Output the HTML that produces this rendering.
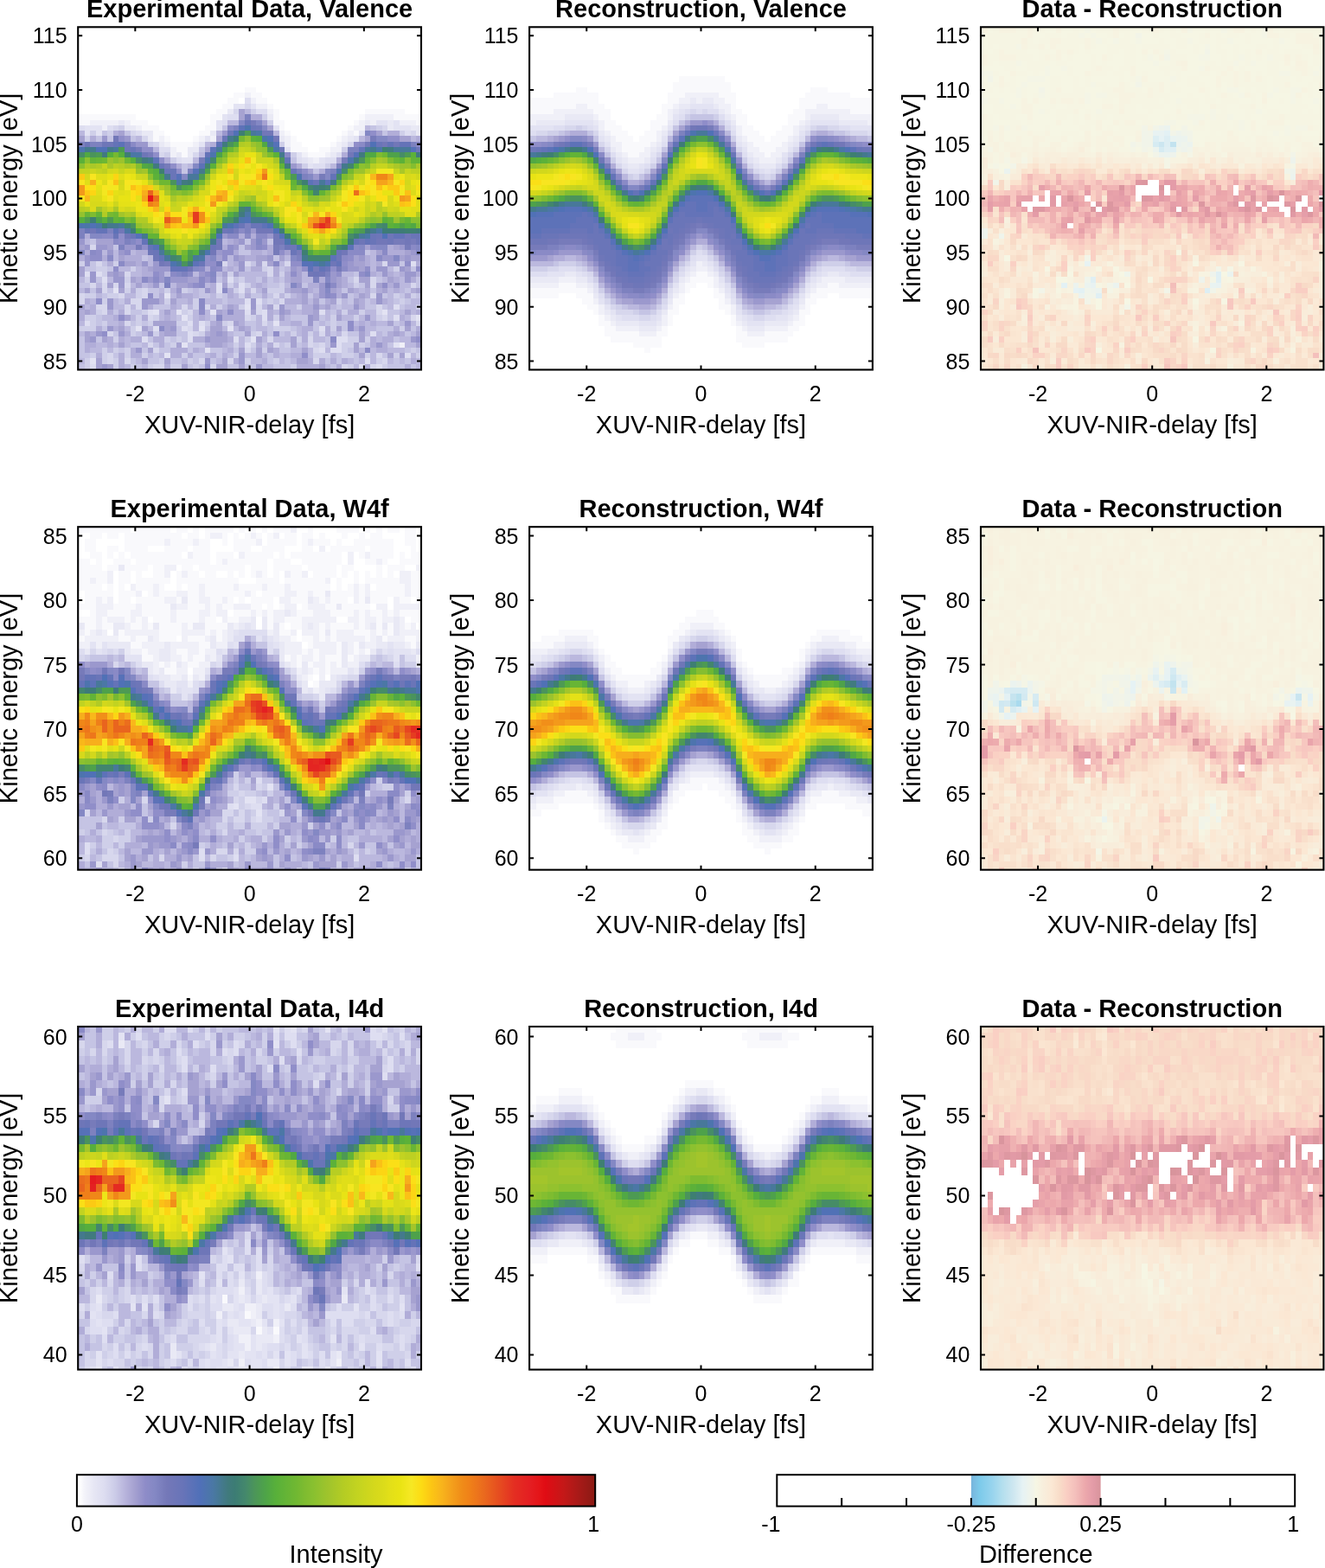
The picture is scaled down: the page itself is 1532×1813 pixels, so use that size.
<!DOCTYPE html>
<html><head><meta charset="utf-8"><title>Streaking spectrograms</title>
<style>
html,body{margin:0;padding:0;background:#fff;}
svg{display:block;}
.tk{font-family:"Liberation Sans",Arial,sans-serif;font-size:25px;fill:#000;}
.lb{font-family:"Liberation Sans",Arial,sans-serif;font-size:29px;fill:#000;}
.tt{font-family:"Liberation Sans",Arial,sans-serif;font-size:29px;font-weight:bold;fill:#000;}
</style></head><body>
<svg width="1532" height="1813" viewBox="0 0 1532 1813" shape-rendering="crispEdges">
<rect width="1532" height="1813" fill="#fff"/>
<g shape-rendering="crispEdges">
<clipPath id="c00"><rect x="90.20" y="31.30" width="396.80" height="396.20"/></clipPath>
<g clip-path="url(#c00)"><g transform="translate(84.587 25.675) scale(6.61333 6.27000)">
<rect x="0" y="0" width="61" height="65" fill="#bbb8de"/>
<path fill="#ffffff" d="M0 0h61v1h-61zM0 1h61v1h-61zM0 2h61v1h-61zM0 3h61v1h-61zM0 4h61v1h-61zM0 5h61v1h-61zM0 6h61v1h-61zM0 7h61v1h-61zM0 8h61v1h-61zM0 9h61v1h-61zM0 10h61v1h-61zM0 11h61v1h-61zM0 12h30v1h-30zM32 12h29v1h-29zM0 13h28v1h-28zM33 13h28v1h-28zM0 14h27v1h-27zM29 14h1v1h-1zM34 14h27v1h-27zM0 15h26v1h-26zM35 15h26v1h-26zM0 16h25v1h-25zM36 16h15v1h-15zM58 16h3v1h-3zM11 17h13v1h-13zM36 17h14v1h-14zM13 18h11v1h-11zM37 18h12v1h-12zM15 19h8v1h-8zM37 19h11v1h-11zM16 20h6v1h-6zM38 20h9v1h-9zM17 21h4v1h-4zM39 21h7v1h-7zM40 22h5v1h-5zM41 23h2v1h-2z"/>
<path fill="#f9f9fc" d="M30 12h2v1h-2zM28 13h2v1h-2zM31 13h2v1h-2zM27 14h2v1h-2zM32 14h2v1h-2zM26 15h2v1h-2zM34 15h1v1h-1zM25 16h2v1h-2zM35 16h1v1h-1zM51 16h7v1h-7zM0 17h11v1h-11zM24 17h2v1h-2zM35 17h1v1h-1zM50 17h1v1h-1zM56 17h5v1h-5zM0 18h3v1h-3zM10 18h3v1h-3zM24 18h1v1h-1zM35 18h2v1h-2zM49 18h1v1h-1zM60 18h1v1h-1zM12 19h3v1h-3zM23 19h2v1h-2zM36 19h1v1h-1zM48 19h1v1h-1zM14 20h2v1h-2zM22 20h2v1h-2zM37 20h1v1h-1zM47 20h1v1h-1zM49 20h1v1h-1zM14 21h1v1h-1zM16 21h1v1h-1zM21 21h1v1h-1zM38 21h1v1h-1zM46 21h1v1h-1zM17 22h4v1h-4zM38 22h2v1h-2zM45 22h1v1h-1zM18 23h2v1h-2zM38 23h3v1h-3zM43 23h2v1h-2zM19 24h1v1h-1zM41 24h3v1h-3z"/>
<path fill="#f0f0f8" d="M30 13h1v1h-1zM31 14h1v1h-1zM32 15h2v1h-2zM34 16h1v1h-1zM51 17h5v1h-5zM3 18h5v1h-5zM9 18h1v1h-1zM50 18h1v1h-1zM52 18h1v1h-1zM57 18h3v1h-3zM0 19h1v1h-1zM5 19h1v1h-1zM11 19h1v1h-1zM49 19h2v1h-2zM36 20h1v1h-1zM48 20h1v1h-1zM15 21h1v1h-1zM22 21h1v1h-1zM24 21h1v1h-1zM37 21h1v1h-1zM47 21h1v1h-1zM16 22h1v1h-1zM21 22h1v1h-1zM37 22h1v1h-1zM46 22h1v1h-1zM17 23h1v1h-1zM45 23h2v1h-2zM17 24h1v1h-1zM40 24h1v1h-1zM44 24h1v1h-1zM42 25h1v1h-1zM57 59h1v1h-1z"/>
<path fill="#dedef1" d="M30 14h1v1h-1zM32 16h2v1h-2zM27 17h2v1h-2zM26 18h1v1h-1zM1 19h1v1h-1zM6 19h1v1h-1zM0 20h1v1h-1zM11 20h1v1h-1zM58 20h1v1h-1zM15 23h2v1h-2zM46 24h1v1h-1zM18 25h1v1h-1zM39 25h1v1h-1zM44 25h2v1h-2zM42 26h2v1h-2zM59 44h1v1h-1zM2 46h1v1h-1zM4 46h1v1h-1zM5 47h1v1h-1zM27 47h1v1h-1zM25 48h1v1h-1zM29 48h1v1h-1zM25 49h1v1h-1zM29 49h1v1h-1zM30 51h1v1h-1zM32 51h1v1h-1zM56 52h1v1h-1zM13 53h1v1h-1zM30 53h1v1h-1zM33 53h1v1h-1zM43 53h1v1h-1zM33 54h1v1h-1zM56 54h1v1h-1zM2 55h1v1h-1zM20 55h1v1h-1zM22 55h1v1h-1zM14 56h1v1h-1zM19 56h1v1h-1zM43 56h1v1h-1zM20 57h1v1h-1zM52 57h1v1h-1zM12 58h1v1h-1zM20 58h1v1h-1zM28 58h1v1h-1zM46 58h2v1h-2zM30 59h1v1h-1zM46 59h1v1h-1zM43 60h1v1h-1zM45 60h2v1h-2zM58 61h1v1h-1zM51 62h1v1h-1zM3 63h1v1h-1zM50 63h1v1h-1zM53 63h1v1h-1zM12 64h1v1h-1zM28 64h1v1h-1zM56 64h1v1h-1z"/>
<path fill="#e3e3f3" d="M28 15h2v1h-2zM31 15h1v1h-1zM26 17h1v1h-1zM25 18h1v1h-1zM53 18h2v1h-2zM56 18h1v1h-1zM2 19h3v1h-3zM25 19h1v1h-1zM35 19h1v1h-1zM56 19h3v1h-3zM2 20h1v1h-1zM4 20h1v1h-1zM50 20h1v1h-1zM23 21h1v1h-1zM49 21h1v1h-1zM22 22h1v1h-1zM37 23h1v1h-1zM39 24h1v1h-1zM19 25h2v1h-2zM40 25h1v1h-1zM43 25h1v1h-1zM41 26h1v1h-1zM7 49h1v1h-1zM16 50h1v1h-1zM30 52h1v1h-1zM14 53h1v1h-1zM18 53h1v1h-1zM24 53h1v1h-1zM54 53h1v1h-1zM19 54h1v1h-1zM60 54h1v1h-1zM35 55h1v1h-1zM11 56h1v1h-1zM22 56h1v1h-1zM27 56h1v1h-1zM31 58h1v1h-1zM19 59h1v1h-1zM56 59h1v1h-1zM23 60h1v1h-1zM16 61h1v1h-1zM3 62h1v1h-1z"/>
<path fill="#d7d7ed" d="M30 15h1v1h-1zM28 16h1v1h-1zM7 19h1v1h-1zM54 19h1v1h-1zM10 20h1v1h-1zM59 20h1v1h-1zM12 21h1v1h-1zM14 22h1v1h-1zM48 22h1v1h-1zM15 24h1v1h-1zM21 24h1v1h-1zM3 41h1v1h-1zM4 44h1v1h-1zM26 44h1v1h-1zM30 44h1v1h-1zM33 44h1v1h-1zM37 44h1v1h-1zM54 44h1v1h-1zM34 45h1v1h-1zM9 46h1v1h-1zM34 46h1v1h-1zM49 47h1v1h-1zM52 47h1v1h-1zM3 48h1v1h-1zM5 48h1v1h-1zM7 48h1v1h-1zM9 48h1v1h-1zM52 48h1v1h-1zM59 48h1v1h-1zM5 49h1v1h-1zM12 49h1v1h-1zM31 49h1v1h-1zM0 50h2v1h-2zM8 50h1v1h-1zM12 50h1v1h-1zM35 50h1v1h-1zM52 50h1v1h-1zM1 51h1v1h-1zM10 51h2v1h-2zM36 51h1v1h-1zM4 52h2v1h-2zM9 52h1v1h-1zM11 52h1v1h-1zM19 52h1v1h-1zM23 52h1v1h-1zM32 52h1v1h-1zM35 52h1v1h-1zM53 52h1v1h-1zM5 53h1v1h-1zM9 53h1v1h-1zM20 53h1v1h-1zM32 53h1v1h-1zM53 53h1v1h-1zM13 54h1v1h-1zM30 54h1v1h-1zM54 54h1v1h-1zM59 54h1v1h-1zM9 55h1v1h-1zM27 55h1v1h-1zM33 55h1v1h-1zM60 55h1v1h-1zM20 56h1v1h-1zM6 57h1v1h-1zM21 57h1v1h-1zM32 57h1v1h-1zM43 57h1v1h-1zM47 57h1v1h-1zM34 58h1v1h-1zM41 58h1v1h-1zM13 59h1v1h-1zM35 59h1v1h-1zM41 59h1v1h-1zM43 59h1v1h-1zM14 60h1v1h-1zM30 60h1v1h-1zM42 60h1v1h-1zM6 61h1v1h-1zM53 61h1v1h-1zM6 62h1v1h-1zM9 62h1v1h-1zM22 62h1v1h-1zM27 62h1v1h-1zM42 62h1v1h-1zM54 62h1v1h-1zM14 63h2v1h-2zM24 63h1v1h-1zM47 63h1v1h-1zM52 63h1v1h-1zM11 64h1v1h-1zM20 64h1v1h-1zM38 64h1v1h-1zM44 64h1v1h-1zM59 64h1v1h-1z"/>
<path fill="#e9e9f5" d="M27 16h1v1h-1zM34 17h1v1h-1zM8 18h1v1h-1zM51 18h1v1h-1zM55 18h1v1h-1zM9 19h2v1h-2zM55 19h1v1h-1zM59 19h2v1h-2zM12 20h2v1h-2zM24 20h1v1h-1zM60 20h1v1h-1zM13 21h1v1h-1zM36 21h1v1h-1zM48 21h1v1h-1zM15 22h1v1h-1zM47 22h1v1h-1zM20 23h2v1h-2zM18 24h1v1h-1zM20 24h1v1h-1zM45 24h1v1h-1zM41 25h1v1h-1z"/>
<path fill="#a6a2d1" d="M29 16h1v1h-1zM29 17h1v1h-1zM33 18h1v1h-1zM34 19h1v1h-1zM8 20h1v1h-1zM53 20h1v1h-1zM1 21h1v1h-1zM25 21h1v1h-1zM51 21h1v1h-1zM57 21h2v1h-2zM23 23h1v1h-1zM41 27h1v1h-1zM4 40h3v1h-3zM28 40h1v1h-1zM1 41h1v1h-1zM6 41h1v1h-1zM30 41h1v1h-1zM51 41h1v1h-1zM56 41h1v1h-1zM37 42h1v1h-1zM53 42h1v1h-1zM58 42h1v1h-1zM0 43h1v1h-1zM8 43h1v1h-1zM25 43h1v1h-1zM29 43h1v1h-1zM32 43h2v1h-2zM36 43h1v1h-1zM49 43h1v1h-1zM57 43h1v1h-1zM59 43h2v1h-2zM9 44h2v1h-2zM32 44h1v1h-1zM34 44h1v1h-1zM49 44h2v1h-2zM1 45h1v1h-1zM13 45h1v1h-1zM39 45h1v1h-1zM50 45h1v1h-1zM58 45h1v1h-1zM1 46h1v1h-1zM6 46h1v1h-1zM8 46h1v1h-1zM26 46h1v1h-1zM28 46h1v1h-1zM39 46h1v1h-1zM10 47h1v1h-1zM20 47h2v1h-2zM38 47h2v1h-2zM46 47h1v1h-1zM50 47h2v1h-2zM55 47h1v1h-1zM6 48h1v1h-1zM11 48h1v1h-1zM18 48h2v1h-2zM26 48h1v1h-1zM46 48h1v1h-1zM51 48h1v1h-1zM53 48h1v1h-1zM2 49h1v1h-1zM4 49h1v1h-1zM8 49h1v1h-1zM33 49h1v1h-1zM38 49h2v1h-2zM45 49h1v1h-1zM48 49h1v1h-1zM54 49h1v1h-1zM60 49h1v1h-1zM18 50h1v1h-1zM40 50h1v1h-1zM50 50h1v1h-1zM17 51h1v1h-1zM40 51h1v1h-1zM42 51h1v1h-1zM45 51h1v1h-1zM49 51h1v1h-1zM1 52h1v1h-1zM27 52h1v1h-1zM34 52h1v1h-1zM44 52h1v1h-1zM2 53h1v1h-1zM16 53h1v1h-1zM25 53h1v1h-1zM31 53h1v1h-1zM37 53h1v1h-1zM42 53h1v1h-1zM58 53h1v1h-1zM0 54h1v1h-1zM9 54h1v1h-1zM36 54h1v1h-1zM42 54h1v1h-1zM46 54h1v1h-1zM14 55h4v1h-4zM25 55h1v1h-1zM28 55h1v1h-1zM55 55h1v1h-1zM8 56h1v1h-1zM12 56h1v1h-1zM16 56h1v1h-1zM24 56h2v1h-2zM29 56h1v1h-1zM46 56h1v1h-1zM58 56h1v1h-1zM2 57h1v1h-1zM16 57h2v1h-2zM24 57h1v1h-1zM26 57h1v1h-1zM30 57h1v1h-1zM50 57h1v1h-1zM56 57h1v1h-1zM60 57h1v1h-1zM2 58h1v1h-1zM5 58h1v1h-1zM24 58h3v1h-3zM32 58h1v1h-1zM38 58h1v1h-1zM50 58h1v1h-1zM8 59h1v1h-1zM18 59h1v1h-1zM24 59h2v1h-2zM38 59h1v1h-1zM49 59h1v1h-1zM60 59h1v1h-1zM13 60h1v1h-1zM29 60h1v1h-1zM32 60h1v1h-1zM34 60h1v1h-1zM40 60h1v1h-1zM49 60h1v1h-1zM32 61h1v1h-1zM50 61h1v1h-1zM55 61h1v1h-1zM57 61h1v1h-1zM4 62h1v1h-1zM12 62h1v1h-1zM16 62h1v1h-1zM26 62h1v1h-1zM39 62h2v1h-2zM4 63h1v1h-1zM6 63h1v1h-1zM19 63h1v1h-1zM25 63h2v1h-2zM29 63h1v1h-1zM43 63h1v1h-1zM6 64h1v1h-1zM14 64h1v1h-1zM55 64h1v1h-1z"/>
<path fill="#cfcfe9" d="M31 16h1v1h-1zM33 17h1v1h-1zM34 18h1v1h-1zM8 19h1v1h-1zM53 19h1v1h-1zM3 20h1v1h-1zM6 20h1v1h-1zM57 20h1v1h-1zM2 21h1v1h-1zM13 22h1v1h-1zM36 22h1v1h-1zM47 23h1v1h-1zM16 24h1v1h-1zM38 24h1v1h-1zM17 25h1v1h-1zM40 26h1v1h-1zM44 26h1v1h-1zM0 41h1v1h-1zM1 44h1v1h-1zM7 44h1v1h-1zM0 45h1v1h-1zM4 45h2v1h-2zM10 45h1v1h-1zM33 45h1v1h-1zM56 45h1v1h-1zM0 46h1v1h-1zM5 46h1v1h-1zM27 46h1v1h-1zM36 46h1v1h-1zM2 47h1v1h-1zM9 47h1v1h-1zM29 47h1v1h-1zM27 48h1v1h-1zM30 48h1v1h-1zM36 48h1v1h-1zM49 48h1v1h-1zM9 49h1v1h-1zM11 49h1v1h-1zM16 49h1v1h-1zM19 49h1v1h-1zM28 49h1v1h-1zM34 49h3v1h-3zM2 50h2v1h-2zM6 50h2v1h-2zM11 50h1v1h-1zM25 50h1v1h-1zM29 50h1v1h-1zM37 50h1v1h-1zM56 50h1v1h-1zM59 50h1v1h-1zM0 51h1v1h-1zM5 51h1v1h-1zM16 51h1v1h-1zM21 51h1v1h-1zM34 51h1v1h-1zM46 51h1v1h-1zM57 51h1v1h-1zM21 52h1v1h-1zM25 52h1v1h-1zM29 52h1v1h-1zM39 52h1v1h-1zM60 52h1v1h-1zM4 53h1v1h-1zM12 53h1v1h-1zM19 53h1v1h-1zM47 53h1v1h-1zM50 53h1v1h-1zM2 54h2v1h-2zM11 54h1v1h-1zM14 54h1v1h-1zM20 54h1v1h-1zM31 54h1v1h-1zM35 54h1v1h-1zM45 54h1v1h-1zM49 54h1v1h-1zM53 54h1v1h-1zM3 55h1v1h-1zM5 55h1v1h-1zM11 55h1v1h-1zM13 55h1v1h-1zM18 55h2v1h-2zM23 55h1v1h-1zM26 55h1v1h-1zM45 55h1v1h-1zM1 56h3v1h-3zM10 56h1v1h-1zM35 56h3v1h-3zM45 56h1v1h-1zM57 56h1v1h-1zM10 57h1v1h-1zM14 57h1v1h-1zM22 57h1v1h-1zM31 57h1v1h-1zM38 57h1v1h-1zM41 57h1v1h-1zM7 58h1v1h-1zM16 58h1v1h-1zM18 58h1v1h-1zM30 58h1v1h-1zM39 58h1v1h-1zM48 58h2v1h-2zM51 58h1v1h-1zM17 59h1v1h-1zM28 59h1v1h-1zM31 59h1v1h-1zM37 59h1v1h-1zM42 59h1v1h-1zM47 59h2v1h-2zM50 59h1v1h-1zM5 60h1v1h-1zM7 60h1v1h-1zM9 60h1v1h-1zM33 60h1v1h-1zM47 60h1v1h-1zM59 60h1v1h-1zM3 61h1v1h-1zM5 61h1v1h-1zM9 61h1v1h-1zM12 61h1v1h-1zM19 61h1v1h-1zM28 61h1v1h-1zM42 61h3v1h-3zM47 61h2v1h-2zM51 61h1v1h-1zM56 61h1v1h-1zM60 61h1v1h-1zM0 62h1v1h-1zM2 62h1v1h-1zM5 62h1v1h-1zM7 62h1v1h-1zM15 62h1v1h-1zM20 62h1v1h-1zM30 62h1v1h-1zM35 62h1v1h-1zM53 62h1v1h-1zM2 63h1v1h-1zM7 63h1v1h-1zM10 63h1v1h-1zM13 63h1v1h-1zM17 63h2v1h-2zM21 63h1v1h-1zM38 63h1v1h-1zM48 63h1v1h-1zM54 63h1v1h-1zM17 64h2v1h-2zM29 64h2v1h-2zM37 64h1v1h-1zM40 64h1v1h-1zM43 64h1v1h-1zM50 64h1v1h-1zM52 64h2v1h-2z"/>
<path fill="#7d81bf" d="M30 17h1v1h-1zM28 19h1v1h-1zM1 22h1v1h-1zM3 22h2v1h-2zM59 22h1v1h-1zM48 23h2v1h-2zM46 26h1v1h-1zM20 27h1v1h-1zM39 27h1v1h-1zM45 27h1v1h-1zM40 28h1v1h-1zM30 37h1v1h-1zM1 38h1v1h-1zM6 38h1v1h-1zM30 38h1v1h-1zM1 39h1v1h-1zM9 40h1v1h-1zM8 41h1v1h-1zM36 41h1v1h-1zM39 43h1v1h-1zM19 46h1v1h-1zM44 46h1v1h-1zM42 47h1v1h-1zM16 48h1v1h-1z"/>
<path fill="#b1add8" d="M31 17h2v1h-2zM7 20h1v1h-1zM55 20h2v1h-2zM3 21h1v1h-1zM60 21h1v1h-1zM24 22h1v1h-1zM47 24h1v1h-1zM16 25h1v1h-1zM46 25h1v1h-1zM18 26h1v1h-1zM39 26h1v1h-1zM43 27h1v1h-1zM2 39h1v1h-1zM29 39h1v1h-1zM31 39h1v1h-1zM27 40h1v1h-1zM26 41h1v1h-1zM34 41h1v1h-1zM55 41h1v1h-1zM2 42h1v1h-1zM11 42h2v1h-2zM28 42h1v1h-1zM31 42h2v1h-2zM34 42h1v1h-1zM55 42h3v1h-3zM1 43h1v1h-1zM5 43h1v1h-1zM9 43h3v1h-3zM30 43h2v1h-2zM51 43h1v1h-1zM0 44h1v1h-1zM6 44h1v1h-1zM11 44h1v1h-1zM28 44h1v1h-1zM51 44h1v1h-1zM53 44h1v1h-1zM60 44h1v1h-1zM12 45h1v1h-1zM23 45h1v1h-1zM27 45h1v1h-1zM31 45h2v1h-2zM35 45h1v1h-1zM12 46h2v1h-2zM35 46h1v1h-1zM37 46h1v1h-1zM52 46h1v1h-1zM55 46h1v1h-1zM57 46h1v1h-1zM60 46h1v1h-1zM11 47h1v1h-1zM26 47h1v1h-1zM33 47h1v1h-1zM37 47h1v1h-1zM43 47h1v1h-1zM47 47h1v1h-1zM56 47h1v1h-1zM59 47h1v1h-1zM13 48h1v1h-1zM24 48h1v1h-1zM32 48h1v1h-1zM41 48h2v1h-2zM47 48h1v1h-1zM55 48h1v1h-1zM10 49h1v1h-1zM17 49h1v1h-1zM24 49h1v1h-1zM27 49h1v1h-1zM37 49h1v1h-1zM41 49h1v1h-1zM46 49h1v1h-1zM49 49h1v1h-1zM51 49h1v1h-1zM53 49h1v1h-1zM56 49h1v1h-1zM59 49h1v1h-1zM15 50h1v1h-1zM19 50h2v1h-2zM27 50h1v1h-1zM30 50h1v1h-1zM33 50h1v1h-1zM39 50h1v1h-1zM42 50h1v1h-1zM46 50h1v1h-1zM51 50h1v1h-1zM58 50h1v1h-1zM2 51h1v1h-1zM9 51h1v1h-1zM15 51h1v1h-1zM20 51h1v1h-1zM37 51h3v1h-3zM44 51h1v1h-1zM50 51h1v1h-1zM54 51h1v1h-1zM3 52h1v1h-1zM13 52h1v1h-1zM17 52h1v1h-1zM24 52h1v1h-1zM28 52h1v1h-1zM40 52h2v1h-2zM43 52h1v1h-1zM50 52h1v1h-1zM0 53h2v1h-2zM3 53h1v1h-1zM6 53h1v1h-1zM8 53h1v1h-1zM26 53h1v1h-1zM28 53h2v1h-2zM34 53h1v1h-1zM40 53h2v1h-2zM46 53h1v1h-1zM48 53h2v1h-2zM60 53h1v1h-1zM1 54h1v1h-1zM7 54h1v1h-1zM12 54h1v1h-1zM16 54h1v1h-1zM22 54h1v1h-1zM26 54h4v1h-4zM34 54h1v1h-1zM57 54h1v1h-1zM8 55h1v1h-1zM24 55h1v1h-1zM29 55h1v1h-1zM38 55h2v1h-2zM50 55h1v1h-1zM52 55h1v1h-1zM0 56h1v1h-1zM4 56h1v1h-1zM7 56h1v1h-1zM30 56h1v1h-1zM40 56h2v1h-2zM44 56h1v1h-1zM49 56h1v1h-1zM56 56h1v1h-1zM60 56h1v1h-1zM3 57h1v1h-1zM9 57h1v1h-1zM15 57h1v1h-1zM23 57h1v1h-1zM33 57h1v1h-1zM40 57h1v1h-1zM44 57h1v1h-1zM55 57h1v1h-1zM57 57h1v1h-1zM0 58h1v1h-1zM6 58h1v1h-1zM8 58h1v1h-1zM10 58h2v1h-2zM14 58h2v1h-2zM21 58h2v1h-2zM27 58h1v1h-1zM40 58h1v1h-1zM52 58h1v1h-1zM54 58h2v1h-2zM0 59h1v1h-1zM2 59h2v1h-2zM6 59h1v1h-1zM15 59h1v1h-1zM23 59h1v1h-1zM26 59h1v1h-1zM32 59h1v1h-1zM34 59h1v1h-1zM52 59h1v1h-1zM54 59h1v1h-1zM2 60h1v1h-1zM10 60h1v1h-1zM17 60h3v1h-3zM21 60h1v1h-1zM27 60h1v1h-1zM35 60h1v1h-1zM53 60h2v1h-2zM4 61h1v1h-1zM8 61h1v1h-1zM10 61h2v1h-2zM17 61h2v1h-2zM20 61h1v1h-1zM24 61h1v1h-1zM26 61h1v1h-1zM35 61h1v1h-1zM38 61h2v1h-2zM8 62h1v1h-1zM28 62h1v1h-1zM33 62h1v1h-1zM41 62h1v1h-1zM43 62h1v1h-1zM45 62h1v1h-1zM47 62h1v1h-1zM59 62h1v1h-1zM8 63h1v1h-1zM16 63h1v1h-1zM39 63h4v1h-4zM46 63h1v1h-1zM51 63h1v1h-1zM58 63h1v1h-1zM5 64h1v1h-1zM16 64h1v1h-1zM36 64h1v1h-1zM46 64h1v1h-1zM58 64h1v1h-1z"/>
<path fill="#8488c4" d="M29 18h1v1h-1zM32 18h1v1h-1zM33 19h1v1h-1zM51 20h1v1h-1zM53 21h2v1h-2zM21 26h1v1h-1zM44 27h1v1h-1zM19 28h1v1h-1zM41 28h1v1h-1zM44 28h1v1h-1zM3 39h2v1h-2zM10 40h1v1h-1zM32 40h1v1h-1zM50 41h1v1h-1zM53 41h2v1h-2zM60 41h1v1h-1zM1 42h1v1h-1zM60 42h1v1h-1zM24 43h1v1h-1zM38 43h1v1h-1zM56 43h1v1h-1zM21 45h1v1h-1zM18 46h1v1h-1zM24 46h1v1h-1zM51 46h1v1h-1zM16 47h1v1h-1zM44 47h1v1h-1zM38 48h1v1h-1zM44 49h1v1h-1z"/>
<path fill="#6a75b8" d="M30 18h1v1h-1zM31 19h1v1h-1zM26 21h1v1h-1zM53 22h1v1h-1zM10 23h1v1h-1zM15 26h1v1h-1zM16 27h2v1h-2zM38 27h1v1h-1zM17 28h1v1h-1zM42 29h1v1h-1zM29 37h1v1h-1zM31 37h2v1h-2zM2 38h1v1h-1zM27 38h1v1h-1zM7 39h1v1h-1zM10 39h1v1h-1zM52 39h1v1h-1zM59 39h2v1h-2zM52 40h1v1h-1zM24 41h1v1h-1zM14 42h1v1h-1zM38 42h1v1h-1zM46 42h1v1h-1zM22 44h1v1h-1z"/>
<path fill="#777bba" d="M31 18h1v1h-1zM52 21h1v1h-1zM11 23h1v1h-1zM13 24h1v1h-1zM22 25h1v1h-1zM47 25h1v1h-1zM16 26h1v1h-1zM43 28h1v1h-1zM28 38h1v1h-1zM56 40h2v1h-2zM59 40h1v1h-1zM11 41h1v1h-1zM35 41h1v1h-1zM58 41h1v1h-1zM35 42h1v1h-1zM39 42h1v1h-1zM16 44h1v1h-1zM25 44h1v1h-1zM42 45h1v1h-1zM46 45h1v1h-1zM44 48h1v1h-1z"/>
<path fill="#c5c4e4" d="M26 19h1v1h-1zM52 19h1v1h-1zM5 20h1v1h-1zM9 20h1v1h-1zM54 20h1v1h-1zM4 21h1v1h-1zM6 21h1v1h-1zM10 21h1v1h-1zM22 23h1v1h-1zM38 25h1v1h-1zM19 26h1v1h-1zM19 27h1v1h-1zM42 27h1v1h-1zM3 40h1v1h-1zM30 40h1v1h-1zM34 40h1v1h-1zM7 41h1v1h-1zM29 41h1v1h-1zM29 42h2v1h-2zM51 42h1v1h-1zM12 43h1v1h-1zM35 43h1v1h-1zM3 44h1v1h-1zM5 44h1v1h-1zM31 44h1v1h-1zM57 44h1v1h-1zM2 45h2v1h-2zM6 45h1v1h-1zM30 45h1v1h-1zM36 45h1v1h-1zM59 45h1v1h-1zM49 46h1v1h-1zM4 47h1v1h-1zM25 47h1v1h-1zM28 47h1v1h-1zM32 47h1v1h-1zM34 47h1v1h-1zM36 47h1v1h-1zM48 47h1v1h-1zM53 47h1v1h-1zM60 47h1v1h-1zM1 48h2v1h-2zM15 48h1v1h-1zM34 48h2v1h-2zM40 48h1v1h-1zM50 48h1v1h-1zM60 48h1v1h-1zM3 49h1v1h-1zM6 49h1v1h-1zM13 49h2v1h-2zM20 49h1v1h-1zM22 49h1v1h-1zM47 49h1v1h-1zM52 49h1v1h-1zM58 49h1v1h-1zM5 50h1v1h-1zM14 50h1v1h-1zM22 50h2v1h-2zM26 50h1v1h-1zM31 50h2v1h-2zM34 50h1v1h-1zM41 50h1v1h-1zM48 50h1v1h-1zM54 50h1v1h-1zM57 50h1v1h-1zM60 50h1v1h-1zM8 51h1v1h-1zM26 51h1v1h-1zM33 51h1v1h-1zM35 51h1v1h-1zM43 51h1v1h-1zM48 51h1v1h-1zM51 51h1v1h-1zM56 51h1v1h-1zM58 51h1v1h-1zM0 52h1v1h-1zM14 52h3v1h-3zM46 52h1v1h-1zM51 52h2v1h-2zM54 52h1v1h-1zM57 52h1v1h-1zM7 53h1v1h-1zM10 53h2v1h-2zM45 53h1v1h-1zM55 53h2v1h-2zM4 54h1v1h-1zM18 54h1v1h-1zM24 54h1v1h-1zM38 54h3v1h-3zM43 54h1v1h-1zM55 54h1v1h-1zM0 55h1v1h-1zM4 55h1v1h-1zM10 55h1v1h-1zM12 55h1v1h-1zM30 55h2v1h-2zM34 55h1v1h-1zM40 55h1v1h-1zM42 55h1v1h-1zM44 55h1v1h-1zM46 55h2v1h-2zM56 55h1v1h-1zM5 56h1v1h-1zM18 56h1v1h-1zM23 56h1v1h-1zM31 56h1v1h-1zM34 56h1v1h-1zM38 56h1v1h-1zM42 56h1v1h-1zM47 56h1v1h-1zM53 56h3v1h-3zM59 56h1v1h-1zM0 57h1v1h-1zM7 57h1v1h-1zM11 57h1v1h-1zM18 57h2v1h-2zM28 57h2v1h-2zM34 57h1v1h-1zM36 57h1v1h-1zM45 57h1v1h-1zM48 57h2v1h-2zM54 57h1v1h-1zM58 57h1v1h-1zM1 58h1v1h-1zM4 58h1v1h-1zM13 58h1v1h-1zM17 58h1v1h-1zM19 58h1v1h-1zM44 58h1v1h-1zM56 58h1v1h-1zM1 59h1v1h-1zM10 59h2v1h-2zM14 59h1v1h-1zM16 59h1v1h-1zM20 59h3v1h-3zM33 59h1v1h-1zM36 59h1v1h-1zM39 59h1v1h-1zM44 59h1v1h-1zM51 59h1v1h-1zM55 59h1v1h-1zM1 60h1v1h-1zM8 60h1v1h-1zM12 60h1v1h-1zM15 60h2v1h-2zM20 60h1v1h-1zM24 60h2v1h-2zM28 60h1v1h-1zM31 60h1v1h-1zM36 60h2v1h-2zM48 60h1v1h-1zM58 60h1v1h-1zM60 60h1v1h-1zM0 61h3v1h-3zM7 61h1v1h-1zM14 61h1v1h-1zM21 61h2v1h-2zM25 61h1v1h-1zM34 61h1v1h-1zM46 61h1v1h-1zM49 61h1v1h-1zM54 61h1v1h-1zM10 62h1v1h-1zM13 62h2v1h-2zM17 62h2v1h-2zM21 62h1v1h-1zM24 62h1v1h-1zM34 62h1v1h-1zM37 62h1v1h-1zM44 62h1v1h-1zM46 62h1v1h-1zM49 62h1v1h-1zM56 62h1v1h-1zM58 62h1v1h-1zM0 63h2v1h-2zM11 63h1v1h-1zM20 63h1v1h-1zM22 63h1v1h-1zM27 63h2v1h-2zM30 63h2v1h-2zM35 63h3v1h-3zM45 63h1v1h-1zM55 63h3v1h-3zM59 63h1v1h-1zM0 64h5v1h-5zM7 64h1v1h-1zM13 64h1v1h-1zM15 64h1v1h-1zM21 64h1v1h-1zM23 64h1v1h-1zM25 64h1v1h-1zM54 64h1v1h-1z"/>
<path fill="#8a8ac6" d="M27 19h1v1h-1zM10 22h1v1h-1zM50 22h1v1h-1zM60 22h1v1h-1zM37 24h1v1h-1zM29 38h1v1h-1zM5 39h2v1h-2zM27 39h2v1h-2zM30 39h1v1h-1zM32 39h2v1h-2zM7 40h1v1h-1zM32 41h1v1h-1zM49 41h1v1h-1zM52 41h1v1h-1zM59 41h1v1h-1zM3 42h1v1h-1zM48 42h3v1h-3zM54 42h1v1h-1zM6 43h1v1h-1zM47 43h1v1h-1zM53 43h1v1h-1zM8 44h1v1h-1zM35 44h1v1h-1zM22 45h1v1h-1zM24 45h1v1h-1zM47 45h1v1h-1zM17 46h1v1h-1zM20 46h1v1h-1zM12 47h1v1h-1zM14 47h1v1h-1zM22 47h1v1h-1zM24 47h1v1h-1zM22 48h1v1h-1zM45 48h1v1h-1zM26 49h1v1h-1zM44 50h1v1h-1zM22 51h1v1h-1zM22 52h1v1h-1zM25 54h1v1h-1zM15 56h1v1h-1zM45 58h1v1h-1zM51 60h1v1h-1z"/>
<path fill="#5d72b8" d="M29 19h1v1h-1zM8 22h1v1h-1zM25 22h1v1h-1zM24 23h1v1h-1zM14 25h1v1h-1zM22 26h1v1h-1zM41 29h1v1h-1zM44 29h1v1h-1zM28 37h1v1h-1zM33 37h1v1h-1zM7 38h1v1h-1zM48 41h1v1h-1zM45 43h1v1h-1zM21 44h1v1h-1zM41 45h1v1h-1z"/>
<path fill="#4d74ae" d="M30 19h1v1h-1zM1 23h1v1h-1zM24 24h1v1h-1zM23 25h1v1h-1zM48 25h1v1h-1zM46 27h1v1h-1zM39 28h1v1h-1zM29 36h1v1h-1zM1 37h1v1h-1zM27 37h1v1h-1zM37 40h1v1h-1zM39 41h1v1h-1zM23 42h1v1h-1zM17 44h1v1h-1zM42 44h1v1h-1zM44 44h1v1h-1z"/>
<path fill="#6e76b8" d="M32 19h1v1h-1zM27 20h1v1h-1zM2 22h1v1h-1zM5 22h2v1h-2zM9 23h1v1h-1zM36 23h1v1h-1zM60 23h1v1h-1zM12 24h1v1h-1zM26 38h1v1h-1zM53 39h1v1h-1zM55 39h1v1h-1zM50 40h1v1h-1zM55 40h1v1h-1zM60 40h1v1h-1zM37 41h2v1h-2zM13 42h1v1h-1zM14 43h1v1h-1zM46 43h1v1h-1zM45 44h1v1h-1zM44 45h1v1h-1zM42 46h1v1h-1z"/>
<path fill="#9b98cd" d="M26 20h1v1h-1zM0 21h1v1h-1zM5 21h1v1h-1zM9 21h1v1h-1zM11 22h2v1h-2zM38 26h1v1h-1zM42 28h1v1h-1zM31 38h1v1h-1zM26 39h1v1h-1zM34 39h1v1h-1zM0 40h2v1h-2zM29 40h1v1h-1zM31 40h1v1h-1zM33 40h1v1h-1zM2 41h1v1h-1zM4 41h2v1h-2zM9 41h2v1h-2zM28 41h1v1h-1zM31 41h1v1h-1zM57 41h1v1h-1zM6 42h1v1h-1zM8 42h1v1h-1zM25 42h1v1h-1zM59 42h1v1h-1zM2 43h1v1h-1zM28 43h1v1h-1zM34 43h1v1h-1zM50 43h1v1h-1zM54 43h2v1h-2zM58 43h1v1h-1zM2 44h1v1h-1zM12 44h1v1h-1zM14 44h1v1h-1zM29 44h1v1h-1zM48 44h1v1h-1zM55 44h2v1h-2zM14 45h3v1h-3zM29 45h1v1h-1zM38 45h1v1h-1zM48 45h2v1h-2zM53 45h2v1h-2zM57 45h1v1h-1zM3 46h1v1h-1zM7 46h1v1h-1zM15 46h1v1h-1zM22 46h1v1h-1zM45 46h1v1h-1zM54 46h1v1h-1zM58 46h2v1h-2zM0 47h1v1h-1zM3 47h1v1h-1zM7 47h2v1h-2zM13 47h1v1h-1zM15 47h1v1h-1zM17 47h3v1h-3zM23 47h1v1h-1zM45 47h1v1h-1zM58 47h1v1h-1zM0 48h1v1h-1zM8 48h1v1h-1zM14 48h1v1h-1zM20 48h1v1h-1zM39 48h1v1h-1zM43 48h1v1h-1zM56 48h1v1h-1zM18 49h1v1h-1zM23 49h1v1h-1zM40 49h1v1h-1zM43 49h1v1h-1zM43 50h1v1h-1zM47 50h1v1h-1zM53 50h1v1h-1zM6 51h1v1h-1zM12 51h3v1h-3zM31 51h1v1h-1zM53 51h1v1h-1zM6 52h1v1h-1zM12 52h1v1h-1zM31 52h1v1h-1zM36 52h1v1h-1zM42 52h1v1h-1zM49 52h1v1h-1zM36 53h1v1h-1zM41 54h1v1h-1zM51 54h1v1h-1zM41 55h1v1h-1zM58 55h1v1h-1zM6 56h1v1h-1zM17 56h1v1h-1zM50 56h1v1h-1zM4 57h1v1h-1zM8 57h1v1h-1zM13 57h1v1h-1zM25 57h1v1h-1zM3 58h1v1h-1zM23 58h1v1h-1zM59 58h1v1h-1zM45 59h1v1h-1zM53 59h1v1h-1zM11 60h1v1h-1zM29 61h1v1h-1zM23 62h1v1h-1zM29 62h1v1h-1zM5 63h1v1h-1zM32 63h1v1h-1zM8 64h2v1h-2z"/>
<path fill="#5071b6" d="M28 20h1v1h-1zM34 21h1v1h-1zM52 22h1v1h-1zM4 23h2v1h-2zM30 36h1v1h-1zM0 37h1v1h-1zM3 37h1v1h-1zM34 37h1v1h-1zM35 38h1v1h-1zM25 39h1v1h-1zM54 39h1v1h-1z"/>
<path fill="#3e7f72" d="M29 20h1v1h-1zM54 23h1v1h-1zM9 24h1v1h-1zM15 27h1v1h-1zM40 29h1v1h-1zM43 30h1v1h-1zM3 36h1v1h-1zM28 36h1v1h-1zM10 38h1v1h-1zM25 38h1v1h-1zM36 38h1v1h-1zM58 38h2v1h-2zM37 39h1v1h-1zM49 39h1v1h-1zM13 40h1v1h-1zM40 42h1v1h-1z"/>
<path fill="#4d9a53" d="M30 20h1v1h-1zM8 23h1v1h-1zM34 23h1v1h-1zM4 24h1v1h-1zM58 24h1v1h-1zM22 28h1v1h-1zM38 28h1v1h-1zM28 35h1v1h-1zM2 36h1v1h-1zM6 36h1v1h-1zM26 36h1v1h-1zM50 38h1v1h-1zM22 41h1v1h-1zM40 41h1v1h-1zM20 43h1v1h-1z"/>
<path fill="#48789a" d="M31 20h1v1h-1zM34 22h1v1h-1zM7 23h1v1h-1zM25 23h1v1h-1zM51 23h1v1h-1zM56 23h3v1h-3zM20 28h2v1h-2zM43 29h1v1h-1zM8 37h1v1h-1zM26 37h1v1h-1zM50 39h1v1h-1zM15 42h1v1h-1zM16 43h1v1h-1zM21 43h1v1h-1zM18 44h1v1h-1zM43 44h1v1h-1z"/>
<path fill="#4b77a6" d="M32 20h1v1h-1zM33 21h1v1h-1zM35 23h1v1h-1zM53 23h1v1h-1zM10 24h2v1h-2zM18 29h1v1h-1zM30 35h1v1h-1zM2 37h1v1h-1zM4 37h1v1h-1zM9 38h1v1h-1zM53 38h1v1h-1zM51 39h1v1h-1zM22 43h1v1h-1z"/>
<path fill="#7277b8" d="M33 20h2v1h-2zM7 21h1v1h-1zM35 21h1v1h-1zM9 22h1v1h-1zM51 22h1v1h-1zM54 22h1v1h-1zM56 22h1v1h-1zM48 24h1v1h-1zM0 38h1v1h-1zM3 38h1v1h-1zM8 38h1v1h-1zM32 38h3v1h-3zM0 39h1v1h-1zM9 39h1v1h-1zM35 39h1v1h-1zM58 39h1v1h-1zM25 40h1v1h-1zM35 40h2v1h-2zM53 40h2v1h-2zM58 40h1v1h-1zM25 41h1v1h-1zM24 42h1v1h-1zM47 42h1v1h-1zM15 44h1v1h-1zM20 45h1v1h-1zM41 46h1v1h-1zM43 46h1v1h-1z"/>
<path fill="#908ec9" d="M52 20h1v1h-1zM8 21h1v1h-1zM55 21h2v1h-2zM0 22h1v1h-1zM49 22h1v1h-1zM12 23h2v1h-2zM14 24h1v1h-1zM15 25h1v1h-1zM17 26h1v1h-1zM18 27h1v1h-1zM40 27h1v1h-1zM8 39h1v1h-1zM8 40h1v1h-1zM11 40h1v1h-1zM12 41h1v1h-1zM27 41h1v1h-1zM33 41h1v1h-1zM4 42h1v1h-1zM9 42h1v1h-1zM26 42h2v1h-2zM36 42h1v1h-1zM3 43h2v1h-2zM23 43h1v1h-1zM26 43h1v1h-1zM48 43h1v1h-1zM23 44h2v1h-2zM38 44h2v1h-2zM47 44h1v1h-1zM58 44h1v1h-1zM7 45h1v1h-1zM25 45h1v1h-1zM40 45h1v1h-1zM45 45h1v1h-1zM51 45h1v1h-1zM60 45h1v1h-1zM14 46h1v1h-1zM23 46h1v1h-1zM38 46h1v1h-1zM46 46h1v1h-1zM50 46h1v1h-1zM21 48h1v1h-1zM54 48h1v1h-1zM13 50h1v1h-1zM45 50h1v1h-1zM4 51h1v1h-1zM22 53h1v1h-1zM27 53h1v1h-1zM8 54h1v1h-1zM48 55h1v1h-1zM48 56h1v1h-1zM5 57h1v1h-1zM35 57h1v1h-1zM60 58h1v1h-1zM40 61h1v1h-1zM23 63h1v1h-1z"/>
<path fill="#44798d" d="M27 21h1v1h-1zM2 23h2v1h-2zM6 23h1v1h-1zM52 23h1v1h-1zM36 24h1v1h-1zM13 25h1v1h-1zM47 26h1v1h-1zM22 27h1v1h-1zM16 28h1v1h-1zM30 34h1v1h-1zM31 36h3v1h-3zM6 37h2v1h-2zM52 38h1v1h-1zM12 39h1v1h-1zM24 40h1v1h-1zM40 43h1v1h-1z"/>
<path fill="#3e7b77" d="M28 21h1v1h-1zM20 29h1v1h-1zM5 37h1v1h-1zM51 38h1v1h-1zM54 38h4v1h-4zM60 38h1v1h-1zM48 40h1v1h-1zM47 41h1v1h-1z"/>
<path fill="#76b931" d="M29 21h1v1h-1zM7 24h1v1h-1zM26 24h1v1h-1zM0 25h1v1h-1zM48 27h1v1h-1zM22 29h1v1h-1zM45 30h1v1h-1zM32 34h1v1h-1zM0 35h1v1h-1zM6 35h1v1h-1zM57 36h1v1h-1zM25 37h1v1h-1zM12 38h1v1h-1zM19 42h1v1h-1z"/>
<path fill="#94c22e" d="M30 21h1v1h-1zM32 23h1v1h-1zM26 25h1v1h-1zM36 27h1v1h-1zM23 28h1v1h-1zM48 28h1v1h-1zM14 29h1v1h-1zM27 34h1v1h-1zM1 35h1v1h-1zM26 35h1v1h-1zM54 35h1v1h-1zM53 36h1v1h-1zM11 37h1v1h-1zM49 37h1v1h-1zM47 39h1v1h-1zM16 40h1v1h-1zM40 40h1v1h-1zM41 41h1v1h-1zM44 41h1v1h-1z"/>
<path fill="#5cb139" d="M31 21h1v1h-1zM35 24h1v1h-1zM59 24h1v1h-1zM1 25h1v1h-1zM57 25h1v1h-1zM24 26h1v1h-1zM49 26h1v1h-1zM14 28h1v1h-1zM33 35h1v1h-1zM5 36h1v1h-1zM8 36h1v1h-1zM35 36h1v1h-1zM54 36h1v1h-1zM55 37h1v1h-1zM11 38h1v1h-1zM48 38h1v1h-1zM38 39h1v1h-1z"/>
<path fill="#56ae3d" d="M32 21h1v1h-1zM6 24h1v1h-1zM8 24h1v1h-1zM10 25h1v1h-1zM14 27h1v1h-1zM21 29h1v1h-1zM20 30h1v1h-1zM41 31h1v1h-1zM31 34h1v1h-1zM27 35h1v1h-1zM1 36h1v1h-1zM56 37h1v1h-1zM58 37h1v1h-1zM21 42h1v1h-1z"/>
<path fill="#6473b8" d="M7 22h1v1h-1zM55 22h1v1h-1zM57 22h2v1h-2zM50 23h1v1h-1zM23 24h1v1h-1zM37 25h1v1h-1zM45 28h1v1h-1zM4 38h2v1h-2zM56 39h2v1h-2zM12 40h1v1h-1zM49 40h1v1h-1zM51 40h1v1h-1zM13 41h1v1h-1zM15 43h1v1h-1zM46 44h1v1h-1zM17 45h3v1h-3zM43 45h1v1h-1z"/>
<path fill="#417a7f" d="M26 22h1v1h-1zM55 23h1v1h-1zM5 24h1v1h-1zM50 24h1v1h-1zM60 24h1v1h-1zM12 25h1v1h-1zM49 25h1v1h-1zM14 26h1v1h-1zM37 26h1v1h-1zM19 29h1v1h-1zM45 29h1v1h-1zM42 30h1v1h-1zM29 35h1v1h-1zM22 42h1v1h-1zM20 44h1v1h-1z"/>
<path fill="#4a935c" d="M27 22h1v1h-1zM3 24h1v1h-1zM36 25h1v1h-1zM50 25h1v1h-1zM17 29h1v1h-1zM39 29h1v1h-1zM18 30h1v1h-1zM31 35h1v1h-1zM0 36h1v1h-1zM27 36h1v1h-1zM10 37h1v1h-1zM35 37h1v1h-1zM14 40h1v1h-1zM23 41h1v1h-1zM16 42h1v1h-1zM45 42h1v1h-1zM19 44h1v1h-1z"/>
<path fill="#51a844" d="M28 22h1v1h-1zM33 22h1v1h-1zM2 24h1v1h-1zM51 24h2v1h-2zM12 26h1v1h-1zM19 30h1v1h-1zM40 30h1v1h-1zM59 37h1v1h-1zM45 41h1v1h-1zM17 42h1v1h-1zM41 42h1v1h-1z"/>
<path fill="#b1cb25" d="M29 22h1v1h-1zM27 24h1v1h-1zM2 26h1v1h-1zM4 26h1v1h-1zM10 26h1v1h-1zM47 29h1v1h-1zM15 30h1v1h-1zM22 30h1v1h-1zM21 31h1v1h-1zM45 31h1v1h-1zM28 33h1v1h-1zM5 35h1v1h-1zM9 35h1v1h-1zM35 35h1v1h-1zM52 35h1v1h-1zM60 35h1v1h-1zM11 36h2v1h-2zM47 38h1v1h-1zM18 41h1v1h-1zM43 41h1v1h-1z"/>
<path fill="#b7ce23" d="M30 22h1v1h-1zM31 23h1v1h-1zM28 24h1v1h-1zM8 26h1v1h-1zM52 26h1v1h-1zM55 26h1v1h-1zM23 29h1v1h-1zM19 32h1v1h-1zM33 33h1v1h-1zM42 33h1v1h-1zM0 34h2v1h-2zM53 34h1v1h-1zM25 36h1v1h-1zM37 37h1v1h-1zM48 37h1v1h-1zM17 40h1v1h-1z"/>
<path fill="#9cc32d" d="M31 22h1v1h-1zM33 24h1v1h-1zM6 25h1v1h-1zM8 25h1v1h-1zM57 26h2v1h-2zM11 27h1v1h-1zM49 27h2v1h-2zM16 30h1v1h-1zM31 32h1v1h-1zM43 32h1v1h-1zM33 34h1v1h-1zM51 36h1v1h-1zM56 36h1v1h-1zM24 37h1v1h-1zM14 38h1v1h-1zM18 42h1v1h-1z"/>
<path fill="#8cc12f" d="M32 22h1v1h-1zM28 23h1v1h-1zM33 23h1v1h-1zM2 25h1v1h-1zM7 25h1v1h-1zM1 26h1v1h-1zM50 26h1v1h-1zM13 28h1v1h-1zM18 31h1v1h-1zM20 31h1v1h-1zM41 32h2v1h-2zM52 36h1v1h-1zM59 36h2v1h-2zM45 40h2v1h-2zM17 41h1v1h-1zM20 41h1v1h-1z"/>
<path fill="#5671b8" d="M35 22h1v1h-1zM0 23h1v1h-1zM59 23h1v1h-1zM49 24h1v1h-1zM21 27h1v1h-1zM18 28h1v1h-1zM11 39h1v1h-1zM36 39h1v1h-1zM14 41h1v1h-1zM40 44h2v1h-2z"/>
<path fill="#4ea14b" d="M26 23h1v1h-1zM25 24h1v1h-1zM55 24h2v1h-2zM13 26h1v1h-1zM23 27h1v1h-1zM15 28h1v1h-1zM32 35h1v1h-1zM4 36h1v1h-1zM52 37h1v1h-1zM57 37h1v1h-1zM49 38h1v1h-1zM24 39h1v1h-1zM15 40h1v1h-1zM20 42h1v1h-1z"/>
<path fill="#6eb733" d="M27 23h1v1h-1zM54 24h1v1h-1zM5 25h1v1h-1zM9 25h1v1h-1zM37 28h1v1h-1zM15 29h2v1h-2zM17 30h1v1h-1zM38 30h1v1h-1zM7 35h1v1h-1zM34 35h1v1h-1zM10 36h1v1h-1zM36 37h1v1h-1zM24 38h1v1h-1zM23 40h1v1h-1zM42 42h1v1h-1z"/>
<path fill="#cdd61e" d="M29 23h1v1h-1zM32 24h1v1h-1zM27 25h1v1h-1zM32 25h3v1h-3zM3 27h1v1h-1zM52 27h1v1h-1zM12 28h1v1h-1zM50 28h1v1h-1zM48 29h1v1h-1zM30 31h1v1h-1zM32 31h1v1h-1zM7 33h1v1h-1zM18 33h1v1h-1zM51 33h1v1h-1zM6 34h1v1h-1zM17 34h2v1h-2zM56 34h1v1h-1zM14 37h1v1h-1zM23 38h1v1h-1zM18 40h1v1h-1z"/>
<path fill="#c7d51f" d="M30 23h1v1h-1zM5 26h1v1h-1zM35 26h1v1h-1zM53 26h2v1h-2zM8 27h1v1h-1zM56 27h1v1h-1zM58 27h1v1h-1zM49 28h1v1h-1zM29 31h1v1h-1zM39 31h1v1h-1zM45 32h1v1h-1zM25 34h1v1h-1zM35 34h1v1h-1zM51 34h1v1h-1zM51 35h1v1h-1zM38 37h1v1h-1zM47 37h1v1h-1zM39 38h1v1h-1zM16 39h1v1h-1zM40 39h1v1h-1zM19 40h2v1h-2z"/>
<path fill="#468c67" d="M0 24h2v1h-2zM57 24h1v1h-1zM11 25h1v1h-1zM47 27h1v1h-1zM46 28h1v1h-1zM34 36h1v1h-1zM53 37h1v1h-1zM48 39h1v1h-1zM38 40h1v1h-1zM18 43h1v1h-1z"/>
<path fill="#dbdb1a" d="M29 24h1v1h-1zM0 27h1v1h-1zM26 27h1v1h-1zM35 27h1v1h-1zM59 28h1v1h-1zM5 29h1v1h-1zM35 29h1v1h-1zM23 30h1v1h-1zM47 30h1v1h-1zM59 31h1v1h-1zM3 32h2v1h-2zM16 32h1v1h-1zM0 33h1v1h-1zM37 33h1v1h-1zM3 34h1v1h-1zM8 34h1v1h-1zM36 34h1v1h-1zM42 34h1v1h-1zM11 35h1v1h-1zM36 35h1v1h-1zM48 35h1v1h-1zM13 36h1v1h-1zM15 37h1v1h-1z"/>
<path fill="#e8e315" d="M30 24h2v1h-2zM29 25h1v1h-1zM28 26h1v1h-1zM31 26h1v1h-1zM6 28h1v1h-1zM10 28h1v1h-1zM12 29h1v1h-1zM26 29h1v1h-1zM59 29h1v1h-1zM36 30h1v1h-1zM37 31h1v1h-1zM54 31h2v1h-2zM0 32h1v1h-1zM8 32h2v1h-2zM37 32h1v1h-1zM52 32h1v1h-1zM2 33h1v1h-1zM10 33h1v1h-1zM16 33h1v1h-1zM34 33h1v1h-1zM36 33h1v1h-1zM39 33h1v1h-1zM49 33h1v1h-1zM46 34h1v1h-1zM49 35h1v1h-1zM37 36h2v1h-2zM39 37h1v1h-1zM16 38h1v1h-1zM18 39h1v1h-1zM44 39h1v1h-1z"/>
<path fill="#7ebc30" d="M34 24h1v1h-1zM53 24h1v1h-1zM25 25h1v1h-1zM55 25h1v1h-1zM47 28h1v1h-1zM19 31h1v1h-1zM31 33h1v1h-1zM3 35h1v1h-1zM9 36h1v1h-1zM60 37h1v1h-1zM37 38h1v1h-1zM39 39h1v1h-1zM21 41h1v1h-1z"/>
<path fill="#62b337" d="M3 25h1v1h-1zM59 25h2v1h-2zM36 26h1v1h-1zM13 27h1v1h-1zM37 27h1v1h-1zM38 29h1v1h-1zM43 31h1v1h-1zM29 33h2v1h-2zM4 35h1v1h-1zM7 36h1v1h-1zM51 37h1v1h-1zM13 39h2v1h-2zM39 40h1v1h-1zM43 42h2v1h-2z"/>
<path fill="#68b535" d="M4 25h1v1h-1zM51 25h1v1h-1zM56 25h1v1h-1zM46 29h1v1h-1zM2 35h1v1h-1zM55 36h1v1h-1zM58 36h1v1h-1zM47 40h1v1h-1zM16 41h1v1h-1zM19 43h1v1h-1z"/>
<path fill="#42856e" d="M24 25h1v1h-1zM23 26h1v1h-1zM48 26h1v1h-1zM41 30h1v1h-1zM44 30h1v1h-1zM42 31h1v1h-1zM29 34h1v1h-1zM9 37h1v1h-1zM54 37h1v1h-1zM15 41h1v1h-1zM46 41h1v1h-1zM17 43h1v1h-1zM41 43h4v1h-4z"/>
<path fill="#d2d81c" d="M28 25h1v1h-1zM26 26h1v1h-1zM6 27h1v1h-1zM25 27h1v1h-1zM11 28h1v1h-1zM24 28h1v1h-1zM28 28h1v1h-1zM60 28h1v1h-1zM8 29h1v1h-1zM37 29h1v1h-1zM58 29h1v1h-1zM33 31h1v1h-1zM28 32h1v1h-1zM33 32h1v1h-1zM1 33h1v1h-1zM19 33h1v1h-1zM40 33h1v1h-1zM44 33h1v1h-1zM9 34h1v1h-1zM15 34h1v1h-1zM49 34h1v1h-1zM55 34h1v1h-1zM24 36h1v1h-1zM15 38h1v1h-1zM46 38h1v1h-1zM19 39h1v1h-1zM21 39h1v1h-1zM45 39h1v1h-1zM44 40h1v1h-1z"/>
<path fill="#fbc116" d="M30 25h1v1h-1zM27 27h1v1h-1zM32 28h1v1h-1zM7 29h1v1h-1zM28 29h1v1h-1zM10 30h1v1h-1zM12 30h1v1h-1zM53 30h1v1h-1zM0 31h1v1h-1zM50 31h1v1h-1zM58 31h1v1h-1zM35 32h1v1h-1zM57 33h1v1h-1zM20 36h1v1h-1zM23 36h1v1h-1zM17 37h1v1h-1zM42 38h1v1h-1z"/>
<path fill="#f3e720" d="M31 25h1v1h-1zM30 26h1v1h-1zM53 27h3v1h-3zM30 28h1v1h-1zM51 28h1v1h-1zM11 29h1v1h-1zM25 29h1v1h-1zM29 29h1v1h-1zM6 30h2v1h-2zM9 30h1v1h-1zM48 30h1v1h-1zM50 30h1v1h-1zM5 31h1v1h-1zM24 31h1v1h-1zM35 31h2v1h-2zM47 31h1v1h-1zM57 31h1v1h-1zM60 31h1v1h-1zM27 32h1v1h-1zM36 32h1v1h-1zM47 32h1v1h-1zM50 32h1v1h-1zM23 33h1v1h-1zM25 33h1v1h-1zM35 33h1v1h-1zM46 33h1v1h-1zM54 33h1v1h-1zM19 34h1v1h-1zM24 34h1v1h-1zM19 35h1v1h-1zM41 35h1v1h-1zM14 36h1v1h-1zM46 36h1v1h-1zM42 40h1v1h-1z"/>
<path fill="#aac828" d="M35 25h1v1h-1zM53 25h1v1h-1zM3 26h1v1h-1zM6 26h1v1h-1zM9 26h1v1h-1zM25 26h1v1h-1zM56 26h1v1h-1zM60 26h1v1h-1zM24 27h1v1h-1zM57 27h1v1h-1zM16 31h1v1h-1zM17 32h1v1h-1zM30 32h1v1h-1zM32 33h1v1h-1zM7 34h1v1h-1zM34 34h1v1h-1zM10 35h1v1h-1zM13 37h1v1h-1zM21 40h1v1h-1z"/>
<path fill="#85be30" d="M52 25h1v1h-1zM58 25h1v1h-1zM11 26h1v1h-1zM51 26h1v1h-1zM59 26h1v1h-1zM21 30h1v1h-1zM39 30h1v1h-1zM17 31h1v1h-1zM40 31h1v1h-1zM44 31h1v1h-1zM28 34h1v1h-1zM50 37h1v1h-1zM13 38h1v1h-1zM38 38h1v1h-1zM22 40h1v1h-1z"/>
<path fill="#a3c52b" d="M54 25h1v1h-1zM12 27h1v1h-1zM46 30h1v1h-1zM44 32h1v1h-1zM4 34h1v1h-1zM8 35h1v1h-1zM12 37h1v1h-1zM23 39h1v1h-1z"/>
<path fill="#bdd022" d="M0 26h1v1h-1zM7 26h1v1h-1zM5 27h1v1h-1zM51 27h1v1h-1zM59 27h2v1h-2zM18 32h1v1h-1zM29 32h1v1h-1zM40 32h1v1h-1zM53 33h1v1h-1zM2 34h1v1h-1zM5 34h1v1h-1zM53 35h1v1h-1zM55 35h2v1h-2zM50 36h1v1h-1zM22 39h1v1h-1zM46 39h1v1h-1zM41 40h1v1h-1zM19 41h1v1h-1z"/>
<path fill="#fcd514" d="M27 26h1v1h-1zM32 27h1v1h-1zM7 28h1v1h-1zM30 29h1v1h-1zM57 29h1v1h-1zM11 30h1v1h-1zM28 30h1v1h-1zM3 31h1v1h-1zM6 31h1v1h-1zM11 31h1v1h-1zM51 31h1v1h-1zM12 33h1v1h-1zM38 33h1v1h-1zM13 34h1v1h-1zM16 34h1v1h-1zM20 34h1v1h-1zM45 35h1v1h-1zM41 38h1v1h-1z"/>
<path fill="#fbdf17" d="M29 26h1v1h-1zM34 28h1v1h-1zM52 29h1v1h-1zM2 30h2v1h-2zM25 30h1v1h-1zM34 30h1v1h-1zM51 30h1v1h-1zM54 30h1v1h-1zM60 30h1v1h-1zM10 31h1v1h-1zM27 31h1v1h-1zM48 31h1v1h-1zM53 31h1v1h-1zM10 32h1v1h-1zM23 32h1v1h-1zM48 32h2v1h-2zM53 32h2v1h-2zM59 32h1v1h-1zM48 33h1v1h-1zM59 33h1v1h-1zM22 34h1v1h-1zM14 35h1v1h-1zM17 35h2v1h-2zM23 35h1v1h-1zM22 37h1v1h-1zM45 38h1v1h-1z"/>
<path fill="#f8e520" d="M32 26h1v1h-1zM3 28h1v1h-1zM27 28h1v1h-1zM29 28h1v1h-1zM31 28h1v1h-1zM0 29h2v1h-2zM6 29h1v1h-1zM9 29h2v1h-2zM33 29h1v1h-1zM51 29h1v1h-1zM56 29h1v1h-1zM0 30h1v1h-1zM5 30h1v1h-1zM26 30h1v1h-1zM52 30h1v1h-1zM57 30h1v1h-1zM52 31h1v1h-1zM1 32h1v1h-1zM6 32h1v1h-1zM37 34h2v1h-2zM47 34h1v1h-1zM15 35h1v1h-1zM37 35h1v1h-1zM39 35h1v1h-1zM43 35h1v1h-1zM39 36h1v1h-1zM19 38h1v1h-1z"/>
<path fill="#e5e117" d="M33 26h1v1h-1zM30 27h1v1h-1zM35 28h1v1h-1zM56 28h1v1h-1zM49 29h1v1h-1zM4 30h1v1h-1zM29 30h1v1h-1zM37 30h1v1h-1zM7 31h1v1h-1zM9 31h1v1h-1zM34 31h1v1h-1zM11 32h1v1h-1zM15 32h1v1h-1zM34 32h1v1h-1zM6 33h1v1h-1zM8 33h2v1h-2zM20 33h1v1h-1zM22 33h1v1h-1zM26 33h1v1h-1zM45 33h1v1h-1zM50 33h1v1h-1zM40 34h2v1h-2zM45 34h1v1h-1zM48 34h1v1h-1zM57 34h2v1h-2zM12 35h2v1h-2zM46 35h1v1h-1zM42 39h1v1h-1z"/>
<path fill="#d7d91b" d="M34 26h1v1h-1zM7 27h1v1h-1zM9 27h2v1h-2zM28 27h1v1h-1zM0 28h1v1h-1zM2 28h1v1h-1zM58 28h1v1h-1zM36 29h1v1h-1zM50 29h1v1h-1zM8 30h1v1h-1zM14 30h1v1h-1zM32 30h1v1h-1zM58 30h1v1h-1zM22 31h2v1h-2zM31 31h1v1h-1zM21 32h1v1h-1zM32 32h1v1h-1zM38 32h1v1h-1zM51 32h1v1h-1zM55 32h1v1h-1zM3 33h3v1h-3zM43 33h1v1h-1zM52 33h1v1h-1zM55 33h1v1h-1zM10 34h1v1h-1zM52 34h1v1h-1zM40 35h1v1h-1zM47 35h1v1h-1zM47 36h3v1h-3zM43 39h1v1h-1z"/>
<path fill="#c2d321" d="M1 27h2v1h-2zM4 27h1v1h-1zM36 28h1v1h-1zM13 29h1v1h-1zM38 31h1v1h-1zM46 31h1v1h-1zM20 32h1v1h-1zM17 33h1v1h-1zM27 33h1v1h-1zM41 33h1v1h-1zM26 34h1v1h-1zM54 34h1v1h-1zM25 35h1v1h-1zM57 35h1v1h-1zM36 36h1v1h-1zM15 39h1v1h-1zM43 40h1v1h-1zM42 41h1v1h-1z"/>
<path fill="#ede518" d="M29 27h1v1h-1zM31 27h1v1h-1zM34 27h1v1h-1zM9 28h1v1h-1zM25 28h2v1h-2zM57 28h1v1h-1zM4 29h1v1h-1zM24 29h1v1h-1zM32 29h1v1h-1zM34 29h1v1h-1zM60 29h1v1h-1zM24 30h1v1h-1zM33 30h1v1h-1zM35 30h1v1h-1zM5 32h1v1h-1zM56 32h1v1h-1zM11 33h1v1h-1zM11 34h2v1h-2zM23 34h1v1h-1zM44 34h1v1h-1zM38 35h1v1h-1zM15 36h1v1h-1zM19 36h1v1h-1zM17 38h2v1h-2zM20 38h2v1h-2zM20 39h1v1h-1z"/>
<path fill="#f3991b" d="M33 27h1v1h-1zM1 30h1v1h-1zM1 31h1v1h-1zM25 32h1v1h-1zM57 32h1v1h-1zM24 33h1v1h-1zM42 36h1v1h-1zM45 36h1v1h-1zM16 37h1v1h-1zM21 37h1v1h-1zM41 37h1v1h-1z"/>
<path fill="#fcca14" d="M1 28h1v1h-1zM27 29h1v1h-1zM31 29h1v1h-1zM13 30h1v1h-1zM49 30h1v1h-1zM55 30h2v1h-2zM2 31h1v1h-1zM56 31h1v1h-1zM47 33h1v1h-1zM58 33h1v1h-1zM39 34h1v1h-1zM18 37h1v1h-1zM40 37h1v1h-1zM44 38h1v1h-1z"/>
<path fill="#e0de19" d="M4 28h2v1h-2zM8 28h1v1h-1zM2 29h1v1h-1zM27 30h1v1h-1zM30 30h2v1h-2zM59 30h1v1h-1zM4 31h1v1h-1zM8 31h1v1h-1zM15 31h1v1h-1zM28 31h1v1h-1zM7 32h1v1h-1zM22 32h1v1h-1zM39 32h1v1h-1zM46 32h1v1h-1zM60 32h1v1h-1zM15 33h1v1h-1zM21 33h1v1h-1zM56 33h1v1h-1zM60 33h1v1h-1zM43 34h1v1h-1zM50 34h1v1h-1zM59 34h2v1h-2zM24 35h1v1h-1zM50 35h1v1h-1zM58 35h2v1h-2zM40 36h1v1h-1zM23 37h1v1h-1zM22 38h1v1h-1zM40 38h1v1h-1zM17 39h1v1h-1zM41 39h1v1h-1z"/>
<path fill="#ed761b" d="M33 28h1v1h-1z"/>
<path fill="#f9b81a" d="M52 28h1v1h-1zM55 29h1v1h-1zM25 31h1v1h-1zM2 32h1v1h-1zM24 32h1v1h-1zM14 34h1v1h-1zM42 35h1v1h-1zM19 37h2v1h-2zM46 37h1v1h-1z"/>
<path fill="#f08718" d="M53 28h2v1h-2zM17 36h1v1h-1z"/>
<path fill="#f5a31c" d="M55 28h1v1h-1zM53 29h2v1h-2zM12 32h1v1h-1zM58 32h1v1h-1zM20 35h1v1h-1zM41 36h1v1h-1zM43 38h1v1h-1z"/>
<path fill="#f7ae1c" d="M3 29h1v1h-1zM12 31h1v1h-1zM14 31h1v1h-1zM26 31h1v1h-1zM26 32h1v1h-1zM21 34h1v1h-1zM16 35h1v1h-1zM44 35h1v1h-1z"/>
<path fill="#e9651e" d="M13 31h1v1h-1z"/>
<path fill="#eb6e1d" d="M49 31h1v1h-1zM14 32h1v1h-1zM43 36h1v1h-1z"/>
<path fill="#e4161a" d="M13 32h1v1h-1z"/>
<path fill="#ef7f19" d="M13 33h1v1h-1zM45 37h1v1h-1z"/>
<path fill="#f18f19" d="M14 33h1v1h-1zM22 35h1v1h-1zM18 36h1v1h-1zM22 36h1v1h-1z"/>
<path fill="#e53c21" d="M21 35h1v1h-1zM21 36h1v1h-1zM44 36h1v1h-1z"/>
<path fill="#e85b1f" d="M16 36h1v1h-1z"/>
<path fill="#e75120" d="M42 37h1v1h-1z"/>
<path fill="#e42b22" d="M43 37h1v1h-1z"/>
<path fill="#e64720" d="M44 37h1v1h-1z"/>
</g></g>
<clipPath id="c01"><rect x="612.10" y="31.30" width="396.80" height="396.20"/></clipPath>
<g clip-path="url(#c01)"><g transform="translate(606.487 25.675) scale(6.61333 6.27000)">
<rect x="0" y="0" width="61" height="65" fill="#f9f9fc"/>
<path fill="#ffffff" d="M0 0h61v1h-61zM0 1h61v1h-61zM0 2h61v1h-61zM0 3h61v1h-61zM0 4h61v1h-61zM0 5h61v1h-61zM0 6h61v1h-61zM0 7h61v1h-61zM0 8h61v1h-61zM0 9h61v1h-61zM0 10h27v1h-27zM35 10h26v1h-26zM0 11h26v1h-26zM36 11h25v1h-25zM0 12h9v1h-9zM11 12h15v1h-15zM36 12h14v1h-14zM53 12h8v1h-8zM0 13h5v1h-5zM13 13h12v1h-12zM37 13h12v1h-12zM57 13h4v1h-4zM13 14h12v1h-12zM37 14h11v1h-11zM14 15h10v1h-10zM37 15h11v1h-11zM15 16h9v1h-9zM38 16h9v1h-9zM15 17h8v1h-8zM39 17h7v1h-7zM16 18h6v1h-6zM39 18h7v1h-7zM17 19h5v1h-5zM40 19h5v1h-5zM18 20h3v1h-3zM41 20h3v1h-3zM19 21h1v1h-1zM42 21h1v1h-1zM30 48h2v1h-2zM29 49h4v1h-4zM6 50h3v1h-3zM28 50h5v1h-5zM53 50h2v1h-2zM0 51h10v1h-10zM28 51h6v1h-6zM51 51h10v1h-10zM0 52h11v1h-11zM27 52h7v1h-7zM50 52h11v1h-11zM0 53h12v1h-12zM27 53h8v1h-8zM50 53h11v1h-11zM0 54h13v1h-13zM26 54h10v1h-10zM49 54h12v1h-12zM0 55h13v1h-13zM26 55h10v1h-10zM49 55h12v1h-12zM0 56h14v1h-14zM25 56h12v1h-12zM48 56h13v1h-13zM0 57h14v1h-14zM25 57h12v1h-12zM47 57h14v1h-14zM0 58h15v1h-15zM24 58h13v1h-13zM46 58h15v1h-15zM0 59h19v1h-19zM24 59h14v1h-14zM42 59h19v1h-19zM0 60h21v1h-21zM22 60h39v1h-39zM0 61h61v1h-61zM0 62h61v1h-61zM0 63h61v1h-61zM0 64h61v1h-61z"/>
<path fill="#f0f0f8" d="M28 13h6v1h-6zM27 14h2v1h-2zM30 14h1v1h-1zM33 14h2v1h-2zM9 15h2v1h-2zM26 15h1v1h-1zM34 15h2v1h-2zM51 15h2v1h-2zM5 16h7v1h-7zM25 16h1v1h-1zM35 16h1v1h-1zM49 16h8v1h-8zM0 17h7v1h-7zM12 17h1v1h-1zM25 17h1v1h-1zM36 17h1v1h-1zM49 17h1v1h-1zM55 17h6v1h-6zM0 18h2v1h-2zM13 18h1v1h-1zM48 18h1v1h-1zM60 18h1v1h-1zM13 19h1v1h-1zM24 19h1v1h-1zM37 19h1v1h-1zM47 19h1v1h-1zM14 20h1v1h-1zM23 20h1v1h-1zM37 20h1v1h-1zM47 20h1v1h-1zM15 21h1v1h-1zM23 21h1v1h-1zM38 21h1v1h-1zM46 21h1v1h-1zM15 22h2v1h-2zM22 22h1v1h-1zM39 22h1v1h-1zM45 22h1v1h-1zM16 23h1v1h-1zM21 23h1v1h-1zM39 23h2v1h-2zM44 23h2v1h-2zM17 24h1v1h-1zM20 24h2v1h-2zM40 24h2v1h-2zM43 24h2v1h-2zM18 25h3v1h-3zM41 25h3v1h-3zM30 44h1v1h-1zM30 45h2v1h-2zM29 46h1v1h-1zM32 46h1v1h-1zM6 47h3v1h-3zM28 47h1v1h-1zM33 47h1v1h-1zM52 47h4v1h-4zM0 48h6v1h-6zM9 48h2v1h-2zM27 48h1v1h-1zM33 48h1v1h-1zM51 48h2v1h-2zM55 48h6v1h-6zM11 49h1v1h-1zM27 49h1v1h-1zM34 49h1v1h-1zM50 49h1v1h-1zM26 50h1v1h-1zM49 50h1v1h-1zM12 51h1v1h-1zM35 51h1v1h-1zM13 52h1v1h-1zM25 52h1v1h-1zM36 52h1v1h-1zM48 52h1v1h-1zM13 53h1v1h-1zM36 53h1v1h-1zM14 54h1v1h-1zM24 54h1v1h-1zM47 54h1v1h-1zM15 55h1v1h-1zM24 55h1v1h-1zM37 55h1v1h-1zM46 55h1v1h-1zM16 56h4v1h-4zM23 56h1v1h-1zM38 56h1v1h-1zM42 56h4v1h-4zM20 57h3v1h-3zM39 57h3v1h-3z"/>
<path fill="#e9e9f5" d="M29 14h1v1h-1zM31 14h2v1h-2zM27 15h2v1h-2zM33 15h1v1h-1zM26 16h1v1h-1zM34 16h1v1h-1zM7 17h5v1h-5zM35 17h1v1h-1zM50 17h5v1h-5zM2 18h5v1h-5zM12 18h1v1h-1zM25 18h1v1h-1zM36 18h1v1h-1zM49 18h1v1h-1zM55 18h5v1h-5zM48 19h1v1h-1zM13 20h1v1h-1zM24 20h1v1h-1zM14 21h1v1h-1zM37 21h1v1h-1zM47 21h1v1h-1zM23 22h1v1h-1zM38 22h1v1h-1zM46 22h1v1h-1zM15 23h1v1h-1zM22 23h1v1h-1zM16 24h1v1h-1zM39 24h1v1h-1zM17 25h1v1h-1zM21 25h1v1h-1zM40 25h1v1h-1zM44 25h1v1h-1zM18 26h2v1h-2zM41 26h3v1h-3zM31 44h1v1h-1zM29 45h1v1h-1zM32 45h1v1h-1zM7 46h2v1h-2zM28 46h1v1h-1zM33 46h1v1h-1zM53 46h2v1h-2zM0 47h6v1h-6zM9 47h2v1h-2zM27 47h1v1h-1zM51 47h1v1h-1zM56 47h5v1h-5zM11 48h1v1h-1zM34 48h1v1h-1zM50 48h1v1h-1zM26 49h1v1h-1zM49 49h1v1h-1zM12 50h1v1h-1zM35 50h1v1h-1zM25 51h1v1h-1zM48 51h1v1h-1zM14 53h1v1h-1zM24 53h1v1h-1zM47 53h1v1h-1zM15 54h1v1h-1zM37 54h1v1h-1zM46 54h1v1h-1zM16 55h4v1h-4zM23 55h1v1h-1zM38 55h1v1h-1zM42 55h4v1h-4zM20 56h3v1h-3zM39 56h3v1h-3z"/>
<path fill="#e3e3f3" d="M29 15h4v1h-4zM27 16h1v1h-1zM26 17h1v1h-1zM7 18h5v1h-5zM50 18h5v1h-5zM0 19h5v1h-5zM12 19h1v1h-1zM25 19h1v1h-1zM36 19h1v1h-1zM49 19h1v1h-1zM57 19h4v1h-4zM48 20h1v1h-1zM13 21h1v1h-1zM24 21h1v1h-1zM14 22h1v1h-1zM37 22h1v1h-1zM47 22h1v1h-1zM23 23h1v1h-1zM38 23h1v1h-1zM46 23h1v1h-1zM22 24h1v1h-1zM45 24h1v1h-1zM16 25h1v1h-1zM39 25h1v1h-1zM17 26h1v1h-1zM20 26h1v1h-1zM40 26h1v1h-1zM18 27h2v1h-2zM42 27h1v1h-1zM30 43h2v1h-2zM29 44h1v1h-1zM32 44h1v1h-1zM28 45h1v1h-1zM4 46h3v1h-3zM9 46h1v1h-1zM52 46h1v1h-1zM55 46h2v1h-2zM34 47h1v1h-1zM50 47h1v1h-1zM26 48h1v1h-1zM49 48h1v1h-1zM12 49h1v1h-1zM35 49h1v1h-1zM25 50h1v1h-1zM48 50h1v1h-1zM13 51h1v1h-1zM36 51h1v1h-1zM14 52h1v1h-1zM47 52h1v1h-1zM15 53h1v1h-1zM37 53h1v1h-1zM46 53h1v1h-1zM16 54h1v1h-1zM23 54h1v1h-1zM38 54h1v1h-1zM44 54h2v1h-2zM20 55h3v1h-3zM39 55h3v1h-3z"/>
<path fill="#dedef1" d="M28 16h1v1h-1zM30 16h1v1h-1zM32 16h2v1h-2zM27 17h1v1h-1zM34 17h1v1h-1zM26 18h1v1h-1zM35 18h1v1h-1zM5 19h2v1h-2zM11 19h1v1h-1zM55 19h2v1h-2zM0 20h2v1h-2zM36 20h1v1h-1zM60 20h1v1h-1zM48 21h1v1h-1zM24 22h1v1h-1zM15 24h1v1h-1zM38 24h1v1h-1zM22 25h1v1h-1zM45 25h1v1h-1zM21 26h1v1h-1zM44 26h1v1h-1zM20 27h1v1h-1zM41 27h1v1h-1zM43 27h1v1h-1zM30 42h1v1h-1zM29 43h1v1h-1zM6 45h3v1h-3zM33 45h1v1h-1zM52 45h4v1h-4zM0 46h4v1h-4zM10 46h1v1h-1zM27 46h1v1h-1zM51 46h1v1h-1zM57 46h4v1h-4zM11 47h1v1h-1zM12 48h1v1h-1zM35 48h1v1h-1zM25 49h1v1h-1zM13 50h1v1h-1zM36 50h1v1h-1zM47 51h1v1h-1zM24 52h1v1h-1zM37 52h1v1h-1zM46 52h1v1h-1zM23 53h1v1h-1zM45 53h1v1h-1zM17 54h3v1h-3zM22 54h1v1h-1zM39 54h1v1h-1zM42 54h2v1h-2z"/>
<path fill="#d7d7ed" d="M29 16h1v1h-1zM31 16h1v1h-1zM7 19h2v1h-2zM10 19h1v1h-1zM35 19h1v1h-1zM50 19h1v1h-1zM53 19h2v1h-2zM2 20h2v1h-2zM12 20h1v1h-1zM25 20h1v1h-1zM49 20h1v1h-1zM57 20h3v1h-3zM13 22h1v1h-1zM14 23h1v1h-1zM37 23h1v1h-1zM47 23h1v1h-1zM23 24h1v1h-1zM46 24h1v1h-1zM16 26h1v1h-1zM39 26h1v1h-1zM17 27h1v1h-1zM40 27h1v1h-1zM19 28h1v1h-1zM42 28h1v1h-1zM31 42h1v1h-1zM32 43h1v1h-1zM28 44h1v1h-1zM33 44h1v1h-1zM4 45h2v1h-2zM9 45h1v1h-1zM27 45h1v1h-1zM51 45h1v1h-1zM56 45h2v1h-2zM11 46h1v1h-1zM34 46h1v1h-1zM50 46h1v1h-1zM26 47h1v1h-1zM49 47h1v1h-1zM36 49h1v1h-1zM48 49h1v1h-1zM14 51h1v1h-1zM24 51h1v1h-1zM15 52h1v1h-1zM16 53h3v1h-3zM38 53h1v1h-1zM43 53h2v1h-2zM20 54h2v1h-2zM40 54h2v1h-2z"/>
<path fill="#cfcfe9" d="M28 17h1v1h-1zM33 17h1v1h-1zM34 18h1v1h-1zM9 19h1v1h-1zM51 19h2v1h-2zM4 20h2v1h-2zM56 20h1v1h-1zM36 21h1v1h-1zM15 25h1v1h-1zM38 25h1v1h-1zM22 26h1v1h-1zM45 26h1v1h-1zM21 27h1v1h-1zM44 27h1v1h-1zM18 28h1v1h-1zM41 28h1v1h-1zM43 28h1v1h-1zM30 41h1v1h-1zM29 42h1v1h-1zM6 44h3v1h-3zM52 44h4v1h-4zM0 45h4v1h-4zM10 45h1v1h-1zM34 45h1v1h-1zM58 45h3v1h-3zM26 46h1v1h-1zM12 47h1v1h-1zM35 47h1v1h-1zM25 48h1v1h-1zM13 49h1v1h-1zM47 50h1v1h-1zM37 51h1v1h-1zM46 51h1v1h-1zM16 52h1v1h-1zM23 52h1v1h-1zM45 52h1v1h-1zM19 53h1v1h-1zM22 53h1v1h-1zM39 53h1v1h-1zM42 53h1v1h-1z"/>
<path fill="#c5c4e4" d="M29 17h4v1h-4zM27 18h1v1h-1zM26 19h1v1h-1zM6 20h1v1h-1zM11 20h1v1h-1zM54 20h2v1h-2zM0 21h2v1h-2zM12 21h1v1h-1zM60 21h1v1h-1zM48 22h1v1h-1zM24 23h1v1h-1zM14 24h1v1h-1zM23 25h1v1h-1zM46 25h1v1h-1zM20 28h1v1h-1zM31 41h1v1h-1zM32 42h1v1h-1zM28 43h1v1h-1zM33 43h1v1h-1zM5 44h1v1h-1zM9 44h1v1h-1zM27 44h1v1h-1zM51 44h1v1h-1zM56 44h1v1h-1zM50 45h1v1h-1zM35 46h1v1h-1zM49 46h1v1h-1zM36 48h1v1h-1zM48 48h1v1h-1zM14 50h1v1h-1zM24 50h1v1h-1zM15 51h1v1h-1zM17 52h1v1h-1zM38 52h1v1h-1zM44 52h1v1h-1zM20 53h2v1h-2zM40 53h2v1h-2z"/>
<path fill="#b1add8" d="M28 18h1v1h-1zM33 18h1v1h-1zM34 19h1v1h-1zM8 20h3v1h-3zM51 20h2v1h-2zM4 21h1v1h-1zM57 21h1v1h-1zM36 22h1v1h-1zM15 26h1v1h-1zM38 26h1v1h-1zM16 27h1v1h-1zM21 28h1v1h-1zM18 29h2v1h-2zM30 40h2v1h-2zM32 41h1v1h-1zM28 42h1v1h-1zM5 43h2v1h-2zM9 43h1v1h-1zM27 43h1v1h-1zM52 43h1v1h-1zM55 43h1v1h-1zM50 44h1v1h-1zM35 45h1v1h-1zM49 45h1v1h-1zM36 47h1v1h-1zM48 47h1v1h-1zM14 49h1v1h-1zM24 49h1v1h-1zM15 50h1v1h-1zM16 51h1v1h-1zM38 51h1v1h-1zM20 52h2v1h-2zM40 52h2v1h-2z"/>
<path fill="#9b98cd" d="M29 18h2v1h-2zM32 18h1v1h-1zM6 21h1v1h-1zM11 21h1v1h-1zM55 21h1v1h-1zM0 22h1v1h-1zM12 22h1v1h-1zM14 25h1v1h-1zM23 26h1v1h-1zM46 26h1v1h-1zM30 39h1v1h-1zM29 40h1v1h-1zM28 41h1v1h-1zM6 42h4v1h-4zM52 42h4v1h-4zM0 43h4v1h-4zM50 43h1v1h-1zM58 43h3v1h-3zM36 46h1v1h-1zM48 46h1v1h-1zM14 48h1v1h-1zM24 48h1v1h-1zM15 49h1v1h-1zM16 50h1v1h-1zM38 50h1v1h-1zM19 51h3v1h-3zM40 51h2v1h-2z"/>
<path fill="#908ec9" d="M31 18h1v1h-1zM7 21h1v1h-1zM35 21h1v1h-1zM50 21h1v1h-1zM54 21h1v1h-1zM1 22h2v1h-2zM25 22h1v1h-1zM59 22h2v1h-2zM37 25h1v1h-1zM39 28h1v1h-1zM31 39h1v1h-1zM32 40h1v1h-1zM33 41h1v1h-1zM5 42h1v1h-1zM27 42h1v1h-1zM34 42h1v1h-1zM51 42h1v1h-1zM56 42h1v1h-1zM11 43h1v1h-1zM12 44h1v1h-1zM35 44h1v1h-1zM49 44h1v1h-1zM25 45h1v1h-1zM13 46h1v1h-1zM47 47h1v1h-1zM37 48h1v1h-1zM23 49h1v1h-1zM17 50h1v1h-1zM22 50h1v1h-1zM44 50h1v1h-1z"/>
<path fill="#a6a2d1" d="M27 19h1v1h-1zM26 20h1v1h-1zM5 21h1v1h-1zM56 21h1v1h-1zM48 23h1v1h-1zM24 24h1v1h-1zM22 27h1v1h-1zM45 27h1v1h-1zM44 28h1v1h-1zM20 29h1v1h-1zM41 29h1v1h-1zM43 29h1v1h-1zM33 42h1v1h-1zM4 43h1v1h-1zM10 43h1v1h-1zM34 43h1v1h-1zM51 43h1v1h-1zM56 43h2v1h-2zM11 44h1v1h-1zM26 44h1v1h-1zM12 45h1v1h-1zM25 46h1v1h-1zM13 47h1v1h-1zM47 48h1v1h-1zM37 49h1v1h-1zM46 49h1v1h-1zM23 50h1v1h-1zM45 50h1v1h-1zM17 51h2v1h-2zM22 51h1v1h-1zM39 51h1v1h-1zM42 51h3v1h-3z"/>
<path fill="#8488c4" d="M28 19h1v1h-1zM8 21h2v1h-2zM26 21h1v1h-1zM51 21h2v1h-2zM4 22h1v1h-1zM57 22h1v1h-1zM24 25h1v1h-1zM15 27h1v1h-1zM38 27h1v1h-1zM22 28h1v1h-1zM21 29h1v1h-1zM44 29h1v1h-1zM18 30h2v1h-2zM30 38h2v1h-2zM32 39h1v1h-1zM33 40h1v1h-1zM6 41h1v1h-1zM9 41h1v1h-1zM27 41h1v1h-1zM34 41h1v1h-1zM52 41h1v1h-1zM55 41h1v1h-1zM0 42h2v1h-2zM11 42h1v1h-1zM26 42h1v1h-1zM50 42h1v1h-1zM59 42h2v1h-2zM35 43h1v1h-1zM49 43h1v1h-1zM25 44h1v1h-1zM13 45h1v1h-1zM47 46h1v1h-1zM37 47h1v1h-1zM23 48h1v1h-1zM22 49h1v1h-1zM44 49h1v1h-1zM20 50h1v1h-1zM40 50h2v1h-2z"/>
<path fill="#7277b8" d="M29 19h1v1h-1zM6 22h1v1h-1zM35 22h1v1h-1zM50 22h1v1h-1zM55 22h1v1h-1zM37 26h1v1h-1zM29 37h1v1h-1zM31 37h1v1h-1zM28 38h1v1h-1zM33 38h1v1h-1zM27 39h1v1h-1zM4 40h2v1h-2zM10 40h1v1h-1zM26 40h1v1h-1zM51 40h1v1h-1zM55 40h2v1h-2zM35 41h1v1h-1zM49 41h1v1h-1zM25 42h1v1h-1zM48 43h1v1h-1zM24 44h1v1h-1zM14 45h1v1h-1zM37 45h1v1h-1zM15 46h1v1h-1zM23 46h1v1h-1zM46 46h1v1h-1zM16 47h1v1h-1zM22 47h1v1h-1zM45 47h1v1h-1zM17 48h2v1h-2zM21 48h1v1h-1zM40 48h1v1h-1zM43 48h1v1h-1z"/>
<path fill="#6e76b8" d="M30 19h2v1h-2zM54 22h1v1h-1zM0 23h2v1h-2zM49 23h1v1h-1zM59 23h2v1h-2zM13 25h1v1h-1zM47 26h1v1h-1zM39 29h1v1h-1zM30 36h1v1h-1zM28 37h1v1h-1zM32 37h1v1h-1zM25 38h1v1h-1zM27 38h1v1h-1zM34 38h1v1h-1zM6 39h5v1h-5zM26 39h1v1h-1zM34 39h1v1h-1zM36 39h1v1h-1zM51 39h5v1h-5zM0 40h4v1h-4zM11 40h1v1h-1zM24 40h1v1h-1zM35 40h1v1h-1zM50 40h1v1h-1zM57 40h4v1h-4zM12 41h1v1h-1zM24 41h2v1h-2zM36 41h2v1h-2zM36 42h1v1h-1zM48 42h1v1h-1zM13 43h1v1h-1zM24 43h1v1h-1zM14 44h1v1h-1zM37 44h1v1h-1zM47 44h1v1h-1zM15 45h1v1h-1zM23 45h1v1h-1zM38 45h1v1h-1zM46 45h1v1h-1zM22 46h1v1h-1zM38 46h1v1h-1zM45 46h1v1h-1zM17 47h1v1h-1zM21 47h1v1h-1zM39 47h1v1h-1zM44 47h1v1h-1zM19 48h2v1h-2zM41 48h2v1h-2z"/>
<path fill="#777bba" d="M32 19h1v1h-1zM5 22h1v1h-1zM11 22h1v1h-1zM12 23h1v1h-1zM25 23h1v1h-1zM14 26h1v1h-1zM23 27h1v1h-1zM46 27h1v1h-1zM20 30h1v1h-1zM43 30h1v1h-1zM30 37h1v1h-1zM29 38h1v1h-1zM32 38h1v1h-1zM33 39h1v1h-1zM6 40h4v1h-4zM27 40h1v1h-1zM34 40h1v1h-1zM52 40h3v1h-3zM0 41h4v1h-4zM11 41h1v1h-1zM26 41h1v1h-1zM50 41h1v1h-1zM58 41h3v1h-3zM12 42h1v1h-1zM49 42h1v1h-1zM25 43h1v1h-1zM36 43h1v1h-1zM13 44h1v1h-1zM24 45h1v1h-1zM47 45h1v1h-1zM37 46h1v1h-1zM23 47h1v1h-1zM38 47h1v1h-1zM22 48h1v1h-1zM39 48h1v1h-1zM44 48h1v1h-1zM19 49h2v1h-2zM40 49h3v1h-3z"/>
<path fill="#8a8ac6" d="M33 19h1v1h-1zM34 20h1v1h-1zM10 21h1v1h-1zM53 21h1v1h-1zM3 22h1v1h-1zM49 22h1v1h-1zM58 22h1v1h-1zM36 23h1v1h-1zM13 24h1v1h-1zM47 25h1v1h-1zM16 28h1v1h-1zM17 29h1v1h-1zM40 29h1v1h-1zM42 30h1v1h-1zM29 39h1v1h-1zM28 40h1v1h-1zM7 41h2v1h-2zM53 41h2v1h-2zM2 42h3v1h-3zM10 42h1v1h-1zM57 42h2v1h-2zM26 43h1v1h-1zM36 45h1v1h-1zM48 45h1v1h-1zM14 47h1v1h-1zM24 47h1v1h-1zM15 48h1v1h-1zM46 48h1v1h-1zM16 49h1v1h-1zM38 49h1v1h-1zM45 49h1v1h-1zM18 50h2v1h-2zM21 50h1v1h-1zM39 50h1v1h-1zM42 50h2v1h-2z"/>
<path fill="#bbb8de" d="M7 20h1v1h-1zM35 20h1v1h-1zM50 20h1v1h-1zM53 20h1v1h-1zM2 21h2v1h-2zM25 21h1v1h-1zM49 21h1v1h-1zM58 21h2v1h-2zM13 23h1v1h-1zM37 24h1v1h-1zM47 24h1v1h-1zM39 27h1v1h-1zM17 28h1v1h-1zM40 28h1v1h-1zM42 29h1v1h-1zM29 41h1v1h-1zM7 43h2v1h-2zM53 43h2v1h-2zM0 44h5v1h-5zM10 44h1v1h-1zM34 44h1v1h-1zM57 44h4v1h-4zM11 45h1v1h-1zM26 45h1v1h-1zM12 46h1v1h-1zM25 47h1v1h-1zM13 48h1v1h-1zM47 49h1v1h-1zM37 50h1v1h-1zM46 50h1v1h-1zM23 51h1v1h-1zM45 51h1v1h-1zM18 52h2v1h-2zM22 52h1v1h-1zM39 52h1v1h-1zM42 52h2v1h-2z"/>
<path fill="#7d81bf" d="M27 20h1v1h-1zM56 22h1v1h-1zM48 24h1v1h-1zM45 28h1v1h-1zM41 30h1v1h-1zM28 39h1v1h-1zM4 41h2v1h-2zM10 41h1v1h-1zM51 41h1v1h-1zM56 41h2v1h-2zM35 42h1v1h-1zM12 43h1v1h-1zM36 44h1v1h-1zM48 44h1v1h-1zM14 46h1v1h-1zM24 46h1v1h-1zM15 47h1v1h-1zM46 47h1v1h-1zM16 48h1v1h-1zM38 48h1v1h-1zM45 48h1v1h-1zM17 49h2v1h-2zM21 49h1v1h-1zM39 49h1v1h-1zM43 49h1v1h-1z"/>
<path fill="#6473b8" d="M28 20h1v1h-1zM26 22h1v1h-1zM51 22h1v1h-1zM53 22h1v1h-1zM3 23h1v1h-1zM24 26h1v1h-1zM15 28h1v1h-1zM22 29h1v1h-1zM21 30h1v1h-1zM19 31h1v1h-1zM42 31h1v1h-1zM28 33h2v1h-2zM32 33h2v1h-2zM27 34h3v1h-3zM32 34h1v1h-1zM34 34h1v1h-1zM10 35h1v1h-1zM26 35h1v1h-1zM28 35h5v1h-5zM51 35h1v1h-1zM9 36h3v1h-3zM49 36h3v1h-3zM8 37h4v1h-4zM36 37h1v1h-1zM50 37h4v1h-4zM3 38h5v1h-5zM11 38h1v1h-1zM13 38h1v1h-1zM49 38h2v1h-2zM54 38h4v1h-4zM0 39h3v1h-3zM24 39h1v1h-1zM47 39h1v1h-1zM59 39h2v1h-2zM15 41h1v1h-1zM38 41h1v1h-1zM16 42h1v1h-1zM22 42h1v1h-1zM45 42h1v1h-1zM16 43h2v1h-2zM21 43h1v1h-1zM40 43h1v1h-1zM44 43h2v1h-2zM16 44h2v1h-2zM20 44h1v1h-1zM40 44h2v1h-2zM44 44h2v1h-2zM17 45h1v1h-1zM20 45h2v1h-2zM40 45h2v1h-2zM44 45h1v1h-1zM18 46h3v1h-3zM41 46h3v1h-3z"/>
<path fill="#4d74ae" d="M29 20h1v1h-1zM35 23h1v1h-1zM50 23h1v1h-1zM29 31h1v1h-1zM5 34h1v1h-1zM50 34h1v1h-1zM56 34h1v1h-1zM39 41h1v1h-1zM18 42h1v1h-1zM43 42h1v1h-1z"/>
<path fill="#48789a" d="M30 20h2v1h-2zM33 21h1v1h-1zM34 22h1v1h-1zM0 24h2v1h-2zM49 24h1v1h-1zM60 24h1v1h-1zM24 27h1v1h-1zM38 29h1v1h-1zM16 30h1v1h-1zM40 31h1v1h-1zM7 33h3v1h-3zM52 33h3v1h-3zM2 34h2v1h-2zM58 34h1v1h-1zM25 35h1v1h-1zM37 38h1v1h-1zM23 39h1v1h-1zM45 40h1v1h-1zM44 41h1v1h-1zM19 42h1v1h-1z"/>
<path fill="#5071b6" d="M32 20h1v1h-1zM5 23h1v1h-1zM11 23h1v1h-1zM56 23h1v1h-1zM12 24h1v1h-1zM37 27h1v1h-1zM46 28h1v1h-1zM20 31h1v1h-1zM30 31h2v1h-2zM43 31h1v1h-1zM33 32h1v1h-1zM34 33h1v1h-1zM6 34h1v1h-1zM10 34h1v1h-1zM26 34h1v1h-1zM55 34h1v1h-1zM0 35h2v1h-2zM49 35h1v1h-1zM60 35h1v1h-1zM36 36h1v1h-1zM13 37h1v1h-1zM24 38h1v1h-1zM47 38h1v1h-1zM38 40h1v1h-1zM16 41h1v1h-1zM22 41h1v1h-1zM21 42h1v1h-1zM40 42h1v1h-1z"/>
<path fill="#6a75b8" d="M33 20h1v1h-1zM34 21h1v1h-1zM7 22h1v1h-1zM10 22h1v1h-1zM2 23h1v1h-1zM58 23h1v1h-1zM36 24h1v1h-1zM38 28h1v1h-1zM16 29h1v1h-1zM17 30h1v1h-1zM40 30h1v1h-1zM33 34h1v1h-1zM27 35h1v1h-1zM33 35h2v1h-2zM26 36h4v1h-4zM31 36h5v1h-5zM12 37h1v1h-1zM25 37h3v1h-3zM33 37h3v1h-3zM49 37h1v1h-1zM8 38h3v1h-3zM12 38h1v1h-1zM26 38h1v1h-1zM35 38h2v1h-2zM48 38h1v1h-1zM51 38h3v1h-3zM3 39h3v1h-3zM11 39h3v1h-3zM25 39h1v1h-1zM35 39h1v1h-1zM48 39h3v1h-3zM56 39h3v1h-3zM12 40h3v1h-3zM25 40h1v1h-1zM36 40h2v1h-2zM47 40h3v1h-3zM13 41h2v1h-2zM23 41h1v1h-1zM46 41h3v1h-3zM13 42h3v1h-3zM23 42h2v1h-2zM37 42h2v1h-2zM46 42h2v1h-2zM14 43h2v1h-2zM22 43h2v1h-2zM37 43h3v1h-3zM46 43h2v1h-2zM15 44h1v1h-1zM21 44h3v1h-3zM38 44h2v1h-2zM46 44h1v1h-1zM16 45h1v1h-1zM22 45h1v1h-1zM39 45h1v1h-1zM45 45h1v1h-1zM16 46h2v1h-2zM21 46h1v1h-1zM39 46h2v1h-2zM44 46h1v1h-1zM18 47h3v1h-3zM40 47h4v1h-4z"/>
<path fill="#5d72b8" d="M27 21h1v1h-1zM8 22h2v1h-2zM52 22h1v1h-1zM4 23h1v1h-1zM57 23h1v1h-1zM48 25h1v1h-1zM45 29h1v1h-1zM44 30h1v1h-1zM29 32h4v1h-4zM30 33h2v1h-2zM30 34h2v1h-2zM5 35h5v1h-5zM11 35h1v1h-1zM35 35h1v1h-1zM50 35h1v1h-1zM52 35h5v1h-5zM0 36h9v1h-9zM12 36h1v1h-1zM25 36h1v1h-1zM52 36h9v1h-9zM0 37h8v1h-8zM48 37h1v1h-1zM54 37h7v1h-7zM0 38h3v1h-3zM58 38h3v1h-3zM14 39h1v1h-1zM37 39h1v1h-1zM46 40h1v1h-1zM39 42h1v1h-1zM18 43h1v1h-1zM20 43h1v1h-1zM43 43h1v1h-1zM18 44h2v1h-2zM42 44h2v1h-2zM18 45h2v1h-2zM42 45h2v1h-2z"/>
<path fill="#417a7f" d="M28 21h1v1h-1zM51 23h1v1h-1zM3 24h1v1h-1zM58 24h1v1h-1zM48 26h1v1h-1zM30 30h2v1h-2zM21 31h1v1h-1zM10 33h1v1h-1zM26 33h1v1h-1zM55 33h1v1h-1zM24 37h1v1h-1zM16 40h1v1h-1zM22 40h1v1h-1zM21 41h1v1h-1z"/>
<path fill="#4a935c" d="M29 21h1v1h-1zM50 24h1v1h-1zM13 27h1v1h-1zM24 28h1v1h-1zM47 28h1v1h-1zM39 31h1v1h-1zM8 32h2v1h-2zM52 32h2v1h-2zM3 33h1v1h-1zM58 33h1v1h-1zM23 38h1v1h-1zM45 39h1v1h-1zM44 40h1v1h-1zM19 41h1v1h-1zM42 41h1v1h-1z"/>
<path fill="#4ea14b" d="M30 21h2v1h-2zM6 24h1v1h-1zM28 30h1v1h-1zM16 31h1v1h-1zM22 31h1v1h-1zM10 32h1v1h-1zM51 32h1v1h-1zM1 33h1v1h-1zM59 33h2v1h-2zM24 36h1v1h-1zM15 38h1v1h-1zM17 40h1v1h-1zM21 40h1v1h-1z"/>
<path fill="#468c67" d="M32 21h1v1h-1zM5 24h1v1h-1zM56 24h1v1h-1zM36 26h1v1h-1zM43 32h1v1h-1zM11 33h1v1h-1zM57 33h1v1h-1zM25 34h1v1h-1zM48 35h1v1h-1zM14 37h1v1h-1zM37 37h1v1h-1zM20 41h1v1h-1zM41 41h1v1h-1z"/>
<path fill="#3e7b77" d="M27 22h1v1h-1zM8 23h2v1h-2zM53 23h1v1h-1zM25 25h1v1h-1zM23 29h1v1h-1zM45 30h1v1h-1zM33 31h1v1h-1zM44 31h1v1h-1zM19 32h1v1h-1zM34 32h1v1h-1zM42 32h1v1h-1zM5 33h1v1h-1zM49 34h1v1h-1zM36 35h1v1h-1zM13 36h1v1h-1zM47 37h1v1h-1zM38 39h1v1h-1zM40 41h1v1h-1z"/>
<path fill="#51a844" d="M28 22h1v1h-1zM10 24h1v1h-1zM0 25h2v1h-2zM60 25h1v1h-1zM25 26h1v1h-1zM48 27h1v1h-1zM30 29h2v1h-2zM15 30h1v1h-1zM6 32h1v1h-1zM17 32h1v1h-1zM21 32h1v1h-1zM26 32h1v1h-1zM55 32h1v1h-1zM0 33h1v1h-1zM36 34h1v1h-1zM16 39h1v1h-1zM22 39h1v1h-1z"/>
<path fill="#76b931" d="M29 22h1v1h-1zM33 23h1v1h-1zM5 25h1v1h-1zM56 25h1v1h-1zM49 26h1v1h-1zM57 32h1v1h-1zM45 38h1v1h-1zM44 39h1v1h-1zM41 40h1v1h-1z"/>
<path fill="#8cc12f" d="M30 22h2v1h-2zM6 25h1v1h-1zM10 25h1v1h-1zM35 26h1v1h-1zM36 28h1v1h-1zM14 30h1v1h-1zM34 30h1v1h-1zM10 31h1v1h-1zM54 31h1v1h-1zM2 32h1v1h-1zM45 32h1v1h-1zM59 32h1v1h-1zM17 33h1v1h-1zM13 34h1v1h-1zM47 35h1v1h-1zM38 37h1v1h-1zM16 38h1v1h-1zM21 39h1v1h-1z"/>
<path fill="#6eb733" d="M32 22h1v1h-1zM34 24h1v1h-1zM26 25h1v1h-1zM50 25h1v1h-1zM13 28h1v1h-1zM47 29h1v1h-1zM38 31h1v1h-1zM4 32h1v1h-1zM39 32h1v1h-1zM43 33h1v1h-1zM48 34h1v1h-1zM14 36h1v1h-1zM23 37h1v1h-1zM20 40h1v1h-1z"/>
<path fill="#4d9a53" d="M33 22h1v1h-1zM34 23h1v1h-1zM26 24h1v1h-1zM55 24h1v1h-1zM49 25h1v1h-1zM38 30h1v1h-1zM27 31h1v1h-1zM7 32h1v1h-1zM40 32h1v1h-1zM54 32h1v1h-1zM2 33h1v1h-1z"/>
<path fill="#4b77a6" d="M6 23h1v1h-1zM55 23h1v1h-1zM36 25h1v1h-1zM13 26h1v1h-1zM47 27h1v1h-1zM39 30h1v1h-1zM32 31h1v1h-1zM4 34h1v1h-1zM11 34h1v1h-1zM35 34h1v1h-1zM57 34h1v1h-1zM12 35h1v1h-1zM48 36h1v1h-1zM14 38h1v1h-1zM46 39h1v1h-1zM20 42h1v1h-1zM41 42h2v1h-2z"/>
<path fill="#44798d" d="M7 23h1v1h-1zM10 23h1v1h-1zM26 23h1v1h-1zM54 23h1v1h-1zM2 24h1v1h-1zM59 24h1v1h-1zM15 29h1v1h-1zM22 30h1v1h-1zM17 31h1v1h-1zM28 31h1v1h-1zM27 32h1v1h-1zM6 33h1v1h-1zM51 33h1v1h-1zM0 34h2v1h-2zM59 34h2v1h-2zM15 39h1v1h-1zM17 41h1v1h-1z"/>
<path fill="#56ae3d" d="M27 23h1v1h-1zM7 24h1v1h-1zM51 24h1v1h-1zM54 24h1v1h-1zM2 25h1v1h-1zM59 25h1v1h-1zM37 29h1v1h-1zM23 30h1v1h-1zM33 30h1v1h-1zM34 31h1v1h-1zM45 31h1v1h-1zM49 33h1v1h-1zM13 35h1v1h-1zM47 36h1v1h-1zM38 38h1v1h-1zM40 40h1v1h-1z"/>
<path fill="#85be30" d="M28 23h1v1h-1zM27 24h1v1h-1zM55 25h1v1h-1zM48 28h1v1h-1zM28 29h1v1h-1zM7 31h1v1h-1zM26 31h1v1h-1zM51 31h1v1h-1zM58 32h1v1h-1zM21 33h1v1h-1zM36 33h1v1h-1zM22 38h1v1h-1zM17 39h1v1h-1z"/>
<path fill="#b1cb25" d="M29 23h1v1h-1zM27 25h1v1h-1zM4 26h1v1h-1zM35 27h1v1h-1zM32 28h1v1h-1zM48 29h1v1h-1zM11 31h1v1h-1zM24 31h1v1h-1zM56 31h1v1h-1zM15 32h1v1h-1zM36 32h1v1h-1zM16 33h1v1h-1zM18 34h1v1h-1zM40 34h1v1h-1zM43 34h1v1h-1z"/>
<path fill="#c7d51f" d="M30 23h1v1h-1zM6 26h1v1h-1zM27 26h1v1h-1zM51 26h1v1h-1zM11 27h1v1h-1zM26 28h1v1h-1zM33 28h1v1h-1zM49 28h1v1h-1zM35 29h1v1h-1zM8 30h1v1h-1zM48 30h1v1h-1zM51 30h1v1h-1zM53 30h1v1h-1zM3 31h1v1h-1zM48 32h1v1h-1zM37 33h1v1h-1zM22 34h1v1h-1zM23 35h1v1h-1zM39 37h1v1h-1zM17 38h1v1h-1zM19 39h1v1h-1zM42 39h1v1h-1z"/>
<path fill="#c2d321" d="M31 23h1v1h-1zM10 26h1v1h-1zM34 26h1v1h-1zM55 26h1v1h-1zM28 28h1v1h-1zM35 28h1v1h-1zM9 30h1v1h-1zM25 30h1v1h-1zM35 30h1v1h-1zM52 30h1v1h-1zM47 31h1v1h-1zM49 31h1v1h-1zM57 31h1v1h-1zM23 33h2v1h-2zM39 34h1v1h-1zM44 34h1v1h-1zM47 34h1v1h-1zM16 37h1v1h-1zM21 38h1v1h-1z"/>
<path fill="#aac828" d="M32 23h1v1h-1zM33 24h1v1h-1zM8 25h1v1h-1zM52 25h1v1h-1zM50 26h1v1h-1zM57 26h1v1h-1zM49 27h1v1h-1zM29 28h1v1h-1zM36 29h1v1h-1zM5 31h1v1h-1zM37 31h1v1h-1zM23 32h1v1h-1zM22 33h1v1h-1zM48 33h1v1h-1zM19 34h2v1h-2zM24 34h1v1h-1zM42 34h1v1h-1zM14 35h1v1h-1zM23 36h1v1h-1zM46 36h1v1h-1zM43 39h1v1h-1z"/>
<path fill="#3e7f72" d="M52 23h1v1h-1zM4 24h1v1h-1zM57 24h1v1h-1zM14 28h1v1h-1zM37 28h1v1h-1zM46 29h1v1h-1zM29 30h1v1h-1zM18 32h1v1h-1zM41 32h1v1h-1zM50 33h1v1h-1zM56 33h1v1h-1zM39 40h1v1h-1zM43 41h1v1h-1z"/>
<path fill="#62b337" d="M8 24h2v1h-2zM52 24h2v1h-2zM57 25h1v1h-1zM12 26h1v1h-1zM36 27h1v1h-1zM29 29h1v1h-1zM35 32h1v1h-1zM50 32h1v1h-1zM56 32h1v1h-1zM12 33h1v1h-1zM19 33h1v1h-1zM42 33h1v1h-1zM39 39h1v1h-1zM43 40h1v1h-1z"/>
<path fill="#42856e" d="M11 24h1v1h-1zM35 24h1v1h-1zM12 25h1v1h-1zM32 30h1v1h-1zM20 32h1v1h-1zM4 33h1v1h-1zM35 33h1v1h-1zM12 34h1v1h-1zM46 38h1v1h-1zM18 41h1v1h-1z"/>
<path fill="#5671b8" d="M25 24h1v1h-1zM14 27h1v1h-1zM23 28h1v1h-1zM18 31h1v1h-1zM41 31h1v1h-1zM28 32h1v1h-1zM27 33h1v1h-1zM7 34h3v1h-3zM51 34h4v1h-4zM2 35h3v1h-3zM57 35h3v1h-3zM15 40h1v1h-1zM23 40h1v1h-1zM45 41h1v1h-1zM17 42h1v1h-1zM44 42h1v1h-1zM19 43h1v1h-1zM41 43h2v1h-2z"/>
<path fill="#b7ce23" d="M28 24h1v1h-1zM56 26h1v1h-1zM27 29h1v1h-1zM26 30h1v1h-1zM14 31h1v1h-1zM21 34h1v1h-1zM15 36h1v1h-1zM45 37h1v1h-1zM44 38h1v1h-1zM18 39h1v1h-1zM20 39h1v1h-1z"/>
<path fill="#d7d91b" d="M29 24h1v1h-1zM8 26h1v1h-1zM33 26h1v1h-1zM53 26h1v1h-1zM4 27h1v1h-1zM29 27h4v1h-4zM57 27h1v1h-1zM49 29h1v1h-1zM6 30h1v1h-1zM11 30h2v1h-2zM0 31h2v1h-2zM60 31h1v1h-1zM14 33h1v1h-1zM15 34h1v1h-1zM46 34h1v1h-1zM15 35h1v1h-1zM18 35h2v1h-2zM42 35h2v1h-2zM39 36h1v1h-1zM45 36h1v1h-1z"/>
<path fill="#e8e315" d="M30 24h1v1h-1zM29 26h1v1h-1zM32 26h1v1h-1zM6 27h1v1h-1zM9 27h1v1h-1zM52 27h1v1h-1zM1 28h1v1h-1zM10 28h1v1h-1zM60 28h1v1h-1zM9 29h1v1h-1zM51 29h2v1h-2zM4 30h1v1h-1zM57 30h1v1h-1zM17 36h1v1h-1zM43 36h1v1h-1z"/>
<path fill="#e5e117" d="M31 24h1v1h-1zM29 25h1v1h-1zM55 27h1v1h-1zM10 29h1v1h-1zM50 29h1v1h-1zM56 30h1v1h-1zM20 36h1v1h-1zM41 36h1v1h-1zM44 36h1v1h-1zM17 37h1v1h-1zM18 38h1v1h-1zM41 38h1v1h-1z"/>
<path fill="#cdd61e" d="M32 24h1v1h-1zM33 25h1v1h-1zM54 26h1v1h-1zM0 27h2v1h-2zM34 27h1v1h-1zM50 27h1v1h-1zM59 27h2v1h-2zM26 29h1v1h-1zM7 30h1v1h-1zM10 30h1v1h-1zM12 31h2v1h-2zM48 31h1v1h-1zM58 31h1v1h-1zM14 32h1v1h-1zM15 33h1v1h-1zM14 34h1v1h-1zM16 34h1v1h-1zM23 34h1v1h-1zM38 34h1v1h-1zM38 35h1v1h-1zM46 35h1v1h-1zM40 38h1v1h-1z"/>
<path fill="#5cb139" d="M3 25h1v1h-1zM35 25h1v1h-1zM58 25h1v1h-1zM14 29h1v1h-1zM46 30h1v1h-1zM5 32h1v1h-1zM44 32h1v1h-1z"/>
<path fill="#68b535" d="M4 25h1v1h-1zM11 25h1v1h-1zM24 29h1v1h-1zM32 29h1v1h-1zM11 32h1v1h-1zM18 33h1v1h-1zM20 33h1v1h-1zM25 33h1v1h-1zM41 33h1v1h-1zM37 36h1v1h-1zM46 37h1v1h-1zM18 40h1v1h-1z"/>
<path fill="#9cc32d" d="M7 25h1v1h-1zM54 25h1v1h-1zM2 26h1v1h-1zM11 26h1v1h-1zM59 26h1v1h-1zM30 28h2v1h-2zM13 29h1v1h-1zM6 31h1v1h-1zM35 31h1v1h-1zM55 31h1v1h-1zM0 32h1v1h-1zM25 32h1v1h-1zM38 32h1v1h-1zM37 35h1v1h-1zM39 38h1v1h-1zM40 39h1v1h-1z"/>
<path fill="#a3c52b" d="M9 25h1v1h-1zM34 25h1v1h-1zM53 25h1v1h-1zM3 26h1v1h-1zM26 26h1v1h-1zM58 26h1v1h-1zM25 28h1v1h-1zM47 30h1v1h-1zM50 31h1v1h-1zM12 32h1v1h-1zM39 33h1v1h-1zM41 34h1v1h-1z"/>
<path fill="#d2d81c" d="M28 25h1v1h-1zM7 26h1v1h-1zM9 26h1v1h-1zM52 26h1v1h-1zM2 27h2v1h-2zM27 27h1v1h-1zM58 27h1v1h-1zM27 28h1v1h-1zM34 28h1v1h-1zM12 29h1v1h-1zM50 30h1v1h-1zM54 30h1v1h-1zM2 31h1v1h-1zM59 31h1v1h-1zM13 32h1v1h-1zM47 32h1v1h-1zM46 33h2v1h-2zM45 34h1v1h-1zM20 35h3v1h-3zM39 35h3v1h-3zM22 36h1v1h-1z"/>
<path fill="#f8e520" d="M30 25h1v1h-1zM30 26h1v1h-1zM6 28h1v1h-1zM8 28h1v1h-1zM52 28h2v1h-2zM55 28h1v1h-1zM3 29h4v1h-4zM55 29h4v1h-4zM0 30h2v1h-2zM60 30h1v1h-1zM18 37h2v1h-2z"/>
<path fill="#f3e720" d="M31 25h1v1h-1zM31 26h1v1h-1zM5 28h1v1h-1zM9 28h1v1h-1zM56 28h1v1h-1zM7 29h1v1h-1zM54 29h1v1h-1zM2 30h1v1h-1zM59 30h1v1h-1zM43 37h1v1h-1z"/>
<path fill="#e0de19" d="M32 25h1v1h-1zM28 26h1v1h-1zM5 27h1v1h-1zM51 27h1v1h-1zM50 28h1v1h-1zM11 29h1v1h-1zM5 30h1v1h-1zM21 36h1v1h-1zM40 36h1v1h-1zM40 37h1v1h-1zM20 38h1v1h-1z"/>
<path fill="#94c22e" d="M51 25h1v1h-1zM0 26h2v1h-2zM60 26h1v1h-1zM12 27h1v1h-1zM33 29h1v1h-1zM24 30h1v1h-1zM46 31h1v1h-1zM1 32h1v1h-1zM49 32h1v1h-1zM60 32h1v1h-1zM44 33h1v1h-1z"/>
<path fill="#bdd022" d="M5 26h1v1h-1zM26 27h1v1h-1zM12 28h1v1h-1zM25 29h1v1h-1zM34 29h1v1h-1zM13 30h1v1h-1zM36 30h1v1h-1zM4 31h1v1h-1zM25 31h1v1h-1zM36 31h1v1h-1zM24 32h1v1h-1zM37 32h1v1h-1zM46 32h1v1h-1zM13 33h1v1h-1zM38 33h1v1h-1zM45 33h1v1h-1zM17 34h1v1h-1zM37 34h1v1h-1zM38 36h1v1h-1zM22 37h1v1h-1zM41 39h1v1h-1z"/>
<path fill="#ede518" d="M7 27h2v1h-2zM53 27h2v1h-2zM0 28h1v1h-1zM2 28h3v1h-3zM51 28h1v1h-1zM57 28h3v1h-3zM8 29h1v1h-1zM53 29h1v1h-1zM3 30h1v1h-1zM58 30h1v1h-1zM18 36h2v1h-2zM42 36h1v1h-1zM20 37h1v1h-1zM41 37h1v1h-1zM19 38h1v1h-1zM42 38h1v1h-1z"/>
<path fill="#dbdb1a" d="M10 27h1v1h-1zM28 27h1v1h-1zM33 27h1v1h-1zM56 27h1v1h-1zM11 28h1v1h-1zM49 30h1v1h-1zM55 30h1v1h-1zM16 35h2v1h-2zM44 35h2v1h-2zM16 36h1v1h-1zM21 37h1v1h-1zM44 37h1v1h-1zM43 38h1v1h-1z"/>
<path fill="#7ebc30" d="M25 27h1v1h-1zM27 30h1v1h-1zM37 30h1v1h-1zM8 31h2v1h-2zM15 31h1v1h-1zM23 31h1v1h-1zM52 31h2v1h-2zM3 32h1v1h-1zM16 32h1v1h-1zM22 32h1v1h-1zM40 33h1v1h-1zM24 35h1v1h-1zM15 37h1v1h-1zM19 40h1v1h-1zM42 40h1v1h-1z"/>
<path fill="#fbdf17" d="M7 28h1v1h-1zM54 28h1v1h-1zM0 29h3v1h-3zM59 29h2v1h-2zM42 37h1v1h-1z"/>
</g></g>
<clipPath id="c02"><rect x="1134.00" y="31.30" width="396.40" height="396.20"/></clipPath>
<g clip-path="url(#c02)"><g transform="translate(1128.393 25.675) scale(6.60667 6.27000)">
<rect x="0" y="0" width="61" height="65" fill="#f6f5e3"/>
<path fill="#f6f6e4" d="M0 0h1v1h-1zM2 0h2v1h-2zM9 0h1v1h-1zM12 0h1v1h-1zM14 0h1v1h-1zM16 0h1v1h-1zM18 0h1v1h-1zM20 0h3v1h-3zM24 0h1v1h-1zM27 0h1v1h-1zM29 0h1v1h-1zM34 0h2v1h-2zM37 0h4v1h-4zM42 0h1v1h-1zM45 0h1v1h-1zM47 0h1v1h-1zM49 0h5v1h-5zM55 0h1v1h-1zM0 1h1v1h-1zM2 1h1v1h-1zM12 1h2v1h-2zM15 1h2v1h-2zM18 1h1v1h-1zM20 1h1v1h-1zM27 1h2v1h-2zM33 1h1v1h-1zM35 1h1v1h-1zM38 1h2v1h-2zM41 1h2v1h-2zM47 1h1v1h-1zM49 1h1v1h-1zM53 1h1v1h-1zM60 1h1v1h-1zM0 2h2v1h-2zM10 2h2v1h-2zM15 2h1v1h-1zM19 2h1v1h-1zM21 2h2v1h-2zM25 2h1v1h-1zM27 2h1v1h-1zM29 2h2v1h-2zM32 2h2v1h-2zM36 2h3v1h-3zM41 2h1v1h-1zM43 2h1v1h-1zM46 2h1v1h-1zM48 2h2v1h-2zM55 2h1v1h-1zM60 2h1v1h-1zM0 3h2v1h-2zM10 3h1v1h-1zM23 3h1v1h-1zM27 3h1v1h-1zM29 3h3v1h-3zM33 3h2v1h-2zM38 3h1v1h-1zM41 3h1v1h-1zM45 3h2v1h-2zM48 3h4v1h-4zM54 3h2v1h-2zM60 3h1v1h-1zM0 4h2v1h-2zM3 4h1v1h-1zM12 4h1v1h-1zM18 4h1v1h-1zM21 4h2v1h-2zM28 4h1v1h-1zM34 4h1v1h-1zM37 4h1v1h-1zM39 4h1v1h-1zM41 4h1v1h-1zM43 4h2v1h-2zM46 4h3v1h-3zM51 4h1v1h-1zM53 4h4v1h-4zM0 5h1v1h-1zM2 5h1v1h-1zM9 5h2v1h-2zM13 5h1v1h-1zM18 5h1v1h-1zM20 5h3v1h-3zM25 5h1v1h-1zM28 5h1v1h-1zM30 5h1v1h-1zM35 5h3v1h-3zM39 5h1v1h-1zM41 5h1v1h-1zM44 5h1v1h-1zM46 5h1v1h-1zM48 5h1v1h-1zM50 5h1v1h-1zM53 5h1v1h-1zM57 5h2v1h-2zM0 6h1v1h-1zM10 6h1v1h-1zM15 6h1v1h-1zM17 6h3v1h-3zM21 6h1v1h-1zM24 6h2v1h-2zM28 6h1v1h-1zM31 6h1v1h-1zM37 6h2v1h-2zM41 6h2v1h-2zM44 6h1v1h-1zM48 6h1v1h-1zM50 6h1v1h-1zM58 6h1v1h-1zM60 6h1v1h-1zM0 7h1v1h-1zM3 7h1v1h-1zM8 7h1v1h-1zM13 7h1v1h-1zM16 7h4v1h-4zM21 7h1v1h-1zM23 7h3v1h-3zM28 7h3v1h-3zM32 7h2v1h-2zM37 7h3v1h-3zM42 7h1v1h-1zM46 7h1v1h-1zM49 7h2v1h-2zM53 7h1v1h-1zM55 7h1v1h-1zM58 7h1v1h-1zM60 7h1v1h-1zM0 8h5v1h-5zM7 8h2v1h-2zM13 8h2v1h-2zM17 8h3v1h-3zM24 8h1v1h-1zM28 8h4v1h-4zM37 8h2v1h-2zM45 8h1v1h-1zM47 8h4v1h-4zM53 8h2v1h-2zM59 8h1v1h-1zM4 9h2v1h-2zM9 9h1v1h-1zM11 9h1v1h-1zM13 9h3v1h-3zM17 9h2v1h-2zM23 9h1v1h-1zM26 9h1v1h-1zM28 9h1v1h-1zM30 9h3v1h-3zM34 9h1v1h-1zM36 9h3v1h-3zM41 9h1v1h-1zM48 9h1v1h-1zM50 9h1v1h-1zM60 9h1v1h-1zM1 10h1v1h-1zM3 10h1v1h-1zM5 10h1v1h-1zM7 10h2v1h-2zM12 10h1v1h-1zM15 10h2v1h-2zM18 10h1v1h-1zM20 10h5v1h-5zM26 10h1v1h-1zM30 10h4v1h-4zM36 10h1v1h-1zM39 10h3v1h-3zM48 10h1v1h-1zM51 10h1v1h-1zM55 10h1v1h-1zM57 10h2v1h-2zM2 11h1v1h-1zM7 11h1v1h-1zM9 11h4v1h-4zM15 11h2v1h-2zM18 11h1v1h-1zM23 11h2v1h-2zM27 11h1v1h-1zM33 11h1v1h-1zM35 11h2v1h-2zM40 11h2v1h-2zM43 11h1v1h-1zM51 11h1v1h-1zM55 11h3v1h-3zM59 11h1v1h-1zM0 12h1v1h-1zM3 12h1v1h-1zM5 12h1v1h-1zM9 12h2v1h-2zM12 12h1v1h-1zM15 12h2v1h-2zM19 12h3v1h-3zM29 12h1v1h-1zM33 12h1v1h-1zM36 12h3v1h-3zM41 12h1v1h-1zM43 12h1v1h-1zM46 12h1v1h-1zM48 12h1v1h-1zM51 12h1v1h-1zM59 12h1v1h-1zM0 13h7v1h-7zM9 13h1v1h-1zM12 13h1v1h-1zM20 13h1v1h-1zM34 13h3v1h-3zM38 13h2v1h-2zM41 13h1v1h-1zM45 13h1v1h-1zM49 13h1v1h-1zM52 13h3v1h-3zM57 13h1v1h-1zM59 13h2v1h-2zM5 14h3v1h-3zM9 14h1v1h-1zM11 14h2v1h-2zM20 14h2v1h-2zM24 14h1v1h-1zM32 14h1v1h-1zM34 14h1v1h-1zM39 14h1v1h-1zM42 14h1v1h-1zM46 14h2v1h-2zM49 14h1v1h-1zM51 14h2v1h-2zM54 14h1v1h-1zM57 14h2v1h-2zM60 14h1v1h-1zM1 15h2v1h-2zM5 15h1v1h-1zM7 15h1v1h-1zM10 15h3v1h-3zM14 15h2v1h-2zM19 15h3v1h-3zM28 15h1v1h-1zM33 15h2v1h-2zM36 15h1v1h-1zM39 15h2v1h-2zM44 15h2v1h-2zM49 15h1v1h-1zM51 15h4v1h-4zM58 15h2v1h-2zM1 16h2v1h-2zM10 16h1v1h-1zM13 16h1v1h-1zM18 16h1v1h-1zM20 16h1v1h-1zM28 16h2v1h-2zM31 16h4v1h-4zM36 16h2v1h-2zM39 16h2v1h-2zM42 16h1v1h-1zM44 16h3v1h-3zM50 16h1v1h-1zM53 16h2v1h-2zM57 16h1v1h-1zM59 16h1v1h-1zM0 17h1v1h-1zM3 17h1v1h-1zM7 17h2v1h-2zM10 17h4v1h-4zM16 17h1v1h-1zM18 17h1v1h-1zM20 17h1v1h-1zM23 17h1v1h-1zM30 17h3v1h-3zM34 17h1v1h-1zM45 17h2v1h-2zM48 17h2v1h-2zM0 18h1v1h-1zM3 18h3v1h-3zM8 18h1v1h-1zM10 18h4v1h-4zM15 18h2v1h-2zM18 18h1v1h-1zM22 18h2v1h-2zM28 18h1v1h-1zM31 18h2v1h-2zM35 18h3v1h-3zM40 18h1v1h-1zM44 18h1v1h-1zM47 18h1v1h-1zM49 18h2v1h-2zM54 18h1v1h-1zM59 18h2v1h-2zM9 19h3v1h-3zM13 19h5v1h-5zM20 19h1v1h-1zM22 19h1v1h-1zM24 19h1v1h-1zM35 19h1v1h-1zM37 19h1v1h-1zM40 19h1v1h-1zM44 19h1v1h-1zM47 19h1v1h-1zM49 19h1v1h-1zM60 19h1v1h-1zM5 20h1v1h-1zM13 20h2v1h-2zM18 20h1v1h-1zM20 20h1v1h-1zM38 20h3v1h-3zM42 20h1v1h-1zM46 20h2v1h-2zM49 20h1v1h-1zM51 20h1v1h-1zM53 20h1v1h-1zM57 20h3v1h-3zM1 21h1v1h-1zM5 21h1v1h-1zM16 21h1v1h-1zM26 21h2v1h-2zM38 21h2v1h-2zM46 21h1v1h-1zM48 21h1v1h-1zM52 21h1v1h-1zM15 22h1v1h-1zM26 22h1v1h-1zM39 22h1v1h-1zM60 22h1v1h-1zM20 23h1v1h-1zM28 23h1v1h-1zM55 23h1v1h-1zM60 23h1v1h-1zM30 24h1v1h-1zM4 26h2v1h-2zM4 27h1v1h-1zM5 43h1v1h-1zM16 46h1v1h-1zM25 46h1v1h-1zM43 46h1v1h-1zM14 47h2v1h-2zM30 47h1v1h-1zM26 48h1v1h-1zM21 51h1v1h-1zM26 51h1v1h-1zM21 52h1v1h-1zM21 60h1v1h-1z"/>
<path fill="#f7f3e1" d="M1 0h1v1h-1zM4 0h2v1h-2zM28 0h1v1h-1zM46 0h1v1h-1zM54 0h1v1h-1zM1 1h1v1h-1zM4 1h3v1h-3zM9 1h1v1h-1zM14 1h1v1h-1zM24 1h1v1h-1zM31 1h1v1h-1zM36 1h1v1h-1zM45 1h2v1h-2zM51 1h1v1h-1zM9 2h1v1h-1zM24 2h1v1h-1zM40 2h1v1h-1zM51 2h2v1h-2zM56 2h3v1h-3zM13 3h2v1h-2zM19 3h1v1h-1zM56 3h4v1h-4zM8 4h1v1h-1zM11 4h1v1h-1zM13 4h1v1h-1zM19 4h1v1h-1zM4 5h1v1h-1zM14 5h1v1h-1zM16 5h1v1h-1zM29 5h1v1h-1zM31 5h1v1h-1zM49 5h1v1h-1zM59 5h1v1h-1zM1 6h1v1h-1zM4 6h3v1h-3zM12 6h1v1h-1zM14 6h1v1h-1zM22 6h1v1h-1zM32 6h1v1h-1zM56 6h1v1h-1zM1 7h1v1h-1zM35 7h1v1h-1zM54 7h1v1h-1zM57 7h1v1h-1zM21 8h1v1h-1zM27 8h1v1h-1zM36 8h1v1h-1zM40 8h1v1h-1zM44 8h1v1h-1zM56 8h2v1h-2zM6 9h1v1h-1zM19 9h1v1h-1zM27 9h1v1h-1zM43 9h1v1h-1zM45 9h1v1h-1zM47 9h1v1h-1zM57 9h1v1h-1zM4 10h1v1h-1zM29 10h1v1h-1zM42 10h1v1h-1zM45 10h1v1h-1zM47 10h1v1h-1zM49 10h1v1h-1zM4 11h1v1h-1zM25 11h1v1h-1zM32 11h1v1h-1zM42 11h1v1h-1zM45 11h1v1h-1zM54 11h1v1h-1zM60 11h1v1h-1zM14 12h1v1h-1zM24 12h2v1h-2zM30 12h1v1h-1zM32 12h1v1h-1zM39 12h1v1h-1zM57 12h1v1h-1zM60 12h1v1h-1zM25 13h3v1h-3zM30 13h1v1h-1zM43 13h1v1h-1zM47 13h1v1h-1zM50 13h1v1h-1zM56 13h1v1h-1zM8 14h1v1h-1zM10 14h1v1h-1zM13 14h1v1h-1zM15 14h2v1h-2zM18 14h1v1h-1zM25 14h2v1h-2zM8 15h2v1h-2zM22 15h2v1h-2zM25 15h1v1h-1zM41 15h1v1h-1zM48 15h1v1h-1zM8 16h2v1h-2zM17 16h1v1h-1zM35 16h1v1h-1zM1 17h1v1h-1zM9 17h1v1h-1zM19 17h1v1h-1zM53 17h1v1h-1zM14 18h1v1h-1zM21 18h1v1h-1zM24 18h1v1h-1zM26 18h2v1h-2zM39 18h1v1h-1zM48 18h1v1h-1zM51 18h3v1h-3zM4 19h1v1h-1zM7 19h1v1h-1zM21 19h1v1h-1zM30 19h1v1h-1zM48 19h1v1h-1zM58 19h1v1h-1zM2 20h1v1h-1zM4 20h1v1h-1zM9 20h1v1h-1zM12 20h1v1h-1zM22 20h2v1h-2zM28 20h1v1h-1zM0 21h1v1h-1zM4 21h1v1h-1zM7 21h1v1h-1zM11 21h1v1h-1zM15 21h1v1h-1zM21 21h2v1h-2zM24 21h2v1h-2zM44 21h2v1h-2zM49 21h2v1h-2zM56 21h1v1h-1zM60 21h1v1h-1zM2 22h1v1h-1zM6 22h2v1h-2zM17 22h1v1h-1zM21 22h3v1h-3zM25 22h1v1h-1zM41 22h1v1h-1zM43 22h4v1h-4zM49 22h1v1h-1zM51 22h1v1h-1zM54 22h1v1h-1zM1 23h1v1h-1zM5 23h1v1h-1zM7 23h1v1h-1zM9 23h1v1h-1zM11 23h1v1h-1zM14 23h1v1h-1zM16 23h1v1h-1zM19 23h1v1h-1zM21 23h1v1h-1zM23 23h2v1h-2zM39 23h1v1h-1zM41 23h1v1h-1zM50 23h1v1h-1zM52 23h1v1h-1zM57 23h1v1h-1zM0 24h1v1h-1zM2 24h1v1h-1zM4 24h1v1h-1zM20 24h1v1h-1zM26 24h1v1h-1zM28 24h1v1h-1zM40 24h1v1h-1zM54 24h1v1h-1zM56 24h1v1h-1zM4 25h1v1h-1zM6 25h1v1h-1zM34 25h3v1h-3zM54 26h1v1h-1zM5 28h1v1h-1zM54 28h1v1h-1zM3 40h1v1h-1zM16 45h1v1h-1zM48 45h1v1h-1zM39 46h2v1h-2zM16 47h1v1h-1zM25 47h2v1h-2zM43 47h1v1h-1zM16 49h1v1h-1zM24 49h1v1h-1zM38 49h1v1h-1zM5 50h1v1h-1zM17 51h1v1h-1zM15 52h1v1h-1zM17 52h1v1h-1zM46 55h1v1h-1zM48 60h1v1h-1zM55 60h1v1h-1z"/>
<path fill="#f4f5e6" d="M19 0h1v1h-1zM33 0h1v1h-1zM41 0h1v1h-1zM19 1h1v1h-1zM37 1h1v1h-1zM43 1h1v1h-1zM50 1h1v1h-1zM18 2h1v1h-1zM20 2h1v1h-1zM50 2h1v1h-1zM21 3h1v1h-1zM24 3h1v1h-1zM28 3h1v1h-1zM37 3h1v1h-1zM44 3h1v1h-1zM53 3h1v1h-1zM7 4h1v1h-1zM40 4h1v1h-1zM33 5h1v1h-1zM30 6h1v1h-1zM39 6h2v1h-2zM46 6h1v1h-1zM51 6h1v1h-1zM7 7h1v1h-1zM31 7h1v1h-1zM45 7h1v1h-1zM48 7h1v1h-1zM12 8h1v1h-1zM15 8h1v1h-1zM39 8h1v1h-1zM60 8h1v1h-1zM0 9h3v1h-3zM12 9h1v1h-1zM53 9h2v1h-2zM59 9h1v1h-1zM9 10h3v1h-3zM28 10h1v1h-1zM34 10h1v1h-1zM8 11h1v1h-1zM20 11h1v1h-1zM7 12h1v1h-1zM44 12h2v1h-2zM52 12h1v1h-1zM55 12h2v1h-2zM7 13h1v1h-1zM11 13h1v1h-1zM19 13h1v1h-1zM21 13h2v1h-2zM46 13h1v1h-1zM51 13h1v1h-1zM55 13h1v1h-1zM0 14h2v1h-2zM4 14h1v1h-1zM19 14h1v1h-1zM35 14h1v1h-1zM55 14h1v1h-1zM59 14h1v1h-1zM6 15h1v1h-1zM11 16h1v1h-1zM21 16h1v1h-1zM41 16h1v1h-1zM49 16h1v1h-1zM37 17h3v1h-3zM41 17h1v1h-1zM44 17h1v1h-1zM33 18h2v1h-2zM38 18h1v1h-1zM46 18h1v1h-1zM0 19h1v1h-1zM3 19h1v1h-1zM5 19h1v1h-1zM8 19h1v1h-1zM46 19h1v1h-1zM54 19h1v1h-1zM56 19h2v1h-2zM52 20h1v1h-1zM54 20h1v1h-1zM28 22h1v1h-1zM2 23h1v1h-1zM27 23h1v1h-1zM30 23h1v1h-1zM37 24h1v1h-1zM5 25h1v1h-1zM8 25h1v1h-1zM33 25h1v1h-1zM3 26h1v1h-1zM33 26h1v1h-1zM55 26h1v1h-1zM44 45h1v1h-1zM41 47h1v1h-1zM23 49h1v1h-1z"/>
<path fill="#f2f4e8" d="M28 2h1v1h-1zM40 5h1v1h-1zM33 6h1v1h-1zM2 10h1v1h-1zM28 11h1v1h-1zM11 12h1v1h-1zM29 19h1v1h-1zM36 19h1v1h-1zM30 20h1v1h-1zM34 20h1v1h-1zM37 20h1v1h-1zM37 21h1v1h-1zM29 23h1v1h-1zM31 24h1v1h-1zM55 24h1v1h-1zM6 26h1v1h-1zM19 43h1v1h-1zM42 45h1v1h-1zM23 48h1v1h-1zM11 49h1v1h-1zM33 49h1v1h-1zM19 51h1v1h-1zM26 52h1v1h-1z"/>
<path fill="#f7f2e0" d="M8 3h1v1h-1zM59 4h1v1h-1zM54 6h1v1h-1zM36 7h1v1h-1zM56 7h1v1h-1zM50 14h1v1h-1zM25 16h1v1h-1zM19 20h1v1h-1zM44 20h1v1h-1zM2 21h1v1h-1zM10 21h1v1h-1zM19 21h1v1h-1zM28 21h1v1h-1zM3 22h1v1h-1zM5 22h1v1h-1zM13 22h2v1h-2zM40 22h1v1h-1zM50 22h1v1h-1zM57 22h2v1h-2zM3 23h1v1h-1zM6 23h1v1h-1zM8 23h1v1h-1zM12 23h1v1h-1zM17 23h1v1h-1zM40 23h1v1h-1zM43 23h5v1h-5zM51 23h1v1h-1zM54 23h1v1h-1zM58 23h2v1h-2zM1 24h1v1h-1zM9 24h1v1h-1zM11 24h1v1h-1zM19 24h1v1h-1zM22 24h1v1h-1zM25 24h1v1h-1zM36 24h1v1h-1zM42 24h1v1h-1zM48 24h1v1h-1zM52 24h1v1h-1zM57 24h1v1h-1zM2 25h1v1h-1zM7 25h1v1h-1zM9 25h1v1h-1zM40 25h1v1h-1zM47 25h1v1h-1zM46 26h1v1h-1zM18 44h1v1h-1zM23 44h1v1h-1zM20 46h1v1h-1zM24 46h1v1h-1zM50 46h1v1h-1zM51 47h1v1h-1zM14 48h1v1h-1zM18 48h1v1h-1zM22 48h1v1h-1zM5 49h1v1h-1zM37 49h1v1h-1zM42 49h1v1h-1zM14 50h1v1h-1zM17 50h1v1h-1zM20 51h1v1h-1zM12 52h1v1h-1zM16 52h1v1h-1zM38 52h1v1h-1zM17 53h1v1h-1zM25 53h1v1h-1zM38 56h1v1h-1zM43 56h1v1h-1zM25 59h1v1h-1zM40 62h1v1h-1zM8 63h1v1h-1z"/>
<path fill="#f1f4e9" d="M31 19h1v1h-1zM29 20h1v1h-1zM36 20h1v1h-1zM29 21h2v1h-2zM27 22h1v1h-1zM29 22h2v1h-2zM35 23h1v1h-1zM37 23h1v1h-1zM54 27h1v1h-1zM3 29h1v1h-1zM41 49h1v1h-1zM19 50h2v1h-2z"/>
<path fill="#eef3ec" d="M32 19h1v1h-1zM35 20h1v1h-1zM36 23h1v1h-1zM34 24h1v1h-1zM55 25h1v1h-1zM55 27h1v1h-1zM1 38h1v1h-1zM1 39h1v1h-1zM41 46h1v1h-1zM39 47h1v1h-1zM20 49h1v1h-1z"/>
<path fill="#ebf3ef" d="M33 19h1v1h-1zM35 21h1v1h-1zM33 24h1v1h-1zM5 27h1v1h-1zM44 46h1v1h-1zM19 48h1v1h-1zM24 48h1v1h-1zM21 49h1v1h-1zM18 50h1v1h-1z"/>
<path fill="#e8f2f2" d="M31 20h2v1h-2zM19 44h1v1h-1zM20 48h1v1h-1zM42 48h1v1h-1z"/>
<path fill="#e3f1f4" d="M33 20h1v1h-1zM15 48h1v1h-1zM18 49h1v1h-1z"/>
<path fill="#ddeef3" d="M31 21h1v1h-1zM33 21h1v1h-1zM33 22h1v1h-1zM40 49h1v1h-1z"/>
<path fill="#e6f2f4" d="M32 21h1v1h-1zM17 49h1v1h-1z"/>
<path fill="#e9f3f1" d="M34 21h1v1h-1zM41 48h1v1h-1z"/>
<path fill="#ecf3ee" d="M36 21h1v1h-1zM35 22h1v1h-1zM37 22h1v1h-1zM31 23h1v1h-1zM32 24h1v1h-1zM55 28h1v1h-1zM17 48h1v1h-1z"/>
<path fill="#f7f1df" d="M10 22h1v1h-1zM18 22h2v1h-2zM10 23h1v1h-1zM13 23h1v1h-1zM38 23h1v1h-1zM49 23h1v1h-1zM7 24h1v1h-1zM15 24h1v1h-1zM18 24h1v1h-1zM24 24h1v1h-1zM27 24h1v1h-1zM29 24h1v1h-1zM38 24h1v1h-1zM41 24h1v1h-1zM45 24h3v1h-3zM50 24h1v1h-1zM60 24h1v1h-1zM22 25h1v1h-1zM30 25h2v1h-2zM42 25h1v1h-1zM45 25h1v1h-1zM48 25h2v1h-2zM56 25h1v1h-1zM29 26h1v1h-1zM31 26h1v1h-1zM3 27h1v1h-1zM6 27h1v1h-1zM1 28h1v1h-1zM4 28h1v1h-1zM5 36h1v1h-1zM38 43h1v1h-1zM60 44h1v1h-1zM60 45h1v1h-1zM10 46h1v1h-1zM19 46h1v1h-1zM46 46h1v1h-1zM24 47h1v1h-1zM16 48h1v1h-1zM38 48h1v1h-1zM43 48h1v1h-1zM15 49h1v1h-1zM43 49h1v1h-1zM47 49h1v1h-1zM23 50h2v1h-2zM45 50h1v1h-1zM38 55h1v1h-1zM56 58h1v1h-1zM26 63h1v1h-1zM44 63h1v1h-1z"/>
<path fill="#d6ebf2" d="M31 22h1v1h-1zM32 23h1v1h-1z"/>
<path fill="#cce6f0" d="M32 22h1v1h-1z"/>
<path fill="#c3e3ef" d="M34 22h1v1h-1z"/>
<path fill="#eff4eb" d="M36 22h1v1h-1zM4 39h1v1h-1zM26 46h1v1h-1zM19 47h1v1h-1zM19 49h1v1h-1z"/>
<path fill="#f8eedc" d="M18 23h1v1h-1zM44 24h1v1h-1zM51 24h1v1h-1zM59 24h1v1h-1zM14 25h1v1h-1zM17 25h1v1h-1zM28 25h1v1h-1zM37 25h2v1h-2zM54 25h1v1h-1zM57 25h1v1h-1zM34 26h1v1h-1zM49 26h1v1h-1zM58 26h1v1h-1zM2 27h1v1h-1zM5 29h1v1h-1zM5 37h1v1h-1zM3 41h1v1h-1zM9 42h1v1h-1zM13 43h1v1h-1zM46 43h1v1h-1zM30 44h1v1h-1zM54 44h1v1h-1zM7 45h1v1h-1zM19 45h1v1h-1zM41 45h1v1h-1zM48 46h2v1h-2zM53 46h1v1h-1zM17 47h1v1h-1zM45 47h2v1h-2zM39 48h1v1h-1zM12 49h1v1h-1zM25 49h2v1h-2zM60 49h1v1h-1zM0 50h1v1h-1zM40 50h1v1h-1zM42 50h1v1h-1zM53 50h1v1h-1zM15 51h1v1h-1zM4 52h1v1h-1zM58 52h1v1h-1zM16 53h1v1h-1zM18 53h1v1h-1zM33 53h1v1h-1zM8 55h1v1h-1zM37 55h1v1h-1zM12 56h1v1h-1zM38 57h1v1h-1zM55 57h1v1h-1zM0 58h1v1h-1zM13 58h1v1h-1zM16 58h1v1h-1zM53 58h1v1h-1zM0 59h1v1h-1zM28 61h1v1h-1zM40 61h1v1h-1zM44 62h1v1h-1zM21 64h1v1h-1zM26 64h1v1h-1zM44 64h1v1h-1z"/>
<path fill="#e0eff3" d="M33 23h2v1h-2zM42 46h1v1h-1zM20 47h1v1h-1zM42 47h1v1h-1zM21 50h1v1h-1z"/>
<path fill="#f8efdd" d="M6 24h1v1h-1zM10 24h1v1h-1zM12 24h3v1h-3zM16 24h2v1h-2zM23 24h1v1h-1zM39 24h1v1h-1zM53 24h1v1h-1zM58 24h1v1h-1zM0 25h1v1h-1zM11 25h1v1h-1zM13 25h1v1h-1zM20 25h1v1h-1zM24 25h3v1h-3zM29 25h1v1h-1zM32 25h1v1h-1zM43 25h1v1h-1zM46 25h1v1h-1zM58 25h1v1h-1zM8 26h1v1h-1zM1 27h1v1h-1zM3 28h1v1h-1zM4 38h1v1h-1zM4 40h1v1h-1zM13 42h1v1h-1zM12 43h1v1h-1zM13 44h1v1h-1zM16 44h1v1h-1zM41 44h1v1h-1zM20 45h1v1h-1zM46 45h1v1h-1zM12 46h1v1h-1zM14 46h1v1h-1zM37 46h1v1h-1zM47 46h1v1h-1zM10 47h1v1h-1zM22 47h1v1h-1zM53 47h1v1h-1zM44 48h1v1h-1zM51 48h1v1h-1zM45 49h1v1h-1zM48 49h1v1h-1zM11 50h1v1h-1zM13 50h1v1h-1zM4 51h1v1h-1zM14 52h1v1h-1zM25 52h1v1h-1zM8 54h1v1h-1zM20 55h1v1h-1zM40 56h1v1h-1zM55 56h1v1h-1zM21 59h1v1h-1zM55 59h1v1h-1zM52 62h1v1h-1zM24 64h1v1h-1z"/>
<path fill="#f8eddb" d="M21 24h1v1h-1zM49 24h1v1h-1zM12 25h1v1h-1zM16 25h1v1h-1zM19 25h1v1h-1zM27 25h1v1h-1zM52 25h1v1h-1zM1 26h1v1h-1zM7 26h1v1h-1zM38 26h1v1h-1zM42 26h1v1h-1zM7 27h1v1h-1zM39 27h1v1h-1zM55 29h1v1h-1zM5 30h1v1h-1zM2 38h1v1h-1zM7 41h1v1h-1zM25 41h1v1h-1zM23 42h1v1h-1zM25 43h1v1h-1zM5 44h1v1h-1zM45 44h1v1h-1zM56 44h1v1h-1zM9 45h1v1h-1zM18 45h1v1h-1zM25 45h1v1h-1zM32 45h1v1h-1zM1 46h1v1h-1zM7 46h1v1h-1zM18 46h1v1h-1zM18 47h1v1h-1zM23 47h1v1h-1zM47 47h1v1h-1zM60 47h1v1h-1zM12 48h1v1h-1zM60 48h1v1h-1zM13 49h1v1h-1zM30 50h1v1h-1zM49 50h1v1h-1zM13 51h1v1h-1zM16 51h1v1h-1zM30 51h1v1h-1zM52 51h1v1h-1zM20 52h1v1h-1zM38 53h1v1h-1zM45 53h1v1h-1zM58 53h1v1h-1zM17 54h1v1h-1zM46 54h1v1h-1zM57 54h1v1h-1zM16 55h1v1h-1zM16 56h1v1h-1zM30 56h1v1h-1zM42 56h1v1h-1zM13 57h1v1h-1zM3 58h1v1h-1zM8 58h1v1h-1zM31 58h1v1h-1zM38 59h1v1h-1zM13 62h1v1h-1zM60 63h1v1h-1z"/>
<path fill="#f9ecda" d="M1 25h1v1h-1zM23 25h1v1h-1zM50 25h2v1h-2zM60 25h1v1h-1zM12 26h1v1h-1zM27 26h1v1h-1zM6 28h2v1h-2zM1 29h1v1h-1zM1 37h1v1h-1zM36 39h1v1h-1zM4 42h1v1h-1zM4 43h1v1h-1zM16 43h1v1h-1zM28 43h1v1h-1zM60 43h1v1h-1zM9 44h1v1h-1zM22 44h1v1h-1zM5 45h1v1h-1zM17 45h1v1h-1zM37 45h1v1h-1zM40 45h1v1h-1zM43 45h1v1h-1zM47 45h1v1h-1zM49 45h1v1h-1zM56 45h1v1h-1zM21 46h1v1h-1zM60 46h1v1h-1zM3 48h1v1h-1zM37 48h1v1h-1zM40 48h1v1h-1zM47 48h2v1h-2zM4 49h1v1h-1zM32 49h1v1h-1zM44 49h1v1h-1zM4 50h1v1h-1zM9 50h1v1h-1zM39 50h1v1h-1zM60 50h1v1h-1zM0 51h1v1h-1zM23 51h1v1h-1zM39 51h1v1h-1zM6 52h1v1h-1zM23 52h1v1h-1zM3 53h1v1h-1zM8 53h1v1h-1zM43 53h1v1h-1zM46 53h1v1h-1zM51 53h1v1h-1zM57 53h1v1h-1zM4 54h1v1h-1zM11 54h1v1h-1zM39 54h1v1h-1zM50 54h1v1h-1zM14 55h1v1h-1zM39 55h1v1h-1zM45 55h1v1h-1zM49 55h1v1h-1zM17 56h2v1h-2zM20 56h1v1h-1zM33 56h1v1h-1zM46 56h1v1h-1zM8 57h1v1h-1zM28 57h1v1h-1zM37 57h1v1h-1zM52 57h1v1h-1zM50 58h1v1h-1zM53 59h1v1h-1zM41 61h1v1h-1zM28 62h1v1h-1zM45 62h1v1h-1zM21 63h1v1h-1zM30 64h1v1h-1zM48 64h1v1h-1zM54 64h1v1h-1z"/>
<path fill="#f9ebd8" d="M10 25h1v1h-1zM15 25h1v1h-1zM39 25h1v1h-1zM44 25h1v1h-1zM0 26h1v1h-1zM11 26h1v1h-1zM20 26h1v1h-1zM22 26h2v1h-2zM30 26h1v1h-1zM32 26h1v1h-1zM35 26h1v1h-1zM41 26h1v1h-1zM48 26h1v1h-1zM12 27h1v1h-1zM46 27h1v1h-1zM8 39h1v1h-1zM58 40h1v1h-1zM9 41h1v1h-1zM35 41h1v1h-1zM12 42h1v1h-1zM53 42h1v1h-1zM9 43h1v1h-1zM14 43h1v1h-1zM21 43h1v1h-1zM30 43h1v1h-1zM43 43h1v1h-1zM24 44h1v1h-1zM1 45h1v1h-1zM8 45h1v1h-1zM45 45h1v1h-1zM40 47h1v1h-1zM6 49h1v1h-1zM59 49h1v1h-1zM6 50h1v1h-1zM16 50h1v1h-1zM33 50h1v1h-1zM41 50h1v1h-1zM47 50h1v1h-1zM2 51h1v1h-1zM14 51h1v1h-1zM37 51h1v1h-1zM60 52h1v1h-1zM10 53h1v1h-1zM21 53h3v1h-3zM27 53h1v1h-1zM39 53h1v1h-1zM48 53h1v1h-1zM54 53h1v1h-1zM18 54h1v1h-1zM44 54h1v1h-1zM7 55h1v1h-1zM12 55h1v1h-1zM55 55h1v1h-1zM13 56h1v1h-1zM26 56h1v1h-1zM28 56h1v1h-1zM52 56h1v1h-1zM14 57h1v1h-1zM32 57h1v1h-1zM55 58h1v1h-1zM60 58h1v1h-1zM57 59h2v1h-2zM3 60h2v1h-2zM17 60h1v1h-1zM54 60h1v1h-1zM22 61h1v1h-1zM25 61h1v1h-1zM50 61h1v1h-1zM53 61h1v1h-1zM60 61h1v1h-1zM8 62h1v1h-1zM18 62h1v1h-1zM31 62h1v1h-1zM46 62h1v1h-1zM18 63h1v1h-1zM15 64h1v1h-1zM58 64h1v1h-1zM60 64h1v1h-1z"/>
<path fill="#faead7" d="M18 25h1v1h-1zM53 25h1v1h-1zM59 25h1v1h-1zM16 26h1v1h-1zM25 26h1v1h-1zM45 26h1v1h-1zM47 26h1v1h-1zM51 26h1v1h-1zM56 26h2v1h-2zM59 26h1v1h-1zM21 27h2v1h-2zM29 27h1v1h-1zM3 39h1v1h-1zM5 39h1v1h-1zM52 39h2v1h-2zM1 40h1v1h-1zM34 40h1v1h-1zM60 40h1v1h-1zM5 41h1v1h-1zM28 41h1v1h-1zM48 41h1v1h-1zM30 42h1v1h-1zM48 42h1v1h-1zM55 43h1v1h-1zM1 44h1v1h-1zM7 44h1v1h-1zM17 44h1v1h-1zM20 44h1v1h-1zM25 44h1v1h-1zM37 44h1v1h-1zM43 44h1v1h-1zM23 45h1v1h-1zM27 46h1v1h-1zM32 46h1v1h-1zM35 46h1v1h-1zM51 46h1v1h-1zM55 46h1v1h-1zM49 47h1v1h-1zM10 48h2v1h-2zM27 48h1v1h-1zM53 49h1v1h-1zM2 50h1v1h-1zM43 50h1v1h-1zM51 50h2v1h-2zM22 51h1v1h-1zM31 51h1v1h-1zM40 51h1v1h-1zM59 51h1v1h-1zM19 52h1v1h-1zM27 52h1v1h-1zM43 52h1v1h-1zM12 53h1v1h-1zM15 53h1v1h-1zM20 53h1v1h-1zM36 53h1v1h-1zM44 53h1v1h-1zM59 53h1v1h-1zM16 54h1v1h-1zM33 54h1v1h-1zM38 54h1v1h-1zM10 55h1v1h-1zM17 55h2v1h-2zM30 55h1v1h-1zM51 55h1v1h-1zM57 55h1v1h-1zM3 57h1v1h-1zM18 57h1v1h-1zM30 57h1v1h-1zM40 57h1v1h-1zM11 58h1v1h-1zM44 58h1v1h-1zM58 58h1v1h-1zM11 59h1v1h-1zM16 59h2v1h-2zM25 60h1v1h-1zM38 60h1v1h-1zM40 60h1v1h-1zM13 61h1v1h-1zM55 61h1v1h-1zM57 61h1v1h-1zM1 62h1v1h-1zM15 62h1v1h-1zM60 62h1v1h-1zM11 63h1v1h-1zM19 63h1v1h-1zM31 63h1v1h-1zM37 63h1v1h-1zM4 64h1v1h-1zM19 64h1v1h-1z"/>
<path fill="#fae9d6" d="M21 25h1v1h-1zM41 25h1v1h-1zM17 26h1v1h-1zM28 26h1v1h-1zM36 26h1v1h-1zM43 26h2v1h-2zM27 27h1v1h-1zM49 27h1v1h-1zM22 32h1v1h-1zM49 39h1v1h-1zM56 40h1v1h-1zM13 41h1v1h-1zM14 42h2v1h-2zM19 42h1v1h-1zM37 42h1v1h-1zM54 42h1v1h-1zM59 42h1v1h-1zM24 43h1v1h-1zM29 43h1v1h-1zM47 43h2v1h-2zM53 43h1v1h-1zM59 43h1v1h-1zM4 44h1v1h-1zM21 44h1v1h-1zM28 44h1v1h-1zM44 44h1v1h-1zM4 45h1v1h-1zM26 45h1v1h-1zM59 45h1v1h-1zM4 46h1v1h-1zM9 46h1v1h-1zM11 46h1v1h-1zM30 46h1v1h-1zM38 46h1v1h-1zM6 47h3v1h-3zM11 47h1v1h-1zM21 47h1v1h-1zM48 47h1v1h-1zM13 48h1v1h-1zM53 48h2v1h-2zM51 49h1v1h-1zM54 49h1v1h-1zM12 50h1v1h-1zM15 50h1v1h-1zM31 50h1v1h-1zM38 50h1v1h-1zM10 51h1v1h-1zM24 51h1v1h-1zM28 51h1v1h-1zM57 51h1v1h-1zM13 52h1v1h-1zM22 52h1v1h-1zM37 52h1v1h-1zM39 52h1v1h-1zM55 52h1v1h-1zM57 52h1v1h-1zM4 53h1v1h-1zM50 53h1v1h-1zM10 54h1v1h-1zM15 54h1v1h-1zM43 54h1v1h-1zM40 55h1v1h-1zM54 55h1v1h-1zM59 55h1v1h-1zM15 56h1v1h-1zM15 57h1v1h-1zM46 57h1v1h-1zM53 57h1v1h-1zM21 58h1v1h-1zM25 58h1v1h-1zM33 58h1v1h-1zM22 59h1v1h-1zM48 59h1v1h-1zM4 61h1v1h-1zM44 61h1v1h-1zM48 61h1v1h-1zM4 62h1v1h-1zM7 62h1v1h-1zM11 62h1v1h-1zM58 62h1v1h-1zM9 63h1v1h-1zM45 63h2v1h-2zM54 63h1v1h-1zM8 64h1v1h-1zM31 64h1v1h-1zM39 64h1v1h-1zM45 64h1v1h-1z"/>
<path fill="#fbe8d4" d="M9 26h1v1h-1zM14 26h1v1h-1zM24 26h1v1h-1zM26 26h1v1h-1zM60 26h1v1h-1zM24 27h1v1h-1zM34 27h2v1h-2zM42 27h1v1h-1zM58 27h1v1h-1zM54 29h1v1h-1zM3 30h1v1h-1zM1 36h1v1h-1zM3 37h1v1h-1zM5 38h2v1h-2zM49 38h1v1h-1zM58 39h1v1h-1zM5 40h1v1h-1zM7 40h1v1h-1zM25 40h1v1h-1zM14 41h1v1h-1zM26 41h1v1h-1zM32 41h1v1h-1zM50 41h2v1h-2zM5 42h2v1h-2zM25 42h1v1h-1zM32 42h1v1h-1zM18 43h1v1h-1zM32 43h1v1h-1zM50 43h1v1h-1zM40 44h1v1h-1zM42 44h1v1h-1zM48 44h4v1h-4zM53 44h1v1h-1zM57 44h2v1h-2zM11 45h1v1h-1zM22 45h1v1h-1zM50 45h1v1h-1zM52 45h1v1h-1zM2 46h1v1h-1zM8 46h1v1h-1zM31 46h1v1h-1zM3 47h1v1h-1zM13 47h1v1h-1zM27 47h1v1h-1zM38 47h1v1h-1zM54 47h1v1h-1zM6 48h1v1h-1zM59 48h1v1h-1zM22 50h1v1h-1zM26 50h1v1h-1zM0 52h1v1h-1zM10 52h1v1h-1zM18 52h1v1h-1zM30 52h1v1h-1zM45 52h1v1h-1zM59 52h1v1h-1zM6 53h1v1h-1zM11 53h1v1h-1zM13 53h1v1h-1zM32 53h1v1h-1zM53 53h1v1h-1zM2 54h1v1h-1zM14 54h1v1h-1zM20 54h2v1h-2zM23 54h1v1h-1zM35 54h1v1h-1zM40 54h1v1h-1zM27 55h1v1h-1zM7 56h1v1h-1zM14 56h1v1h-1zM49 56h1v1h-1zM58 56h1v1h-1zM16 57h1v1h-1zM43 57h1v1h-1zM47 57h1v1h-1zM56 57h1v1h-1zM17 58h1v1h-1zM22 58h1v1h-1zM37 58h1v1h-1zM3 59h1v1h-1zM13 59h1v1h-1zM29 59h1v1h-1zM50 59h1v1h-1zM22 60h2v1h-2zM57 60h1v1h-1zM1 61h1v1h-1zM17 61h1v1h-1zM19 61h1v1h-1zM21 61h1v1h-1zM46 61h1v1h-1zM52 61h1v1h-1zM26 62h1v1h-1zM37 62h1v1h-1zM42 62h2v1h-2zM55 62h1v1h-1zM1 63h1v1h-1zM6 63h1v1h-1zM32 63h1v1h-1zM25 64h1v1h-1zM43 64h1v1h-1zM57 64h1v1h-1z"/>
<path fill="#fae3cf" d="M10 26h1v1h-1zM18 26h1v1h-1zM8 27h1v1h-1zM16 27h1v1h-1zM28 27h1v1h-1zM30 27h1v1h-1zM38 27h1v1h-1zM40 27h1v1h-1zM50 27h1v1h-1zM60 27h1v1h-1zM2 28h1v1h-1zM21 28h1v1h-1zM49 28h1v1h-1zM6 29h2v1h-2zM51 29h1v1h-1zM0 38h1v1h-1zM9 38h1v1h-1zM25 38h1v1h-1zM10 39h2v1h-2zM25 39h1v1h-1zM37 39h1v1h-1zM50 39h1v1h-1zM2 40h1v1h-1zM14 40h1v1h-1zM33 40h1v1h-1zM36 40h2v1h-2zM2 41h1v1h-1zM4 41h1v1h-1zM37 41h1v1h-1zM7 42h1v1h-1zM31 42h1v1h-1zM39 42h1v1h-1zM46 42h1v1h-1zM51 42h1v1h-1zM1 43h1v1h-1zM11 43h1v1h-1zM23 43h1v1h-1zM35 43h1v1h-1zM45 43h1v1h-1zM57 43h2v1h-2zM0 44h1v1h-1zM3 44h1v1h-1zM29 44h1v1h-1zM10 45h1v1h-1zM13 45h1v1h-1zM38 45h2v1h-2zM54 45h1v1h-1zM3 46h1v1h-1zM33 46h1v1h-1zM52 46h1v1h-1zM9 47h1v1h-1zM29 47h1v1h-1zM37 47h1v1h-1zM55 47h1v1h-1zM57 47h1v1h-1zM4 48h1v1h-1zM7 48h1v1h-1zM25 48h1v1h-1zM29 48h1v1h-1zM36 48h1v1h-1zM45 48h1v1h-1zM50 48h1v1h-1zM52 48h1v1h-1zM55 48h1v1h-1zM9 49h1v1h-1zM27 49h1v1h-1zM30 49h2v1h-2zM36 49h1v1h-1zM37 50h1v1h-1zM50 50h1v1h-1zM58 50h1v1h-1zM9 51h1v1h-1zM12 51h1v1h-1zM53 51h1v1h-1zM55 51h1v1h-1zM60 51h1v1h-1zM2 52h1v1h-1zM48 52h1v1h-1zM7 53h1v1h-1zM24 53h1v1h-1zM30 53h1v1h-1zM5 54h1v1h-1zM25 54h1v1h-1zM37 54h1v1h-1zM22 55h1v1h-1zM29 55h1v1h-1zM42 55h1v1h-1zM0 56h1v1h-1zM10 56h1v1h-1zM19 56h1v1h-1zM21 56h1v1h-1zM37 56h1v1h-1zM54 56h1v1h-1zM21 57h1v1h-1zM24 57h1v1h-1zM24 58h1v1h-1zM28 58h2v1h-2zM47 58h2v1h-2zM2 59h1v1h-1zM6 59h1v1h-1zM27 59h1v1h-1zM39 59h2v1h-2zM59 59h1v1h-1zM16 60h1v1h-1zM30 60h1v1h-1zM44 60h1v1h-1zM50 60h1v1h-1zM0 61h1v1h-1zM9 61h1v1h-1zM30 61h1v1h-1zM35 61h1v1h-1zM37 61h2v1h-2zM21 62h1v1h-1zM38 62h1v1h-1zM41 62h1v1h-1zM51 62h1v1h-1zM0 63h1v1h-1zM2 63h1v1h-1zM7 63h1v1h-1zM15 63h1v1h-1zM17 63h1v1h-1zM20 63h1v1h-1zM27 63h1v1h-1zM30 63h1v1h-1zM40 63h1v1h-1zM53 63h1v1h-1zM55 63h1v1h-1zM37 64h1v1h-1z"/>
<path fill="#f9dfcb" d="M13 26h1v1h-1zM15 27h1v1h-1zM23 27h1v1h-1zM25 27h1v1h-1zM52 27h1v1h-1zM58 28h1v1h-1zM10 30h1v1h-1zM8 38h1v1h-1zM33 38h1v1h-1zM56 39h1v1h-1zM22 40h1v1h-1zM27 40h1v1h-1zM31 40h2v1h-2zM40 40h1v1h-1zM57 40h1v1h-1zM0 41h1v1h-1zM8 41h1v1h-1zM24 41h1v1h-1zM30 41h1v1h-1zM38 41h1v1h-1zM46 41h1v1h-1zM49 41h1v1h-1zM56 41h1v1h-1zM60 41h1v1h-1zM3 42h1v1h-1zM24 42h1v1h-1zM56 42h1v1h-1zM27 44h1v1h-1zM55 44h1v1h-1zM2 45h2v1h-2zM33 45h1v1h-1zM55 45h1v1h-1zM6 46h1v1h-1zM23 46h1v1h-1zM59 46h1v1h-1zM32 47h1v1h-1zM1 48h2v1h-2zM9 48h1v1h-1zM2 49h1v1h-1zM8 49h1v1h-1zM35 49h1v1h-1zM7 50h1v1h-1zM25 50h1v1h-1zM27 50h1v1h-1zM29 50h1v1h-1zM32 50h1v1h-1zM35 50h1v1h-1zM48 50h1v1h-1zM34 51h1v1h-1zM41 51h1v1h-1zM45 51h1v1h-1zM54 51h1v1h-1zM24 52h1v1h-1zM33 52h1v1h-1zM40 52h1v1h-1zM42 52h1v1h-1zM46 52h1v1h-1zM52 52h1v1h-1zM19 53h1v1h-1zM26 53h1v1h-1zM28 53h1v1h-1zM60 53h1v1h-1zM1 54h1v1h-1zM34 54h1v1h-1zM3 55h1v1h-1zM32 55h1v1h-1zM35 55h1v1h-1zM48 55h1v1h-1zM11 56h1v1h-1zM44 56h1v1h-1zM0 57h1v1h-1zM4 57h1v1h-1zM25 57h1v1h-1zM48 57h2v1h-2zM54 57h1v1h-1zM10 58h1v1h-1zM30 58h1v1h-1zM36 58h1v1h-1zM39 58h1v1h-1zM43 58h1v1h-1zM51 58h1v1h-1zM1 59h1v1h-1zM30 59h1v1h-1zM5 60h1v1h-1zM28 60h1v1h-1zM43 60h1v1h-1zM47 60h1v1h-1zM12 61h1v1h-1zM16 61h1v1h-1zM24 61h1v1h-1zM31 61h3v1h-3zM39 61h1v1h-1zM47 61h1v1h-1zM58 61h1v1h-1zM3 62h1v1h-1zM10 62h1v1h-1zM27 62h1v1h-1zM13 63h1v1h-1zM23 63h1v1h-1zM3 64h1v1h-1zM7 64h1v1h-1zM22 64h1v1h-1zM40 64h2v1h-2zM46 64h1v1h-1z"/>
<path fill="#fbe7d3" d="M15 26h1v1h-1zM19 26h1v1h-1zM40 26h1v1h-1zM50 26h1v1h-1zM53 26h1v1h-1zM0 27h1v1h-1zM9 27h1v1h-1zM31 27h1v1h-1zM47 27h1v1h-1zM39 28h1v1h-1zM6 37h1v1h-1zM52 38h1v1h-1zM2 39h1v1h-1zM60 39h1v1h-1zM8 40h2v1h-2zM50 40h1v1h-1zM27 41h1v1h-1zM31 41h1v1h-1zM1 42h1v1h-1zM22 43h1v1h-1zM42 43h1v1h-1zM51 43h1v1h-1zM54 43h1v1h-1zM8 44h1v1h-1zM11 44h2v1h-2zM14 44h1v1h-1zM32 44h1v1h-1zM39 44h1v1h-1zM59 44h1v1h-1zM27 45h1v1h-1zM36 45h1v1h-1zM51 45h1v1h-1zM58 45h1v1h-1zM56 46h1v1h-1zM2 47h1v1h-1zM12 47h1v1h-1zM31 47h1v1h-1zM50 47h1v1h-1zM52 47h1v1h-1zM0 48h1v1h-1zM5 48h1v1h-1zM8 48h1v1h-1zM30 48h1v1h-1zM33 48h1v1h-1zM35 48h1v1h-1zM0 49h1v1h-1zM49 49h1v1h-1zM58 49h1v1h-1zM44 50h1v1h-1zM5 51h1v1h-1zM11 51h1v1h-1zM27 51h1v1h-1zM49 51h2v1h-2zM1 52h1v1h-1zM5 52h1v1h-1zM34 52h1v1h-1zM54 52h1v1h-1zM0 53h1v1h-1zM5 53h1v1h-1zM41 53h1v1h-1zM47 53h1v1h-1zM22 54h1v1h-1zM27 54h1v1h-1zM30 54h1v1h-1zM36 54h1v1h-1zM49 54h1v1h-1zM51 54h1v1h-1zM54 54h1v1h-1zM59 54h1v1h-1zM21 55h1v1h-1zM25 55h1v1h-1zM44 55h1v1h-1zM6 56h1v1h-1zM1 57h1v1h-1zM7 57h1v1h-1zM11 57h2v1h-2zM23 57h1v1h-1zM31 57h1v1h-1zM60 57h1v1h-1zM5 58h3v1h-3zM14 58h1v1h-1zM32 58h1v1h-1zM41 58h1v1h-1zM35 59h1v1h-1zM37 59h1v1h-1zM49 59h1v1h-1zM60 59h1v1h-1zM1 60h1v1h-1zM8 60h1v1h-1zM11 60h2v1h-2zM39 60h1v1h-1zM49 60h1v1h-1zM29 61h1v1h-1zM54 61h1v1h-1zM2 62h1v1h-1zM6 62h1v1h-1zM30 62h1v1h-1zM59 62h1v1h-1zM4 63h1v1h-1zM22 63h1v1h-1zM25 63h1v1h-1zM48 63h1v1h-1zM58 63h1v1h-1zM11 64h1v1h-1zM18 64h1v1h-1zM35 64h1v1h-1zM53 64h1v1h-1z"/>
<path fill="#fae5d1" d="M21 26h1v1h-1zM37 26h1v1h-1zM39 26h1v1h-1zM52 26h1v1h-1zM11 27h1v1h-1zM48 27h1v1h-1zM56 27h1v1h-1zM35 28h1v1h-1zM3 35h1v1h-1zM8 36h1v1h-1zM25 37h1v1h-1zM52 37h1v1h-1zM22 38h1v1h-1zM53 38h1v1h-1zM9 39h1v1h-1zM11 40h2v1h-2zM48 40h1v1h-1zM51 40h2v1h-2zM15 41h1v1h-1zM23 41h1v1h-1zM33 41h2v1h-2zM47 41h1v1h-1zM53 41h1v1h-1zM57 41h2v1h-2zM0 42h1v1h-1zM8 42h1v1h-1zM16 42h1v1h-1zM22 42h1v1h-1zM28 42h1v1h-1zM50 42h1v1h-1zM55 42h1v1h-1zM10 43h1v1h-1zM41 43h1v1h-1zM44 43h1v1h-1zM56 43h1v1h-1zM10 44h1v1h-1zM36 44h1v1h-1zM47 44h1v1h-1zM52 44h1v1h-1zM30 45h2v1h-2zM53 45h1v1h-1zM57 45h1v1h-1zM5 46h1v1h-1zM22 46h1v1h-1zM54 46h1v1h-1zM0 47h2v1h-2zM49 48h1v1h-1zM1 49h1v1h-1zM3 49h1v1h-1zM29 49h1v1h-1zM39 49h1v1h-1zM59 50h1v1h-1zM1 51h1v1h-1zM6 51h1v1h-1zM14 53h1v1h-1zM0 54h1v1h-1zM3 54h1v1h-1zM6 54h1v1h-1zM26 54h1v1h-1zM32 54h1v1h-1zM41 54h1v1h-1zM60 54h1v1h-1zM0 55h1v1h-1zM2 55h1v1h-1zM11 55h1v1h-1zM13 55h1v1h-1zM26 55h1v1h-1zM34 55h1v1h-1zM2 56h1v1h-1zM8 56h1v1h-1zM23 56h1v1h-1zM27 56h1v1h-1zM36 56h1v1h-1zM39 56h1v1h-1zM6 57h1v1h-1zM17 57h1v1h-1zM26 57h1v1h-1zM33 57h1v1h-1zM39 57h1v1h-1zM42 57h1v1h-1zM45 57h1v1h-1zM18 58h1v1h-1zM57 58h1v1h-1zM5 59h1v1h-1zM23 59h1v1h-1zM41 59h1v1h-1zM43 59h1v1h-1zM54 59h1v1h-1zM56 59h1v1h-1zM0 60h1v1h-1zM13 60h1v1h-1zM29 60h1v1h-1zM34 60h1v1h-1zM37 60h1v1h-1zM60 60h1v1h-1zM27 61h1v1h-1zM19 62h1v1h-1zM22 62h1v1h-1zM25 62h1v1h-1zM35 62h1v1h-1zM53 62h1v1h-1zM24 63h1v1h-1zM42 63h2v1h-2zM52 63h1v1h-1zM1 64h1v1h-1zM6 64h1v1h-1zM27 64h1v1h-1zM38 64h1v1h-1zM47 64h1v1h-1z"/>
<path fill="#f9d5c6" d="M10 27h1v1h-1zM18 27h1v1h-1zM12 28h1v1h-1zM19 28h1v1h-1zM38 28h1v1h-1zM43 28h1v1h-1zM26 29h1v1h-1zM40 29h1v1h-1zM43 30h1v1h-1zM3 31h1v1h-1zM1 35h1v1h-1zM2 36h1v1h-1zM11 38h1v1h-1zM29 38h2v1h-2zM34 38h1v1h-1zM0 39h1v1h-1zM33 39h1v1h-1zM46 39h1v1h-1zM54 39h1v1h-1zM10 41h1v1h-1zM17 41h1v1h-1zM33 42h1v1h-1zM36 42h1v1h-1zM45 42h1v1h-1zM26 43h1v1h-1zM36 43h1v1h-1zM34 47h1v1h-1zM36 47h1v1h-1zM59 47h1v1h-1zM46 50h1v1h-1zM3 51h1v1h-1zM33 51h1v1h-1zM13 54h1v1h-1zM42 54h1v1h-1zM47 54h1v1h-1zM58 54h1v1h-1zM4 55h1v1h-1zM19 55h1v1h-1zM1 56h1v1h-1zM24 56h1v1h-1zM31 56h1v1h-1zM41 56h1v1h-1zM45 56h1v1h-1zM19 58h1v1h-1zM40 58h1v1h-1zM46 58h1v1h-1zM12 59h1v1h-1zM20 59h1v1h-1zM51 59h1v1h-1zM15 60h1v1h-1zM32 60h1v1h-1zM42 60h1v1h-1zM45 60h1v1h-1zM36 61h1v1h-1zM34 62h1v1h-1zM48 62h1v1h-1zM16 63h1v1h-1zM13 64h1v1h-1zM16 64h1v1h-1zM49 64h1v1h-1z"/>
<path fill="#fad3c5" d="M13 27h1v1h-1zM43 27h1v1h-1zM16 28h2v1h-2zM32 28h1v1h-1zM47 28h1v1h-1zM0 29h1v1h-1zM8 29h1v1h-1zM0 30h1v1h-1zM46 30h1v1h-1zM22 31h1v1h-1zM55 37h1v1h-1zM57 37h2v1h-2zM48 38h1v1h-1zM7 39h1v1h-1zM23 39h1v1h-1zM27 39h1v1h-1zM30 39h1v1h-1zM39 39h1v1h-1zM51 39h1v1h-1zM13 40h1v1h-1zM19 40h1v1h-1zM16 41h1v1h-1zM20 41h1v1h-1zM22 41h1v1h-1zM18 42h1v1h-1zM34 44h1v1h-1zM34 45h1v1h-1zM35 47h1v1h-1zM36 50h1v1h-1zM8 51h1v1h-1zM8 52h1v1h-1zM28 52h1v1h-1zM47 52h1v1h-1zM56 52h1v1h-1zM1 53h1v1h-1zM9 53h1v1h-1zM29 53h1v1h-1zM19 54h1v1h-1zM52 54h1v1h-1zM1 55h1v1h-1zM9 55h1v1h-1zM33 55h1v1h-1zM47 55h1v1h-1zM56 55h1v1h-1zM4 56h1v1h-1zM51 56h1v1h-1zM9 57h1v1h-1zM29 57h1v1h-1zM35 57h1v1h-1zM51 57h1v1h-1zM57 57h1v1h-1zM59 57h1v1h-1zM24 59h1v1h-1zM45 59h1v1h-1zM20 60h1v1h-1zM10 61h2v1h-2zM42 61h1v1h-1zM51 61h1v1h-1zM36 62h1v1h-1zM35 63h1v1h-1z"/>
<path fill="#f9e1cd" d="M14 27h1v1h-1zM41 27h1v1h-1zM59 27h1v1h-1zM24 28h1v1h-1zM3 34h1v1h-1zM27 34h1v1h-1zM8 35h1v1h-1zM8 37h1v1h-1zM33 37h1v1h-1zM46 37h1v1h-1zM51 37h1v1h-1zM3 38h1v1h-1zM27 38h1v1h-1zM36 38h1v1h-1zM46 38h1v1h-1zM34 39h1v1h-1zM10 40h1v1h-1zM21 40h1v1h-1zM26 40h1v1h-1zM28 40h1v1h-1zM30 40h1v1h-1zM47 40h1v1h-1zM49 40h1v1h-1zM1 41h1v1h-1zM6 41h1v1h-1zM55 41h1v1h-1zM38 42h1v1h-1zM47 42h1v1h-1zM58 42h1v1h-1zM60 42h1v1h-1zM6 43h1v1h-1zM27 43h1v1h-1zM37 43h1v1h-1zM40 43h1v1h-1zM35 44h1v1h-1zM28 45h1v1h-1zM17 46h1v1h-1zM29 46h1v1h-1zM57 46h2v1h-2zM5 47h1v1h-1zM56 47h1v1h-1zM58 47h1v1h-1zM46 48h1v1h-1zM1 50h1v1h-1zM3 50h1v1h-1zM55 50h1v1h-1zM18 51h1v1h-1zM25 51h1v1h-1zM29 51h1v1h-1zM32 51h1v1h-1zM35 51h1v1h-1zM47 51h1v1h-1zM51 51h1v1h-1zM11 52h1v1h-1zM32 52h1v1h-1zM35 52h2v1h-2zM41 52h1v1h-1zM49 52h1v1h-1zM53 52h1v1h-1zM34 53h1v1h-1zM40 53h1v1h-1zM49 53h1v1h-1zM7 54h1v1h-1zM23 55h1v1h-1zM43 55h1v1h-1zM3 56h1v1h-1zM5 56h1v1h-1zM25 56h1v1h-1zM32 56h1v1h-1zM48 56h1v1h-1zM60 56h1v1h-1zM44 57h1v1h-1zM50 57h1v1h-1zM12 58h1v1h-1zM23 58h1v1h-1zM7 59h2v1h-2zM10 59h1v1h-1zM18 59h1v1h-1zM33 59h1v1h-1zM42 59h1v1h-1zM2 60h1v1h-1zM6 60h1v1h-1zM9 60h1v1h-1zM14 60h1v1h-1zM43 61h1v1h-1zM45 61h1v1h-1zM49 61h1v1h-1zM56 61h1v1h-1zM12 62h1v1h-1zM17 62h1v1h-1zM24 62h1v1h-1zM32 62h1v1h-1zM39 62h1v1h-1zM49 62h1v1h-1zM54 62h1v1h-1zM56 62h2v1h-2zM28 63h1v1h-1zM38 63h2v1h-2zM47 63h1v1h-1zM56 63h2v1h-2zM59 63h1v1h-1zM2 64h1v1h-1zM9 64h1v1h-1zM17 64h1v1h-1zM32 64h1v1h-1zM42 64h1v1h-1zM52 64h1v1h-1z"/>
<path fill="#f8dac7" d="M17 27h1v1h-1zM26 27h1v1h-1zM37 27h1v1h-1zM45 27h1v1h-1zM53 27h1v1h-1zM36 28h2v1h-2zM4 29h1v1h-1zM1 30h1v1h-1zM4 30h1v1h-1zM28 33h1v1h-1zM38 34h1v1h-1zM5 35h1v1h-1zM28 37h1v1h-1zM59 37h1v1h-1zM40 38h1v1h-1zM58 38h1v1h-1zM12 39h1v1h-1zM26 39h1v1h-1zM31 39h1v1h-1zM40 39h1v1h-1zM0 40h1v1h-1zM6 40h1v1h-1zM39 40h1v1h-1zM12 41h1v1h-1zM29 41h1v1h-1zM39 41h2v1h-2zM52 41h1v1h-1zM54 41h1v1h-1zM10 42h1v1h-1zM27 42h1v1h-1zM40 42h1v1h-1zM57 42h1v1h-1zM7 43h1v1h-1zM31 43h1v1h-1zM33 43h1v1h-1zM31 44h1v1h-1zM0 45h1v1h-1zM14 45h1v1h-1zM0 46h1v1h-1zM45 46h1v1h-1zM28 47h1v1h-1zM57 48h1v1h-1zM8 50h1v1h-1zM58 51h1v1h-1zM3 52h1v1h-1zM35 53h1v1h-1zM12 54h1v1h-1zM45 54h1v1h-1zM48 54h1v1h-1zM15 55h1v1h-1zM24 55h1v1h-1zM50 55h1v1h-1zM52 55h1v1h-1zM58 55h1v1h-1zM34 56h1v1h-1zM47 56h1v1h-1zM50 56h1v1h-1zM5 57h1v1h-1zM10 57h1v1h-1zM19 57h1v1h-1zM45 58h1v1h-1zM54 58h1v1h-1zM9 59h1v1h-1zM14 59h2v1h-2zM34 59h1v1h-1zM44 59h1v1h-1zM52 59h1v1h-1zM31 60h1v1h-1zM35 60h1v1h-1zM2 61h1v1h-1zM5 61h1v1h-1zM7 61h1v1h-1zM9 62h1v1h-1zM20 62h1v1h-1zM29 62h1v1h-1zM47 62h1v1h-1zM50 62h1v1h-1zM10 63h1v1h-1zM49 63h1v1h-1zM12 64h1v1h-1zM20 64h1v1h-1zM36 64h1v1h-1zM55 64h1v1h-1zM59 64h1v1h-1z"/>
<path fill="#f9d8c7" d="M19 27h1v1h-1zM36 27h1v1h-1zM57 27h1v1h-1zM13 28h1v1h-1zM15 28h1v1h-1zM29 28h1v1h-1zM53 28h1v1h-1zM57 28h1v1h-1zM59 28h1v1h-1zM54 30h1v1h-1zM3 36h1v1h-1zM34 36h1v1h-1zM49 36h1v1h-1zM22 37h1v1h-1zM40 37h1v1h-1zM26 38h1v1h-1zM31 38h2v1h-2zM6 39h1v1h-1zM28 39h1v1h-1zM32 39h1v1h-1zM47 39h1v1h-1zM55 39h1v1h-1zM15 40h1v1h-1zM23 40h2v1h-2zM35 40h1v1h-1zM53 40h2v1h-2zM19 41h1v1h-1zM21 41h1v1h-1zM17 42h1v1h-1zM29 42h1v1h-1zM2 43h2v1h-2zM15 43h1v1h-1zM17 43h1v1h-1zM52 43h1v1h-1zM33 44h1v1h-1zM6 45h1v1h-1zM35 45h1v1h-1zM33 47h1v1h-1zM50 49h1v1h-1zM55 49h1v1h-1zM57 50h1v1h-1zM42 51h1v1h-1zM9 52h1v1h-1zM51 52h1v1h-1zM37 53h1v1h-1zM55 53h1v1h-1zM53 54h1v1h-1zM55 54h1v1h-1zM5 55h1v1h-1zM36 55h1v1h-1zM9 56h1v1h-1zM29 56h1v1h-1zM22 57h1v1h-1zM27 57h1v1h-1zM41 57h1v1h-1zM26 58h1v1h-1zM19 59h1v1h-1zM26 59h1v1h-1zM31 59h1v1h-1zM24 60h1v1h-1zM3 61h1v1h-1zM14 61h2v1h-2zM18 61h1v1h-1zM20 61h1v1h-1zM23 61h1v1h-1zM26 61h1v1h-1zM23 62h1v1h-1zM3 63h1v1h-1zM5 63h1v1h-1zM34 63h1v1h-1zM50 63h1v1h-1zM10 64h1v1h-1zM23 64h1v1h-1zM28 64h1v1h-1zM50 64h1v1h-1z"/>
<path fill="#f8ddc9" d="M20 27h1v1h-1zM32 27h2v1h-2zM44 27h1v1h-1zM51 27h1v1h-1zM0 28h1v1h-1zM22 28h1v1h-1zM25 28h1v1h-1zM42 28h1v1h-1zM46 28h1v1h-1zM50 28h1v1h-1zM52 28h1v1h-1zM2 37h1v1h-1zM4 37h1v1h-1zM36 37h1v1h-1zM23 38h1v1h-1zM28 38h1v1h-1zM50 38h1v1h-1zM57 38h1v1h-1zM21 39h2v1h-2zM57 39h1v1h-1zM38 40h1v1h-1zM55 40h1v1h-1zM36 41h1v1h-1zM2 42h1v1h-1zM11 42h1v1h-1zM21 42h1v1h-1zM34 42h1v1h-1zM43 42h1v1h-1zM52 42h1v1h-1zM0 43h1v1h-1zM8 43h1v1h-1zM39 43h1v1h-1zM49 43h1v1h-1zM26 44h1v1h-1zM29 45h1v1h-1zM13 46h1v1h-1zM15 46h1v1h-1zM28 46h1v1h-1zM34 46h1v1h-1zM36 46h1v1h-1zM4 47h1v1h-1zM28 48h1v1h-1zM31 48h2v1h-2zM58 48h1v1h-1zM7 49h1v1h-1zM22 49h1v1h-1zM28 49h1v1h-1zM52 49h1v1h-1zM28 50h1v1h-1zM34 50h1v1h-1zM56 50h1v1h-1zM46 51h1v1h-1zM56 51h1v1h-1zM29 52h1v1h-1zM31 52h1v1h-1zM50 52h1v1h-1zM2 53h1v1h-1zM31 53h1v1h-1zM42 53h1v1h-1zM24 54h1v1h-1zM29 54h1v1h-1zM6 55h1v1h-1zM28 55h1v1h-1zM31 55h1v1h-1zM60 55h1v1h-1zM53 56h1v1h-1zM2 57h1v1h-1zM20 57h1v1h-1zM36 57h1v1h-1zM58 57h1v1h-1zM1 58h1v1h-1zM15 58h1v1h-1zM35 58h1v1h-1zM42 58h1v1h-1zM49 58h1v1h-1zM52 58h1v1h-1zM59 58h1v1h-1zM4 59h1v1h-1zM28 59h1v1h-1zM32 59h1v1h-1zM36 59h1v1h-1zM47 59h1v1h-1zM18 60h1v1h-1zM27 60h1v1h-1zM33 60h1v1h-1zM36 60h1v1h-1zM46 60h1v1h-1zM53 60h1v1h-1zM56 60h1v1h-1zM58 60h2v1h-2zM6 61h1v1h-1zM8 61h1v1h-1zM34 61h1v1h-1zM0 62h1v1h-1zM5 62h1v1h-1zM16 62h1v1h-1zM12 63h1v1h-1zM41 63h1v1h-1zM51 63h1v1h-1zM0 64h1v1h-1zM5 64h1v1h-1zM34 64h1v1h-1z"/>
<path fill="#fad0c4" d="M8 28h1v1h-1zM56 28h1v1h-1zM10 29h1v1h-1zM13 29h1v1h-1zM19 29h1v1h-1zM22 29h1v1h-1zM42 29h2v1h-2zM52 29h2v1h-2zM7 30h1v1h-1zM4 31h1v1h-1zM20 32h1v1h-1zM6 36h1v1h-1zM26 36h1v1h-1zM35 37h1v1h-1zM38 37h1v1h-1zM44 37h1v1h-1zM49 37h1v1h-1zM48 39h1v1h-1zM17 40h1v1h-1zM46 40h1v1h-1zM59 40h1v1h-1zM11 41h1v1h-1zM18 41h1v1h-1zM45 41h1v1h-1zM20 42h1v1h-1zM26 42h1v1h-1zM41 42h1v1h-1zM49 42h1v1h-1zM20 43h1v1h-1zM34 43h1v1h-1zM6 44h1v1h-1zM15 44h1v1h-1zM15 45h1v1h-1zM54 50h1v1h-1zM36 51h1v1h-1zM56 53h1v1h-1zM53 55h1v1h-1zM22 56h1v1h-1zM56 56h1v1h-1zM59 56h1v1h-1zM4 58h1v1h-1zM9 58h1v1h-1zM20 58h1v1h-1zM27 58h1v1h-1zM46 59h1v1h-1zM7 60h1v1h-1zM52 60h1v1h-1zM29 63h1v1h-1z"/>
<path fill="#f2bab8" d="M9 28h1v1h-1zM14 28h1v1h-1zM30 28h1v1h-1zM45 28h1v1h-1zM12 29h1v1h-1zM21 29h1v1h-1zM9 30h1v1h-1zM18 30h1v1h-1zM40 31h1v1h-1zM27 32h1v1h-1zM32 33h1v1h-1zM0 34h1v1h-1zM18 34h1v1h-1zM25 34h1v1h-1zM15 35h1v1h-1zM20 35h1v1h-1zM30 35h1v1h-1zM9 36h3v1h-3zM25 36h1v1h-1zM0 37h1v1h-1zM32 37h1v1h-1zM56 37h1v1h-1zM13 38h1v1h-1zM19 38h1v1h-1zM45 38h1v1h-1zM44 39h1v1h-1zM59 39h1v1h-1zM43 40h1v1h-1z"/>
<path fill="#f8ccc2" d="M10 28h1v1h-1zM51 28h1v1h-1zM2 29h1v1h-1zM11 29h1v1h-1zM23 29h1v1h-1zM25 29h1v1h-1zM35 29h1v1h-1zM6 30h1v1h-1zM48 30h1v1h-1zM53 30h1v1h-1zM0 31h1v1h-1zM18 31h1v1h-1zM27 33h1v1h-1zM11 35h1v1h-1zM14 35h1v1h-1zM44 36h1v1h-1zM54 36h1v1h-1zM23 37h1v1h-1zM26 37h2v1h-2zM30 37h1v1h-1zM54 37h1v1h-1zM21 38h1v1h-1zM39 38h1v1h-1zM19 39h1v1h-1zM38 39h1v1h-1zM20 40h1v1h-1zM59 41h1v1h-1zM42 42h1v1h-1zM46 49h1v1h-1zM9 54h1v1h-1zM2 58h1v1h-1zM26 60h1v1h-1zM51 60h1v1h-1zM14 62h1v1h-1zM33 62h1v1h-1zM14 63h1v1h-1zM29 64h1v1h-1zM33 64h1v1h-1z"/>
<path fill="#f9cec3" d="M11 28h1v1h-1zM20 28h1v1h-1zM27 28h1v1h-1zM16 29h1v1h-1zM14 30h1v1h-1zM20 31h1v1h-1zM37 31h1v1h-1zM6 33h1v1h-1zM22 33h1v1h-1zM31 34h1v1h-1zM30 36h1v1h-1zM33 36h1v1h-1zM10 37h1v1h-1zM31 37h1v1h-1zM48 37h1v1h-1zM50 37h1v1h-1zM10 38h1v1h-1zM35 38h1v1h-1zM38 38h1v1h-1zM54 38h1v1h-1zM59 38h1v1h-1zM29 39h1v1h-1zM16 40h1v1h-1zM29 40h1v1h-1zM45 40h1v1h-1zM2 44h1v1h-1zM56 48h1v1h-1zM56 49h2v1h-2zM7 51h1v1h-1zM31 54h1v1h-1zM56 54h1v1h-1zM35 56h1v1h-1zM57 56h1v1h-1zM34 57h1v1h-1zM14 64h1v1h-1z"/>
<path fill="#f8c9c1" d="M18 28h1v1h-1zM31 28h1v1h-1zM41 28h1v1h-1zM15 29h1v1h-1zM20 29h1v1h-1zM37 29h1v1h-1zM46 29h1v1h-1zM50 29h1v1h-1zM60 29h1v1h-1zM2 30h1v1h-1zM52 30h1v1h-1zM1 31h1v1h-1zM40 32h1v1h-1zM30 34h1v1h-1zM29 35h1v1h-1zM49 35h1v1h-1zM60 35h1v1h-1zM52 36h1v1h-1zM34 37h1v1h-1zM44 38h1v1h-1zM55 38h1v1h-1zM35 39h1v1h-1zM45 39h1v1h-1zM44 40h1v1h-1zM41 41h1v1h-1zM48 51h1v1h-1zM7 52h1v1h-1zM28 54h1v1h-1zM41 55h1v1h-1zM19 60h1v1h-1zM36 63h1v1h-1zM51 64h1v1h-1z"/>
<path fill="#f7c7c0" d="M23 28h1v1h-1zM26 28h1v1h-1zM24 29h1v1h-1zM49 29h1v1h-1zM8 30h1v1h-1zM40 30h1v1h-1zM5 31h2v1h-2zM8 31h1v1h-1zM10 31h1v1h-1zM6 32h1v1h-1zM59 32h1v1h-1zM28 34h1v1h-1zM32 34h1v1h-1zM37 34h1v1h-1zM2 35h1v1h-1zM12 36h1v1h-1zM22 36h1v1h-1zM29 36h1v1h-1zM35 36h2v1h-2zM7 37h1v1h-1zM29 37h1v1h-1zM43 38h1v1h-1zM56 38h1v1h-1zM60 38h1v1h-1zM14 39h1v1h-1zM42 40h1v1h-1zM44 51h1v1h-1zM44 52h1v1h-1zM52 53h1v1h-1zM56 64h1v1h-1z"/>
<path fill="#f1b7b6" d="M28 28h1v1h-1zM18 29h1v1h-1zM36 29h1v1h-1zM59 29h1v1h-1zM13 30h1v1h-1zM16 30h1v1h-1zM49 30h1v1h-1zM57 30h1v1h-1zM2 31h1v1h-1zM7 31h1v1h-1zM17 31h1v1h-1zM58 31h1v1h-1zM39 32h1v1h-1zM49 32h1v1h-1zM1 33h1v1h-1zM43 33h1v1h-1zM15 34h1v1h-1zM6 35h1v1h-1zM44 35h1v1h-1zM45 36h1v1h-1zM56 36h1v1h-1zM59 36h1v1h-1zM21 37h1v1h-1zM39 37h1v1h-1zM41 37h1v1h-1zM20 38h1v1h-1zM24 38h1v1h-1zM17 39h1v1h-1z"/>
<path fill="#f3beba" d="M33 28h1v1h-1zM44 28h1v1h-1zM57 29h1v1h-1zM41 30h1v1h-1zM1 32h1v1h-1zM21 32h1v1h-1zM40 33h1v1h-1zM19 34h1v1h-1zM4 36h1v1h-1zM27 36h1v1h-1zM47 37h1v1h-1zM41 39h1v1h-1zM44 41h1v1h-1zM34 48h1v1h-1z"/>
<path fill="#f4c0bc" d="M34 28h1v1h-1zM47 29h1v1h-1zM17 30h1v1h-1zM55 30h1v1h-1zM15 31h1v1h-1zM21 31h1v1h-1zM59 31h1v1h-1zM7 35h1v1h-1zM26 35h1v1h-1zM7 36h1v1h-1zM17 36h1v1h-1zM46 36h1v1h-1zM48 36h1v1h-1zM53 36h1v1h-1zM13 37h1v1h-1zM20 37h1v1h-1zM53 37h1v1h-1zM59 61h1v1h-1z"/>
<path fill="#f5c3bd" d="M40 28h1v1h-1zM9 29h1v1h-1zM17 29h1v1h-1zM56 29h1v1h-1zM56 30h1v1h-1zM11 31h1v1h-1zM34 31h1v1h-1zM41 31h1v1h-1zM49 31h1v1h-1zM47 32h1v1h-1zM1 34h1v1h-1zM5 34h1v1h-1zM0 35h1v1h-1zM17 35h1v1h-1zM28 36h1v1h-1zM38 36h1v1h-1zM51 36h1v1h-1zM11 37h2v1h-2zM12 38h1v1h-1zM47 38h1v1h-1zM15 39h2v1h-2zM24 39h1v1h-1zM43 39h1v1h-1zM41 40h1v1h-1zM43 41h1v1h-1zM44 42h1v1h-1zM34 49h1v1h-1zM10 60h1v1h-1z"/>
<path fill="#f6c5be" d="M48 28h1v1h-1zM60 28h1v1h-1zM27 29h1v1h-1zM38 29h2v1h-2zM44 29h1v1h-1zM20 30h2v1h-2zM37 32h1v1h-1zM38 33h1v1h-1zM41 34h1v1h-1zM4 35h1v1h-1zM12 35h1v1h-1zM33 35h1v1h-1zM14 36h1v1h-1zM18 36h1v1h-1zM23 36h1v1h-1zM42 36h1v1h-1zM9 37h1v1h-1zM17 37h1v1h-1zM37 37h1v1h-1zM42 37h1v1h-1zM7 38h1v1h-1zM17 38h1v1h-1zM37 38h1v1h-1zM42 38h1v1h-1zM51 38h1v1h-1zM18 40h1v1h-1zM34 58h1v1h-1zM33 63h1v1h-1z"/>
<path fill="#efb1b2" d="M14 29h1v1h-1zM26 30h1v1h-1zM37 30h2v1h-2zM59 30h2v1h-2zM9 31h1v1h-1zM55 31h1v1h-1zM3 32h1v1h-1zM44 32h1v1h-1zM19 33h1v1h-1zM37 33h1v1h-1zM42 33h1v1h-1zM6 34h1v1h-1zM13 35h1v1h-1zM18 35h1v1h-1zM27 35h1v1h-1zM34 35h1v1h-1zM45 35h2v1h-2zM13 36h1v1h-1zM40 36h1v1h-1zM60 37h1v1h-1zM16 38h1v1h-1zM41 38h1v1h-1zM20 39h1v1h-1zM42 41h1v1h-1z"/>
<path fill="#de98a2" d="M28 29h1v1h-1zM30 32h1v1h-1zM48 32h1v1h-1zM45 33h1v1h-1zM54 33h1v1h-1zM10 34h2v1h-2zM49 34h1v1h-1z"/>
<path fill="#dc97a0" d="M29 29h1v1h-1zM29 32h1v1h-1zM56 32h1v1h-1zM21 33h1v1h-1zM23 33h1v1h-1zM39 33h1v1h-1zM23 34h1v1h-1zM58 35h1v1h-1z"/>
<path fill="#ffffff" d="M30 29h2v1h-2zM28 30h4v1h-4zM33 30h1v1h-1zM45 30h1v1h-1zM12 31h1v1h-1zM28 31h4v1h-4zM33 31h1v1h-1zM45 31h1v1h-1zM10 32h1v1h-1zM12 32h1v1h-1zM14 32h1v1h-1zM19 32h1v1h-1zM28 32h1v1h-1zM53 32h1v1h-1zM57 32h1v1h-1zM60 32h1v1h-1zM8 33h5v1h-5zM14 33h1v1h-1zM20 33h1v1h-1zM46 33h1v1h-1zM49 33h1v1h-1zM51 33h3v1h-3zM56 33h2v1h-2zM9 34h1v1h-1zM21 34h1v1h-1zM35 34h1v1h-1zM50 34h1v1h-1zM53 34h2v1h-2zM56 34h1v1h-1zM58 34h1v1h-1zM54 35h1v1h-1zM16 37h1v1h-1z"/>
<path fill="#edabae" d="M32 29h1v1h-1zM45 29h1v1h-1zM12 30h1v1h-1zM22 30h1v1h-1zM39 30h1v1h-1zM36 31h1v1h-1zM39 31h1v1h-1zM46 31h1v1h-1zM56 31h1v1h-1zM41 32h1v1h-1zM58 32h1v1h-1zM0 33h1v1h-1zM26 34h1v1h-1zM59 34h1v1h-1zM16 35h1v1h-1zM25 35h1v1h-1zM31 35h2v1h-2zM36 35h1v1h-1zM39 35h1v1h-1zM51 35h3v1h-3zM0 36h1v1h-1zM43 36h1v1h-1zM58 36h1v1h-1z"/>
<path fill="#e29aa6" d="M33 29h1v1h-1zM25 31h1v1h-1zM60 31h1v1h-1zM13 32h1v1h-1zM32 32h1v1h-1zM7 33h1v1h-1zM13 33h1v1h-1zM47 33h1v1h-1zM22 34h1v1h-1zM46 34h1v1h-1zM57 34h1v1h-1z"/>
<path fill="#e49ca8" d="M34 29h1v1h-1zM34 30h1v1h-1zM19 31h1v1h-1zM38 32h1v1h-1zM26 33h1v1h-1zM60 34h1v1h-1zM10 35h1v1h-1z"/>
<path fill="#eeaeb0" d="M41 29h1v1h-1zM58 29h1v1h-1zM58 30h1v1h-1zM44 31h1v1h-1zM57 31h1v1h-1zM18 32h1v1h-1zM50 32h1v1h-1zM55 32h1v1h-1zM33 33h1v1h-1zM41 33h1v1h-1zM4 34h1v1h-1zM13 34h2v1h-2zM16 34h1v1h-1zM33 34h1v1h-1zM43 34h1v1h-1zM9 35h1v1h-1zM32 36h1v1h-1zM37 36h1v1h-1zM41 36h1v1h-1zM60 36h1v1h-1zM19 37h1v1h-1zM45 37h1v1h-1zM15 38h1v1h-1zM18 39h1v1h-1z"/>
<path fill="#f0b4b4" d="M48 29h1v1h-1zM15 30h1v1h-1zM23 30h2v1h-2zM44 30h1v1h-1zM26 31h1v1h-1zM50 31h1v1h-1zM34 32h1v1h-1zM54 32h1v1h-1zM59 33h1v1h-1zM7 34h1v1h-1zM23 35h1v1h-1zM28 35h1v1h-1zM55 36h1v1h-1zM14 37h1v1h-1zM14 38h1v1h-1zM13 39h1v1h-1zM42 39h1v1h-1z"/>
<path fill="#e59ea9" d="M11 30h1v1h-1zM47 30h1v1h-1zM48 31h1v1h-1zM51 31h1v1h-1zM25 32h1v1h-1zM45 32h1v1h-1zM2 33h1v1h-1zM17 33h1v1h-1zM34 33h1v1h-1zM22 35h1v1h-1zM57 35h1v1h-1zM24 36h1v1h-1zM15 37h1v1h-1z"/>
<path fill="#eba6ab" d="M19 30h1v1h-1zM35 30h1v1h-1zM27 31h1v1h-1zM43 31h1v1h-1zM0 32h1v1h-1zM11 32h1v1h-1zM17 32h1v1h-1zM3 33h1v1h-1zM18 33h1v1h-1zM25 33h1v1h-1zM30 33h1v1h-1zM36 33h1v1h-1zM58 33h1v1h-1zM42 34h1v1h-1zM44 34h2v1h-2zM51 34h1v1h-1zM41 35h1v1h-1zM21 36h1v1h-1zM47 36h1v1h-1zM57 36h1v1h-1z"/>
<path fill="#da959e" d="M25 30h1v1h-1zM53 31h1v1h-1zM16 32h1v1h-1zM51 32h1v1h-1zM60 33h1v1h-1zM20 34h1v1h-1zM47 34h1v1h-1zM55 34h1v1h-1zM42 35h1v1h-1z"/>
<path fill="#e9a4ab" d="M27 30h1v1h-1zM36 30h1v1h-1zM13 31h1v1h-1zM38 31h1v1h-1zM42 31h1v1h-1zM47 31h1v1h-1zM2 32h1v1h-1zM15 32h1v1h-1zM35 32h1v1h-1zM4 33h1v1h-1zM16 33h1v1h-1zM24 33h1v1h-1zM37 35h1v1h-1zM15 36h1v1h-1zM39 36h1v1h-1z"/>
<path fill="#d8949c" d="M32 30h1v1h-1z"/>
<path fill="#eca8ac" d="M42 30h1v1h-1zM51 30h1v1h-1zM16 31h1v1h-1zM52 31h1v1h-1zM54 31h1v1h-1zM4 32h1v1h-1zM36 32h1v1h-1zM42 32h2v1h-2zM46 32h1v1h-1zM29 34h1v1h-1zM38 35h1v1h-1zM48 35h1v1h-1zM50 35h1v1h-1zM56 35h1v1h-1zM59 35h1v1h-1zM20 36h1v1h-1zM31 36h1v1h-1zM18 37h1v1h-1zM24 37h1v1h-1z"/>
<path fill="#e8a2aa" d="M50 30h1v1h-1zM14 31h1v1h-1zM24 31h1v1h-1zM5 32h1v1h-1zM7 32h1v1h-1zM23 32h1v1h-1zM26 32h1v1h-1zM31 32h1v1h-1zM5 33h1v1h-1zM29 33h1v1h-1zM35 33h1v1h-1zM50 33h1v1h-1zM8 34h1v1h-1zM12 34h1v1h-1zM39 34h1v1h-1zM48 34h1v1h-1zM52 34h1v1h-1zM19 35h1v1h-1zM21 35h1v1h-1zM24 35h1v1h-1zM43 35h1v1h-1zM47 35h1v1h-1zM43 37h1v1h-1z"/>
<path fill="#e6a0a9" d="M23 31h1v1h-1zM35 31h1v1h-1zM8 32h2v1h-2zM24 32h1v1h-1zM33 32h1v1h-1zM15 33h1v1h-1zM31 33h1v1h-1zM44 33h1v1h-1zM48 33h1v1h-1zM55 33h1v1h-1zM2 34h1v1h-1zM16 36h1v1h-1zM50 36h1v1h-1zM18 38h1v1h-1z"/>
<path fill="#e099a4" d="M32 31h1v1h-1zM52 32h1v1h-1zM17 34h1v1h-1zM24 34h1v1h-1zM34 34h1v1h-1zM36 34h1v1h-1zM40 34h1v1h-1zM35 35h1v1h-1zM40 35h1v1h-1zM55 35h1v1h-1zM19 36h1v1h-1z"/>
</g></g>
<clipPath id="c10"><rect x="90.20" y="609.20" width="396.80" height="396.50"/></clipPath>
<g clip-path="url(#c10)"><g transform="translate(84.587 593.411) scale(6.61333 7.45400)">
<rect x="0" y="0" width="61" height="57" fill="#f9f9fc"/>
<path fill="#ffffff" d="M0 0h1v1h-1zM6 0h1v1h-1zM15 0h3v1h-3zM20 0h3v1h-3zM29 0h4v1h-4zM34 0h1v1h-1zM39 0h2v1h-2zM42 0h1v1h-1zM44 0h1v1h-1zM46 0h1v1h-1zM50 0h1v1h-1zM52 0h1v1h-1zM54 0h2v1h-2zM57 0h2v1h-2zM0 1h1v1h-1zM2 1h1v1h-1zM6 1h1v1h-1zM10 1h1v1h-1zM13 1h1v1h-1zM15 1h2v1h-2zM20 1h2v1h-2zM28 1h5v1h-5zM39 1h2v1h-2zM42 1h1v1h-1zM44 1h2v1h-2zM48 1h1v1h-1zM50 1h3v1h-3zM54 1h1v1h-1zM57 1h1v1h-1zM10 2h1v1h-1zM17 2h1v1h-1zM20 2h1v1h-1zM22 2h1v1h-1zM28 2h1v1h-1zM30 2h1v1h-1zM32 2h1v1h-1zM34 2h1v1h-1zM39 2h2v1h-2zM42 2h4v1h-4zM50 2h1v1h-1zM52 2h1v1h-1zM54 2h1v1h-1zM57 2h1v1h-1zM60 2h1v1h-1zM1 3h2v1h-2zM5 3h1v1h-1zM8 3h1v1h-1zM19 3h1v1h-1zM22 3h1v1h-1zM27 3h1v1h-1zM29 3h1v1h-1zM33 3h1v1h-1zM36 3h1v1h-1zM39 3h1v1h-1zM42 3h1v1h-1zM44 3h3v1h-3zM48 3h2v1h-2zM51 3h1v1h-1zM54 3h4v1h-4zM60 3h1v1h-1zM0 4h2v1h-2zM4 4h5v1h-5zM24 4h2v1h-2zM27 4h1v1h-1zM33 4h1v1h-1zM39 4h1v1h-1zM45 4h1v1h-1zM47 4h2v1h-2zM56 4h2v1h-2zM60 4h1v1h-1zM0 5h2v1h-2zM4 5h2v1h-2zM8 5h1v1h-1zM13 5h3v1h-3zM20 5h1v1h-1zM24 5h4v1h-4zM31 5h2v1h-2zM37 5h3v1h-3zM42 5h1v1h-1zM44 5h1v1h-1zM51 5h1v1h-1zM56 5h3v1h-3zM60 5h1v1h-1zM0 6h3v1h-3zM5 6h1v1h-1zM7 6h1v1h-1zM9 6h1v1h-1zM19 6h1v1h-1zM24 6h1v1h-1zM28 6h1v1h-1zM35 6h1v1h-1zM37 6h1v1h-1zM47 6h1v1h-1zM49 6h1v1h-1zM56 6h1v1h-1zM58 6h1v1h-1zM3 7h1v1h-1zM5 7h2v1h-2zM10 7h1v1h-1zM24 7h1v1h-1zM34 7h1v1h-1zM38 7h2v1h-2zM47 7h1v1h-1zM49 7h2v1h-2zM55 7h2v1h-2zM5 8h1v1h-1zM13 8h1v1h-1zM18 8h1v1h-1zM21 8h1v1h-1zM30 8h1v1h-1zM34 8h1v1h-1zM40 8h1v1h-1zM46 8h1v1h-1zM49 8h4v1h-4zM54 8h1v1h-1zM58 8h2v1h-2zM7 9h1v1h-1zM10 9h1v1h-1zM12 9h2v1h-2zM17 9h1v1h-1zM22 9h1v1h-1zM25 9h2v1h-2zM28 9h1v1h-1zM30 9h1v1h-1zM34 9h1v1h-1zM36 9h1v1h-1zM41 9h1v1h-1zM46 9h1v1h-1zM48 9h1v1h-1zM50 9h1v1h-1zM52 9h1v1h-1zM54 9h1v1h-1zM56 9h1v1h-1zM7 10h1v1h-1zM10 10h1v1h-1zM17 10h1v1h-1zM29 10h3v1h-3zM36 10h1v1h-1zM45 10h1v1h-1zM47 10h2v1h-2zM50 10h1v1h-1zM5 11h1v1h-1zM7 11h1v1h-1zM9 11h1v1h-1zM16 11h2v1h-2zM19 11h1v1h-1zM45 11h1v1h-1zM47 11h1v1h-1zM52 11h1v1h-1zM1 12h1v1h-1zM7 12h1v1h-1zM12 12h1v1h-1zM32 12h1v1h-1zM1 13h1v1h-1zM7 13h1v1h-1zM10 13h1v1h-1zM28 13h1v1h-1zM30 13h1v1h-1zM35 13h1v1h-1zM48 13h1v1h-1zM55 13h1v1h-1zM59 13h1v1h-1zM33 14h1v1h-1zM35 14h1v1h-1zM39 14h1v1h-1zM52 14h1v1h-1zM55 14h1v1h-1zM1 15h2v1h-2zM27 15h1v1h-1zM13 16h1v1h-1zM25 16h1v1h-1zM32 16h1v1h-1zM46 16h2v1h-2zM58 16h1v1h-1zM32 17h1v1h-1zM37 17h1v1h-1zM60 17h1v1h-1zM6 18h1v1h-1zM39 18h1v1h-1zM18 19h1v1h-1zM39 19h1v1h-1zM40 20h1v1h-1zM20 24h1v1h-1zM42 25h1v1h-1zM44 25h1v1h-1zM41 26h1v1h-1z"/>
<path fill="#f0f0f8" d="M5 0h1v1h-1zM18 0h1v1h-1zM24 0h1v1h-1zM26 0h1v1h-1zM41 0h1v1h-1zM49 0h1v1h-1zM11 1h1v1h-1zM14 1h1v1h-1zM18 1h1v1h-1zM26 1h1v1h-1zM37 1h1v1h-1zM53 1h1v1h-1zM38 2h1v1h-1zM24 3h2v1h-2zM31 3h1v1h-1zM35 3h1v1h-1zM16 4h1v1h-1zM21 4h1v1h-1zM32 4h1v1h-1zM41 4h1v1h-1zM43 5h1v1h-1zM20 6h1v1h-1zM29 6h1v1h-1zM48 6h1v1h-1zM51 6h1v1h-1zM0 7h1v1h-1zM26 7h1v1h-1zM48 7h1v1h-1zM53 7h1v1h-1zM0 8h1v1h-1zM16 8h2v1h-2zM60 8h1v1h-1zM6 9h1v1h-1zM16 9h1v1h-1zM19 9h1v1h-1zM32 9h1v1h-1zM37 9h1v1h-1zM40 9h1v1h-1zM57 9h2v1h-2zM3 10h1v1h-1zM6 10h1v1h-1zM44 10h1v1h-1zM57 10h2v1h-2zM10 11h1v1h-1zM14 11h1v1h-1zM22 11h1v1h-1zM28 11h1v1h-1zM33 11h1v1h-1zM37 11h1v1h-1zM49 11h1v1h-1zM51 11h1v1h-1zM58 11h1v1h-1zM11 12h1v1h-1zM14 12h1v1h-1zM18 12h2v1h-2zM22 12h1v1h-1zM30 12h1v1h-1zM37 12h2v1h-2zM41 12h1v1h-1zM49 12h1v1h-1zM51 12h1v1h-1zM58 12h1v1h-1zM4 13h1v1h-1zM6 13h1v1h-1zM16 13h2v1h-2zM22 13h2v1h-2zM26 13h1v1h-1zM36 13h2v1h-2zM42 13h1v1h-1zM44 13h1v1h-1zM49 13h1v1h-1zM56 13h1v1h-1zM4 14h3v1h-3zM11 14h1v1h-1zM18 14h2v1h-2zM23 14h1v1h-1zM25 14h1v1h-1zM28 14h3v1h-3zM37 14h2v1h-2zM41 14h3v1h-3zM53 14h2v1h-2zM56 14h5v1h-5zM0 15h1v1h-1zM4 15h2v1h-2zM10 15h2v1h-2zM17 15h1v1h-1zM22 15h2v1h-2zM25 15h2v1h-2zM31 15h1v1h-1zM33 15h1v1h-1zM35 15h2v1h-2zM38 15h1v1h-1zM42 15h3v1h-3zM49 15h1v1h-1zM51 15h1v1h-1zM54 15h1v1h-1zM56 15h1v1h-1zM0 16h1v1h-1zM4 16h1v1h-1zM6 16h3v1h-3zM10 16h1v1h-1zM12 16h1v1h-1zM17 16h1v1h-1zM22 16h1v1h-1zM26 16h1v1h-1zM29 16h2v1h-2zM35 16h2v1h-2zM40 16h6v1h-6zM48 16h2v1h-2zM51 16h2v1h-2zM54 16h2v1h-2zM57 16h1v1h-1zM4 17h1v1h-1zM9 17h1v1h-1zM12 17h1v1h-1zM19 17h1v1h-1zM28 17h1v1h-1zM40 17h1v1h-1zM42 17h1v1h-1zM44 17h1v1h-1zM49 17h1v1h-1zM51 17h1v1h-1zM57 17h1v1h-1zM59 17h1v1h-1zM0 18h2v1h-2zM3 18h1v1h-1zM5 18h1v1h-1zM9 18h6v1h-6zM19 18h4v1h-4zM24 18h1v1h-1zM26 18h1v1h-1zM34 18h1v1h-1zM38 18h1v1h-1zM40 18h3v1h-3zM46 18h3v1h-3zM52 18h1v1h-1zM54 18h1v1h-1zM57 18h4v1h-4zM2 19h6v1h-6zM10 19h1v1h-1zM14 19h1v1h-1zM19 19h1v1h-1zM23 19h1v1h-1zM26 19h1v1h-1zM36 19h2v1h-2zM42 19h1v1h-1zM44 19h1v1h-1zM46 19h5v1h-5zM52 19h1v1h-1zM55 19h3v1h-3zM60 19h1v1h-1zM0 20h3v1h-3zM4 20h1v1h-1zM12 20h4v1h-4zM17 20h5v1h-5zM25 20h2v1h-2zM37 20h3v1h-3zM42 20h4v1h-4zM48 20h1v1h-1zM51 20h2v1h-2zM58 20h1v1h-1zM10 21h2v1h-2zM13 21h2v1h-2zM17 21h1v1h-1zM20 21h2v1h-2zM23 21h2v1h-2zM37 21h3v1h-3zM41 21h1v1h-1zM43 21h3v1h-3zM48 21h1v1h-1zM50 21h1v1h-1zM14 22h1v1h-1zM17 22h2v1h-2zM20 22h1v1h-1zM24 22h1v1h-1zM38 22h1v1h-1zM40 22h2v1h-2zM43 22h1v1h-1zM49 22h1v1h-1zM60 22h1v1h-1zM14 23h1v1h-1zM16 23h1v1h-1zM19 23h1v1h-1zM22 23h2v1h-2zM38 23h1v1h-1zM42 23h2v1h-2zM45 23h1v1h-1zM48 23h2v1h-2zM14 24h1v1h-1zM18 24h2v1h-2zM21 24h2v1h-2zM39 24h1v1h-1zM41 24h1v1h-1zM43 24h1v1h-1zM45 24h3v1h-3zM17 25h2v1h-2zM22 25h1v1h-1zM40 25h1v1h-1zM43 25h1v1h-1zM20 26h1v1h-1zM42 27h1v1h-1z"/>
<path fill="#e9e9f5" d="M8 8h1v1h-1zM44 12h1v1h-1zM19 13h1v1h-1zM41 13h1v1h-1zM51 13h1v1h-1zM17 14h1v1h-1zM46 14h1v1h-1zM37 15h1v1h-1zM31 16h1v1h-1zM33 16h1v1h-1zM56 16h1v1h-1zM1 17h1v1h-1zM7 17h2v1h-2zM14 17h1v1h-1zM21 17h2v1h-2zM27 17h1v1h-1zM29 17h1v1h-1zM31 17h1v1h-1zM33 17h1v1h-1zM35 17h1v1h-1zM41 17h1v1h-1zM52 17h1v1h-1zM54 17h1v1h-1zM56 17h1v1h-1zM4 18h1v1h-1zM7 18h1v1h-1zM27 18h1v1h-1zM35 18h1v1h-1zM44 18h1v1h-1zM56 18h1v1h-1zM0 19h1v1h-1zM13 19h1v1h-1zM24 19h1v1h-1zM27 19h1v1h-1zM35 19h1v1h-1zM53 19h1v1h-1zM6 20h4v1h-4zM16 20h1v1h-1zM24 20h1v1h-1zM36 20h1v1h-1zM47 20h1v1h-1zM50 20h1v1h-1zM53 20h2v1h-2zM56 20h2v1h-2zM60 20h1v1h-1zM0 21h1v1h-1zM2 21h1v1h-1zM9 21h1v1h-1zM15 21h2v1h-2zM36 21h1v1h-1zM47 21h1v1h-1zM52 21h1v1h-1zM59 21h1v1h-1zM15 22h2v1h-2zM23 22h1v1h-1zM36 22h1v1h-1zM47 22h1v1h-1zM50 22h2v1h-2zM12 23h2v1h-2zM18 23h1v1h-1zM37 23h1v1h-1zM40 23h1v1h-1zM47 23h1v1h-1zM60 23h1v1h-1zM13 24h1v1h-1zM15 24h1v1h-1zM40 24h1v1h-1zM49 24h1v1h-1zM15 25h2v1h-2zM19 25h1v1h-1zM21 25h1v1h-1zM39 25h1v1h-1zM45 25h1v1h-1zM16 26h2v1h-2zM40 26h1v1h-1zM43 26h3v1h-3zM17 27h1v1h-1zM40 27h1v1h-1zM43 27h1v1h-1zM43 28h1v1h-1z"/>
<path fill="#e3e3f3" d="M30 17h1v1h-1zM28 18h1v1h-1zM32 19h1v1h-1zM34 19h1v1h-1zM3 20h1v1h-1zM5 20h1v1h-1zM28 20h1v1h-1zM35 20h1v1h-1zM55 20h1v1h-1zM4 21h1v1h-1zM26 21h1v1h-1zM54 21h1v1h-1zM56 21h3v1h-3zM0 22h1v1h-1zM9 22h3v1h-3zM25 22h1v1h-1zM56 22h1v1h-1zM23 24h1v1h-1zM48 24h1v1h-1zM14 25h1v1h-1zM46 25h1v1h-1zM18 26h2v1h-2zM19 27h2v1h-2zM41 27h1v1h-1zM44 27h1v1h-1zM19 28h1v1h-1zM34 42h1v1h-1zM30 44h2v1h-2zM28 45h1v1h-1zM32 46h1v1h-1z"/>
<path fill="#dedef1" d="M29 18h5v1h-5zM28 19h2v1h-2zM27 20h1v1h-1zM34 20h1v1h-1zM1 21h1v1h-1zM5 21h1v1h-1zM7 21h1v1h-1zM25 21h1v1h-1zM34 21h1v1h-1zM55 21h1v1h-1zM60 21h1v1h-1zM58 22h2v1h-2zM11 23h1v1h-1zM25 23h1v1h-1zM36 23h1v1h-1zM50 23h1v1h-1zM56 23h1v1h-1zM38 24h1v1h-1zM13 25h1v1h-1zM47 25h1v1h-1zM15 26h1v1h-1zM21 26h1v1h-1zM39 26h1v1h-1zM18 27h1v1h-1zM21 27h1v1h-1zM45 27h1v1h-1zM32 41h1v1h-1zM33 44h1v1h-1zM27 45h1v1h-1zM31 45h2v1h-2zM32 47h1v1h-1zM0 51h1v1h-1zM2 51h1v1h-1zM0 52h1v1h-1zM2 52h1v1h-1zM22 52h1v1h-1zM22 53h1v1h-1zM28 53h1v1h-1zM49 53h1v1h-1zM4 54h1v1h-1z"/>
<path fill="#b1add8" d="M30 19h1v1h-1zM31 20h1v1h-1zM27 22h1v1h-1zM34 22h1v1h-1zM6 23h1v1h-1zM26 23h1v1h-1zM10 24h1v1h-1zM24 24h1v1h-1zM60 24h1v1h-1zM12 25h1v1h-1zM23 26h1v1h-1zM38 26h1v1h-1zM14 27h1v1h-1zM16 28h1v1h-1zM42 29h1v1h-1zM44 29h1v1h-1zM29 40h1v1h-1zM26 42h1v1h-1zM31 42h1v1h-1zM4 43h1v1h-1zM26 43h1v1h-1zM52 43h3v1h-3zM1 44h1v1h-1zM4 44h1v1h-1zM9 44h1v1h-1zM34 44h1v1h-1zM51 44h1v1h-1zM0 45h1v1h-1zM4 45h2v1h-2zM7 45h1v1h-1zM25 45h2v1h-2zM34 45h1v1h-1zM38 45h1v1h-1zM48 45h1v1h-1zM54 45h1v1h-1zM56 45h1v1h-1zM6 46h3v1h-3zM13 46h1v1h-1zM54 46h1v1h-1zM7 47h1v1h-1zM15 47h1v1h-1zM23 47h1v1h-1zM52 47h1v1h-1zM11 48h1v1h-1zM18 48h1v1h-1zM23 48h1v1h-1zM30 48h1v1h-1zM38 48h2v1h-2zM52 48h1v1h-1zM54 48h1v1h-1zM56 48h1v1h-1zM60 48h1v1h-1zM3 49h1v1h-1zM12 49h1v1h-1zM14 49h1v1h-1zM24 49h1v1h-1zM29 49h1v1h-1zM38 49h1v1h-1zM47 49h1v1h-1zM51 49h1v1h-1zM60 49h1v1h-1zM1 50h1v1h-1zM4 50h1v1h-1zM19 50h1v1h-1zM22 50h2v1h-2zM25 50h1v1h-1zM28 50h1v1h-1zM31 50h2v1h-2zM50 50h4v1h-4zM58 50h1v1h-1zM60 50h1v1h-1zM9 51h3v1h-3zM24 51h1v1h-1zM32 51h1v1h-1zM34 51h1v1h-1zM36 51h1v1h-1zM4 52h1v1h-1zM14 52h1v1h-1zM24 52h1v1h-1zM27 52h1v1h-1zM29 52h1v1h-1zM36 52h1v1h-1zM39 52h1v1h-1zM45 52h1v1h-1zM55 52h1v1h-1zM58 52h1v1h-1zM60 52h1v1h-1zM11 53h1v1h-1zM14 53h1v1h-1zM16 53h2v1h-2zM19 53h1v1h-1zM36 53h1v1h-1zM42 53h1v1h-1zM47 53h2v1h-2zM54 53h1v1h-1zM56 53h1v1h-1zM1 54h1v1h-1zM9 54h1v1h-1zM14 54h2v1h-2zM20 54h1v1h-1zM24 54h3v1h-3zM37 54h3v1h-3zM48 54h1v1h-1zM52 54h1v1h-1zM58 54h1v1h-1zM1 55h1v1h-1zM3 55h1v1h-1zM14 55h1v1h-1zM17 55h1v1h-1zM28 55h1v1h-1zM31 55h2v1h-2zM38 55h1v1h-1zM40 55h1v1h-1zM47 55h1v1h-1zM49 55h2v1h-2zM52 55h1v1h-1zM54 55h1v1h-1zM0 56h2v1h-2zM7 56h1v1h-1zM10 56h1v1h-1zM13 56h1v1h-1zM15 56h1v1h-1zM18 56h1v1h-1zM29 56h1v1h-1zM43 56h1v1h-1zM47 56h1v1h-1zM50 56h2v1h-2zM60 56h1v1h-1z"/>
<path fill="#c5c4e4" d="M31 19h1v1h-1zM32 20h2v1h-2zM28 21h1v1h-1zM3 22h3v1h-3zM7 22h1v1h-1zM26 22h1v1h-1zM53 22h1v1h-1zM57 22h1v1h-1zM8 23h1v1h-1zM53 23h1v1h-1zM57 23h1v1h-1zM11 24h1v1h-1zM13 26h2v1h-2zM15 27h1v1h-1zM39 28h1v1h-1zM17 29h3v1h-3zM43 30h1v1h-1zM33 41h2v1h-2zM0 42h1v1h-1zM27 42h1v1h-1zM29 42h2v1h-2zM35 42h1v1h-1zM53 42h1v1h-1zM32 43h1v1h-1zM37 44h1v1h-1zM57 44h1v1h-1zM12 45h1v1h-1zM12 46h1v1h-1zM28 46h1v1h-1zM30 46h1v1h-1zM34 46h2v1h-2zM46 46h1v1h-1zM1 47h4v1h-4zM17 47h1v1h-1zM27 47h1v1h-1zM30 47h1v1h-1zM35 47h1v1h-1zM39 47h1v1h-1zM1 48h3v1h-3zM5 48h1v1h-1zM8 48h3v1h-3zM0 49h1v1h-1zM2 49h1v1h-1zM4 49h1v1h-1zM7 49h1v1h-1zM23 49h1v1h-1zM25 49h1v1h-1zM30 49h2v1h-2zM33 49h2v1h-2zM52 49h1v1h-1zM0 50h1v1h-1zM39 50h1v1h-1zM48 50h2v1h-2zM23 51h1v1h-1zM26 51h1v1h-1zM28 51h1v1h-1zM37 51h1v1h-1zM44 51h1v1h-1zM51 51h2v1h-2zM55 51h1v1h-1zM3 52h1v1h-1zM5 52h1v1h-1zM52 52h1v1h-1zM4 53h1v1h-1zM8 53h1v1h-1zM13 53h1v1h-1zM21 53h1v1h-1zM25 53h2v1h-2zM30 53h1v1h-1zM35 53h1v1h-1zM38 53h1v1h-1zM60 53h1v1h-1zM2 54h1v1h-1zM6 54h1v1h-1zM21 54h2v1h-2zM28 54h1v1h-1zM35 54h1v1h-1zM41 54h1v1h-1zM49 54h1v1h-1zM55 54h1v1h-1zM60 54h1v1h-1zM7 55h1v1h-1zM11 55h1v1h-1zM19 55h1v1h-1zM25 55h1v1h-1zM41 55h1v1h-1zM46 55h1v1h-1zM48 55h1v1h-1zM53 55h1v1h-1zM60 55h1v1h-1zM2 56h1v1h-1zM19 56h2v1h-2zM22 56h1v1h-1zM26 56h1v1h-1zM32 56h1v1h-1zM34 56h1v1h-1zM36 56h1v1h-1zM39 56h3v1h-3zM57 56h1v1h-1z"/>
<path fill="#d7d7ed" d="M33 19h1v1h-1zM3 21h1v1h-1zM6 21h1v1h-1zM53 21h1v1h-1zM1 22h1v1h-1zM55 22h1v1h-1zM7 23h1v1h-1zM24 23h1v1h-1zM23 25h1v1h-1zM48 25h2v1h-2zM22 26h1v1h-1zM46 26h1v1h-1zM20 28h1v1h-1zM42 28h1v1h-1zM28 42h1v1h-1zM32 42h1v1h-1zM29 43h1v1h-1zM12 44h1v1h-1zM23 44h1v1h-1zM28 44h1v1h-1zM32 44h1v1h-1zM58 44h1v1h-1zM30 45h1v1h-1zM2 46h1v1h-1zM26 46h2v1h-2zM29 46h1v1h-1zM36 46h1v1h-1zM5 47h1v1h-1zM26 47h1v1h-1zM28 47h2v1h-2zM31 47h1v1h-1zM17 48h1v1h-1zM5 49h1v1h-1zM26 49h1v1h-1zM7 50h1v1h-1zM48 51h1v1h-1zM6 52h1v1h-1zM25 52h2v1h-2zM28 52h1v1h-1zM2 53h1v1h-1zM5 53h3v1h-3zM15 53h1v1h-1zM24 53h1v1h-1zM7 54h1v1h-1zM8 55h1v1h-1zM26 55h1v1h-1zM5 56h1v1h-1zM16 56h1v1h-1zM21 56h1v1h-1zM58 56h2v1h-2z"/>
<path fill="#a6a2d1" d="M29 20h1v1h-1zM2 23h1v1h-1zM36 24h1v1h-1zM59 24h1v1h-1zM11 25h1v1h-1zM37 25h1v1h-1zM40 29h1v1h-1zM33 40h1v1h-1zM31 41h1v1h-1zM35 41h1v1h-1zM3 42h1v1h-1zM7 42h1v1h-1zM9 42h1v1h-1zM57 42h1v1h-1zM0 43h1v1h-1zM3 43h1v1h-1zM7 43h1v1h-1zM9 43h1v1h-1zM12 43h1v1h-1zM25 43h1v1h-1zM57 43h1v1h-1zM60 43h1v1h-1zM0 44h1v1h-1zM11 44h1v1h-1zM26 44h1v1h-1zM36 44h1v1h-1zM52 44h1v1h-1zM56 44h1v1h-1zM59 44h1v1h-1zM8 45h2v1h-2zM13 45h1v1h-1zM23 45h1v1h-1zM36 45h1v1h-1zM39 45h1v1h-1zM47 45h1v1h-1zM58 45h1v1h-1zM3 46h1v1h-1zM24 46h2v1h-2zM38 46h1v1h-1zM48 46h1v1h-1zM56 46h1v1h-1zM6 47h1v1h-1zM9 47h2v1h-2zM16 47h1v1h-1zM21 47h1v1h-1zM40 47h1v1h-1zM45 47h1v1h-1zM53 47h1v1h-1zM55 47h1v1h-1zM60 47h1v1h-1zM4 48h1v1h-1zM36 48h2v1h-2zM42 48h1v1h-1zM49 48h1v1h-1zM55 48h1v1h-1zM57 48h1v1h-1zM13 49h1v1h-1zM15 49h1v1h-1zM18 49h1v1h-1zM45 49h1v1h-1zM48 49h1v1h-1zM58 49h1v1h-1zM11 50h1v1h-1zM18 50h1v1h-1zM36 50h1v1h-1zM55 50h1v1h-1zM57 50h1v1h-1zM59 50h1v1h-1zM14 51h1v1h-1zM27 51h1v1h-1zM38 51h1v1h-1zM41 51h1v1h-1zM54 51h1v1h-1zM56 51h1v1h-1zM59 51h2v1h-2zM9 52h1v1h-1zM16 52h1v1h-1zM18 52h1v1h-1zM37 52h1v1h-1zM44 52h1v1h-1zM47 52h1v1h-1zM53 52h1v1h-1zM9 53h1v1h-1zM12 53h1v1h-1zM20 53h1v1h-1zM32 53h1v1h-1zM34 53h1v1h-1zM41 53h1v1h-1zM45 53h1v1h-1zM58 53h2v1h-2zM5 54h1v1h-1zM11 54h1v1h-1zM18 54h1v1h-1zM27 54h1v1h-1zM36 54h1v1h-1zM43 54h3v1h-3zM4 55h1v1h-1zM13 55h1v1h-1zM15 55h1v1h-1zM27 55h1v1h-1zM33 55h1v1h-1zM42 55h1v1h-1zM51 55h1v1h-1zM56 55h1v1h-1zM25 56h1v1h-1zM31 56h1v1h-1zM38 56h1v1h-1zM44 56h1v1h-1zM48 56h1v1h-1z"/>
<path fill="#8a8ac6" d="M30 20h1v1h-1zM29 21h1v1h-1zM32 21h1v1h-1zM33 22h1v1h-1zM27 23h1v1h-1zM34 23h1v1h-1zM4 24h1v1h-1zM7 24h1v1h-1zM54 24h1v1h-1zM7 25h1v1h-1zM24 25h1v1h-1zM12 26h1v1h-1zM23 27h1v1h-1zM37 27h2v1h-2zM14 28h1v1h-1zM39 29h1v1h-1zM18 30h1v1h-1zM20 31h1v1h-1zM31 39h1v1h-1zM27 40h1v1h-1zM34 40h1v1h-1zM52 41h1v1h-1zM1 42h1v1h-1zM5 42h1v1h-1zM2 43h1v1h-1zM49 43h1v1h-1zM55 43h2v1h-2zM2 44h1v1h-1zM52 45h1v1h-1zM59 45h1v1h-1zM23 46h1v1h-1zM52 46h1v1h-1zM60 46h1v1h-1zM14 47h1v1h-1zM41 47h1v1h-1zM47 47h1v1h-1zM50 47h1v1h-1zM58 47h1v1h-1zM19 48h1v1h-1zM46 48h1v1h-1zM50 48h1v1h-1zM21 50h1v1h-1zM41 50h1v1h-1zM17 51h1v1h-1zM20 51h1v1h-1zM42 51h2v1h-2zM20 52h1v1h-1zM41 52h1v1h-1z"/>
<path fill="#cfcfe9" d="M8 21h1v1h-1zM35 21h1v1h-1zM2 22h1v1h-1zM52 22h1v1h-1zM54 22h1v1h-1zM10 23h1v1h-1zM51 23h1v1h-1zM58 23h2v1h-2zM37 24h1v1h-1zM50 24h1v1h-1zM38 25h1v1h-1zM16 27h1v1h-1zM46 27h1v1h-1zM17 28h2v1h-2zM40 28h2v1h-2zM43 29h1v1h-1zM28 40h1v1h-1zM28 41h1v1h-1zM30 41h1v1h-1zM53 41h1v1h-1zM33 42h1v1h-1zM54 42h2v1h-2zM27 43h2v1h-2zM30 43h2v1h-2zM34 43h1v1h-1zM51 43h1v1h-1zM58 43h1v1h-1zM8 44h1v1h-1zM29 44h1v1h-1zM29 45h1v1h-1zM35 45h1v1h-1zM0 46h1v1h-1zM31 46h1v1h-1zM33 46h1v1h-1zM39 46h1v1h-1zM8 47h1v1h-1zM13 47h1v1h-1zM33 47h2v1h-2zM25 48h2v1h-2zM28 48h2v1h-2zM31 48h3v1h-3zM35 48h1v1h-1zM41 48h1v1h-1zM1 49h1v1h-1zM6 49h1v1h-1zM9 49h1v1h-1zM32 49h1v1h-1zM5 50h2v1h-2zM8 50h2v1h-2zM29 50h1v1h-1zM33 50h1v1h-1zM37 50h1v1h-1zM45 50h1v1h-1zM3 51h1v1h-1zM5 51h2v1h-2zM8 51h1v1h-1zM22 51h1v1h-1zM30 51h1v1h-1zM39 51h1v1h-1zM7 52h1v1h-1zM30 52h2v1h-2zM49 52h1v1h-1zM51 52h1v1h-1zM0 53h2v1h-2zM27 53h1v1h-1zM0 54h1v1h-1zM19 54h1v1h-1zM46 54h1v1h-1zM21 55h1v1h-1zM39 55h1v1h-1zM58 55h1v1h-1zM4 56h1v1h-1zM6 56h1v1h-1zM45 56h1v1h-1zM49 56h1v1h-1z"/>
<path fill="#bbb8de" d="M27 21h1v1h-1zM6 22h1v1h-1zM8 22h1v1h-1zM35 22h1v1h-1zM0 23h1v1h-1zM9 23h1v1h-1zM52 23h1v1h-1zM54 23h2v1h-2zM12 24h1v1h-1zM25 24h1v1h-1zM56 24h1v1h-1zM47 26h1v1h-1zM49 26h1v1h-1zM39 27h1v1h-1zM15 28h1v1h-1zM21 28h1v1h-1zM44 28h2v1h-2zM20 29h1v1h-1zM20 30h1v1h-1zM31 40h2v1h-2zM27 41h1v1h-1zM29 41h1v1h-1zM6 42h1v1h-1zM52 42h1v1h-1zM33 43h1v1h-1zM35 43h2v1h-2zM27 44h1v1h-1zM35 44h1v1h-1zM49 44h1v1h-1zM10 45h1v1h-1zM33 45h1v1h-1zM57 45h1v1h-1zM4 46h1v1h-1zM53 46h1v1h-1zM57 46h1v1h-1zM0 47h1v1h-1zM11 47h1v1h-1zM24 47h2v1h-2zM36 47h2v1h-2zM48 47h1v1h-1zM57 47h1v1h-1zM0 48h1v1h-1zM6 48h2v1h-2zM16 48h1v1h-1zM22 48h1v1h-1zM24 48h1v1h-1zM27 48h1v1h-1zM34 48h1v1h-1zM44 48h1v1h-1zM47 48h2v1h-2zM51 48h1v1h-1zM53 48h1v1h-1zM8 49h1v1h-1zM10 49h2v1h-2zM17 49h1v1h-1zM22 49h1v1h-1zM27 49h2v1h-2zM36 49h1v1h-1zM39 49h1v1h-1zM49 49h2v1h-2zM53 49h3v1h-3zM59 49h1v1h-1zM2 50h2v1h-2zM10 50h1v1h-1zM26 50h2v1h-2zM30 50h1v1h-1zM34 50h1v1h-1zM38 50h1v1h-1zM43 50h1v1h-1zM47 50h1v1h-1zM54 50h1v1h-1zM1 51h1v1h-1zM4 51h1v1h-1zM7 51h1v1h-1zM12 51h1v1h-1zM18 51h1v1h-1zM25 51h1v1h-1zM29 51h1v1h-1zM31 51h1v1h-1zM40 51h1v1h-1zM45 51h1v1h-1zM47 51h1v1h-1zM49 51h1v1h-1zM58 51h1v1h-1zM1 52h1v1h-1zM8 52h1v1h-1zM10 52h2v1h-2zM15 52h1v1h-1zM17 52h1v1h-1zM34 52h1v1h-1zM38 52h1v1h-1zM48 52h1v1h-1zM50 52h1v1h-1zM56 52h2v1h-2zM3 53h1v1h-1zM23 53h1v1h-1zM29 53h1v1h-1zM31 53h1v1h-1zM39 53h1v1h-1zM44 53h1v1h-1zM46 53h1v1h-1zM50 53h4v1h-4zM57 53h1v1h-1zM8 54h1v1h-1zM12 54h2v1h-2zM16 54h1v1h-1zM29 54h1v1h-1zM31 54h3v1h-3zM40 54h1v1h-1zM50 54h2v1h-2zM54 54h1v1h-1zM56 54h1v1h-1zM0 55h1v1h-1zM2 55h1v1h-1zM5 55h2v1h-2zM9 55h1v1h-1zM16 55h1v1h-1zM20 55h1v1h-1zM22 55h1v1h-1zM29 55h1v1h-1zM35 55h2v1h-2zM45 55h1v1h-1zM55 55h1v1h-1zM59 55h1v1h-1zM3 56h1v1h-1zM8 56h2v1h-2zM11 56h2v1h-2zM14 56h1v1h-1zM17 56h1v1h-1zM24 56h1v1h-1zM28 56h1v1h-1zM33 56h1v1h-1zM35 56h1v1h-1zM37 56h1v1h-1zM42 56h1v1h-1zM53 56h1v1h-1zM55 56h1v1h-1z"/>
<path fill="#6473b8" d="M30 21h1v1h-1zM29 22h1v1h-1zM34 24h1v1h-1zM2 25h2v1h-2zM6 25h1v1h-1zM1 26h1v1h-1zM7 26h1v1h-1zM51 26h1v1h-1zM55 26h1v1h-1zM38 29h1v1h-1zM47 30h1v1h-1zM15 31h1v1h-1zM41 31h1v1h-1zM44 31h2v1h-2zM41 32h1v1h-1zM31 38h1v1h-1zM7 40h1v1h-1zM35 40h1v1h-1zM54 40h1v1h-1zM4 41h1v1h-1zM10 41h1v1h-1zM25 41h1v1h-1zM51 41h1v1h-1zM57 41h1v1h-1zM50 42h1v1h-1zM48 43h1v1h-1z"/>
<path fill="#9b98cd" d="M31 21h1v1h-1zM33 21h1v1h-1zM28 22h1v1h-1zM3 23h3v1h-3zM51 24h1v1h-1zM55 24h1v1h-1zM58 24h1v1h-1zM36 25h1v1h-1zM50 25h1v1h-1zM48 26h1v1h-1zM22 27h1v1h-1zM47 27h1v1h-1zM46 28h1v1h-1zM21 29h1v1h-1zM41 29h1v1h-1zM45 29h1v1h-1zM42 30h1v1h-1zM43 31h1v1h-1zM29 39h2v1h-2zM30 40h1v1h-1zM2 42h1v1h-1zM8 42h1v1h-1zM51 42h1v1h-1zM1 43h1v1h-1zM8 43h1v1h-1zM24 43h1v1h-1zM3 44h1v1h-1zM5 44h1v1h-1zM25 44h1v1h-1zM54 44h1v1h-1zM60 44h1v1h-1zM1 45h1v1h-1zM6 45h1v1h-1zM24 45h1v1h-1zM53 45h1v1h-1zM5 46h1v1h-1zM9 46h1v1h-1zM22 46h1v1h-1zM37 46h1v1h-1zM47 46h1v1h-1zM55 46h1v1h-1zM58 46h2v1h-2zM22 47h1v1h-1zM46 47h1v1h-1zM49 47h1v1h-1zM51 47h1v1h-1zM54 47h1v1h-1zM59 47h1v1h-1zM15 48h1v1h-1zM21 48h1v1h-1zM40 48h1v1h-1zM45 48h1v1h-1zM20 49h1v1h-1zM35 49h1v1h-1zM37 49h1v1h-1zM41 49h1v1h-1zM43 49h2v1h-2zM46 49h1v1h-1zM56 49h2v1h-2zM12 50h4v1h-4zM17 50h1v1h-1zM20 50h1v1h-1zM40 50h1v1h-1zM44 50h1v1h-1zM13 51h1v1h-1zM15 51h2v1h-2zM33 51h1v1h-1zM50 51h1v1h-1zM57 51h1v1h-1zM12 52h2v1h-2zM19 52h1v1h-1zM21 52h1v1h-1zM23 52h1v1h-1zM32 52h1v1h-1zM35 52h1v1h-1zM46 52h1v1h-1zM54 52h1v1h-1zM59 52h1v1h-1zM10 53h1v1h-1zM18 53h1v1h-1zM33 53h1v1h-1zM40 53h1v1h-1zM43 53h1v1h-1zM55 53h1v1h-1zM3 54h1v1h-1zM10 54h1v1h-1zM17 54h1v1h-1zM23 54h1v1h-1zM30 54h1v1h-1zM34 54h1v1h-1zM42 54h1v1h-1zM47 54h1v1h-1zM10 55h1v1h-1zM18 55h1v1h-1zM24 55h1v1h-1zM34 55h1v1h-1zM37 55h1v1h-1zM57 55h1v1h-1zM27 56h1v1h-1zM30 56h1v1h-1zM52 56h1v1h-1zM54 56h1v1h-1zM56 56h1v1h-1z"/>
<path fill="#4b77a6" d="M30 22h1v1h-1zM5 26h1v1h-1zM54 26h1v1h-1zM48 29h1v1h-1zM17 32h1v1h-1zM26 39h1v1h-1zM52 40h1v1h-1zM50 41h1v1h-1zM48 42h1v1h-1zM22 43h1v1h-1zM17 45h1v1h-1z"/>
<path fill="#6a75b8" d="M31 22h1v1h-1zM28 24h1v1h-1zM4 25h1v1h-1zM26 25h1v1h-1zM52 25h1v1h-1zM10 26h1v1h-1zM24 26h1v1h-1zM59 26h1v1h-1zM11 27h1v1h-1zM24 27h1v1h-1zM48 28h1v1h-1zM46 30h1v1h-1zM18 31h1v1h-1zM40 31h1v1h-1zM19 32h1v1h-1zM43 32h1v1h-1zM29 38h1v1h-1zM32 38h1v1h-1zM6 40h1v1h-1zM53 40h1v1h-1zM1 41h1v1h-1zM24 41h1v1h-1zM38 43h1v1h-1zM44 46h1v1h-1zM43 47h1v1h-1z"/>
<path fill="#7d81bf" d="M32 22h1v1h-1zM28 23h1v1h-1zM9 25h1v1h-1zM56 25h1v1h-1zM60 25h1v1h-1zM36 26h1v1h-1zM50 26h1v1h-1zM22 28h1v1h-1zM47 28h1v1h-1zM9 41h1v1h-1zM56 41h1v1h-1zM24 42h1v1h-1zM11 43h1v1h-1zM6 44h1v1h-1zM50 44h1v1h-1zM55 45h1v1h-1zM20 48h1v1h-1zM58 48h1v1h-1zM42 52h2v1h-2zM23 55h1v1h-1z"/>
<path fill="#908ec9" d="M1 23h1v1h-1zM35 23h1v1h-1zM3 24h1v1h-1zM52 24h1v1h-1zM57 24h1v1h-1zM37 26h1v1h-1zM16 29h1v1h-1zM17 30h1v1h-1zM32 39h1v1h-1zM6 41h1v1h-1zM8 41h1v1h-1zM54 41h1v1h-1zM4 42h1v1h-1zM56 42h1v1h-1zM58 42h1v1h-1zM37 43h1v1h-1zM59 43h1v1h-1zM7 44h1v1h-1zM13 44h1v1h-1zM24 44h1v1h-1zM53 44h1v1h-1zM2 45h2v1h-2zM11 45h1v1h-1zM37 45h1v1h-1zM49 45h1v1h-1zM51 45h1v1h-1zM60 45h1v1h-1zM10 46h2v1h-2zM14 46h2v1h-2zM50 46h1v1h-1zM12 47h1v1h-1zM38 47h1v1h-1zM56 47h1v1h-1zM12 48h3v1h-3zM43 48h1v1h-1zM59 48h1v1h-1zM16 49h1v1h-1zM19 49h1v1h-1zM21 49h1v1h-1zM40 49h1v1h-1zM16 50h1v1h-1zM24 50h1v1h-1zM35 50h1v1h-1zM42 50h1v1h-1zM46 50h1v1h-1zM56 50h1v1h-1zM19 51h1v1h-1zM35 51h1v1h-1zM46 51h1v1h-1zM53 51h1v1h-1zM33 52h1v1h-1zM40 52h1v1h-1zM37 53h1v1h-1zM53 54h1v1h-1zM57 54h1v1h-1zM59 54h1v1h-1zM12 55h1v1h-1zM30 55h1v1h-1zM44 55h1v1h-1zM23 56h1v1h-1zM46 56h1v1h-1z"/>
<path fill="#5671b8" d="M29 23h1v1h-1zM33 24h1v1h-1zM8 25h1v1h-1zM35 25h1v1h-1zM0 26h1v1h-1zM6 26h1v1h-1zM25 26h1v1h-1zM52 26h1v1h-1zM56 26h1v1h-1zM10 27h1v1h-1zM36 27h1v1h-1zM12 28h1v1h-1zM49 28h1v1h-1zM13 29h1v1h-1zM33 38h1v1h-1zM34 39h1v1h-1zM23 42h1v1h-1zM37 42h1v1h-1zM49 42h1v1h-1zM15 44h1v1h-1zM39 44h1v1h-1zM18 46h1v1h-1z"/>
<path fill="#42856e" d="M30 23h1v1h-1zM1 27h1v1h-1zM26 27h1v1h-1zM51 28h1v1h-1zM60 28h1v1h-1zM13 30h1v1h-1zM47 31h1v1h-1zM41 33h1v1h-1zM43 34h1v1h-1zM30 36h1v1h-1zM27 38h1v1h-1zM4 39h3v1h-3zM9 39h1v1h-1zM10 40h1v1h-1zM16 44h1v1h-1zM18 45h1v1h-1z"/>
<path fill="#5071b6" d="M31 23h1v1h-1zM5 25h1v1h-1zM8 26h1v1h-1zM60 26h1v1h-1zM25 27h1v1h-1zM15 30h1v1h-1zM16 31h1v1h-1zM39 31h1v1h-1zM46 31h1v1h-1zM18 32h1v1h-1zM43 33h1v1h-1zM0 40h1v1h-1zM2 40h2v1h-2zM58 41h2v1h-2zM46 44h1v1h-1z"/>
<path fill="#7277b8" d="M32 23h1v1h-1zM5 24h1v1h-1zM8 24h1v1h-1zM0 25h2v1h-2zM25 25h1v1h-1zM55 25h1v1h-1zM59 25h1v1h-1zM12 27h1v1h-1zM14 29h1v1h-1zM21 30h1v1h-1zM41 30h1v1h-1zM44 30h1v1h-1zM42 31h1v1h-1zM59 42h2v1h-2zM5 43h1v1h-1zM50 43h1v1h-1zM15 45h1v1h-1zM41 46h1v1h-1zM42 47h1v1h-1z"/>
<path fill="#777bba" d="M33 23h1v1h-1zM1 24h1v1h-1zM26 24h2v1h-2zM35 24h1v1h-1zM53 24h1v1h-1zM51 25h1v1h-1zM57 25h2v1h-2zM13 27h1v1h-1zM46 29h1v1h-1zM16 30h1v1h-1zM45 30h1v1h-1zM19 31h1v1h-1zM30 38h1v1h-1zM28 39h1v1h-1zM8 40h1v1h-1zM2 41h1v1h-1zM55 41h1v1h-1zM6 43h1v1h-1zM23 43h1v1h-1zM55 44h1v1h-1zM22 45h1v1h-1zM46 45h1v1h-1zM16 46h2v1h-2zM44 47h1v1h-1zM21 51h1v1h-1z"/>
<path fill="#8488c4" d="M0 24h1v1h-1zM2 24h1v1h-1zM6 24h1v1h-1zM9 24h1v1h-1zM10 25h1v1h-1zM48 27h2v1h-2zM15 29h1v1h-1zM19 30h1v1h-1zM40 30h1v1h-1zM0 41h1v1h-1zM3 41h1v1h-1zM5 41h1v1h-1zM7 41h1v1h-1zM26 41h1v1h-1zM10 42h1v1h-1zM25 42h1v1h-1zM36 42h1v1h-1zM10 43h1v1h-1zM10 44h1v1h-1zM38 44h1v1h-1zM48 44h1v1h-1zM14 45h1v1h-1zM50 45h1v1h-1zM1 46h1v1h-1zM40 46h1v1h-1zM45 46h1v1h-1zM49 46h1v1h-1zM51 46h1v1h-1zM18 47h1v1h-1zM42 49h1v1h-1zM43 55h1v1h-1z"/>
<path fill="#417a7f" d="M29 24h1v1h-1zM56 27h1v1h-1zM16 32h1v1h-1zM44 32h1v1h-1zM31 37h1v1h-1zM53 39h1v1h-1zM39 43h1v1h-1zM40 44h1v1h-1zM45 44h1v1h-1zM20 46h1v1h-1z"/>
<path fill="#56ae3d" d="M30 24h1v1h-1zM12 30h1v1h-1zM48 31h1v1h-1zM46 32h1v1h-1zM21 33h1v1h-1zM37 40h1v1h-1zM22 42h1v1h-1zM47 42h1v1h-1zM20 45h1v1h-1z"/>
<path fill="#51a844" d="M31 24h1v1h-1zM28 25h1v1h-1zM56 28h1v1h-1zM50 29h1v1h-1zM28 37h1v1h-1zM26 38h1v1h-1zM35 38h1v1h-1zM36 39h1v1h-1zM41 44h1v1h-1z"/>
<path fill="#48789a" d="M32 24h1v1h-1zM4 26h1v1h-1zM58 27h2v1h-2zM11 28h1v1h-1zM24 28h1v1h-1zM23 29h1v1h-1zM37 29h1v1h-1zM22 30h1v1h-1zM18 33h2v1h-2zM42 33h1v1h-1zM28 38h1v1h-1zM7 39h1v1h-1zM35 39h1v1h-1zM4 40h1v1h-1zM25 40h1v1h-1zM55 40h1v1h-1zM57 40h1v1h-1zM60 41h1v1h-1zM47 43h1v1h-1zM19 46h1v1h-1z"/>
<path fill="#5d72b8" d="M27 25h1v1h-1zM53 25h1v1h-1zM3 26h1v1h-1zM58 26h1v1h-1zM50 27h1v1h-1zM13 28h1v1h-1zM23 28h1v1h-1zM22 29h1v1h-1zM14 30h1v1h-1zM39 30h1v1h-1zM21 31h1v1h-1zM40 32h1v1h-1zM27 39h1v1h-1zM5 40h1v1h-1zM9 40h1v1h-1zM56 40h1v1h-1zM36 41h1v1h-1zM11 42h2v1h-2zM13 43h1v1h-1zM14 44h1v1h-1zM40 45h1v1h-1zM45 45h1v1h-1zM20 47h1v1h-1z"/>
<path fill="#68b535" d="M29 25h1v1h-1zM52 28h1v1h-1zM55 28h1v1h-1zM36 29h1v1h-1zM51 29h1v1h-1zM13 31h1v1h-1zM45 33h1v1h-1zM18 34h1v1h-1zM4 38h1v1h-1zM53 38h1v1h-1zM16 43h1v1h-1zM44 44h1v1h-1z"/>
<path fill="#94c22e" d="M30 25h1v1h-1zM35 28h1v1h-1zM39 33h1v1h-1zM40 34h1v1h-1zM8 37h1v1h-1zM50 39h1v1h-1zM20 44h1v1h-1z"/>
<path fill="#85be30" d="M31 25h1v1h-1zM53 28h2v1h-2zM23 31h1v1h-1zM2 38h2v1h-2zM60 39h1v1h-1zM46 42h1v1h-1zM21 43h1v1h-1zM19 44h1v1h-1zM42 44h2v1h-2z"/>
<path fill="#5cb139" d="M32 25h1v1h-1zM9 28h1v1h-1zM57 28h1v1h-1zM23 30h1v1h-1zM32 36h1v1h-1zM7 38h1v1h-1zM10 39h1v1h-1zM45 43h1v1h-1zM19 45h1v1h-1z"/>
<path fill="#4a935c" d="M33 25h1v1h-1zM25 28h1v1h-1zM36 28h1v1h-1zM59 28h1v1h-1zM40 33h1v1h-1zM44 33h1v1h-1zM32 37h1v1h-1zM0 39h1v1h-1zM25 39h1v1h-1zM55 39h2v1h-2zM59 40h1v1h-1zM49 41h1v1h-1z"/>
<path fill="#4d74ae" d="M34 25h1v1h-1zM2 26h1v1h-1zM9 26h1v1h-1zM26 26h1v1h-1zM53 26h1v1h-1zM51 27h1v1h-1zM60 27h1v1h-1zM20 33h1v1h-1zM1 40h1v1h-1zM21 45h1v1h-1z"/>
<path fill="#6e76b8" d="M54 25h1v1h-1zM11 26h1v1h-1zM57 26h1v1h-1zM37 28h2v1h-2zM47 29h1v1h-1zM17 31h1v1h-1zM20 32h1v1h-1zM42 32h1v1h-1zM33 39h1v1h-1zM26 40h1v1h-1zM22 44h1v1h-1zM47 44h1v1h-1zM16 45h1v1h-1zM21 46h1v1h-1zM19 47h1v1h-1z"/>
<path fill="#4d9a53" d="M27 26h1v1h-1zM8 27h2v1h-2zM58 28h1v1h-1zM42 34h1v1h-1zM31 36h1v1h-1zM2 39h1v1h-1zM52 39h1v1h-1zM57 39h1v1h-1zM24 40h1v1h-1zM60 40h1v1h-1zM12 41h1v1h-1zM48 41h1v1h-1zM15 43h1v1h-1zM46 43h1v1h-1zM17 44h1v1h-1z"/>
<path fill="#76b931" d="M28 26h1v1h-1zM0 28h2v1h-2zM7 28h1v1h-1zM24 29h1v1h-1zM11 30h1v1h-1zM41 34h1v1h-1zM33 36h1v1h-1zM27 37h1v1h-1zM34 37h1v1h-1zM5 38h1v1h-1zM56 38h1v1h-1z"/>
<path fill="#b7ce23" d="M29 26h1v1h-1zM10 30h1v1h-1zM24 30h1v1h-1zM48 32h1v1h-1zM18 35h1v1h-1zM32 35h1v1h-1zM25 37h1v1h-1zM35 37h1v1h-1zM24 38h1v1h-1zM18 43h1v1h-1z"/>
<path fill="#dbdb1a" d="M30 26h1v1h-1zM29 34h1v1h-1zM32 34h1v1h-1zM40 35h1v1h-1zM25 36h2v1h-2zM43 36h1v1h-1zM56 37h1v1h-1zM58 37h1v1h-1zM23 39h1v1h-1zM39 40h1v1h-1z"/>
<path fill="#c7d51f" d="M31 26h1v1h-1zM53 29h2v1h-2zM51 30h1v1h-1zM58 30h3v1h-3zM22 33h1v1h-1zM30 34h1v1h-1zM44 35h1v1h-1zM0 37h1v1h-1zM52 37h1v1h-1zM59 38h1v1h-1zM39 41h1v1h-1zM40 42h1v1h-1zM42 43h1v1h-1z"/>
<path fill="#a3c52b" d="M32 26h1v1h-1zM6 28h1v1h-1zM9 29h1v1h-1zM25 29h1v1h-1zM56 29h1v1h-1zM58 29h1v1h-1zM46 33h1v1h-1zM20 35h1v1h-1zM34 36h1v1h-1zM6 37h1v1h-1zM53 37h1v1h-1zM51 38h1v1h-1zM11 39h1v1h-1zM48 40h1v1h-1zM14 41h1v1h-1zM47 41h1v1h-1zM17 43h1v1h-1z"/>
<path fill="#6eb733" d="M33 26h1v1h-1zM60 29h1v1h-1zM22 32h1v1h-1zM16 33h1v1h-1zM30 35h1v1h-1zM29 36h1v1h-1zM9 38h1v1h-1zM24 39h1v1h-1zM14 42h1v1h-1zM40 43h1v1h-1z"/>
<path fill="#3e7f72" d="M34 26h1v1h-1zM52 27h1v1h-1zM49 29h1v1h-1zM38 30h1v1h-1zM48 30h1v1h-1zM45 32h1v1h-1zM17 33h1v1h-1zM29 37h1v1h-1zM34 38h1v1h-1zM54 39h1v1h-1zM36 40h1v1h-1zM23 41h1v1h-1zM13 42h1v1h-1zM38 42h1v1h-1zM44 45h1v1h-1z"/>
<path fill="#44798d" d="M35 26h1v1h-1zM55 27h1v1h-1zM57 27h1v1h-1zM10 28h1v1h-1zM50 28h1v1h-1zM12 29h1v1h-1zM14 31h1v1h-1zM21 32h1v1h-1zM30 37h1v1h-1zM11 41h1v1h-1zM37 41h1v1h-1zM14 43h1v1h-1zM41 45h1v1h-1zM42 46h2v1h-2z"/>
<path fill="#468c67" d="M0 27h1v1h-1zM4 27h1v1h-1zM53 27h2v1h-2zM11 29h1v1h-1zM22 31h1v1h-1zM33 37h1v1h-1zM1 39h1v1h-1zM58 40h1v1h-1zM21 44h1v1h-1z"/>
<path fill="#3e7b77" d="M2 27h2v1h-2zM7 27h1v1h-1zM8 39h1v1h-1zM51 40h1v1h-1z"/>
<path fill="#4ea14b" d="M5 27h2v1h-2zM10 29h1v1h-1zM38 31h1v1h-1zM15 32h1v1h-1zM39 32h1v1h-1zM20 34h1v1h-1zM3 39h1v1h-1zM50 40h1v1h-1zM42 45h2v1h-2z"/>
<path fill="#62b337" d="M27 27h1v1h-1zM35 27h1v1h-1zM3 28h1v1h-1zM37 30h1v1h-1zM49 30h1v1h-1zM14 32h1v1h-1zM19 34h1v1h-1zM44 34h1v1h-1zM6 38h1v1h-1zM8 38h1v1h-1zM55 38h1v1h-1zM51 39h1v1h-1zM58 39h1v1h-1zM11 40h1v1h-1zM49 40h1v1h-1zM13 41h1v1h-1zM39 42h1v1h-1z"/>
<path fill="#bdd022" d="M28 27h1v1h-1zM33 27h1v1h-1zM27 28h1v1h-1zM0 29h1v1h-1zM11 31h1v1h-1zM16 34h1v1h-1zM19 35h1v1h-1zM2 37h1v1h-1zM9 37h1v1h-1zM36 38h1v1h-1zM38 40h1v1h-1zM45 42h1v1h-1zM41 43h1v1h-1z"/>
<path fill="#d7d91b" d="M29 27h1v1h-1zM49 32h1v1h-1zM1 37h1v1h-1zM47 40h1v1h-1zM15 41h1v1h-1zM20 42h1v1h-1zM41 42h1v1h-1zM44 42h1v1h-1z"/>
<path fill="#fbdf17" d="M30 27h1v1h-1zM1 30h1v1h-1zM37 32h1v1h-1zM30 33h1v1h-1zM32 33h1v1h-1zM22 34h1v1h-1zM26 35h1v1h-1zM17 36h1v1h-1zM36 36h1v1h-1zM55 36h1v1h-1zM57 36h1v1h-1zM11 37h1v1h-1zM48 38h1v1h-1zM44 41h1v1h-1z"/>
<path fill="#f8e520" d="M31 27h1v1h-1zM29 28h1v1h-1zM5 30h1v1h-1zM55 30h1v1h-1zM0 31h1v1h-1zM25 31h1v1h-1zM36 31h1v1h-1zM33 33h1v1h-1zM48 33h2v1h-2zM5 35h1v1h-1zM8 35h1v1h-1zM16 35h1v1h-1zM18 36h1v1h-1zM40 36h1v1h-1zM44 36h1v1h-1zM52 36h1v1h-1zM58 36h1v1h-1zM50 37h1v1h-1zM60 37h1v1h-1zM47 39h1v1h-1zM15 40h1v1h-1zM46 40h1v1h-1zM16 41h1v1h-1z"/>
<path fill="#e8e315" d="M32 27h1v1h-1zM4 30h1v1h-1zM7 30h1v1h-1zM9 30h1v1h-1zM52 30h1v1h-1zM51 31h1v1h-1zM33 34h1v1h-1zM21 35h1v1h-1zM0 36h1v1h-1zM7 36h1v1h-1zM53 36h1v1h-1zM56 36h1v1h-1zM51 37h1v1h-1zM59 37h1v1h-1zM38 39h1v1h-1zM19 42h1v1h-1zM42 42h1v1h-1z"/>
<path fill="#7ebc30" d="M34 27h1v1h-1zM2 28h1v1h-1zM5 28h1v1h-1zM26 28h1v1h-1zM47 32h1v1h-1zM17 34h1v1h-1zM31 35h1v1h-1zM28 36h1v1h-1zM25 38h1v1h-1zM38 41h1v1h-1zM18 44h1v1h-1z"/>
<path fill="#8cc12f" d="M4 28h1v1h-1zM8 28h1v1h-1zM57 29h1v1h-1zM59 29h1v1h-1zM42 35h2v1h-2zM0 38h2v1h-2zM52 38h1v1h-1zM54 38h1v1h-1zM57 38h1v1h-1zM23 40h1v1h-1zM15 42h1v1h-1z"/>
<path fill="#d2d81c" d="M28 28h1v1h-1zM34 28h1v1h-1zM2 29h1v1h-1zM5 29h1v1h-1zM26 29h1v1h-1zM25 30h1v1h-1zM57 30h1v1h-1zM50 31h1v1h-1zM47 33h1v1h-1zM39 34h1v1h-1zM46 34h1v1h-1zM33 35h1v1h-1zM35 36h1v1h-1zM3 37h1v1h-1zM36 37h1v1h-1zM11 38h1v1h-1zM50 38h1v1h-1zM46 41h1v1h-1z"/>
<path fill="#ef7f19" d="M30 28h1v1h-1zM30 30h1v1h-1zM0 32h1v1h-1zM2 32h1v1h-1zM4 32h1v1h-1zM8 32h1v1h-1zM28 32h2v1h-2zM1 33h1v1h-1zM26 33h1v1h-1zM54 33h1v1h-1zM2 34h1v1h-1zM25 34h1v1h-1zM50 34h1v1h-1zM11 35h2v1h-2zM14 35h1v1h-1zM37 35h1v1h-1zM47 36h1v1h-1zM15 37h1v1h-1zM22 37h1v1h-1zM39 37h1v1h-1zM17 39h1v1h-1zM43 41h1v1h-1z"/>
<path fill="#eb6e1d" d="M31 28h2v1h-2zM30 29h1v1h-1zM28 30h2v1h-2zM9 32h1v1h-1zM54 32h1v1h-1zM57 33h1v1h-1zM0 34h1v1h-1zM24 34h1v1h-1zM51 35h1v1h-1zM58 35h1v1h-1zM14 36h1v1h-1zM13 37h1v1h-1zM17 38h1v1h-1zM39 38h1v1h-1zM21 39h1v1h-1zM45 39h1v1h-1z"/>
<path fill="#fbc116" d="M33 28h1v1h-1zM27 30h1v1h-1zM52 31h1v1h-1zM57 31h1v1h-1zM31 32h1v1h-1zM12 33h1v1h-1zM29 33h1v1h-1zM34 34h1v1h-1zM7 35h1v1h-1zM46 35h1v1h-1zM10 36h1v1h-1zM24 36h1v1h-1zM45 36h1v1h-1zM19 37h1v1h-1zM37 37h1v1h-1zM39 39h1v1h-1zM21 40h1v1h-1zM18 41h1v1h-1zM41 41h1v1h-1z"/>
<path fill="#c2d321" d="M1 29h1v1h-1zM3 29h1v1h-1zM7 29h1v1h-1zM14 33h1v1h-1zM41 35h1v1h-1zM27 36h1v1h-1zM54 37h2v1h-2zM16 42h1v1h-1zM21 42h1v1h-1zM20 43h1v1h-1z"/>
<path fill="#b1cb25" d="M4 29h1v1h-1zM13 32h1v1h-1zM21 34h1v1h-1zM31 34h1v1h-1zM45 34h1v1h-1zM4 37h1v1h-1zM58 38h1v1h-1zM22 41h1v1h-1zM44 43h1v1h-1z"/>
<path fill="#cdd61e" d="M6 29h1v1h-1zM8 29h1v1h-1zM35 29h1v1h-1zM23 32h1v1h-1zM17 35h1v1h-1zM8 36h1v1h-1zM42 36h1v1h-1zM5 37h1v1h-1zM57 37h1v1h-1zM60 38h1v1h-1zM12 39h1v1h-1zM19 43h1v1h-1z"/>
<path fill="#e5e117" d="M27 29h1v1h-1zM3 30h1v1h-1zM10 31h1v1h-1zM59 31h1v1h-1zM15 34h1v1h-1zM19 36h1v1h-1zM54 36h1v1h-1zM10 37h1v1h-1zM12 38h1v1h-1zM37 38h1v1h-1zM18 42h1v1h-1z"/>
<path fill="#f5a31c" d="M28 29h2v1h-2zM3 32h1v1h-1zM24 32h2v1h-2zM28 33h1v1h-1zM1 34h1v1h-1zM4 34h1v1h-1zM47 34h1v1h-1zM0 35h1v1h-1zM36 35h1v1h-1zM38 35h1v1h-1zM55 35h1v1h-1zM57 35h1v1h-1zM12 36h1v1h-1zM12 37h1v1h-1zM41 37h1v1h-1zM47 37h1v1h-1zM13 38h1v1h-1zM38 38h1v1h-1zM45 40h1v1h-1z"/>
<path fill="#e53c21" d="M31 29h1v1h-1zM33 31h1v1h-1zM59 34h1v1h-1zM48 35h1v1h-1zM19 39h1v1h-1z"/>
<path fill="#e43222" d="M32 29h1v1h-1zM32 30h1v1h-1zM34 30h1v1h-1zM60 33h1v1h-1z"/>
<path fill="#e75120" d="M33 29h1v1h-1zM16 37h1v1h-1zM44 37h1v1h-1zM21 38h1v1h-1z"/>
<path fill="#fcca14" d="M34 29h1v1h-1zM35 30h1v1h-1zM53 30h1v1h-1zM50 32h1v1h-1zM14 34h1v1h-1zM1 36h1v1h-1zM47 38h1v1h-1zM14 39h1v1h-1zM22 39h1v1h-1zM17 41h1v1h-1zM20 41h1v1h-1z"/>
<path fill="#9cc32d" d="M52 29h1v1h-1zM15 33h1v1h-1zM26 37h1v1h-1zM59 39h1v1h-1zM12 40h1v1h-1z"/>
<path fill="#aac828" d="M55 29h1v1h-1zM36 30h1v1h-1zM50 30h1v1h-1zM12 31h1v1h-1zM37 31h1v1h-1zM49 31h1v1h-1zM38 32h1v1h-1zM28 35h2v1h-2zM7 37h1v1h-1zM10 38h1v1h-1zM37 39h1v1h-1zM49 39h1v1h-1zM13 40h1v1h-1z"/>
<path fill="#f3e720" d="M0 30h1v1h-1zM6 30h1v1h-1zM8 30h1v1h-1zM54 30h1v1h-1zM60 31h1v1h-1zM31 33h1v1h-1zM38 33h1v1h-1zM35 35h1v1h-1zM39 35h1v1h-1zM53 35h1v1h-1zM3 36h1v1h-1zM5 36h1v1h-1zM9 36h1v1h-1zM20 36h1v1h-1zM22 40h1v1h-1z"/>
<path fill="#fcd514" d="M2 30h1v1h-1zM26 30h1v1h-1zM7 31h1v1h-1zM23 33h1v1h-1zM59 36h1v1h-1zM23 38h1v1h-1zM40 41h1v1h-1zM45 41h1v1h-1z"/>
<path fill="#e64720" d="M31 30h1v1h-1zM32 31h1v1h-1zM34 31h1v1h-1zM52 33h1v1h-1zM58 33h1v1h-1zM56 34h1v1h-1zM45 38h1v1h-1zM44 39h1v1h-1zM42 40h1v1h-1z"/>
<path fill="#e42022" d="M33 30h1v1h-1zM43 38h1v1h-1z"/>
<path fill="#e0de19" d="M56 30h1v1h-1zM24 31h1v1h-1zM12 32h1v1h-1zM28 34h1v1h-1zM27 35h1v1h-1zM34 35h1v1h-1zM45 35h1v1h-1zM2 36h1v1h-1zM6 36h1v1h-1zM41 36h1v1h-1zM49 38h1v1h-1zM13 39h1v1h-1zM48 39h1v1h-1zM14 40h1v1h-1zM43 43h1v1h-1z"/>
<path fill="#f7ae1c" d="M1 31h1v1h-1zM9 31h1v1h-1zM56 31h1v1h-1zM10 33h2v1h-2zM26 34h1v1h-1zM49 34h1v1h-1zM53 34h1v1h-1zM2 35h3v1h-3zM6 35h1v1h-1zM9 35h1v1h-1zM54 35h1v1h-1zM60 36h1v1h-1zM49 37h1v1h-1zM40 40h1v1h-1z"/>
<path fill="#f08718" d="M2 31h1v1h-1zM27 31h1v1h-1zM29 31h1v1h-1zM54 31h2v1h-2zM1 32h1v1h-1zM6 32h1v1h-1zM32 32h1v1h-1zM34 32h1v1h-1zM51 32h1v1h-1zM57 32h1v1h-1zM6 33h1v1h-1zM27 33h1v1h-1zM55 33h1v1h-1zM6 34h1v1h-1zM8 34h1v1h-1zM13 34h1v1h-1zM54 34h1v1h-1zM57 34h1v1h-1zM49 35h2v1h-2zM23 36h1v1h-1zM38 36h1v1h-1zM46 36h1v1h-1zM17 37h2v1h-2zM20 37h1v1h-1zM23 37h1v1h-1zM38 37h1v1h-1zM40 39h1v1h-1zM17 40h3v1h-3z"/>
<path fill="#f9b81a" d="M3 31h1v1h-1zM6 31h1v1h-1zM10 32h1v1h-1zM30 32h1v1h-1zM27 34h1v1h-1zM38 34h1v1h-1zM1 35h1v1h-1zM22 35h1v1h-1zM37 36h1v1h-1zM39 36h1v1h-1zM51 36h1v1h-1zM15 39h1v1h-1zM42 41h1v1h-1z"/>
<path fill="#f18f19" d="M4 31h2v1h-2zM30 31h1v1h-1zM35 31h1v1h-1zM53 31h1v1h-1zM36 32h1v1h-1zM58 32h1v1h-1zM60 32h1v1h-1zM3 33h1v1h-1zM24 33h1v1h-1zM34 33h1v1h-1zM10 34h1v1h-1zM52 35h1v1h-1zM59 35h1v1h-1zM11 36h1v1h-1zM50 36h1v1h-1zM40 37h1v1h-1zM42 37h2v1h-2zM48 37h1v1h-1zM14 38h1v1h-1zM22 38h1v1h-1zM19 41h1v1h-1z"/>
<path fill="#f3991b" d="M8 31h1v1h-1zM26 31h1v1h-1zM26 32h1v1h-1zM59 32h1v1h-1zM4 33h1v1h-1zM25 33h1v1h-1zM50 33h1v1h-1zM5 34h1v1h-1zM9 34h1v1h-1zM11 34h1v1h-1zM23 34h1v1h-1zM15 35h1v1h-1zM23 35h1v1h-1zM25 35h1v1h-1zM56 35h1v1h-1zM21 36h2v1h-2zM15 38h1v1h-1zM46 39h1v1h-1zM16 40h1v1h-1zM43 42h1v1h-1z"/>
<path fill="#ed761b" d="M28 31h1v1h-1zM31 31h1v1h-1zM27 32h1v1h-1zM33 32h1v1h-1zM35 32h1v1h-1zM55 32h2v1h-2zM2 33h1v1h-1zM37 33h1v1h-1zM3 34h1v1h-1zM7 34h1v1h-1zM35 34h1v1h-1zM37 34h1v1h-1zM48 34h1v1h-1zM52 34h1v1h-1zM10 35h1v1h-1zM47 35h1v1h-1zM15 36h1v1h-1zM49 36h1v1h-1zM14 37h1v1h-1zM21 37h1v1h-1zM16 39h1v1h-1zM20 40h1v1h-1zM41 40h1v1h-1z"/>
<path fill="#ede518" d="M58 31h1v1h-1zM11 32h1v1h-1zM13 33h1v1h-1zM4 36h1v1h-1zM24 37h1v1h-1zM21 41h1v1h-1zM17 42h1v1h-1z"/>
<path fill="#e9651e" d="M5 32h1v1h-1zM7 32h1v1h-1zM52 32h2v1h-2zM5 33h1v1h-1zM7 33h3v1h-3zM35 33h1v1h-1zM12 34h1v1h-1zM36 34h1v1h-1zM51 34h1v1h-1zM55 34h1v1h-1zM24 35h1v1h-1zM60 35h1v1h-1zM48 36h1v1h-1zM18 38h1v1h-1zM46 38h1v1h-1zM18 39h1v1h-1zM20 39h1v1h-1zM43 40h2v1h-2z"/>
<path fill="#e85b1f" d="M0 33h1v1h-1zM36 33h1v1h-1zM51 33h1v1h-1zM53 33h1v1h-1zM56 33h1v1h-1zM58 34h1v1h-1zM13 36h1v1h-1zM16 36h1v1h-1zM45 37h2v1h-2zM16 38h1v1h-1zM20 38h1v1h-1zM40 38h1v1h-1z"/>
<path fill="#e42b22" d="M59 33h1v1h-1zM13 35h1v1h-1zM19 38h1v1h-1zM42 38h1v1h-1zM43 39h1v1h-1z"/>
<path fill="#e42522" d="M60 34h1v1h-1zM41 38h1v1h-1zM41 39h2v1h-2z"/>
<path fill="#e10f15" d="M44 38h1v1h-1z"/>
</g></g>
<clipPath id="c11"><rect x="612.10" y="609.20" width="396.80" height="396.50"/></clipPath>
<g clip-path="url(#c11)"><g transform="translate(606.487 593.411) scale(6.61333 7.45400)">
<rect x="0" y="0" width="61" height="57" fill="#f9f9fc"/>
<path fill="#ffffff" d="M0 0h61v1h-61zM0 1h61v1h-61zM0 2h61v1h-61zM0 3h61v1h-61zM0 4h61v1h-61zM0 5h61v1h-61zM0 6h61v1h-61zM0 7h61v1h-61zM0 8h61v1h-61zM0 9h61v1h-61zM0 10h61v1h-61zM0 11h61v1h-61zM0 12h61v1h-61zM0 13h61v1h-61zM0 14h61v1h-61zM0 15h30v1h-30zM33 15h28v1h-28zM0 16h28v1h-28zM34 16h27v1h-27zM0 17h27v1h-27zM35 17h26v1h-26zM0 18h6v1h-6zM12 18h14v1h-14zM36 18h15v1h-15zM57 18h4v1h-4zM0 19h3v1h-3zM13 19h12v1h-12zM37 19h13v1h-13zM59 19h2v1h-2zM13 20h12v1h-12zM37 20h12v1h-12zM14 21h11v1h-11zM38 21h10v1h-10zM15 22h9v1h-9zM38 22h10v1h-10zM16 23h7v1h-7zM39 23h8v1h-8zM17 24h5v1h-5zM40 24h5v1h-5zM31 42h1v1h-1zM28 43h6v1h-6zM27 44h8v1h-8zM6 45h6v1h-6zM26 45h10v1h-10zM51 45h5v1h-5zM3 46h10v1h-10zM25 46h12v1h-12zM49 46h10v1h-10zM0 47h13v1h-13zM25 47h12v1h-12zM49 47h12v1h-12zM0 48h14v1h-14zM25 48h13v1h-13zM48 48h13v1h-13zM0 49h15v1h-15zM24 49h14v1h-14zM48 49h13v1h-13zM0 50h16v1h-16zM23 50h16v1h-16zM47 50h14v1h-14zM0 51h17v1h-17zM22 51h18v1h-18zM45 51h16v1h-16zM0 52h19v1h-19zM20 52h22v1h-22zM43 52h18v1h-18zM0 53h61v1h-61zM0 54h61v1h-61zM0 55h61v1h-61zM0 56h61v1h-61z"/>
<path fill="#f0f0f8" d="M29 17h4v1h-4zM28 18h1v1h-1zM34 18h1v1h-1zM7 19h4v1h-4zM35 19h1v1h-1zM52 19h3v1h-3zM5 20h2v1h-2zM11 20h1v1h-1zM36 20h1v1h-1zM50 20h1v1h-1zM56 20h2v1h-2zM1 21h3v1h-3zM12 21h1v1h-1zM25 21h1v1h-1zM49 21h1v1h-1zM58 21h3v1h-3zM0 22h1v1h-1zM13 22h1v1h-1zM24 23h1v1h-1zM37 23h1v1h-1zM48 23h1v1h-1zM14 24h1v1h-1zM38 24h1v1h-1zM47 24h1v1h-1zM15 25h1v1h-1zM39 25h1v1h-1zM46 25h1v1h-1zM16 26h2v1h-2zM21 26h1v1h-1zM40 26h1v1h-1zM45 26h1v1h-1zM18 27h3v1h-3zM42 27h2v1h-2zM29 40h4v1h-4zM28 41h1v1h-1zM34 41h1v1h-1zM9 42h1v1h-1zM35 42h1v1h-1zM53 42h1v1h-1zM5 43h2v1h-2zM11 43h1v1h-1zM36 43h1v1h-1zM50 43h2v1h-2zM55 43h2v1h-2zM2 44h3v1h-3zM12 44h1v1h-1zM25 44h1v1h-1zM49 44h1v1h-1zM58 44h2v1h-2zM0 45h2v1h-2zM13 45h1v1h-1zM37 45h1v1h-1zM24 46h1v1h-1zM48 46h1v1h-1zM14 47h1v1h-1zM38 47h1v1h-1zM47 47h1v1h-1zM15 48h1v1h-1zM39 48h1v1h-1zM46 48h1v1h-1zM16 49h1v1h-1zM21 49h1v1h-1zM40 49h1v1h-1zM45 49h1v1h-1zM18 50h3v1h-3zM41 50h4v1h-4z"/>
<path fill="#e9e9f5" d="M29 18h1v1h-1zM33 18h1v1h-1zM27 19h1v1h-1zM34 19h1v1h-1zM7 20h4v1h-4zM26 20h1v1h-1zM35 20h1v1h-1zM51 20h5v1h-5zM4 21h2v1h-2zM36 21h1v1h-1zM50 21h1v1h-1zM57 21h1v1h-1zM1 22h2v1h-2zM49 22h1v1h-1zM59 22h2v1h-2zM13 23h1v1h-1zM24 24h1v1h-1zM23 25h1v1h-1zM38 25h1v1h-1zM47 25h1v1h-1zM22 26h1v1h-1zM39 26h1v1h-1zM46 26h1v1h-1zM17 27h1v1h-1zM21 27h1v1h-1zM40 27h2v1h-2zM44 27h1v1h-1zM28 40h1v1h-1zM33 40h1v1h-1zM27 41h1v1h-1zM6 42h3v1h-3zM10 42h2v1h-2zM26 42h1v1h-1zM51 42h2v1h-2zM54 42h2v1h-2zM4 43h1v1h-1zM12 43h1v1h-1zM25 43h1v1h-1zM49 43h1v1h-1zM57 43h2v1h-2zM0 44h2v1h-2zM60 44h1v1h-1zM24 45h1v1h-1zM48 45h1v1h-1zM14 46h1v1h-1zM15 47h1v1h-1zM23 47h1v1h-1zM16 48h1v1h-1zM22 48h1v1h-1zM45 48h1v1h-1zM17 49h2v1h-2zM20 49h1v1h-1zM41 49h1v1h-1zM44 49h1v1h-1z"/>
<path fill="#e3e3f3" d="M30 18h3v1h-3zM28 19h1v1h-1zM6 21h1v1h-1zM11 21h1v1h-1zM56 21h1v1h-1zM3 22h1v1h-1zM12 22h1v1h-1zM25 22h1v1h-1zM58 22h1v1h-1zM0 23h1v1h-1zM37 24h1v1h-1zM48 24h1v1h-1zM14 25h1v1h-1zM15 26h1v1h-1zM16 27h1v1h-1zM45 27h1v1h-1zM18 28h3v1h-3zM41 28h3v1h-3zM29 39h4v1h-4zM34 40h1v1h-1zM8 41h2v1h-2zM35 41h1v1h-1zM53 41h1v1h-1zM5 42h1v1h-1zM36 42h1v1h-1zM50 42h1v1h-1zM56 42h1v1h-1zM2 43h2v1h-2zM59 43h1v1h-1zM13 44h1v1h-1zM37 44h1v1h-1zM38 46h1v1h-1zM47 46h1v1h-1zM39 47h1v1h-1zM46 47h1v1h-1zM21 48h1v1h-1zM40 48h1v1h-1zM19 49h1v1h-1zM42 49h2v1h-2z"/>
<path fill="#d7d7ed" d="M29 19h1v1h-1zM32 19h1v1h-1zM34 20h1v1h-1zM8 21h2v1h-2zM35 21h1v1h-1zM52 21h2v1h-2zM5 22h1v1h-1zM50 22h1v1h-1zM56 22h1v1h-1zM2 23h1v1h-1zM25 23h1v1h-1zM49 23h1v1h-1zM59 23h1v1h-1zM24 25h1v1h-1zM38 26h1v1h-1zM47 26h1v1h-1zM46 27h1v1h-1zM40 28h1v1h-1zM45 28h1v1h-1zM30 38h2v1h-2zM35 40h1v1h-1zM6 41h1v1h-1zM11 41h1v1h-1zM56 41h1v1h-1zM3 42h1v1h-1zM49 42h1v1h-1zM58 42h1v1h-1zM0 43h1v1h-1zM24 44h1v1h-1zM38 45h1v1h-1zM47 45h1v1h-1zM46 46h1v1h-1zM45 47h1v1h-1zM18 48h3v1h-3zM42 48h2v1h-2z"/>
<path fill="#cfcfe9" d="M30 19h2v1h-2zM28 20h1v1h-1zM6 22h1v1h-1zM11 22h1v1h-1zM3 23h1v1h-1zM12 23h1v1h-1zM58 23h1v1h-1zM0 24h1v1h-1zM37 25h1v1h-1zM48 25h1v1h-1zM14 26h1v1h-1zM15 27h1v1h-1zM16 28h1v1h-1zM18 29h3v1h-3zM42 29h2v1h-2zM29 38h1v1h-1zM32 38h1v1h-1zM34 39h1v1h-1zM5 41h1v1h-1zM36 41h1v1h-1zM50 41h1v1h-1zM2 42h1v1h-1zM59 42h1v1h-1zM13 43h1v1h-1zM37 43h1v1h-1zM39 46h1v1h-1zM21 47h1v1h-1zM40 47h1v1h-1z"/>
<path fill="#dedef1" d="M33 19h1v1h-1zM27 20h1v1h-1zM7 21h1v1h-1zM10 21h1v1h-1zM26 21h1v1h-1zM51 21h1v1h-1zM54 21h2v1h-2zM4 22h1v1h-1zM36 22h1v1h-1zM57 22h1v1h-1zM1 23h1v1h-1zM60 23h1v1h-1zM13 24h1v1h-1zM23 26h1v1h-1zM22 27h1v1h-1zM39 27h1v1h-1zM17 28h1v1h-1zM21 28h1v1h-1zM44 28h1v1h-1zM28 39h1v1h-1zM33 39h1v1h-1zM27 40h1v1h-1zM7 41h1v1h-1zM10 41h1v1h-1zM26 41h1v1h-1zM51 41h2v1h-2zM54 41h2v1h-2zM4 42h1v1h-1zM12 42h1v1h-1zM25 42h1v1h-1zM57 42h1v1h-1zM1 43h1v1h-1zM60 43h1v1h-1zM48 44h1v1h-1zM14 45h1v1h-1zM15 46h1v1h-1zM23 46h1v1h-1zM16 47h1v1h-1zM22 47h1v1h-1zM17 48h1v1h-1zM41 48h1v1h-1zM44 48h1v1h-1z"/>
<path fill="#b1add8" d="M29 20h1v1h-1zM32 20h1v1h-1zM5 23h1v1h-1zM50 23h1v1h-1zM56 23h1v1h-1zM2 24h1v1h-1zM25 24h1v1h-1zM49 24h1v1h-1zM59 24h1v1h-1zM47 27h1v1h-1zM46 28h1v1h-1zM40 29h1v1h-1zM45 29h1v1h-1zM30 37h2v1h-2zM35 39h1v1h-1zM11 40h1v1h-1zM3 41h1v1h-1zM49 41h1v1h-1zM0 42h1v1h-1zM24 43h1v1h-1zM38 44h1v1h-1zM47 44h1v1h-1zM46 45h1v1h-1zM45 46h1v1h-1zM18 47h2v1h-2zM42 47h2v1h-2z"/>
<path fill="#a6a2d1" d="M30 20h2v1h-2zM11 23h1v1h-1zM3 24h1v1h-1zM12 24h1v1h-1zM37 26h1v1h-1zM48 26h1v1h-1zM14 27h1v1h-1zM15 28h1v1h-1zM19 30h1v1h-1zM42 30h2v1h-2zM29 37h1v1h-1zM32 37h1v1h-1zM34 38h1v1h-1zM5 40h1v1h-1zM36 40h1v1h-1zM50 40h1v1h-1zM56 40h1v1h-1zM59 41h1v1h-1zM13 42h1v1h-1zM37 42h1v1h-1zM39 45h1v1h-1zM40 46h1v1h-1z"/>
<path fill="#c5c4e4" d="M33 20h1v1h-1zM27 21h1v1h-1zM7 22h1v1h-1zM10 22h1v1h-1zM26 22h1v1h-1zM51 22h1v1h-1zM55 22h1v1h-1zM4 23h1v1h-1zM36 23h1v1h-1zM1 24h1v1h-1zM13 25h1v1h-1zM23 27h1v1h-1zM22 28h1v1h-1zM41 29h1v1h-1zM44 29h1v1h-1zM33 38h1v1h-1zM27 39h1v1h-1zM7 40h4v1h-4zM26 40h1v1h-1zM52 40h3v1h-3zM4 41h1v1h-1zM57 41h1v1h-1zM1 42h1v1h-1zM60 42h1v1h-1zM14 44h1v1h-1zM23 45h1v1h-1zM22 46h1v1h-1zM17 47h1v1h-1zM44 47h1v1h-1z"/>
<path fill="#9b98cd" d="M28 21h1v1h-1zM6 23h1v1h-1zM26 23h1v1h-1zM55 23h1v1h-1zM58 24h1v1h-1zM0 25h1v1h-1zM23 28h1v1h-1zM16 29h1v1h-1zM22 29h1v1h-1zM18 30h1v1h-1zM20 30h1v1h-1zM41 30h1v1h-1zM27 38h1v1h-1zM8 39h2v1h-2zM26 39h1v1h-1zM52 39h2v1h-2zM2 41h1v1h-1zM23 44h1v1h-1zM17 46h1v1h-1zM21 46h1v1h-1z"/>
<path fill="#8488c4" d="M29 21h1v1h-1zM8 23h2v1h-2zM53 23h1v1h-1zM5 24h1v1h-1zM50 24h1v1h-1zM2 25h1v1h-1zM25 25h1v1h-1zM49 25h1v1h-1zM59 25h1v1h-1zM47 28h1v1h-1zM46 29h1v1h-1zM40 30h1v1h-1zM6 39h1v1h-1zM11 39h1v1h-1zM3 40h1v1h-1zM49 40h1v1h-1zM58 40h1v1h-1zM0 41h1v1h-1zM24 42h1v1h-1zM47 43h1v1h-1zM45 45h1v1h-1zM18 46h1v1h-1zM20 46h1v1h-1z"/>
<path fill="#777bba" d="M30 21h2v1h-2zM3 25h1v1h-1zM12 25h1v1h-1zM37 27h1v1h-1zM14 28h1v1h-1zM15 29h1v1h-1zM19 31h1v1h-1zM42 31h2v1h-2zM29 36h1v1h-1zM32 36h1v1h-1zM34 37h1v1h-1zM5 39h1v1h-1zM36 39h1v1h-1zM59 40h1v1h-1zM37 41h1v1h-1zM39 44h1v1h-1z"/>
<path fill="#7d81bf" d="M32 21h1v1h-1zM11 24h1v1h-1zM56 24h1v1h-1zM48 27h1v1h-1zM45 30h1v1h-1zM30 36h2v1h-2zM35 38h1v1h-1zM50 39h1v1h-1zM56 39h1v1h-1zM13 41h1v1h-1zM38 43h1v1h-1zM46 44h1v1h-1zM40 45h1v1h-1zM19 46h1v1h-1zM42 46h2v1h-2z"/>
<path fill="#908ec9" d="M33 21h1v1h-1zM27 22h1v1h-1zM7 23h1v1h-1zM10 23h1v1h-1zM51 23h1v1h-1zM4 24h1v1h-1zM36 24h1v1h-1zM1 25h1v1h-1zM13 26h1v1h-1zM44 30h1v1h-1zM33 37h1v1h-1zM7 39h1v1h-1zM10 39h1v1h-1zM51 39h1v1h-1zM54 39h1v1h-1zM4 40h1v1h-1zM12 40h1v1h-1zM25 40h1v1h-1zM57 40h1v1h-1zM1 41h1v1h-1zM60 41h1v1h-1zM48 42h1v1h-1zM14 43h1v1h-1zM22 45h1v1h-1zM44 46h1v1h-1z"/>
<path fill="#bbb8de" d="M34 21h1v1h-1zM8 22h2v1h-2zM35 22h1v1h-1zM52 22h3v1h-3zM57 23h1v1h-1zM60 24h1v1h-1zM24 26h1v1h-1zM38 27h1v1h-1zM39 28h1v1h-1zM17 29h1v1h-1zM21 29h1v1h-1zM28 38h1v1h-1zM6 40h1v1h-1zM51 40h1v1h-1zM55 40h1v1h-1zM12 41h1v1h-1zM25 41h1v1h-1zM58 41h1v1h-1zM48 43h1v1h-1zM15 45h1v1h-1zM16 46h1v1h-1zM20 47h1v1h-1zM41 47h1v1h-1z"/>
<path fill="#7277b8" d="M28 22h1v1h-1zM6 24h1v1h-1zM55 24h1v1h-1zM58 25h1v1h-1zM0 26h1v1h-1zM23 29h1v1h-1zM16 30h1v1h-1zM22 30h1v1h-1zM18 31h1v1h-1zM20 31h1v1h-1zM41 31h1v1h-1zM27 37h1v1h-1zM8 38h2v1h-2zM26 38h1v1h-1zM53 38h1v1h-1zM2 40h1v1h-1zM23 43h1v1h-1zM17 45h1v1h-1zM21 45h1v1h-1z"/>
<path fill="#5d72b8" d="M29 22h1v1h-1zM8 24h2v1h-2zM53 24h1v1h-1zM5 25h1v1h-1zM50 25h1v1h-1zM2 26h1v1h-1zM25 26h1v1h-1zM49 26h1v1h-1zM47 29h1v1h-1zM46 30h1v1h-1zM40 31h1v1h-1zM6 38h1v1h-1zM11 38h1v1h-1zM49 39h1v1h-1zM58 39h1v1h-1zM0 40h1v1h-1zM24 41h1v1h-1zM47 42h1v1h-1zM45 44h1v1h-1zM18 45h1v1h-1zM20 45h1v1h-1z"/>
<path fill="#4d74ae" d="M30 22h2v1h-2zM12 26h1v1h-1zM58 26h1v1h-1zM16 31h1v1h-1zM18 32h2v1h-2zM42 32h2v1h-2zM29 35h1v1h-1zM5 38h1v1h-1zM59 39h1v1h-1zM39 43h1v1h-1z"/>
<path fill="#5671b8" d="M32 22h1v1h-1zM56 25h1v1h-1zM59 26h1v1h-1zM48 28h1v1h-1zM45 31h1v1h-1zM30 35h2v1h-2zM35 37h1v1h-1zM3 39h1v1h-1zM38 42h1v1h-1zM46 43h1v1h-1zM42 45h2v1h-2z"/>
<path fill="#6e76b8" d="M33 22h1v1h-1zM27 23h1v1h-1zM26 24h1v1h-1zM51 24h1v1h-1zM4 25h1v1h-1zM36 25h1v1h-1zM13 27h1v1h-1zM44 31h1v1h-1zM33 36h1v1h-1zM10 38h1v1h-1zM52 38h1v1h-1zM54 38h1v1h-1zM57 39h1v1h-1zM60 40h1v1h-1zM22 44h1v1h-1z"/>
<path fill="#8a8ac6" d="M34 22h1v1h-1zM35 23h1v1h-1zM52 23h1v1h-1zM54 23h1v1h-1zM57 24h1v1h-1zM60 25h1v1h-1zM24 27h1v1h-1zM38 28h1v1h-1zM39 29h1v1h-1zM17 30h1v1h-1zM21 30h1v1h-1zM28 37h1v1h-1zM55 39h1v1h-1zM15 44h1v1h-1zM16 45h1v1h-1zM41 46h1v1h-1z"/>
<path fill="#4b77a6" d="M28 23h1v1h-1zM6 25h1v1h-1zM26 25h1v1h-1zM55 25h1v1h-1zM0 27h1v1h-1zM13 28h1v1h-1zM23 30h1v1h-1zM22 31h1v1h-1zM20 32h1v1h-1zM41 32h1v1h-1zM27 36h1v1h-1zM9 37h1v1h-1zM26 37h1v1h-1zM53 37h1v1h-1zM2 39h1v1h-1zM23 42h1v1h-1zM17 44h1v1h-1zM21 44h1v1h-1z"/>
<path fill="#3e7f72" d="M29 23h1v1h-1zM9 25h1v1h-1zM53 25h1v1h-1zM5 26h1v1h-1zM50 26h1v1h-1zM2 27h1v1h-1zM25 27h1v1h-1zM59 27h1v1h-1zM40 32h1v1h-1zM11 37h1v1h-1zM58 38h1v1h-1zM0 39h1v1h-1zM38 41h1v1h-1zM47 41h1v1h-1zM45 43h1v1h-1zM18 44h1v1h-1zM20 44h1v1h-1z"/>
<path fill="#4a935c" d="M30 23h1v1h-1zM3 27h1v1h-1zM12 27h1v1h-1zM16 32h1v1h-1zM19 33h1v1h-1zM42 33h2v1h-2zM29 34h1v1h-1zM5 37h1v1h-1zM59 38h1v1h-1z"/>
<path fill="#4d9a53" d="M31 23h1v1h-1zM28 24h1v1h-1zM6 26h1v1h-1zM58 27h1v1h-1zM13 29h1v1h-1zM23 31h1v1h-1zM22 32h1v1h-1zM18 33h1v1h-1zM20 33h1v1h-1zM27 35h1v1h-1zM26 36h1v1h-1zM2 38h1v1h-1zM23 41h1v1h-1zM21 43h1v1h-1z"/>
<path fill="#42856e" d="M32 23h1v1h-1zM56 26h1v1h-1zM37 29h1v1h-1zM48 29h1v1h-1zM45 32h1v1h-1zM30 34h2v1h-2zM35 36h1v1h-1zM3 38h1v1h-1zM13 39h1v1h-1zM46 42h1v1h-1zM43 44h1v1h-1z"/>
<path fill="#48789a" d="M33 23h1v1h-1zM27 24h1v1h-1zM51 25h1v1h-1zM36 26h1v1h-1zM44 32h1v1h-1zM8 37h1v1h-1zM52 37h1v1h-1zM54 37h1v1h-1zM25 38h1v1h-1zM57 38h1v1h-1zM60 39h1v1h-1zM14 41h1v1h-1zM22 43h1v1h-1z"/>
<path fill="#6473b8" d="M34 23h1v1h-1zM35 24h1v1h-1zM52 24h1v1h-1zM54 24h1v1h-1zM38 29h1v1h-1zM21 31h1v1h-1zM28 36h1v1h-1zM55 38h1v1h-1zM15 43h1v1h-1zM41 45h1v1h-1z"/>
<path fill="#6a75b8" d="M7 24h1v1h-1zM10 24h1v1h-1zM57 25h1v1h-1zM1 26h1v1h-1zM60 26h1v1h-1zM24 28h1v1h-1zM39 30h1v1h-1zM17 31h1v1h-1zM7 38h1v1h-1zM51 38h1v1h-1zM4 39h1v1h-1zM12 39h1v1h-1zM25 39h1v1h-1zM1 40h1v1h-1zM48 41h1v1h-1zM14 42h1v1h-1zM16 44h1v1h-1zM44 45h1v1h-1z"/>
<path fill="#68b535" d="M29 24h1v1h-1zM8 26h2v1h-2zM53 26h1v1h-1zM5 27h1v1h-1zM50 27h1v1h-1zM2 28h1v1h-1zM37 30h1v1h-1zM48 30h1v1h-1zM35 35h1v1h-1zM11 36h1v1h-1zM0 38h1v1h-1zM13 38h1v1h-1zM46 41h1v1h-1zM45 42h1v1h-1zM18 43h1v1h-1zM20 43h1v1h-1z"/>
<path fill="#85be30" d="M30 24h2v1h-2zM28 25h1v1h-1zM6 27h1v1h-1zM26 27h1v1h-1zM36 28h1v1h-1zM58 28h1v1h-1zM13 30h1v1h-1zM23 32h1v1h-1zM22 33h1v1h-1zM18 34h3v1h-3zM27 34h1v1h-1zM43 34h1v1h-1zM25 36h1v1h-1zM2 37h1v1h-1zM21 42h1v1h-1z"/>
<path fill="#6eb733" d="M32 24h1v1h-1zM56 27h1v1h-1zM59 28h1v1h-1zM15 32h1v1h-1zM30 33h2v1h-2zM45 33h1v1h-1zM36 36h1v1h-1zM3 37h1v1h-1zM37 38h1v1h-1zM43 43h1v1h-1z"/>
<path fill="#51a844" d="M33 24h1v1h-1zM51 26h1v1h-1zM4 27h1v1h-1zM24 30h1v1h-1zM44 33h1v1h-1zM33 34h1v1h-1zM10 36h1v1h-1zM54 36h1v1h-1zM12 37h1v1h-1zM57 37h1v1h-1zM60 38h1v1h-1zM48 39h1v1h-1zM14 40h1v1h-1z"/>
<path fill="#3e7b77" d="M34 24h1v1h-1zM8 25h1v1h-1zM35 25h1v1h-1zM52 25h1v1h-1zM49 27h1v1h-1zM47 30h1v1h-1zM46 31h1v1h-1zM6 37h1v1h-1zM55 37h1v1h-1zM49 38h1v1h-1zM24 40h1v1h-1z"/>
<path fill="#44798d" d="M7 25h1v1h-1zM10 25h1v1h-1zM4 26h1v1h-1zM1 27h1v1h-1zM24 29h1v1h-1zM39 31h1v1h-1zM17 32h1v1h-1zM33 35h1v1h-1zM7 37h1v1h-1zM10 37h1v1h-1zM51 37h1v1h-1zM4 38h1v1h-1zM12 38h1v1h-1zM1 39h1v1h-1zM48 40h1v1h-1zM44 44h1v1h-1z"/>
<path fill="#5071b6" d="M11 25h1v1h-1zM3 26h1v1h-1zM37 28h1v1h-1zM14 29h1v1h-1zM15 30h1v1h-1zM32 35h1v1h-1zM34 36h1v1h-1zM36 38h1v1h-1zM50 38h1v1h-1zM56 38h1v1h-1zM13 40h1v1h-1zM37 40h1v1h-1zM40 44h1v1h-1zM19 45h1v1h-1z"/>
<path fill="#4ea14b" d="M27 25h1v1h-1zM26 26h1v1h-1zM55 26h1v1h-1zM36 27h1v1h-1zM0 28h1v1h-1zM41 33h1v1h-1zM8 36h2v1h-2zM52 36h2v1h-2zM25 37h1v1h-1zM22 42h1v1h-1zM17 43h1v1h-1z"/>
<path fill="#b1cb25" d="M29 25h1v1h-1zM8 27h2v1h-2zM52 27h1v1h-1zM5 28h1v1h-1zM50 28h1v1h-1zM2 29h1v1h-1zM35 34h1v1h-1zM6 35h1v1h-1zM11 35h1v1h-1zM36 35h1v1h-1zM58 36h1v1h-1zM0 37h1v1h-1zM46 40h1v1h-1zM45 41h1v1h-1zM18 42h1v1h-1zM20 42h1v1h-1z"/>
<path fill="#c7d51f" d="M30 25h1v1h-1zM28 26h1v1h-1zM6 28h1v1h-1zM26 28h1v1h-1zM58 29h1v1h-1zM24 32h1v1h-1zM29 32h1v1h-1zM27 33h1v1h-1zM22 34h1v1h-1zM18 35h3v1h-3zM42 35h2v1h-2zM2 36h1v1h-1zM48 37h1v1h-1zM14 38h1v1h-1zM21 41h1v1h-1z"/>
<path fill="#cdd61e" d="M31 25h1v1h-1zM27 27h1v1h-1zM55 28h1v1h-1zM0 30h1v1h-1zM38 33h1v1h-1zM12 35h1v1h-1zM41 35h1v1h-1zM24 37h1v1h-1zM22 40h1v1h-1zM17 41h1v1h-1z"/>
<path fill="#b7ce23" d="M32 25h1v1h-1zM53 27h1v1h-1zM59 29h1v1h-1zM14 32h1v1h-1zM15 33h1v1h-1zM45 34h1v1h-1zM3 36h1v1h-1zM43 42h1v1h-1z"/>
<path fill="#94c22e" d="M33 25h1v1h-1zM51 27h1v1h-1zM24 31h1v1h-1zM33 33h1v1h-1zM44 34h1v1h-1zM8 35h2v1h-2zM52 35h3v1h-3zM12 36h1v1h-1zM57 36h1v1h-1zM60 37h1v1h-1z"/>
<path fill="#5cb139" d="M34 25h1v1h-1zM35 26h1v1h-1zM54 26h1v1h-1zM60 28h1v1h-1zM21 33h1v1h-1zM28 34h1v1h-1zM55 36h1v1h-1zM24 39h1v1h-1zM41 43h1v1h-1z"/>
<path fill="#417a7f" d="M54 25h1v1h-1zM57 26h1v1h-1zM60 27h1v1h-1zM38 30h1v1h-1zM21 32h1v1h-1zM28 35h1v1h-1zM15 42h1v1h-1zM16 43h1v1h-1zM41 44h1v1h-1z"/>
<path fill="#56ae3d" d="M7 26h1v1h-1zM10 26h1v1h-1zM57 27h1v1h-1zM1 28h1v1h-1zM38 31h1v1h-1zM39 32h1v1h-1zM17 33h1v1h-1zM7 36h1v1h-1zM51 36h1v1h-1zM4 37h1v1h-1zM1 38h1v1h-1zM15 41h1v1h-1zM16 42h1v1h-1zM44 43h1v1h-1z"/>
<path fill="#468c67" d="M11 26h1v1h-1zM14 30h1v1h-1zM15 31h1v1h-1zM32 34h1v1h-1zM34 35h1v1h-1zM36 37h1v1h-1zM50 37h1v1h-1zM56 37h1v1h-1zM37 39h1v1h-1zM39 42h1v1h-1zM40 43h1v1h-1zM19 44h1v1h-1zM42 44h1v1h-1z"/>
<path fill="#8cc12f" d="M27 26h1v1h-1zM55 27h1v1h-1zM0 29h1v1h-1zM41 34h1v1h-1zM48 38h1v1h-1zM14 39h1v1h-1zM22 41h1v1h-1zM17 42h1v1h-1z"/>
<path fill="#e5e117" d="M29 26h1v1h-1zM8 28h2v1h-2zM52 28h1v1h-1zM5 29h1v1h-1zM2 30h1v1h-1zM36 30h1v1h-1zM59 30h1v1h-1zM24 33h1v1h-1zM15 34h1v1h-1zM25 34h1v1h-1zM50 34h1v1h-1zM3 35h1v1h-1zM45 35h1v1h-1zM0 36h1v1h-1zM23 38h1v1h-1zM39 39h1v1h-1zM18 41h1v1h-1zM20 41h1v1h-1z"/>
<path fill="#f3e720" d="M30 26h1v1h-1zM27 28h1v1h-1zM6 29h1v1h-1zM58 30h1v1h-1zM29 31h1v1h-1zM49 31h1v1h-1zM12 34h1v1h-1zM37 34h1v1h-1zM49 34h1v1h-1zM2 35h1v1h-1zM13 35h1v1h-1zM39 35h1v1h-1zM59 35h1v1h-1zM18 36h1v1h-1zM20 36h1v1h-1zM42 36h2v1h-2zM38 37h1v1h-1zM22 39h1v1h-1zM17 40h1v1h-1zM21 40h1v1h-1zM19 41h1v1h-1z"/>
<path fill="#f8e520" d="M31 26h1v1h-1zM33 27h1v1h-1zM35 29h1v1h-1zM55 29h1v1h-1zM33 31h1v1h-1zM25 32h1v1h-1zM13 33h1v1h-1zM25 33h1v1h-1zM36 33h1v1h-1zM48 33h1v1h-1zM24 34h1v1h-1zM47 34h1v1h-1zM57 34h1v1h-1zM24 35h1v1h-1zM19 36h1v1h-1zM41 36h1v1h-1zM44 36h1v1h-1zM47 37h1v1h-1zM15 38h1v1h-1zM16 39h1v1h-1z"/>
<path fill="#e8e315" d="M32 26h1v1h-1zM53 28h1v1h-1zM11 29h1v1h-1zM26 29h1v1h-1zM56 29h1v1h-1zM12 30h1v1h-1zM30 31h2v1h-2zM34 32h1v1h-1zM26 33h1v1h-1zM37 33h1v1h-1zM23 34h1v1h-1zM56 34h1v1h-1zM16 35h1v1h-1zM37 35h1v1h-1zM24 36h1v1h-1zM48 36h1v1h-1zM40 40h1v1h-1zM43 41h1v1h-1z"/>
<path fill="#d2d81c" d="M33 26h1v1h-1zM51 28h1v1h-1zM25 30h1v1h-1zM33 32h1v1h-1zM37 32h1v1h-1zM8 34h2v1h-2zM39 34h1v1h-1zM52 34h2v1h-2zM44 35h1v1h-1zM57 35h1v1h-1zM37 36h1v1h-1zM60 36h1v1h-1zM15 39h1v1h-1z"/>
<path fill="#a3c52b" d="M34 26h1v1h-1zM7 27h1v1h-1zM35 27h1v1h-1zM57 28h1v1h-1zM25 29h1v1h-1zM49 29h1v1h-1zM60 29h1v1h-1zM47 32h1v1h-1zM28 33h1v1h-1zM21 34h1v1h-1zM49 36h1v1h-1z"/>
<path fill="#62b337" d="M52 26h1v1h-1zM25 28h1v1h-1zM49 28h1v1h-1zM47 31h1v1h-1zM46 32h1v1h-1zM40 33h1v1h-1zM6 36h1v1h-1zM49 37h1v1h-1zM58 37h1v1h-1zM38 40h1v1h-1zM47 40h1v1h-1z"/>
<path fill="#9cc32d" d="M10 27h1v1h-1zM4 28h1v1h-1zM1 29h1v1h-1zM38 32h1v1h-1zM39 33h1v1h-1zM17 34h1v1h-1zM7 35h1v1h-1zM10 35h1v1h-1zM51 35h1v1h-1zM4 36h1v1h-1zM1 37h1v1h-1zM24 38h1v1h-1zM15 40h1v1h-1zM16 41h1v1h-1zM44 42h1v1h-1z"/>
<path fill="#76b931" d="M11 27h1v1h-1zM14 31h1v1h-1zM32 33h1v1h-1zM34 34h1v1h-1zM50 36h1v1h-1zM56 36h1v1h-1zM39 41h1v1h-1zM40 42h1v1h-1zM19 43h1v1h-1zM42 43h1v1h-1z"/>
<path fill="#ede518" d="M28 27h1v1h-1zM3 30h1v1h-1zM25 31h1v1h-1zM32 31h1v1h-1zM27 32h1v1h-1zM5 34h1v1h-1zM38 34h1v1h-1zM22 35h1v1h-1zM14 37h1v1h-1zM42 41h1v1h-1z"/>
<path fill="#fcca14" d="M29 27h1v1h-1zM54 29h1v1h-1zM34 31h1v1h-1zM49 32h1v1h-1zM6 33h1v1h-1zM11 33h1v1h-1zM49 33h2v1h-2zM55 33h1v1h-1zM58 34h1v1h-1zM47 35h1v1h-1zM16 36h1v1h-1zM22 36h1v1h-1zM38 36h1v1h-1zM45 36h1v1h-1zM40 39h1v1h-1zM20 40h1v1h-1z"/>
<path fill="#f7ae1c" d="M30 27h1v1h-1zM33 28h1v1h-1zM6 30h1v1h-1zM27 30h2v1h-2zM33 30h2v1h-2zM51 30h1v1h-1zM55 30h1v1h-1zM50 31h1v1h-1zM58 31h1v1h-1zM50 32h1v1h-1zM57 33h1v1h-1zM2 34h1v1h-1zM16 37h3v1h-3zM20 37h2v1h-2zM40 37h6v1h-6zM40 38h1v1h-1zM45 38h1v1h-1zM44 39h1v1h-1zM19 40h1v1h-1zM42 40h1v1h-1z"/>
<path fill="#f5a31c" d="M31 27h1v1h-1zM28 29h1v1h-1zM10 30h1v1h-1zM4 31h1v1h-1zM11 31h1v1h-1zM57 31h1v1h-1zM0 32h2v1h-2zM7 32h5v1h-5zM51 32h2v1h-2zM54 32h1v1h-1zM4 33h1v1h-1zM1 34h1v1h-1zM60 34h1v1h-1zM19 37h1v1h-1zM21 38h1v1h-1zM41 39h1v1h-1z"/>
<path fill="#fbc116" d="M32 27h1v1h-1zM28 28h1v1h-1zM8 29h2v1h-2zM27 29h1v1h-1zM52 29h1v1h-1zM5 30h1v1h-1zM11 30h1v1h-1zM35 30h1v1h-1zM56 30h1v1h-1zM2 31h1v1h-1zM26 31h2v1h-2zM35 31h1v1h-1zM59 31h1v1h-1zM12 33h1v1h-1zM56 33h1v1h-1zM3 34h1v1h-1zM0 35h1v1h-1zM14 35h1v1h-1zM23 36h1v1h-1zM39 36h1v1h-1zM47 36h1v1h-1zM15 37h1v1h-1zM22 38h1v1h-1zM18 40h1v1h-1z"/>
<path fill="#d7d91b" d="M34 27h1v1h-1zM10 28h1v1h-1zM35 28h1v1h-1zM4 29h1v1h-1zM1 30h1v1h-1zM49 30h1v1h-1zM28 32h1v1h-1zM47 33h1v1h-1zM7 34h1v1h-1zM10 34h1v1h-1zM51 34h1v1h-1zM54 34h1v1h-1zM4 35h1v1h-1zM17 35h1v1h-1zM21 35h1v1h-1zM49 35h1v1h-1zM1 36h1v1h-1zM13 36h1v1h-1zM38 38h1v1h-1zM16 40h1v1h-1zM44 41h1v1h-1z"/>
<path fill="#aac828" d="M54 27h1v1h-1zM37 31h1v1h-1zM48 31h1v1h-1zM46 33h1v1h-1zM40 34h1v1h-1zM55 35h1v1h-1zM13 37h1v1h-1zM37 37h1v1h-1zM38 39h1v1h-1zM47 39h1v1h-1zM41 42h1v1h-1z"/>
<path fill="#7ebc30" d="M3 28h1v1h-1zM12 28h1v1h-1zM16 33h1v1h-1zM29 33h1v1h-1zM42 34h1v1h-1zM26 35h1v1h-1zM5 36h1v1h-1zM59 37h1v1h-1zM23 40h1v1h-1z"/>
<path fill="#dbdb1a" d="M7 28h1v1h-1zM57 29h1v1h-1zM60 30h1v1h-1zM48 32h1v1h-1zM36 34h1v1h-1zM46 34h1v1h-1zM47 38h1v1h-1zM41 41h1v1h-1z"/>
<path fill="#bdd022" d="M11 28h1v1h-1zM56 28h1v1h-1zM12 29h1v1h-1zM13 31h1v1h-1zM30 32h2v1h-2zM34 33h1v1h-1zM50 35h1v1h-1zM56 35h1v1h-1zM39 40h1v1h-1zM40 41h1v1h-1zM42 42h1v1h-1z"/>
<path fill="#f3991b" d="M29 28h1v1h-1zM32 28h1v1h-1zM29 29h1v1h-1zM33 29h1v1h-1zM7 30h1v1h-1zM54 30h1v1h-1zM5 31h1v1h-1zM56 31h1v1h-1zM2 32h1v1h-1zM5 32h2v1h-2zM53 32h1v1h-1zM55 32h2v1h-2zM59 32h2v1h-2zM3 33h1v1h-1zM58 33h1v1h-1zM17 38h1v1h-1zM41 38h1v1h-1zM44 38h1v1h-1zM18 39h1v1h-1zM20 39h1v1h-1z"/>
<path fill="#f08718" d="M30 28h2v1h-2zM31 29h1v1h-1zM8 31h2v1h-2zM52 31h1v1h-1zM54 31h1v1h-1zM0 33h1v1h-1zM42 38h2v1h-2zM19 39h1v1h-1zM42 39h1v1h-1z"/>
<path fill="#fbdf17" d="M34 28h1v1h-1zM51 29h1v1h-1zM4 30h1v1h-1zM0 31h1v1h-1zM28 31h1v1h-1zM36 31h1v1h-1zM35 32h1v1h-1zM8 33h3v1h-3zM52 33h3v1h-3zM4 34h1v1h-1zM13 34h2v1h-2zM46 35h1v1h-1zM48 35h1v1h-1zM60 35h1v1h-1zM17 36h1v1h-1zM21 36h1v1h-1zM46 38h1v1h-1zM44 40h1v1h-1z"/>
<path fill="#e0de19" d="M54 28h1v1h-1zM50 29h1v1h-1zM13 32h1v1h-1zM14 33h1v1h-1zM35 33h1v1h-1zM6 34h1v1h-1zM11 34h1v1h-1zM55 34h1v1h-1zM40 35h1v1h-1zM58 35h1v1h-1zM46 39h1v1h-1zM45 40h1v1h-1z"/>
<path fill="#c2d321" d="M3 29h1v1h-1zM36 29h1v1h-1zM32 32h1v1h-1zM23 33h1v1h-1zM16 34h1v1h-1zM26 34h1v1h-1zM5 35h1v1h-1zM25 35h1v1h-1zM59 36h1v1h-1zM23 39h1v1h-1zM19 42h1v1h-1z"/>
<path fill="#fcd514" d="M7 29h1v1h-1zM10 29h1v1h-1zM26 30h1v1h-1zM50 30h1v1h-1zM57 30h1v1h-1zM1 31h1v1h-1zM12 31h1v1h-1zM60 31h1v1h-1zM26 32h1v1h-1zM36 32h1v1h-1zM7 33h1v1h-1zM51 33h1v1h-1zM48 34h1v1h-1zM1 35h1v1h-1zM15 35h1v1h-1zM23 35h1v1h-1zM38 35h1v1h-1zM14 36h1v1h-1zM40 36h1v1h-1zM23 37h1v1h-1zM39 38h1v1h-1zM45 39h1v1h-1zM41 40h1v1h-1z"/>
<path fill="#f18f19" d="M30 29h1v1h-1zM32 29h1v1h-1zM8 30h2v1h-2zM52 30h2v1h-2zM6 31h2v1h-2zM10 31h1v1h-1zM51 31h1v1h-1zM55 31h1v1h-1zM3 32h2v1h-2zM57 32h2v1h-2zM1 33h2v1h-2zM59 33h2v1h-2zM0 34h1v1h-1zM18 38h1v1h-1zM20 38h1v1h-1zM43 39h1v1h-1z"/>
<path fill="#f9b81a" d="M34 29h1v1h-1zM53 29h1v1h-1zM29 30h4v1h-4zM3 31h1v1h-1zM12 32h1v1h-1zM5 33h1v1h-1zM59 34h1v1h-1zM15 36h1v1h-1zM46 36h1v1h-1zM22 37h1v1h-1zM39 37h1v1h-1zM46 37h1v1h-1zM16 38h1v1h-1zM17 39h1v1h-1zM21 39h1v1h-1zM43 40h1v1h-1z"/>
<path fill="#ef7f19" d="M53 31h1v1h-1zM19 38h1v1h-1z"/>
</g></g>
<clipPath id="c12"><rect x="1134.00" y="609.20" width="396.40" height="396.50"/></clipPath>
<g clip-path="url(#c12)"><g transform="translate(1128.393 593.411) scale(6.60667 7.45400)">
<rect x="0" y="0" width="61" height="57" fill="#f7f3e1"/>
<path fill="#f6f5e3" d="M0 0h1v1h-1zM10 0h1v1h-1zM15 0h1v1h-1zM29 0h1v1h-1zM32 0h1v1h-1zM47 0h2v1h-2zM51 0h2v1h-2zM60 0h1v1h-1zM0 1h1v1h-1zM6 1h1v1h-1zM9 1h2v1h-2zM12 1h1v1h-1zM19 1h1v1h-1zM21 1h2v1h-2zM24 1h1v1h-1zM40 1h1v1h-1zM43 1h1v1h-1zM50 1h2v1h-2zM53 1h1v1h-1zM55 1h1v1h-1zM6 2h1v1h-1zM14 2h2v1h-2zM18 2h1v1h-1zM22 2h1v1h-1zM24 2h1v1h-1zM35 2h1v1h-1zM49 2h1v1h-1zM54 2h1v1h-1zM12 3h1v1h-1zM15 3h1v1h-1zM23 3h1v1h-1zM34 3h1v1h-1zM38 3h1v1h-1zM54 3h1v1h-1zM57 3h1v1h-1zM23 4h1v1h-1zM25 4h1v1h-1zM29 4h2v1h-2zM38 4h1v1h-1zM43 4h2v1h-2zM48 4h2v1h-2zM51 4h1v1h-1zM55 4h2v1h-2zM58 4h1v1h-1zM4 5h1v1h-1zM6 5h1v1h-1zM16 5h2v1h-2zM20 5h2v1h-2zM30 5h1v1h-1zM36 5h1v1h-1zM40 5h1v1h-1zM43 5h1v1h-1zM46 5h1v1h-1zM6 6h1v1h-1zM11 6h1v1h-1zM20 6h1v1h-1zM30 6h3v1h-3zM37 6h1v1h-1zM42 6h1v1h-1zM45 6h1v1h-1zM51 6h2v1h-2zM59 6h1v1h-1zM6 7h1v1h-1zM27 7h1v1h-1zM32 7h1v1h-1zM47 7h1v1h-1zM55 7h1v1h-1zM59 7h1v1h-1zM6 8h1v1h-1zM14 8h1v1h-1zM21 8h1v1h-1zM34 8h1v1h-1zM51 8h1v1h-1zM57 8h1v1h-1zM3 9h1v1h-1zM11 9h1v1h-1zM14 9h1v1h-1zM21 9h1v1h-1zM31 9h1v1h-1zM35 9h2v1h-2zM47 9h1v1h-1zM51 9h1v1h-1zM57 9h1v1h-1zM60 9h1v1h-1zM1 10h1v1h-1zM4 10h1v1h-1zM11 10h1v1h-1zM14 10h1v1h-1zM19 10h1v1h-1zM21 10h1v1h-1zM25 10h1v1h-1zM34 10h1v1h-1zM36 10h1v1h-1zM40 10h1v1h-1zM51 10h1v1h-1zM53 10h1v1h-1zM4 11h1v1h-1zM12 11h1v1h-1zM17 11h1v1h-1zM19 11h1v1h-1zM25 11h2v1h-2zM30 11h4v1h-4zM43 11h1v1h-1zM48 11h1v1h-1zM53 11h1v1h-1zM4 12h1v1h-1zM21 12h1v1h-1zM30 12h2v1h-2zM34 12h2v1h-2zM39 12h2v1h-2zM47 12h1v1h-1zM50 12h1v1h-1zM56 12h1v1h-1zM60 12h1v1h-1zM1 13h1v1h-1zM3 13h1v1h-1zM18 13h1v1h-1zM21 13h2v1h-2zM35 13h1v1h-1zM39 13h1v1h-1zM46 13h1v1h-1zM48 13h1v1h-1zM50 13h1v1h-1zM8 14h1v1h-1zM20 14h1v1h-1zM23 14h1v1h-1zM27 14h1v1h-1zM34 14h1v1h-1zM46 14h1v1h-1zM48 14h1v1h-1zM50 14h2v1h-2zM60 14h1v1h-1zM2 15h2v1h-2zM7 15h1v1h-1zM11 15h1v1h-1zM14 15h1v1h-1zM23 15h1v1h-1zM37 15h1v1h-1zM42 15h1v1h-1zM47 15h2v1h-2zM56 15h1v1h-1zM60 15h1v1h-1zM8 16h1v1h-1zM11 16h2v1h-2zM14 16h1v1h-1zM16 16h1v1h-1zM20 16h1v1h-1zM44 16h1v1h-1zM48 16h1v1h-1zM52 16h1v1h-1zM56 16h1v1h-1zM1 17h1v1h-1zM4 17h1v1h-1zM8 17h1v1h-1zM11 17h1v1h-1zM15 17h1v1h-1zM17 17h1v1h-1zM21 17h1v1h-1zM29 17h1v1h-1zM31 17h1v1h-1zM34 17h1v1h-1zM48 17h1v1h-1zM54 17h1v1h-1zM56 17h1v1h-1zM6 18h1v1h-1zM19 18h1v1h-1zM28 18h1v1h-1zM34 18h1v1h-1zM40 18h1v1h-1zM45 18h1v1h-1zM47 18h1v1h-1zM58 18h1v1h-1zM60 18h1v1h-1zM8 19h3v1h-3zM17 19h1v1h-1zM27 19h1v1h-1zM45 19h1v1h-1zM56 19h1v1h-1zM58 19h1v1h-1zM0 20h1v1h-1zM13 20h1v1h-1zM16 20h1v1h-1zM22 20h1v1h-1zM27 20h1v1h-1zM31 20h2v1h-2zM35 20h1v1h-1zM49 20h2v1h-2zM52 20h1v1h-1zM59 20h1v1h-1zM1 21h1v1h-1zM15 21h1v1h-1zM31 21h2v1h-2zM34 21h2v1h-2zM52 21h1v1h-1zM57 21h1v1h-1zM9 22h1v1h-1zM12 22h1v1h-1zM14 22h1v1h-1zM16 22h2v1h-2zM36 22h1v1h-1zM44 22h1v1h-1zM50 22h1v1h-1zM57 22h1v1h-1zM7 23h1v1h-1zM13 23h2v1h-2zM16 23h1v1h-1zM19 23h2v1h-2zM22 23h1v1h-1zM30 23h1v1h-1zM40 23h1v1h-1zM44 23h1v1h-1zM48 23h2v1h-2zM54 23h1v1h-1zM60 23h1v1h-1zM7 24h1v1h-1zM13 24h1v1h-1zM19 24h2v1h-2zM22 24h1v1h-1zM29 24h1v1h-1zM38 24h2v1h-2zM41 24h1v1h-1zM47 24h2v1h-2zM52 24h1v1h-1zM56 24h1v1h-1zM0 25h2v1h-2zM6 25h1v1h-1zM10 25h1v1h-1zM12 25h1v1h-1zM18 25h1v1h-1zM40 25h1v1h-1zM43 25h1v1h-1zM50 25h2v1h-2zM57 25h2v1h-2zM4 26h1v1h-1zM16 26h1v1h-1zM18 26h2v1h-2zM24 26h1v1h-1zM41 26h1v1h-1zM45 26h1v1h-1zM0 27h1v1h-1zM11 27h1v1h-1zM15 27h1v1h-1zM23 27h1v1h-1zM25 27h1v1h-1zM30 27h1v1h-1zM37 27h1v1h-1zM46 27h1v1h-1zM48 27h1v1h-1zM52 27h1v1h-1zM55 27h1v1h-1zM14 28h1v1h-1zM19 28h2v1h-2zM29 28h1v1h-1zM50 28h1v1h-1zM2 29h1v1h-1zM42 29h1v1h-1zM46 29h1v1h-1zM50 29h1v1h-1zM53 29h1v1h-1zM3 30h1v1h-1zM23 30h1v1h-1zM43 30h1v1h-1zM46 30h1v1h-1zM54 30h2v1h-2zM19 41h1v1h-1zM40 44h1v1h-1zM24 45h1v1h-1zM26 45h1v1h-1zM38 45h1v1h-1zM43 45h1v1h-1zM42 46h1v1h-1zM21 47h1v1h-1zM22 48h1v1h-1zM39 49h1v1h-1zM22 50h1v1h-1z"/>
<path fill="#f7f2e0" d="M5 0h1v1h-1zM9 0h1v1h-1zM13 0h1v1h-1zM16 0h3v1h-3zM20 0h1v1h-1zM24 0h1v1h-1zM30 0h2v1h-2zM33 0h1v1h-1zM36 0h4v1h-4zM41 0h1v1h-1zM45 0h1v1h-1zM49 0h1v1h-1zM53 0h1v1h-1zM56 0h2v1h-2zM59 0h1v1h-1zM2 1h1v1h-1zM4 1h2v1h-2zM8 1h1v1h-1zM16 1h2v1h-2zM20 1h1v1h-1zM23 1h1v1h-1zM25 1h1v1h-1zM31 1h4v1h-4zM37 1h1v1h-1zM46 1h1v1h-1zM49 1h1v1h-1zM54 1h1v1h-1zM4 2h1v1h-1zM8 2h1v1h-1zM11 2h1v1h-1zM13 2h1v1h-1zM19 2h2v1h-2zM26 2h1v1h-1zM34 2h1v1h-1zM37 2h2v1h-2zM43 2h1v1h-1zM50 2h3v1h-3zM57 2h2v1h-2zM60 2h1v1h-1zM0 3h1v1h-1zM2 3h1v1h-1zM6 3h2v1h-2zM9 3h1v1h-1zM14 3h1v1h-1zM17 3h3v1h-3zM27 3h2v1h-2zM31 3h2v1h-2zM36 3h2v1h-2zM41 3h3v1h-3zM45 3h2v1h-2zM52 3h1v1h-1zM59 3h1v1h-1zM0 4h1v1h-1zM4 4h1v1h-1zM6 4h2v1h-2zM9 4h3v1h-3zM16 4h1v1h-1zM18 4h2v1h-2zM21 4h1v1h-1zM26 4h1v1h-1zM28 4h1v1h-1zM32 4h2v1h-2zM35 4h1v1h-1zM40 4h3v1h-3zM46 4h1v1h-1zM54 4h1v1h-1zM59 4h1v1h-1zM0 5h1v1h-1zM3 5h1v1h-1zM5 5h1v1h-1zM7 5h1v1h-1zM10 5h1v1h-1zM14 5h1v1h-1zM18 5h2v1h-2zM22 5h1v1h-1zM24 5h1v1h-1zM27 5h3v1h-3zM34 5h1v1h-1zM41 5h1v1h-1zM44 5h2v1h-2zM47 5h1v1h-1zM49 5h2v1h-2zM53 5h1v1h-1zM1 6h1v1h-1zM3 6h1v1h-1zM8 6h2v1h-2zM12 6h1v1h-1zM14 6h1v1h-1zM17 6h3v1h-3zM22 6h1v1h-1zM25 6h1v1h-1zM28 6h1v1h-1zM33 6h2v1h-2zM40 6h2v1h-2zM47 6h1v1h-1zM49 6h1v1h-1zM55 6h1v1h-1zM57 6h1v1h-1zM60 6h1v1h-1zM1 7h1v1h-1zM3 7h1v1h-1zM15 7h1v1h-1zM17 7h3v1h-3zM22 7h1v1h-1zM26 7h1v1h-1zM40 7h2v1h-2zM43 7h1v1h-1zM52 7h2v1h-2zM56 7h1v1h-1zM58 7h1v1h-1zM60 7h1v1h-1zM4 8h1v1h-1zM8 8h2v1h-2zM12 8h2v1h-2zM20 8h1v1h-1zM22 8h1v1h-1zM33 8h1v1h-1zM38 8h1v1h-1zM43 8h2v1h-2zM46 8h1v1h-1zM48 8h3v1h-3zM52 8h1v1h-1zM56 8h1v1h-1zM60 8h1v1h-1zM0 9h2v1h-2zM8 9h1v1h-1zM10 9h1v1h-1zM13 9h1v1h-1zM15 9h3v1h-3zM20 9h1v1h-1zM23 9h1v1h-1zM26 9h1v1h-1zM29 9h2v1h-2zM34 9h1v1h-1zM37 9h2v1h-2zM41 9h1v1h-1zM45 9h1v1h-1zM49 9h2v1h-2zM55 9h1v1h-1zM5 10h3v1h-3zM10 10h1v1h-1zM13 10h1v1h-1zM23 10h2v1h-2zM28 10h1v1h-1zM38 10h1v1h-1zM42 10h1v1h-1zM46 10h1v1h-1zM50 10h1v1h-1zM54 10h5v1h-5zM0 11h1v1h-1zM2 11h1v1h-1zM6 11h1v1h-1zM8 11h2v1h-2zM13 11h1v1h-1zM16 11h1v1h-1zM20 11h1v1h-1zM22 11h1v1h-1zM24 11h1v1h-1zM27 11h1v1h-1zM29 11h1v1h-1zM35 11h2v1h-2zM41 11h2v1h-2zM44 11h1v1h-1zM46 11h1v1h-1zM54 11h1v1h-1zM57 11h1v1h-1zM59 11h1v1h-1zM0 12h3v1h-3zM9 12h2v1h-2zM12 12h2v1h-2zM15 12h1v1h-1zM17 12h1v1h-1zM19 12h1v1h-1zM23 12h1v1h-1zM26 12h2v1h-2zM29 12h1v1h-1zM37 12h2v1h-2zM43 12h1v1h-1zM46 12h1v1h-1zM49 12h1v1h-1zM57 12h3v1h-3zM0 13h1v1h-1zM4 13h1v1h-1zM7 13h1v1h-1zM9 13h1v1h-1zM12 13h1v1h-1zM15 13h1v1h-1zM17 13h1v1h-1zM19 13h1v1h-1zM24 13h1v1h-1zM26 13h1v1h-1zM29 13h1v1h-1zM31 13h2v1h-2zM38 13h1v1h-1zM40 13h3v1h-3zM45 13h1v1h-1zM52 13h2v1h-2zM59 13h1v1h-1zM0 14h1v1h-1zM7 14h1v1h-1zM10 14h1v1h-1zM13 14h1v1h-1zM15 14h1v1h-1zM17 14h1v1h-1zM25 14h2v1h-2zM28 14h1v1h-1zM31 14h1v1h-1zM33 14h1v1h-1zM40 14h2v1h-2zM49 14h1v1h-1zM52 14h1v1h-1zM54 14h1v1h-1zM0 15h2v1h-2zM5 15h2v1h-2zM16 15h3v1h-3zM21 15h2v1h-2zM24 15h1v1h-1zM26 15h1v1h-1zM29 15h1v1h-1zM32 15h1v1h-1zM34 15h2v1h-2zM49 15h1v1h-1zM52 15h3v1h-3zM57 15h3v1h-3zM0 16h1v1h-1zM2 16h3v1h-3zM6 16h1v1h-1zM9 16h1v1h-1zM17 16h2v1h-2zM21 16h7v1h-7zM30 16h1v1h-1zM32 16h1v1h-1zM35 16h1v1h-1zM41 16h1v1h-1zM51 16h1v1h-1zM53 16h2v1h-2zM60 16h1v1h-1zM2 17h2v1h-2zM9 17h2v1h-2zM12 17h1v1h-1zM14 17h1v1h-1zM18 17h1v1h-1zM20 17h1v1h-1zM25 17h2v1h-2zM35 17h1v1h-1zM37 17h1v1h-1zM39 17h4v1h-4zM44 17h1v1h-1zM52 17h1v1h-1zM55 17h1v1h-1zM57 17h1v1h-1zM60 17h1v1h-1zM0 18h1v1h-1zM3 18h1v1h-1zM9 18h1v1h-1zM11 18h2v1h-2zM16 18h1v1h-1zM18 18h1v1h-1zM20 18h1v1h-1zM26 18h2v1h-2zM31 18h1v1h-1zM33 18h1v1h-1zM36 18h3v1h-3zM41 18h2v1h-2zM5 19h1v1h-1zM7 19h1v1h-1zM11 19h1v1h-1zM16 19h1v1h-1zM18 19h3v1h-3zM26 19h1v1h-1zM28 19h1v1h-1zM34 19h1v1h-1zM37 19h2v1h-2zM40 19h1v1h-1zM42 19h2v1h-2zM52 19h2v1h-2zM55 19h1v1h-1zM57 19h1v1h-1zM3 20h2v1h-2zM18 20h2v1h-2zM23 20h1v1h-1zM26 20h1v1h-1zM28 20h1v1h-1zM37 20h1v1h-1zM40 20h2v1h-2zM55 20h1v1h-1zM60 20h1v1h-1zM3 21h2v1h-2zM6 21h1v1h-1zM8 21h1v1h-1zM11 21h1v1h-1zM14 21h1v1h-1zM18 21h2v1h-2zM25 21h3v1h-3zM37 21h1v1h-1zM41 21h1v1h-1zM43 21h6v1h-6zM51 21h1v1h-1zM56 21h1v1h-1zM59 21h2v1h-2zM0 22h2v1h-2zM5 22h1v1h-1zM8 22h1v1h-1zM11 22h1v1h-1zM13 22h1v1h-1zM18 22h1v1h-1zM25 22h1v1h-1zM38 22h1v1h-1zM41 22h2v1h-2zM45 22h1v1h-1zM47 22h1v1h-1zM58 22h3v1h-3zM0 23h3v1h-3zM5 23h1v1h-1zM8 23h1v1h-1zM15 23h1v1h-1zM23 23h1v1h-1zM25 23h1v1h-1zM38 23h1v1h-1zM41 23h1v1h-1zM43 23h1v1h-1zM46 23h2v1h-2zM50 23h2v1h-2zM58 23h1v1h-1zM0 24h1v1h-1zM2 24h1v1h-1zM6 24h1v1h-1zM12 24h1v1h-1zM16 24h2v1h-2zM42 24h1v1h-1zM44 24h3v1h-3zM49 24h3v1h-3zM57 24h3v1h-3zM2 25h1v1h-1zM4 25h1v1h-1zM7 25h1v1h-1zM16 25h1v1h-1zM20 25h1v1h-1zM53 25h2v1h-2zM60 25h1v1h-1zM13 26h1v1h-1zM20 26h1v1h-1zM44 26h1v1h-1zM51 26h1v1h-1zM55 26h1v1h-1zM14 27h1v1h-1zM19 27h1v1h-1zM42 27h4v1h-4zM49 27h2v1h-2zM16 28h2v1h-2zM42 28h1v1h-1zM46 28h1v1h-1zM0 29h1v1h-1zM51 29h1v1h-1zM2 30h1v1h-1zM5 30h1v1h-1zM19 30h1v1h-1zM42 30h1v1h-1zM45 30h1v1h-1zM50 30h1v1h-1zM57 30h1v1h-1zM31 31h1v1h-1zM16 41h1v1h-1zM42 43h2v1h-2zM24 44h1v1h-1zM43 44h1v1h-1zM22 45h2v1h-2zM37 46h1v1h-1zM40 46h1v1h-1zM41 47h1v1h-1zM42 48h1v1h-1zM19 50h1v1h-1zM23 50h1v1h-1zM39 50h1v1h-1zM59 52h1v1h-1zM21 53h1v1h-1z"/>
<path fill="#f6f6e4" d="M7 0h1v1h-1zM19 0h1v1h-1zM7 1h1v1h-1zM12 2h1v1h-1zM1 3h1v1h-1zM27 6h1v1h-1zM29 7h1v1h-1zM31 7h1v1h-1zM31 8h1v1h-1zM17 10h1v1h-1zM47 10h1v1h-1zM11 11h1v1h-1zM14 11h1v1h-1zM21 11h1v1h-1zM34 11h1v1h-1zM40 11h1v1h-1zM3 12h1v1h-1zM48 12h1v1h-1zM39 14h1v1h-1zM12 15h1v1h-1zM20 15h1v1h-1zM27 15h1v1h-1zM45 16h1v1h-1zM47 16h1v1h-1zM19 17h1v1h-1zM45 17h1v1h-1zM2 18h1v1h-1zM10 18h1v1h-1zM33 19h1v1h-1zM50 19h1v1h-1zM60 19h1v1h-1zM33 20h1v1h-1zM33 21h1v1h-1zM32 22h1v1h-1zM35 22h1v1h-1zM37 22h1v1h-1zM21 23h1v1h-1zM26 23h2v1h-2zM21 24h1v1h-1zM23 24h1v1h-1zM25 24h1v1h-1zM32 24h1v1h-1zM3 25h1v1h-1zM9 25h1v1h-1zM21 25h1v1h-1zM38 25h1v1h-1zM47 25h1v1h-1zM1 26h1v1h-1zM5 26h1v1h-1zM39 26h2v1h-2zM56 26h1v1h-1zM58 26h1v1h-1zM1 27h1v1h-1zM59 27h1v1h-1zM1 28h1v1h-1zM21 28h1v1h-1zM48 28h1v1h-1zM53 28h1v1h-1zM21 29h1v1h-1zM27 29h1v1h-1zM43 29h1v1h-1zM52 29h1v1h-1zM55 31h1v1h-1zM41 44h1v1h-1zM23 48h1v1h-1z"/>
<path fill="#f7f1df" d="M8 0h1v1h-1zM11 0h1v1h-1zM22 0h2v1h-2zM40 0h1v1h-1zM13 1h1v1h-1zM26 1h1v1h-1zM30 1h1v1h-1zM36 1h1v1h-1zM38 1h2v1h-2zM41 1h1v1h-1zM57 1h2v1h-2zM0 2h1v1h-1zM2 2h1v1h-1zM5 2h1v1h-1zM9 2h1v1h-1zM16 2h1v1h-1zM30 2h1v1h-1zM32 2h2v1h-2zM36 2h1v1h-1zM46 2h2v1h-2zM4 3h2v1h-2zM21 3h1v1h-1zM26 3h1v1h-1zM33 3h1v1h-1zM47 3h1v1h-1zM50 3h1v1h-1zM60 3h1v1h-1zM2 4h1v1h-1zM5 4h1v1h-1zM27 4h1v1h-1zM34 4h1v1h-1zM37 4h1v1h-1zM60 4h1v1h-1zM1 5h1v1h-1zM26 5h1v1h-1zM37 5h1v1h-1zM58 5h1v1h-1zM60 5h1v1h-1zM15 6h1v1h-1zM26 6h1v1h-1zM36 6h1v1h-1zM44 6h1v1h-1zM48 6h1v1h-1zM58 6h1v1h-1zM8 7h1v1h-1zM10 7h1v1h-1zM12 7h1v1h-1zM21 7h1v1h-1zM23 7h1v1h-1zM33 7h1v1h-1zM36 7h1v1h-1zM38 7h1v1h-1zM44 7h1v1h-1zM48 7h1v1h-1zM1 8h2v1h-2zM18 8h1v1h-1zM37 8h1v1h-1zM41 8h2v1h-2zM54 8h1v1h-1zM9 9h1v1h-1zM12 9h1v1h-1zM18 9h1v1h-1zM22 9h1v1h-1zM24 9h1v1h-1zM28 9h1v1h-1zM42 9h2v1h-2zM54 9h1v1h-1zM59 9h1v1h-1zM9 10h1v1h-1zM15 10h1v1h-1zM18 10h1v1h-1zM22 10h1v1h-1zM29 10h1v1h-1zM37 10h1v1h-1zM41 10h1v1h-1zM5 11h1v1h-1zM7 11h1v1h-1zM18 11h1v1h-1zM23 11h1v1h-1zM28 11h1v1h-1zM37 11h2v1h-2zM58 11h1v1h-1zM7 12h2v1h-2zM24 12h1v1h-1zM28 12h1v1h-1zM41 12h2v1h-2zM52 12h1v1h-1zM54 12h1v1h-1zM8 13h1v1h-1zM11 13h1v1h-1zM20 13h1v1h-1zM49 13h1v1h-1zM54 13h2v1h-2zM58 13h1v1h-1zM2 14h1v1h-1zM4 14h1v1h-1zM11 14h1v1h-1zM19 14h1v1h-1zM21 14h1v1h-1zM29 14h1v1h-1zM32 14h1v1h-1zM35 14h1v1h-1zM38 14h1v1h-1zM42 14h1v1h-1zM44 14h2v1h-2zM58 14h2v1h-2zM15 15h1v1h-1zM25 15h1v1h-1zM33 15h1v1h-1zM41 15h1v1h-1zM39 16h1v1h-1zM43 16h1v1h-1zM55 16h1v1h-1zM58 16h1v1h-1zM7 17h1v1h-1zM27 17h1v1h-1zM30 17h1v1h-1zM14 18h1v1h-1zM30 18h1v1h-1zM51 18h2v1h-2zM55 18h1v1h-1zM3 19h2v1h-2zM14 19h2v1h-2zM30 19h1v1h-1zM36 19h1v1h-1zM48 19h1v1h-1zM51 19h1v1h-1zM2 20h1v1h-1zM5 20h2v1h-2zM14 20h1v1h-1zM34 20h1v1h-1zM36 20h1v1h-1zM38 20h1v1h-1zM42 20h1v1h-1zM44 20h1v1h-1zM46 20h1v1h-1zM51 20h1v1h-1zM57 20h1v1h-1zM17 21h1v1h-1zM20 21h1v1h-1zM29 21h1v1h-1zM49 21h1v1h-1zM55 21h1v1h-1zM2 22h1v1h-1zM4 22h1v1h-1zM6 22h2v1h-2zM10 22h1v1h-1zM29 22h1v1h-1zM53 22h1v1h-1zM55 22h1v1h-1zM4 23h1v1h-1zM42 23h1v1h-1zM53 23h1v1h-1zM57 23h1v1h-1zM59 23h1v1h-1zM4 24h1v1h-1zM55 24h1v1h-1zM14 25h1v1h-1zM44 25h2v1h-2zM49 25h1v1h-1zM55 25h1v1h-1zM14 26h1v1h-1zM17 26h1v1h-1zM49 26h1v1h-1zM54 26h1v1h-1zM59 26h1v1h-1zM17 27h1v1h-1zM29 27h1v1h-1zM31 27h1v1h-1zM15 28h1v1h-1zM18 28h1v1h-1zM38 28h2v1h-2zM44 28h1v1h-1zM51 28h1v1h-1zM12 29h1v1h-1zM29 29h1v1h-1zM41 29h1v1h-1zM44 29h1v1h-1zM48 29h1v1h-1zM18 30h1v1h-1zM24 30h3v1h-3zM44 30h1v1h-1zM49 30h1v1h-1zM3 31h1v1h-1zM43 31h1v1h-1zM45 31h2v1h-2zM51 31h1v1h-1zM11 41h1v1h-1zM27 42h1v1h-1zM37 42h1v1h-1zM40 43h1v1h-1zM25 44h1v1h-1zM34 44h1v1h-1zM29 45h1v1h-1zM19 46h1v1h-1zM28 46h2v1h-2zM14 47h1v1h-1zM17 47h2v1h-2zM20 47h1v1h-1zM23 47h1v1h-1zM25 47h1v1h-1zM9 48h1v1h-1zM25 48h1v1h-1zM41 48h1v1h-1zM40 49h1v1h-1zM54 49h1v1h-1zM21 50h1v1h-1zM24 50h1v1h-1zM40 51h1v1h-1zM44 51h1v1h-1zM32 52h1v1h-1zM8 56h1v1h-1z"/>
<path fill="#f8efdd" d="M26 0h1v1h-1zM11 1h1v1h-1zM56 2h1v1h-1zM16 3h1v1h-1zM50 4h1v1h-1zM2 5h1v1h-1zM2 6h1v1h-1zM2 7h1v1h-1zM4 7h1v1h-1zM25 7h1v1h-1zM23 8h1v1h-1zM55 14h1v1h-1zM55 15h1v1h-1zM43 17h1v1h-1zM7 18h1v1h-1zM43 18h1v1h-1zM2 21h1v1h-1zM5 21h1v1h-1zM53 21h1v1h-1zM6 23h1v1h-1zM29 26h1v1h-1zM52 26h1v1h-1zM12 27h2v1h-2zM28 28h1v1h-1zM40 28h1v1h-1zM47 28h1v1h-1zM60 28h1v1h-1zM14 29h1v1h-1zM17 29h2v1h-2zM47 29h1v1h-1zM9 30h1v1h-1zM17 30h1v1h-1zM47 30h2v1h-2zM18 31h1v1h-1zM22 31h1v1h-1zM47 31h1v1h-1zM36 38h1v1h-1zM40 39h1v1h-1zM16 40h1v1h-1zM51 40h1v1h-1zM17 42h1v1h-1zM23 42h1v1h-1zM56 42h1v1h-1zM5 43h2v1h-2zM38 43h1v1h-1zM16 44h1v1h-1zM22 44h1v1h-1zM26 44h1v1h-1zM40 45h1v1h-1zM38 46h1v1h-1zM18 48h1v1h-1zM20 48h1v1h-1zM36 48h2v1h-2zM24 49h1v1h-1zM43 49h1v1h-1zM11 51h1v1h-1zM21 51h1v1h-1zM25 51h1v1h-1zM11 52h1v1h-1zM58 52h1v1h-1zM57 53h1v1h-1zM22 55h1v1h-1zM55 55h1v1h-1zM59 55h1v1h-1zM24 56h1v1h-1zM39 56h1v1h-1z"/>
<path fill="#f8eedc" d="M17 8h1v1h-1zM35 27h1v1h-1zM31 28h1v1h-1zM16 29h1v1h-1zM39 29h2v1h-2zM15 30h1v1h-1zM20 30h1v1h-1zM40 30h2v1h-2zM52 30h1v1h-1zM19 31h2v1h-2zM23 31h1v1h-1zM44 31h1v1h-1zM49 31h1v1h-1zM58 31h1v1h-1zM24 32h1v1h-1zM45 32h2v1h-2zM8 38h1v1h-1zM34 39h1v1h-1zM34 40h1v1h-1zM37 40h1v1h-1zM16 42h1v1h-1zM18 42h1v1h-1zM18 43h1v1h-1zM53 43h1v1h-1zM18 44h1v1h-1zM37 44h1v1h-1zM18 45h1v1h-1zM20 45h1v1h-1zM33 45h1v1h-1zM42 45h1v1h-1zM45 45h1v1h-1zM9 46h1v1h-1zM18 46h1v1h-1zM23 46h1v1h-1zM39 46h1v1h-1zM37 47h1v1h-1zM44 48h1v1h-1zM50 48h1v1h-1zM22 49h1v1h-1zM31 49h1v1h-1zM37 49h1v1h-1zM29 50h1v1h-1zM40 50h1v1h-1zM44 50h1v1h-1zM29 51h1v1h-1zM48 51h1v1h-1zM8 52h1v1h-1zM42 53h1v1h-1zM60 54h1v1h-1zM8 55h1v1h-1zM56 55h1v1h-1zM7 56h1v1h-1z"/>
<path fill="#f4f5e6" d="M31 22h1v1h-1zM33 22h2v1h-2zM24 23h1v1h-1zM32 23h1v1h-1zM35 23h1v1h-1zM24 24h1v1h-1zM26 24h1v1h-1zM28 24h1v1h-1zM37 24h1v1h-1zM8 25h1v1h-1zM27 25h1v1h-1zM56 25h1v1h-1zM0 26h1v1h-1zM8 26h1v1h-1zM11 26h1v1h-1zM21 26h1v1h-1zM23 26h1v1h-1zM38 26h1v1h-1zM57 26h1v1h-1zM20 27h2v1h-2zM38 27h1v1h-1zM12 28h1v1h-1zM33 28h1v1h-1zM57 28h1v1h-1zM59 28h1v1h-1zM9 29h1v1h-1zM19 29h1v1h-1zM25 29h1v1h-1zM22 46h1v1h-1zM40 48h1v1h-1zM21 52h1v1h-1z"/>
<path fill="#eff4eb" d="M31 23h1v1h-1zM35 24h1v1h-1zM26 25h1v1h-1zM28 25h1v1h-1zM32 25h1v1h-1zM2 27h2v1h-2zM57 27h2v1h-2zM23 28h1v1h-1zM26 28h1v1h-1zM41 45h1v1h-1zM42 47h1v1h-1z"/>
<path fill="#e9f3f1" d="M33 23h1v1h-1zM36 25h1v1h-1zM3 28h1v1h-1zM3 29h1v1h-1zM55 29h1v1h-1zM8 30h1v1h-1z"/>
<path fill="#eef3ec" d="M34 23h1v1h-1zM7 26h1v1h-1zM28 26h1v1h-1zM26 27h1v1h-1zM22 28h1v1h-1zM27 28h1v1h-1zM23 29h1v1h-1zM26 29h1v1h-1z"/>
<path fill="#f2f4e8" d="M36 23h2v1h-2zM30 24h1v1h-1zM24 25h1v1h-1zM37 25h1v1h-1zM10 26h1v1h-1zM22 26h1v1h-1zM37 26h1v1h-1zM10 27h1v1h-1zM22 27h1v1h-1zM28 27h1v1h-1zM53 27h1v1h-1zM4 28h1v1h-1zM24 28h2v1h-2zM52 28h1v1h-1zM24 29h1v1h-1zM22 30h1v1h-1zM41 46h1v1h-1zM39 47h1v1h-1z"/>
<path fill="#e8f2f2" d="M31 24h1v1h-1zM33 24h1v1h-1zM35 26h1v1h-1zM54 29h1v1h-1z"/>
<path fill="#d6ebf2" d="M34 24h1v1h-1zM33 26h1v1h-1zM6 27h3v1h-3zM10 28h1v1h-1zM6 30h1v1h-1z"/>
<path fill="#f1f4e9" d="M36 24h1v1h-1zM22 25h2v1h-2zM25 25h1v1h-1zM3 26h1v1h-1zM25 26h2v1h-2zM24 27h1v1h-1zM9 28h1v1h-1zM54 28h1v1h-1zM1 29h1v1h-1zM8 29h1v1h-1zM22 29h1v1h-1zM1 30h1v1h-1zM4 31h1v1h-1zM40 47h1v1h-1zM39 48h1v1h-1z"/>
<path fill="#ecf3ee" d="M30 25h1v1h-1zM9 26h1v1h-1zM31 26h1v1h-1zM32 27h1v1h-1zM2 28h1v1h-1z"/>
<path fill="#e0eff3" d="M31 25h1v1h-1zM35 25h1v1h-1zM56 29h1v1h-1zM7 30h1v1h-1z"/>
<path fill="#e6f2f4" d="M33 25h1v1h-1zM27 26h1v1h-1zM27 27h1v1h-1zM55 28h1v1h-1zM58 28h1v1h-1zM10 30h1v1h-1zM5 31h1v1h-1z"/>
<path fill="#cfe8f1" d="M34 25h1v1h-1zM4 29h1v1h-1zM10 29h1v1h-1z"/>
<path fill="#ebf3ef" d="M6 26h1v1h-1zM4 27h1v1h-1zM9 27h1v1h-1zM56 27h1v1h-1zM58 29h1v1h-1zM6 31h1v1h-1zM22 47h1v1h-1z"/>
<path fill="#ddeef3" d="M32 26h1v1h-1z"/>
<path fill="#c3e3ef" d="M34 26h1v1h-1z"/>
<path fill="#d9ecf2" d="M36 26h1v1h-1zM5 27h1v1h-1z"/>
<path fill="#c9e5f0" d="M34 27h1v1h-1zM56 28h1v1h-1z"/>
<path fill="#e3f1f4" d="M36 27h1v1h-1zM5 28h1v1h-1z"/>
<path fill="#c6e4ef" d="M6 28h1v1h-1z"/>
<path fill="#bae1ee" d="M7 28h1v1h-1zM6 29h1v1h-1z"/>
<path fill="#d3e9f1" d="M8 28h1v1h-1zM5 29h1v1h-1zM4 30h1v1h-1z"/>
<path fill="#f8eddb" d="M13 28h1v1h-1zM32 28h1v1h-1zM37 28h1v1h-1zM15 29h1v1h-1zM31 30h1v1h-1zM51 30h1v1h-1zM16 31h1v1h-1zM21 31h1v1h-1zM25 31h1v1h-1zM4 32h3v1h-3zM31 35h1v1h-1zM45 35h1v1h-1zM34 38h1v1h-1zM7 39h1v1h-1zM3 41h1v1h-1zM32 41h1v1h-1zM33 42h1v1h-1zM38 42h1v1h-1zM23 43h1v1h-1zM41 43h1v1h-1zM49 43h1v1h-1zM13 44h1v1h-1zM20 44h1v1h-1zM23 44h1v1h-1zM27 44h1v1h-1zM42 44h1v1h-1zM5 45h1v1h-1zM12 45h1v1h-1zM19 45h1v1h-1zM50 45h1v1h-1zM53 45h1v1h-1zM16 46h1v1h-1zM25 46h2v1h-2zM5 47h1v1h-1zM28 47h1v1h-1zM36 47h1v1h-1zM59 47h2v1h-2zM21 48h1v1h-1zM24 48h1v1h-1zM28 48h1v1h-1zM5 49h1v1h-1zM19 49h1v1h-1zM21 49h1v1h-1zM25 49h1v1h-1zM45 49h1v1h-1zM50 49h1v1h-1zM20 50h1v1h-1zM15 51h1v1h-1zM22 51h3v1h-3zM42 51h1v1h-1zM59 51h1v1h-1zM41 52h1v1h-1zM16 53h1v1h-1zM29 53h1v1h-1zM17 54h1v1h-1zM39 55h1v1h-1zM34 56h1v1h-1zM53 56h1v1h-1z"/>
<path fill="#f9ecda" d="M30 28h1v1h-1zM13 29h1v1h-1zM28 29h1v1h-1zM38 29h1v1h-1zM16 30h1v1h-1zM24 31h1v1h-1zM42 31h1v1h-1zM50 31h1v1h-1zM22 32h1v1h-1zM43 32h1v1h-1zM20 33h1v1h-1zM42 33h1v1h-1zM22 35h1v1h-1zM33 39h1v1h-1zM37 39h1v1h-1zM21 40h1v1h-1zM32 40h1v1h-1zM50 40h1v1h-1zM37 41h1v1h-1zM50 41h1v1h-1zM58 41h1v1h-1zM19 42h1v1h-1zM51 42h2v1h-2zM55 42h1v1h-1zM19 43h1v1h-1zM25 43h1v1h-1zM36 43h2v1h-2zM60 43h1v1h-1zM39 44h1v1h-1zM53 44h1v1h-1zM17 45h1v1h-1zM25 45h1v1h-1zM17 46h1v1h-1zM19 47h1v1h-1zM55 47h1v1h-1zM58 47h1v1h-1zM14 48h2v1h-2zM27 48h1v1h-1zM42 49h1v1h-1zM11 50h1v1h-1zM14 50h1v1h-1zM18 50h1v1h-1zM60 50h1v1h-1zM20 51h1v1h-1zM41 51h1v1h-1zM60 51h1v1h-1zM10 52h1v1h-1zM26 52h1v1h-1zM29 52h1v1h-1zM36 52h1v1h-1zM44 52h1v1h-1zM5 53h1v1h-1zM26 53h1v1h-1zM41 53h1v1h-1zM18 54h1v1h-1zM20 54h1v1h-1zM1 55h1v1h-1zM40 55h1v1h-1zM58 55h1v1h-1zM3 56h1v1h-1z"/>
<path fill="#a9daee" d="M7 29h1v1h-1z"/>
<path fill="#f9ebd8" d="M11 29h1v1h-1zM30 29h2v1h-2zM37 29h1v1h-1zM60 29h1v1h-1zM0 30h1v1h-1zM27 30h1v1h-1zM2 31h1v1h-1zM10 31h1v1h-1zM15 31h1v1h-1zM48 31h1v1h-1zM60 31h1v1h-1zM23 32h1v1h-1zM25 32h1v1h-1zM47 32h1v1h-1zM23 33h1v1h-1zM14 38h1v1h-1zM51 39h1v1h-1zM53 39h2v1h-2zM3 40h1v1h-1zM11 40h1v1h-1zM27 41h2v1h-2zM30 41h1v1h-1zM55 41h1v1h-1zM57 41h1v1h-1zM59 41h1v1h-1zM24 42h2v1h-2zM30 42h1v1h-1zM32 42h1v1h-1zM34 42h1v1h-1zM50 42h1v1h-1zM53 42h1v1h-1zM2 43h1v1h-1zM13 43h1v1h-1zM45 43h1v1h-1zM52 43h1v1h-1zM0 44h2v1h-2zM6 44h1v1h-1zM15 45h1v1h-1zM28 45h1v1h-1zM47 45h1v1h-1zM5 46h1v1h-1zM20 46h1v1h-1zM45 46h1v1h-1zM47 46h1v1h-1zM59 46h2v1h-2zM48 47h1v1h-1zM17 48h1v1h-1zM19 48h1v1h-1zM49 48h1v1h-1zM53 48h1v1h-1zM60 48h1v1h-1zM49 49h1v1h-1zM53 49h1v1h-1zM37 50h1v1h-1zM42 50h1v1h-1zM46 51h1v1h-1zM58 51h1v1h-1zM23 52h1v1h-1zM40 52h1v1h-1zM42 52h1v1h-1zM7 53h1v1h-1zM25 53h1v1h-1zM30 53h1v1h-1zM48 53h1v1h-1zM25 54h1v1h-1zM41 54h1v1h-1zM48 54h1v1h-1zM13 55h1v1h-1zM17 55h1v1h-1zM23 55h1v1h-1zM26 55h1v1h-1zM36 55h1v1h-1zM44 55h1v1h-1zM17 56h1v1h-1zM28 56h1v1h-1zM58 56h1v1h-1z"/>
<path fill="#f9dfcb" d="M32 29h1v1h-1zM29 30h1v1h-1zM56 31h1v1h-1zM28 32h1v1h-1zM19 33h1v1h-1zM31 36h1v1h-1zM35 36h2v1h-2zM38 37h1v1h-1zM12 38h1v1h-1zM22 38h1v1h-1zM27 38h2v1h-2zM38 38h1v1h-1zM55 38h1v1h-1zM2 39h1v1h-1zM26 39h1v1h-1zM28 39h1v1h-1zM57 39h1v1h-1zM35 40h1v1h-1zM39 40h1v1h-1zM52 40h2v1h-2zM5 41h1v1h-1zM7 41h1v1h-1zM12 41h1v1h-1zM17 41h1v1h-1zM35 41h1v1h-1zM49 41h1v1h-1zM60 41h1v1h-1zM9 42h1v1h-1zM14 42h1v1h-1zM49 42h1v1h-1zM16 43h1v1h-1zM44 44h1v1h-1zM58 44h1v1h-1zM14 45h1v1h-1zM32 45h1v1h-1zM58 45h1v1h-1zM0 46h1v1h-1zM8 46h1v1h-1zM34 46h3v1h-3zM49 46h1v1h-1zM7 47h1v1h-1zM8 48h1v1h-1zM11 48h1v1h-1zM32 48h1v1h-1zM47 48h1v1h-1zM51 48h2v1h-2zM56 48h1v1h-1zM58 48h1v1h-1zM26 49h1v1h-1zM2 50h1v1h-1zM7 50h1v1h-1zM51 50h1v1h-1zM57 50h1v1h-1zM1 51h1v1h-1zM4 51h2v1h-2zM7 51h1v1h-1zM27 51h2v1h-2zM35 51h1v1h-1zM45 51h1v1h-1zM9 52h1v1h-1zM13 52h1v1h-1zM27 52h1v1h-1zM39 52h1v1h-1zM47 52h1v1h-1zM36 53h2v1h-2zM45 53h1v1h-1zM51 53h2v1h-2zM59 53h1v1h-1zM24 54h1v1h-1zM51 54h1v1h-1zM14 55h1v1h-1zM19 55h1v1h-1zM21 55h1v1h-1zM31 55h2v1h-2zM51 55h1v1h-1zM13 56h1v1h-1zM19 56h1v1h-1zM29 56h1v1h-1zM46 56h1v1h-1zM49 56h1v1h-1zM59 56h1v1h-1z"/>
<path fill="#fbe8d4" d="M33 29h1v1h-1zM35 29h1v1h-1zM11 30h1v1h-1zM39 30h1v1h-1zM56 30h1v1h-1zM7 31h1v1h-1zM59 31h1v1h-1zM19 32h1v1h-1zM41 32h2v1h-2zM60 32h1v1h-1zM24 33h1v1h-1zM44 33h1v1h-1zM6 37h1v1h-1zM34 37h2v1h-2zM11 38h1v1h-1zM8 39h1v1h-1zM16 39h1v1h-1zM31 39h1v1h-1zM14 40h1v1h-1zM29 40h1v1h-1zM31 40h1v1h-1zM38 40h1v1h-1zM9 41h1v1h-1zM14 41h1v1h-1zM29 41h1v1h-1zM33 41h2v1h-2zM0 42h1v1h-1zM26 42h1v1h-1zM40 42h2v1h-2zM57 42h1v1h-1zM0 43h1v1h-1zM32 43h1v1h-1zM39 43h1v1h-1zM50 43h1v1h-1zM12 44h1v1h-1zM28 44h2v1h-2zM50 44h1v1h-1zM0 45h1v1h-1zM30 45h1v1h-1zM39 45h1v1h-1zM55 45h1v1h-1zM4 46h1v1h-1zM7 46h1v1h-1zM33 46h1v1h-1zM48 46h1v1h-1zM51 46h1v1h-1zM12 47h1v1h-1zM15 47h1v1h-1zM44 47h1v1h-1zM4 48h1v1h-1zM34 48h1v1h-1zM57 48h1v1h-1zM4 49h1v1h-1zM10 49h1v1h-1zM14 49h1v1h-1zM30 49h1v1h-1zM34 49h1v1h-1zM36 49h1v1h-1zM38 49h1v1h-1zM41 49h1v1h-1zM46 49h1v1h-1zM17 50h1v1h-1zM28 50h1v1h-1zM34 50h1v1h-1zM41 50h1v1h-1zM52 50h1v1h-1zM55 50h1v1h-1zM59 50h1v1h-1zM18 51h1v1h-1zM26 51h1v1h-1zM30 51h1v1h-1zM32 51h1v1h-1zM34 51h1v1h-1zM39 51h1v1h-1zM51 51h1v1h-1zM2 52h1v1h-1zM7 52h1v1h-1zM15 52h1v1h-1zM35 52h1v1h-1zM57 52h1v1h-1zM14 53h1v1h-1zM44 53h1v1h-1zM46 53h1v1h-1zM7 54h1v1h-1zM29 54h1v1h-1zM40 54h1v1h-1zM52 54h1v1h-1zM54 54h1v1h-1zM57 54h2v1h-2zM12 55h1v1h-1zM45 55h1v1h-1zM53 55h2v1h-2zM9 56h1v1h-1zM38 56h1v1h-1zM42 56h3v1h-3zM47 56h1v1h-1z"/>
<path fill="#f8dac7" d="M34 29h1v1h-1zM13 31h1v1h-1zM30 31h1v1h-1zM1 32h1v1h-1zM39 32h1v1h-1zM42 34h2v1h-2zM51 34h1v1h-1zM28 35h1v1h-1zM49 35h1v1h-1zM16 36h1v1h-1zM23 36h1v1h-1zM28 36h1v1h-1zM28 37h1v1h-1zM37 37h1v1h-1zM50 37h1v1h-1zM10 38h1v1h-1zM59 38h1v1h-1zM0 39h1v1h-1zM29 39h1v1h-1zM12 40h2v1h-2zM18 41h1v1h-1zM52 41h2v1h-2zM22 42h1v1h-1zM9 43h1v1h-1zM15 43h1v1h-1zM29 43h1v1h-1zM1 46h1v1h-1zM11 47h1v1h-1zM35 47h1v1h-1zM54 47h1v1h-1zM1 49h1v1h-1zM13 49h1v1h-1zM57 49h1v1h-1zM59 49h1v1h-1zM38 52h1v1h-1zM56 52h1v1h-1zM38 53h1v1h-1zM54 53h1v1h-1zM9 54h1v1h-1zM31 54h2v1h-2zM50 54h1v1h-1zM47 55h1v1h-1zM54 56h1v1h-1z"/>
<path fill="#faead7" d="M36 29h1v1h-1zM53 30h1v1h-1zM60 30h1v1h-1zM9 31h1v1h-1zM41 31h1v1h-1zM52 31h1v1h-1zM7 32h1v1h-1zM18 32h1v1h-1zM31 32h1v1h-1zM49 32h1v1h-1zM58 32h1v1h-1zM22 33h1v1h-1zM45 33h1v1h-1zM47 33h1v1h-1zM45 34h1v1h-1zM33 38h1v1h-1zM35 38h1v1h-1zM35 39h2v1h-2zM2 40h1v1h-1zM7 40h1v1h-1zM28 40h1v1h-1zM54 40h1v1h-1zM58 40h1v1h-1zM38 41h1v1h-1zM51 41h1v1h-1zM5 42h1v1h-1zM11 42h1v1h-1zM28 42h1v1h-1zM22 43h1v1h-1zM24 43h1v1h-1zM26 43h1v1h-1zM28 43h1v1h-1zM33 43h2v1h-2zM56 43h1v1h-1zM10 44h1v1h-1zM30 44h1v1h-1zM32 44h1v1h-1zM35 44h1v1h-1zM47 44h1v1h-1zM60 44h1v1h-1zM1 45h1v1h-1zM11 45h1v1h-1zM44 45h1v1h-1zM3 46h1v1h-1zM21 46h1v1h-1zM24 46h1v1h-1zM55 46h1v1h-1zM57 46h1v1h-1zM2 47h1v1h-1zM9 47h1v1h-1zM29 47h1v1h-1zM31 47h1v1h-1zM38 47h1v1h-1zM47 47h1v1h-1zM57 47h1v1h-1zM38 48h1v1h-1zM43 48h1v1h-1zM48 48h1v1h-1zM9 49h1v1h-1zM17 49h2v1h-2zM29 49h1v1h-1zM4 50h1v1h-1zM10 50h1v1h-1zM25 50h1v1h-1zM36 50h1v1h-1zM43 50h1v1h-1zM46 50h1v1h-1zM53 50h1v1h-1zM16 51h1v1h-1zM43 51h1v1h-1zM30 52h1v1h-1zM1 53h1v1h-1zM28 53h1v1h-1zM32 53h2v1h-2zM49 53h1v1h-1zM58 53h1v1h-1zM13 54h1v1h-1zM16 54h1v1h-1zM22 54h1v1h-1zM26 54h1v1h-1zM34 54h1v1h-1zM42 54h1v1h-1zM59 54h1v1h-1zM20 55h1v1h-1zM33 55h2v1h-2zM52 55h1v1h-1zM60 55h1v1h-1zM16 56h1v1h-1zM25 56h1v1h-1zM37 56h1v1h-1zM40 56h1v1h-1z"/>
<path fill="#fad3c5" d="M12 30h1v1h-1zM37 31h1v1h-1zM9 32h1v1h-1zM52 32h1v1h-1zM57 32h1v1h-1zM3 33h1v1h-1zM35 33h1v1h-1zM55 33h1v1h-1zM16 34h1v1h-1zM23 34h1v1h-1zM26 34h1v1h-1zM10 35h1v1h-1zM32 35h1v1h-1zM6 36h1v1h-1zM22 36h1v1h-1zM43 36h1v1h-1zM49 36h1v1h-1zM4 37h2v1h-2zM13 37h2v1h-2zM56 37h1v1h-1zM59 37h1v1h-1zM39 38h1v1h-1zM51 38h1v1h-1zM1 39h1v1h-1zM22 39h1v1h-1zM39 39h1v1h-1zM59 39h1v1h-1zM23 40h1v1h-1zM47 42h1v1h-1zM32 46h1v1h-1zM52 46h1v1h-1zM33 47h1v1h-1zM51 49h1v1h-1zM12 50h1v1h-1zM50 51h1v1h-1zM47 54h1v1h-1z"/>
<path fill="#fbe7d3" d="M13 30h1v1h-1zM28 30h1v1h-1zM30 30h1v1h-1zM37 30h1v1h-1zM3 32h1v1h-1zM55 32h1v1h-1zM46 33h1v1h-1zM22 34h1v1h-1zM48 34h1v1h-1zM8 37h1v1h-1zM7 38h1v1h-1zM40 38h1v1h-1zM6 39h1v1h-1zM9 39h1v1h-1zM38 39h1v1h-1zM55 39h1v1h-1zM58 39h1v1h-1zM9 40h1v1h-1zM42 40h1v1h-1zM55 40h1v1h-1zM59 40h1v1h-1zM0 41h1v1h-1zM2 41h1v1h-1zM4 41h1v1h-1zM10 41h1v1h-1zM15 41h1v1h-1zM56 41h1v1h-1zM1 42h1v1h-1zM3 42h1v1h-1zM13 42h1v1h-1zM21 42h1v1h-1zM58 42h1v1h-1zM1 43h1v1h-1zM3 43h1v1h-1zM8 43h1v1h-1zM20 43h1v1h-1zM44 43h1v1h-1zM58 43h1v1h-1zM3 44h1v1h-1zM5 44h1v1h-1zM31 44h1v1h-1zM46 44h1v1h-1zM48 44h1v1h-1zM56 44h1v1h-1zM7 45h1v1h-1zM9 45h1v1h-1zM48 45h1v1h-1zM59 45h2v1h-2zM12 46h1v1h-1zM27 46h1v1h-1zM31 46h1v1h-1zM46 46h1v1h-1zM56 46h1v1h-1zM10 47h1v1h-1zM13 47h1v1h-1zM16 47h1v1h-1zM24 47h1v1h-1zM30 47h1v1h-1zM43 47h1v1h-1zM2 48h1v1h-1zM33 48h1v1h-1zM59 48h1v1h-1zM0 49h1v1h-1zM7 49h1v1h-1zM44 49h1v1h-1zM48 49h1v1h-1zM60 49h1v1h-1zM1 50h1v1h-1zM13 50h1v1h-1zM30 50h1v1h-1zM38 50h1v1h-1zM48 50h2v1h-2zM13 51h1v1h-1zM36 51h1v1h-1zM53 51h1v1h-1zM57 51h1v1h-1zM1 52h1v1h-1zM34 52h1v1h-1zM10 53h1v1h-1zM18 53h1v1h-1zM35 53h1v1h-1zM40 53h1v1h-1zM55 53h2v1h-2zM60 53h1v1h-1zM15 54h1v1h-1zM21 54h1v1h-1zM33 54h1v1h-1zM43 54h1v1h-1zM5 55h2v1h-2zM11 55h1v1h-1zM16 55h1v1h-1zM18 55h1v1h-1zM30 55h1v1h-1zM37 55h2v1h-2zM41 55h3v1h-3zM0 56h1v1h-1zM5 56h1v1h-1zM30 56h2v1h-2zM36 56h1v1h-1zM41 56h1v1h-1zM48 56h1v1h-1zM51 56h1v1h-1z"/>
<path fill="#fae5d1" d="M14 30h1v1h-1zM11 31h1v1h-1zM27 31h1v1h-1zM39 31h1v1h-1zM54 31h1v1h-1zM14 32h1v1h-1zM16 32h1v1h-1zM50 32h1v1h-1zM21 33h1v1h-1zM48 33h1v1h-1zM18 34h1v1h-1zM49 34h1v1h-1zM10 36h1v1h-1zM32 38h1v1h-1zM10 39h1v1h-1zM12 39h1v1h-1zM14 39h1v1h-1zM24 39h1v1h-1zM30 39h1v1h-1zM56 39h1v1h-1zM5 40h1v1h-1zM30 40h1v1h-1zM48 40h1v1h-1zM57 40h1v1h-1zM31 41h1v1h-1zM54 41h1v1h-1zM44 42h1v1h-1zM54 42h1v1h-1zM4 43h1v1h-1zM21 43h1v1h-1zM35 43h1v1h-1zM46 43h1v1h-1zM11 44h1v1h-1zM36 44h1v1h-1zM54 44h1v1h-1zM27 45h1v1h-1zM54 45h1v1h-1zM2 46h1v1h-1zM6 46h1v1h-1zM11 46h1v1h-1zM13 46h1v1h-1zM30 46h1v1h-1zM58 46h1v1h-1zM3 47h1v1h-1zM8 47h1v1h-1zM34 47h1v1h-1zM51 47h1v1h-1zM0 48h1v1h-1zM7 48h1v1h-1zM35 48h1v1h-1zM54 48h1v1h-1zM3 49h1v1h-1zM11 49h1v1h-1zM15 49h2v1h-2zM20 49h1v1h-1zM28 49h1v1h-1zM47 49h1v1h-1zM55 49h1v1h-1zM27 50h1v1h-1zM58 50h1v1h-1zM2 51h1v1h-1zM8 51h1v1h-1zM10 51h1v1h-1zM17 51h1v1h-1zM33 51h1v1h-1zM56 51h1v1h-1zM18 52h1v1h-1zM25 52h1v1h-1zM37 52h1v1h-1zM43 52h1v1h-1zM45 52h2v1h-2zM60 52h1v1h-1zM4 53h1v1h-1zM6 53h1v1h-1zM15 53h1v1h-1zM20 53h1v1h-1zM39 53h1v1h-1zM3 54h1v1h-1zM10 54h1v1h-1zM23 54h1v1h-1zM27 54h2v1h-2zM36 54h1v1h-1zM53 54h1v1h-1zM48 55h1v1h-1zM4 56h1v1h-1zM6 56h1v1h-1zM10 56h3v1h-3zM14 56h1v1h-1zM22 56h1v1h-1zM26 56h1v1h-1zM32 56h2v1h-2zM45 56h1v1h-1z"/>
<path fill="#f4c0bc" d="M32 30h1v1h-1zM29 31h1v1h-1zM13 32h1v1h-1zM0 33h1v1h-1zM27 33h1v1h-1zM32 33h1v1h-1zM13 34h1v1h-1zM15 34h1v1h-1zM27 34h1v1h-1zM57 34h1v1h-1zM12 35h1v1h-1zM15 35h1v1h-1zM19 36h1v1h-1zM21 38h1v1h-1zM18 40h1v1h-1zM22 41h1v1h-1z"/>
<path fill="#f9e1cd" d="M33 30h1v1h-1zM38 30h1v1h-1zM28 31h1v1h-1zM40 31h1v1h-1zM18 33h1v1h-1zM25 33h1v1h-1zM39 33h1v1h-1zM57 33h1v1h-1zM21 34h1v1h-1zM30 34h1v1h-1zM41 34h1v1h-1zM25 36h1v1h-1zM33 36h1v1h-1zM32 37h2v1h-2zM5 38h1v1h-1zM15 38h1v1h-1zM30 38h1v1h-1zM37 38h1v1h-1zM56 38h2v1h-2zM42 39h1v1h-1zM60 39h1v1h-1zM0 40h2v1h-2zM8 40h1v1h-1zM15 40h1v1h-1zM19 40h1v1h-1zM13 41h1v1h-1zM20 41h1v1h-1zM40 41h1v1h-1zM44 41h1v1h-1zM4 42h1v1h-1zM10 42h1v1h-1zM15 42h1v1h-1zM42 42h1v1h-1zM12 43h1v1h-1zM14 43h1v1h-1zM4 44h1v1h-1zM7 44h1v1h-1zM15 44h1v1h-1zM51 44h1v1h-1zM55 44h1v1h-1zM57 44h1v1h-1zM6 45h1v1h-1zM36 45h1v1h-1zM54 46h1v1h-1zM49 47h1v1h-1zM52 47h1v1h-1zM13 48h1v1h-1zM26 48h1v1h-1zM0 50h1v1h-1zM5 50h1v1h-1zM35 50h1v1h-1zM3 51h1v1h-1zM6 51h1v1h-1zM9 51h1v1h-1zM12 51h1v1h-1zM47 51h1v1h-1zM49 51h1v1h-1zM54 51h1v1h-1zM0 52h1v1h-1zM4 52h1v1h-1zM6 52h1v1h-1zM17 52h1v1h-1zM24 52h1v1h-1zM28 52h1v1h-1zM49 52h2v1h-2zM53 52h1v1h-1zM2 53h1v1h-1zM13 53h1v1h-1zM17 53h1v1h-1zM22 53h2v1h-2zM47 53h1v1h-1zM53 53h1v1h-1zM2 54h1v1h-1zM4 54h3v1h-3zM8 54h1v1h-1zM11 54h1v1h-1zM35 54h1v1h-1zM37 54h1v1h-1zM49 54h1v1h-1zM15 55h1v1h-1zM28 55h2v1h-2zM20 56h2v1h-2zM52 56h1v1h-1zM57 56h1v1h-1zM60 56h1v1h-1z"/>
<path fill="#f2bab8" d="M34 30h1v1h-1zM4 33h1v1h-1zM34 33h1v1h-1zM8 34h1v1h-1zM28 34h1v1h-1zM32 34h1v1h-1zM56 34h1v1h-1zM59 34h1v1h-1zM9 36h1v1h-1zM12 36h1v1h-1zM24 36h1v1h-1zM52 36h1v1h-1zM42 37h1v1h-1zM49 37h1v1h-1zM52 37h1v1h-1zM20 38h1v1h-1zM45 38h1v1h-1zM17 39h1v1h-1zM21 39h1v1h-1zM22 40h1v1h-1z"/>
<path fill="#f8c9c1" d="M35 30h1v1h-1zM11 32h1v1h-1zM15 32h1v1h-1zM17 33h1v1h-1zM33 33h1v1h-1zM38 33h1v1h-1zM56 33h1v1h-1zM4 34h1v1h-1zM55 34h1v1h-1zM2 36h1v1h-1zM4 36h1v1h-1zM11 36h1v1h-1zM58 36h1v1h-1zM60 36h1v1h-1zM40 37h1v1h-1zM54 37h1v1h-1zM57 37h1v1h-1zM24 38h2v1h-2zM50 38h1v1h-1zM45 39h1v1h-1zM25 40h1v1h-1zM41 40h1v1h-1z"/>
<path fill="#fae9d6" d="M36 30h1v1h-1zM8 31h1v1h-1zM17 31h1v1h-1zM26 31h1v1h-1zM57 31h1v1h-1zM17 32h1v1h-1zM21 32h1v1h-1zM26 32h1v1h-1zM44 32h1v1h-1zM48 32h1v1h-1zM51 32h1v1h-1zM3 34h1v1h-1zM36 37h1v1h-1zM11 39h1v1h-1zM32 39h1v1h-1zM10 40h1v1h-1zM27 40h1v1h-1zM33 40h1v1h-1zM36 40h1v1h-1zM1 41h1v1h-1zM23 41h1v1h-1zM36 41h1v1h-1zM39 41h1v1h-1zM6 42h1v1h-1zM31 42h1v1h-1zM36 42h1v1h-1zM39 42h1v1h-1zM10 43h1v1h-1zM17 43h1v1h-1zM30 43h1v1h-1zM54 43h1v1h-1zM8 44h1v1h-1zM17 44h1v1h-1zM21 44h1v1h-1zM33 44h1v1h-1zM45 44h1v1h-1zM4 45h1v1h-1zM13 45h1v1h-1zM31 45h1v1h-1zM34 45h2v1h-2zM49 45h1v1h-1zM51 45h1v1h-1zM10 46h1v1h-1zM14 46h2v1h-2zM50 46h1v1h-1zM26 47h2v1h-2zM45 47h1v1h-1zM53 47h1v1h-1zM56 47h1v1h-1zM5 48h1v1h-1zM29 48h3v1h-3zM45 48h1v1h-1zM27 49h1v1h-1zM52 49h1v1h-1zM6 50h1v1h-1zM9 50h1v1h-1zM16 50h1v1h-1zM45 50h1v1h-1zM54 50h1v1h-1zM0 51h1v1h-1zM14 51h1v1h-1zM55 51h1v1h-1zM16 52h1v1h-1zM33 52h1v1h-1zM34 53h1v1h-1zM1 54h1v1h-1zM30 54h1v1h-1zM39 54h1v1h-1zM46 54h1v1h-1zM0 55h1v1h-1zM3 55h1v1h-1zM7 55h1v1h-1zM9 55h1v1h-1zM24 55h2v1h-2zM2 56h1v1h-1z"/>
<path fill="#fae3cf" d="M0 31h1v1h-1zM36 31h1v1h-1zM2 32h1v1h-1zM49 33h1v1h-1zM51 33h1v1h-1zM44 34h1v1h-1zM46 34h1v1h-1zM51 35h1v1h-1zM44 36h1v1h-1zM54 36h1v1h-1zM0 37h1v1h-1zM27 37h1v1h-1zM6 38h1v1h-1zM31 38h1v1h-1zM5 39h1v1h-1zM44 39h1v1h-1zM47 39h1v1h-1zM40 40h1v1h-1zM47 40h1v1h-1zM60 40h1v1h-1zM8 41h1v1h-1zM21 41h1v1h-1zM24 41h1v1h-1zM26 41h1v1h-1zM41 41h1v1h-1zM29 42h1v1h-1zM35 42h1v1h-1zM43 42h1v1h-1zM45 42h1v1h-1zM59 42h1v1h-1zM47 43h1v1h-1zM51 43h1v1h-1zM2 44h1v1h-1zM9 44h1v1h-1zM19 44h1v1h-1zM52 44h1v1h-1zM59 44h1v1h-1zM2 45h1v1h-1zM10 45h1v1h-1zM21 45h1v1h-1zM46 45h1v1h-1zM56 45h2v1h-2zM53 46h1v1h-1zM0 47h1v1h-1zM46 47h1v1h-1zM50 47h1v1h-1zM3 48h1v1h-1zM16 48h1v1h-1zM46 48h1v1h-1zM55 48h1v1h-1zM12 49h1v1h-1zM3 50h1v1h-1zM15 50h1v1h-1zM26 50h1v1h-1zM31 50h1v1h-1zM33 50h1v1h-1zM47 50h1v1h-1zM19 51h1v1h-1zM38 51h1v1h-1zM52 51h1v1h-1zM14 52h1v1h-1zM19 52h2v1h-2zM22 52h1v1h-1zM52 52h1v1h-1zM0 53h1v1h-1zM8 53h1v1h-1zM27 53h1v1h-1zM50 53h1v1h-1zM12 54h1v1h-1zM45 54h1v1h-1zM55 54h1v1h-1zM2 55h1v1h-1zM27 55h1v1h-1zM46 55h1v1h-1zM1 56h1v1h-1zM18 56h1v1h-1zM23 56h1v1h-1zM27 56h1v1h-1zM55 56h1v1h-1z"/>
<path fill="#f3beba" d="M12 31h1v1h-1zM32 31h1v1h-1zM56 32h1v1h-1zM59 32h1v1h-1zM2 33h1v1h-1zM10 33h1v1h-1zM13 33h1v1h-1zM54 33h1v1h-1zM6 34h1v1h-1zM17 35h1v1h-1zM48 35h1v1h-1zM21 36h1v1h-1zM51 36h1v1h-1zM20 37h1v1h-1zM45 40h1v1h-1z"/>
<path fill="#f9d8c7" d="M14 31h1v1h-1zM10 32h1v1h-1zM26 33h1v1h-1zM41 33h1v1h-1zM58 33h1v1h-1zM54 34h1v1h-1zM16 35h1v1h-1zM29 35h1v1h-1zM55 35h1v1h-1zM29 36h1v1h-1zM45 36h1v1h-1zM55 36h1v1h-1zM10 37h1v1h-1zM23 37h1v1h-1zM39 37h1v1h-1zM44 37h1v1h-1zM3 39h2v1h-2zM23 39h1v1h-1zM27 39h1v1h-1zM52 39h1v1h-1zM6 40h1v1h-1zM24 40h1v1h-1zM7 42h1v1h-1zM46 42h1v1h-1zM31 43h1v1h-1zM8 45h1v1h-1zM4 47h1v1h-1zM33 49h1v1h-1zM37 51h1v1h-1zM12 52h1v1h-1zM11 53h1v1h-1zM19 53h1v1h-1zM43 53h1v1h-1zM10 55h1v1h-1zM35 55h1v1h-1z"/>
<path fill="#f6c5be" d="M33 31h1v1h-1zM38 31h1v1h-1zM53 31h1v1h-1zM38 32h1v1h-1zM14 33h1v1h-1zM29 33h1v1h-1zM5 34h1v1h-1zM9 34h1v1h-1zM17 34h1v1h-1zM38 34h1v1h-1zM50 34h1v1h-1zM8 35h2v1h-2zM11 35h1v1h-1zM13 35h1v1h-1zM19 35h1v1h-1zM37 36h1v1h-1zM25 37h2v1h-2zM29 37h1v1h-1zM1 38h1v1h-1zM42 38h1v1h-1zM43 39h1v1h-1zM49 39h1v1h-1zM17 40h1v1h-1z"/>
<path fill="#e49ca8" d="M34 31h1v1h-1zM1 36h1v1h-1zM1 37h1v1h-1zM19 37h1v1h-1zM24 37h1v1h-1zM46 37h1v1h-1z"/>
<path fill="#f9cec3" d="M35 31h1v1h-1zM0 32h1v1h-1zM27 32h1v1h-1zM15 33h2v1h-2zM50 33h1v1h-1zM39 34h1v1h-1zM52 34h1v1h-1zM9 37h1v1h-1zM31 37h1v1h-1zM41 38h1v1h-1zM20 40h1v1h-1zM56 40h1v1h-1zM42 41h1v1h-1zM45 41h1v1h-1zM47 41h1v1h-1zM32 47h1v1h-1z"/>
<path fill="#fad0c4" d="M8 32h1v1h-1zM30 32h1v1h-1zM35 32h1v1h-1zM31 33h1v1h-1zM40 33h1v1h-1zM1 34h1v1h-1zM35 34h1v1h-1zM37 34h1v1h-1zM18 35h1v1h-1zM30 35h1v1h-1zM33 35h1v1h-1zM35 35h1v1h-1zM8 36h1v1h-1zM27 36h1v1h-1zM32 36h1v1h-1zM40 36h1v1h-1zM42 36h1v1h-1zM59 36h1v1h-1zM3 37h1v1h-1zM7 37h1v1h-1zM12 37h1v1h-1zM43 38h1v1h-1zM53 38h1v1h-1zM58 38h1v1h-1zM13 39h1v1h-1zM20 39h1v1h-1zM6 48h1v1h-1zM3 52h1v1h-1zM4 55h1v1h-1zM50 56h1v1h-1z"/>
<path fill="#edabae" d="M12 32h1v1h-1zM33 32h1v1h-1zM53 33h1v1h-1zM12 34h1v1h-1zM14 34h1v1h-1zM3 35h1v1h-1zM5 35h1v1h-1zM18 36h1v1h-1zM23 38h1v1h-1zM43 40h1v1h-1z"/>
<path fill="#f5c3bd" d="M29 32h1v1h-1zM36 32h1v1h-1zM53 32h1v1h-1zM6 33h1v1h-1zM30 33h1v1h-1zM52 33h1v1h-1zM25 34h1v1h-1zM36 34h1v1h-1zM40 34h1v1h-1zM58 34h1v1h-1zM26 35h1v1h-1zM53 36h1v1h-1zM2 37h1v1h-1zM43 37h1v1h-1z"/>
<path fill="#efb1b2" d="M32 32h1v1h-1zM37 33h1v1h-1zM50 35h1v1h-1zM46 36h1v1h-1zM17 38h1v1h-1zM18 39h1v1h-1zM43 41h1v1h-1z"/>
<path fill="#e59ea9" d="M34 32h1v1h-1zM18 37h1v1h-1z"/>
<path fill="#f1b7b6" d="M37 32h1v1h-1zM54 32h1v1h-1zM59 33h1v1h-1zM29 34h1v1h-1zM31 34h1v1h-1zM34 34h1v1h-1zM6 35h1v1h-1zM14 35h1v1h-1zM20 35h1v1h-1zM52 35h2v1h-2zM60 35h1v1h-1zM20 36h1v1h-1z"/>
<path fill="#f7c7c0" d="M40 32h1v1h-1zM5 33h1v1h-1zM11 34h1v1h-1zM47 34h1v1h-1zM23 35h2v1h-2zM42 35h1v1h-1zM57 35h1v1h-1zM3 36h1v1h-1zM14 36h1v1h-1zM57 36h1v1h-1zM11 37h1v1h-1zM53 37h1v1h-1zM0 38h1v1h-1z"/>
<path fill="#f8ddc9" d="M1 33h1v1h-1zM33 34h1v1h-1zM41 35h1v1h-1zM54 35h1v1h-1zM56 35h1v1h-1zM34 36h1v1h-1zM30 37h1v1h-1zM55 37h1v1h-1zM60 37h1v1h-1zM9 38h1v1h-1zM13 38h1v1h-1zM26 38h1v1h-1zM44 38h1v1h-1zM54 38h1v1h-1zM60 38h1v1h-1zM41 39h1v1h-1zM50 39h1v1h-1zM4 40h1v1h-1zM26 40h1v1h-1zM49 40h1v1h-1zM46 41h1v1h-1zM2 42h1v1h-1zM8 42h1v1h-1zM20 42h1v1h-1zM60 42h1v1h-1zM11 43h1v1h-1zM48 43h1v1h-1zM55 43h1v1h-1zM57 43h1v1h-1zM59 43h1v1h-1zM52 45h1v1h-1zM44 46h1v1h-1zM1 47h1v1h-1zM6 47h1v1h-1zM10 48h1v1h-1zM12 48h1v1h-1zM2 49h1v1h-1zM6 49h1v1h-1zM32 49h1v1h-1zM35 49h1v1h-1zM32 50h1v1h-1zM5 52h1v1h-1zM31 52h1v1h-1zM51 52h1v1h-1zM0 54h1v1h-1zM14 54h1v1h-1zM44 54h1v1h-1zM49 55h1v1h-1zM15 56h1v1h-1zM35 56h1v1h-1zM56 56h1v1h-1z"/>
<path fill="#f8ccc2" d="M8 33h1v1h-1zM11 33h1v1h-1zM28 33h1v1h-1zM7 34h1v1h-1zM24 34h1v1h-1zM34 35h1v1h-1zM37 35h1v1h-1zM43 35h1v1h-1zM7 36h1v1h-1zM13 36h1v1h-1zM30 36h1v1h-1zM50 36h1v1h-1zM56 36h1v1h-1zM16 37h1v1h-1zM22 37h1v1h-1zM47 37h1v1h-1zM4 38h1v1h-1zM16 38h1v1h-1zM25 39h1v1h-1zM48 39h1v1h-1zM48 42h1v1h-1zM58 49h1v1h-1zM31 53h1v1h-1z"/>
<path fill="#eba6ab" d="M9 33h1v1h-1zM0 34h1v1h-1zM47 35h1v1h-1zM48 37h1v1h-1zM51 37h1v1h-1zM48 38h1v1h-1zM46 40h1v1h-1z"/>
<path fill="#eca8ac" d="M12 33h1v1h-1zM2 35h1v1h-1zM7 35h1v1h-1zM40 35h1v1h-1zM17 37h1v1h-1z"/>
<path fill="#e8a2aa" d="M36 33h1v1h-1zM26 36h1v1h-1zM21 37h1v1h-1zM46 38h1v1h-1z"/>
<path fill="#f9d5c6" d="M43 33h1v1h-1zM19 34h2v1h-2zM4 35h1v1h-1zM21 35h1v1h-1zM25 35h1v1h-1zM36 35h1v1h-1zM44 35h1v1h-1zM46 35h1v1h-1zM15 37h1v1h-1zM58 37h1v1h-1zM2 38h2v1h-2zM29 38h1v1h-1zM47 38h1v1h-1zM52 38h1v1h-1zM15 39h1v1h-1zM44 40h1v1h-1zM6 41h1v1h-1zM25 41h1v1h-1zM48 41h1v1h-1zM12 42h1v1h-1zM7 43h1v1h-1zM14 44h1v1h-1zM3 45h1v1h-1zM1 48h1v1h-1zM8 49h1v1h-1zM56 49h1v1h-1zM8 50h1v1h-1zM50 50h1v1h-1zM56 50h1v1h-1zM31 51h1v1h-1zM54 52h1v1h-1zM3 53h1v1h-1zM9 53h1v1h-1zM12 53h1v1h-1zM24 53h1v1h-1zM19 54h1v1h-1zM38 54h1v1h-1zM50 55h1v1h-1zM57 55h1v1h-1z"/>
<path fill="#f0b4b4" d="M60 33h1v1h-1zM60 34h1v1h-1zM39 35h1v1h-1zM59 35h1v1h-1zM0 36h1v1h-1zM15 36h1v1h-1zM41 36h1v1h-1zM19 39h1v1h-1z"/>
<path fill="#eeaeb0" d="M2 34h1v1h-1zM10 34h1v1h-1zM53 34h1v1h-1zM1 35h1v1h-1zM38 36h2v1h-2zM18 38h1v1h-1z"/>
<path fill="#e099a4" d="M0 35h1v1h-1zM48 36h1v1h-1z"/>
<path fill="#e6a0a9" d="M27 35h1v1h-1zM47 36h1v1h-1z"/>
<path fill="#da959e" d="M38 35h1v1h-1z"/>
<path fill="#e9a4ab" d="M58 35h1v1h-1zM5 36h1v1h-1zM41 37h1v1h-1zM45 37h1v1h-1z"/>
<path fill="#dc97a0" d="M17 36h1v1h-1z"/>
<path fill="#ffffff" d="M19 38h1v1h-1zM46 39h1v1h-1z"/>
<path fill="#e29aa6" d="M49 38h1v1h-1z"/>
</g></g>
<clipPath id="c20"><rect x="90.20" y="1187.00" width="396.80" height="396.60"/></clipPath>
<g clip-path="url(#c20)"><g transform="translate(84.587 1166.309) scale(6.61333 9.19750)">
<rect x="0" y="0" width="61" height="47" fill="#c5c4e4"/>
<path fill="#dedef1" d="M2 0h2v1h-2zM5 0h1v1h-1zM18 0h1v1h-1zM22 0h1v1h-1zM0 1h1v1h-1zM18 1h1v1h-1zM21 1h1v1h-1zM33 1h1v1h-1zM36 1h2v1h-2zM53 1h2v1h-2zM16 2h2v1h-2zM20 2h1v1h-1zM37 2h1v1h-1zM52 2h1v1h-1zM11 3h1v1h-1zM23 3h1v1h-1zM35 3h1v1h-1zM37 3h2v1h-2zM52 3h2v1h-2zM57 3h1v1h-1zM6 4h1v1h-1zM21 4h1v1h-1zM28 4h1v1h-1zM38 4h1v1h-1zM18 5h1v1h-1zM26 5h1v1h-1zM28 5h1v1h-1zM39 5h1v1h-1zM19 6h1v1h-1zM36 6h1v1h-1zM55 6h1v1h-1zM0 7h1v1h-1zM19 7h1v1h-1zM24 7h1v1h-1zM34 7h1v1h-1zM55 7h1v1h-1zM54 8h1v1h-1zM42 9h1v1h-1zM19 10h1v1h-1zM30 29h1v1h-1zM30 30h1v1h-1zM32 30h1v1h-1zM0 31h2v1h-2zM11 31h1v1h-1zM26 31h1v1h-1zM32 31h1v1h-1zM11 32h1v1h-1zM25 32h2v1h-2zM28 32h2v1h-2zM32 32h1v1h-1zM60 32h1v1h-1zM6 33h1v1h-1zM25 33h1v1h-1zM27 33h1v1h-1zM33 33h1v1h-1zM22 34h1v1h-1zM27 34h1v1h-1zM33 34h1v1h-1zM51 34h1v1h-1zM4 35h1v1h-1zM25 35h3v1h-3zM30 35h1v1h-1zM33 35h1v1h-1zM39 35h1v1h-1zM51 35h1v1h-1zM10 36h1v1h-1zM12 36h1v1h-1zM14 36h1v1h-1zM20 36h1v1h-1zM22 36h1v1h-1zM25 36h1v1h-1zM37 36h1v1h-1zM52 36h1v1h-1zM55 36h1v1h-1zM57 36h1v1h-1zM1 37h1v1h-1zM3 37h1v1h-1zM20 37h1v1h-1zM24 37h2v1h-2zM29 37h1v1h-1zM33 37h2v1h-2zM36 37h1v1h-1zM38 37h1v1h-1zM46 37h1v1h-1zM52 37h1v1h-1zM0 38h1v1h-1zM4 38h1v1h-1zM7 38h1v1h-1zM14 38h1v1h-1zM28 38h1v1h-1zM34 38h1v1h-1zM36 38h1v1h-1zM44 38h6v1h-6zM51 38h1v1h-1zM55 38h1v1h-1zM57 38h1v1h-1zM3 39h1v1h-1zM5 39h2v1h-2zM22 39h1v1h-1zM26 39h1v1h-1zM38 39h1v1h-1zM45 39h1v1h-1zM47 39h2v1h-2zM55 39h1v1h-1zM3 40h2v1h-2zM23 40h1v1h-1zM36 40h1v1h-1zM40 40h1v1h-1zM52 40h1v1h-1zM5 41h1v1h-1zM17 41h1v1h-1zM24 41h1v1h-1zM27 41h1v1h-1zM36 41h1v1h-1zM40 41h1v1h-1zM50 41h1v1h-1zM57 41h1v1h-1zM7 42h1v1h-1zM12 42h1v1h-1zM22 42h1v1h-1zM25 42h1v1h-1zM27 42h1v1h-1zM34 42h2v1h-2zM37 42h1v1h-1zM53 42h1v1h-1zM57 42h1v1h-1zM7 43h1v1h-1zM9 43h1v1h-1zM25 43h1v1h-1zM32 43h1v1h-1zM38 43h1v1h-1zM41 43h1v1h-1zM43 43h1v1h-1zM6 44h1v1h-1zM17 44h1v1h-1zM20 44h1v1h-1zM22 44h1v1h-1zM24 44h2v1h-2zM30 44h1v1h-1zM33 44h1v1h-1zM38 44h1v1h-1zM43 44h1v1h-1zM58 44h1v1h-1zM2 45h1v1h-1zM19 45h1v1h-1zM22 45h1v1h-1zM24 45h1v1h-1zM27 45h1v1h-1zM33 45h1v1h-1zM37 45h1v1h-1zM43 45h1v1h-1zM53 45h1v1h-1zM59 45h1v1h-1zM2 46h1v1h-1zM24 46h3v1h-3zM28 46h1v1h-1zM39 46h1v1h-1zM41 46h1v1h-1zM44 46h1v1h-1zM56 46h1v1h-1zM60 46h1v1h-1z"/>
<path fill="#d7d7ed" d="M4 0h1v1h-1zM21 0h1v1h-1zM25 0h2v1h-2zM35 0h1v1h-1zM38 0h1v1h-1zM42 0h4v1h-4zM2 1h1v1h-1zM9 1h1v1h-1zM14 1h1v1h-1zM16 1h1v1h-1zM23 1h1v1h-1zM26 1h1v1h-1zM35 1h1v1h-1zM40 1h1v1h-1zM44 1h2v1h-2zM47 1h2v1h-2zM0 2h1v1h-1zM11 2h1v1h-1zM23 2h1v1h-1zM40 2h1v1h-1zM47 2h1v1h-1zM53 2h1v1h-1zM57 2h1v1h-1zM0 3h1v1h-1zM16 3h1v1h-1zM54 3h1v1h-1zM1 4h1v1h-1zM5 4h1v1h-1zM9 4h1v1h-1zM12 4h1v1h-1zM18 4h1v1h-1zM24 4h1v1h-1zM29 4h1v1h-1zM45 4h2v1h-2zM48 4h1v1h-1zM53 4h1v1h-1zM55 4h1v1h-1zM58 4h1v1h-1zM0 5h1v1h-1zM3 5h1v1h-1zM5 5h1v1h-1zM9 5h1v1h-1zM14 5h1v1h-1zM24 5h1v1h-1zM27 5h1v1h-1zM32 5h1v1h-1zM45 5h1v1h-1zM48 5h1v1h-1zM54 5h1v1h-1zM58 5h1v1h-1zM60 5h1v1h-1zM9 6h1v1h-1zM12 6h1v1h-1zM14 6h1v1h-1zM18 6h1v1h-1zM27 6h1v1h-1zM39 6h1v1h-1zM60 6h1v1h-1zM15 7h1v1h-1zM48 7h1v1h-1zM54 7h1v1h-1zM24 8h1v1h-1zM43 8h1v1h-1zM46 8h1v1h-1zM17 9h1v1h-1zM4 10h1v1h-1zM16 10h1v1h-1zM46 10h1v1h-1zM15 11h1v1h-1zM19 11h1v1h-1zM55 11h1v1h-1zM15 12h1v1h-1zM14 14h1v1h-1zM22 14h1v1h-1zM30 28h1v1h-1zM27 30h1v1h-1zM24 31h1v1h-1zM34 31h1v1h-1zM60 31h1v1h-1zM1 32h1v1h-1zM34 32h1v1h-1zM31 33h1v1h-1zM34 33h1v1h-1zM55 33h1v1h-1zM6 34h1v1h-1zM28 34h1v1h-1zM30 34h1v1h-1zM34 34h1v1h-1zM49 34h1v1h-1zM3 35h1v1h-1zM9 35h1v1h-1zM24 35h1v1h-1zM35 35h1v1h-1zM38 35h1v1h-1zM52 35h1v1h-1zM55 35h1v1h-1zM3 36h1v1h-1zM5 36h1v1h-1zM9 36h1v1h-1zM21 36h1v1h-1zM27 36h1v1h-1zM31 36h1v1h-1zM36 36h1v1h-1zM0 37h1v1h-1zM14 37h1v1h-1zM22 37h1v1h-1zM53 37h1v1h-1zM1 38h1v1h-1zM5 38h2v1h-2zM12 38h1v1h-1zM15 38h1v1h-1zM20 38h3v1h-3zM24 38h1v1h-1zM26 38h1v1h-1zM37 38h2v1h-2zM50 38h1v1h-1zM53 38h2v1h-2zM56 38h1v1h-1zM0 39h1v1h-1zM9 39h1v1h-1zM19 39h1v1h-1zM40 39h1v1h-1zM51 39h2v1h-2zM54 39h1v1h-1zM56 39h1v1h-1zM59 39h2v1h-2zM2 40h1v1h-1zM8 40h1v1h-1zM18 40h2v1h-2zM22 40h1v1h-1zM31 40h1v1h-1zM38 40h1v1h-1zM45 40h1v1h-1zM47 40h3v1h-3zM57 40h3v1h-3zM12 41h1v1h-1zM16 41h1v1h-1zM20 41h4v1h-4zM37 41h1v1h-1zM47 41h1v1h-1zM49 41h1v1h-1zM51 41h3v1h-3zM56 41h1v1h-1zM58 41h1v1h-1zM5 42h1v1h-1zM9 42h1v1h-1zM11 42h1v1h-1zM13 42h1v1h-1zM21 42h1v1h-1zM26 42h1v1h-1zM36 42h1v1h-1zM39 42h1v1h-1zM41 42h1v1h-1zM45 42h1v1h-1zM47 42h1v1h-1zM54 42h2v1h-2zM0 43h1v1h-1zM2 43h1v1h-1zM6 43h1v1h-1zM11 43h1v1h-1zM13 43h1v1h-1zM19 43h1v1h-1zM21 43h1v1h-1zM23 43h1v1h-1zM26 43h1v1h-1zM34 43h1v1h-1zM39 43h1v1h-1zM49 43h1v1h-1zM58 43h1v1h-1zM2 44h2v1h-2zM5 44h1v1h-1zM7 44h2v1h-2zM16 44h1v1h-1zM28 44h1v1h-1zM36 44h1v1h-1zM41 44h1v1h-1zM44 44h1v1h-1zM50 44h1v1h-1zM8 45h1v1h-1zM11 45h1v1h-1zM13 45h1v1h-1zM16 45h1v1h-1zM20 45h1v1h-1zM36 45h1v1h-1zM42 45h1v1h-1zM45 45h1v1h-1zM48 45h1v1h-1zM58 45h1v1h-1zM0 46h1v1h-1zM7 46h3v1h-3zM11 46h1v1h-1zM13 46h1v1h-1zM20 46h1v1h-1zM38 46h1v1h-1zM43 46h1v1h-1zM49 46h1v1h-1zM51 46h1v1h-1zM58 46h1v1h-1z"/>
<path fill="#b1add8" d="M6 0h2v1h-2zM17 0h1v1h-1zM28 0h2v1h-2zM46 0h1v1h-1zM58 0h1v1h-1zM4 1h1v1h-1zM8 1h1v1h-1zM12 1h1v1h-1zM28 1h1v1h-1zM41 1h1v1h-1zM50 1h1v1h-1zM58 1h2v1h-2zM10 2h1v1h-1zM15 2h1v1h-1zM60 2h1v1h-1zM4 3h1v1h-1zM9 3h1v1h-1zM19 3h1v1h-1zM27 3h1v1h-1zM32 3h1v1h-1zM34 3h1v1h-1zM41 3h1v1h-1zM59 3h1v1h-1zM4 4h1v1h-1zM14 4h1v1h-1zM17 4h1v1h-1zM20 4h1v1h-1zM30 4h1v1h-1zM49 4h1v1h-1zM51 4h1v1h-1zM16 5h1v1h-1zM25 5h1v1h-1zM31 5h1v1h-1zM44 5h1v1h-1zM50 5h2v1h-2zM57 5h1v1h-1zM59 5h1v1h-1zM28 6h1v1h-1zM35 6h1v1h-1zM37 6h1v1h-1zM3 7h2v1h-2zM6 7h1v1h-1zM22 7h1v1h-1zM45 7h1v1h-1zM8 8h1v1h-1zM18 8h1v1h-1zM28 8h1v1h-1zM44 8h1v1h-1zM50 8h1v1h-1zM57 8h2v1h-2zM0 9h2v1h-2zM4 9h1v1h-1zM16 9h1v1h-1zM23 9h1v1h-1zM36 9h1v1h-1zM41 9h1v1h-1zM43 9h1v1h-1zM47 9h1v1h-1zM49 9h1v1h-1zM58 9h1v1h-1zM60 9h1v1h-1zM2 10h1v1h-1zM9 10h2v1h-2zM12 10h1v1h-1zM22 10h1v1h-1zM24 10h2v1h-2zM28 10h2v1h-2zM35 10h1v1h-1zM37 10h1v1h-1zM40 10h1v1h-1zM44 10h1v1h-1zM47 10h1v1h-1zM50 10h1v1h-1zM9 11h1v1h-1zM24 11h1v1h-1zM35 11h2v1h-2zM38 11h2v1h-2zM41 11h1v1h-1zM49 11h1v1h-1zM54 11h1v1h-1zM56 11h1v1h-1zM4 12h1v1h-1zM13 12h1v1h-1zM16 12h3v1h-3zM34 12h1v1h-1zM36 12h1v1h-1zM41 12h1v1h-1zM45 12h1v1h-1zM54 12h1v1h-1zM58 12h1v1h-1zM60 12h1v1h-1zM15 13h1v1h-1zM17 13h1v1h-1zM23 13h1v1h-1zM25 13h1v1h-1zM17 14h1v1h-1zM21 14h1v1h-1zM38 14h2v1h-2zM45 14h1v1h-1zM44 15h1v1h-1zM18 16h1v1h-1zM20 16h1v1h-1zM32 27h1v1h-1zM2 30h1v1h-1zM10 30h1v1h-1zM31 30h1v1h-1zM35 30h1v1h-1zM52 30h1v1h-1zM6 31h1v1h-1zM10 31h1v1h-1zM35 31h1v1h-1zM47 31h4v1h-4zM52 31h2v1h-2zM2 32h1v1h-1zM37 32h1v1h-1zM47 32h1v1h-1zM50 32h1v1h-1zM0 33h1v1h-1zM2 33h1v1h-1zM11 33h2v1h-2zM20 33h1v1h-1zM38 33h1v1h-1zM44 33h1v1h-1zM48 33h1v1h-1zM50 33h2v1h-2zM54 33h1v1h-1zM57 33h1v1h-1zM59 33h1v1h-1zM0 34h1v1h-1zM8 34h1v1h-1zM10 34h1v1h-1zM14 34h2v1h-2zM37 34h1v1h-1zM39 34h1v1h-1zM44 34h1v1h-1zM50 34h1v1h-1zM52 34h1v1h-1zM57 34h1v1h-1zM60 34h1v1h-1zM16 35h1v1h-1zM41 35h1v1h-1zM45 35h1v1h-1zM48 35h1v1h-1zM16 36h2v1h-2zM45 36h2v1h-2zM11 37h1v1h-1zM13 37h1v1h-1zM42 37h1v1h-1zM59 37h1v1h-1zM2 38h1v1h-1zM13 38h1v1h-1zM17 38h1v1h-1zM41 38h1v1h-1zM58 38h1v1h-1zM1 40h1v1h-1zM11 40h1v1h-1zM13 40h2v1h-2zM54 40h1v1h-1zM14 41h1v1h-1zM60 41h1v1h-1zM2 42h1v1h-1zM14 42h1v1h-1zM59 42h1v1h-1zM14 43h1v1h-1zM59 43h1v1h-1zM18 45h1v1h-1zM54 45h1v1h-1zM57 46h1v1h-1z"/>
<path fill="#bbb8de" d="M8 0h1v1h-1zM10 0h1v1h-1zM12 0h1v1h-1zM16 0h1v1h-1zM20 0h1v1h-1zM30 0h1v1h-1zM40 0h1v1h-1zM50 0h2v1h-2zM56 0h1v1h-1zM5 1h2v1h-2zM29 1h1v1h-1zM39 1h1v1h-1zM46 1h1v1h-1zM2 2h1v1h-1zM7 2h1v1h-1zM12 2h2v1h-2zM18 2h2v1h-2zM22 2h1v1h-1zM24 2h1v1h-1zM29 2h2v1h-2zM32 2h1v1h-1zM34 2h1v1h-1zM46 2h1v1h-1zM58 2h1v1h-1zM7 3h1v1h-1zM13 3h2v1h-2zM31 3h1v1h-1zM45 3h1v1h-1zM48 3h1v1h-1zM7 4h1v1h-1zM10 4h1v1h-1zM32 4h1v1h-1zM36 4h1v1h-1zM40 4h1v1h-1zM43 4h2v1h-2zM47 4h1v1h-1zM50 4h1v1h-1zM54 4h1v1h-1zM59 4h2v1h-2zM4 5h1v1h-1zM7 5h1v1h-1zM10 5h2v1h-2zM13 5h1v1h-1zM15 5h1v1h-1zM20 5h1v1h-1zM22 5h2v1h-2zM29 5h1v1h-1zM36 5h2v1h-2zM43 5h1v1h-1zM47 5h1v1h-1zM49 5h1v1h-1zM53 5h1v1h-1zM2 6h1v1h-1zM4 6h1v1h-1zM10 6h2v1h-2zM16 6h1v1h-1zM21 6h3v1h-3zM31 6h1v1h-1zM40 6h1v1h-1zM47 6h1v1h-1zM50 6h3v1h-3zM57 6h1v1h-1zM59 6h1v1h-1zM2 7h1v1h-1zM8 7h1v1h-1zM10 7h1v1h-1zM14 7h1v1h-1zM16 7h2v1h-2zM20 7h1v1h-1zM23 7h1v1h-1zM28 7h1v1h-1zM31 7h1v1h-1zM42 7h1v1h-1zM49 7h2v1h-2zM58 7h3v1h-3zM2 8h1v1h-1zM7 8h1v1h-1zM11 8h1v1h-1zM16 8h1v1h-1zM22 8h1v1h-1zM25 8h1v1h-1zM36 8h1v1h-1zM45 8h1v1h-1zM49 8h1v1h-1zM55 8h1v1h-1zM59 8h2v1h-2zM2 9h1v1h-1zM5 9h1v1h-1zM7 9h1v1h-1zM18 9h1v1h-1zM22 9h1v1h-1zM29 9h2v1h-2zM33 9h2v1h-2zM50 9h1v1h-1zM14 10h1v1h-1zM17 10h1v1h-1zM27 10h1v1h-1zM42 10h1v1h-1zM12 11h1v1h-1zM26 11h2v1h-2zM44 11h1v1h-1zM51 11h1v1h-1zM1 12h1v1h-1zM3 12h1v1h-1zM5 12h2v1h-2zM12 12h1v1h-1zM19 12h1v1h-1zM22 12h1v1h-1zM38 12h1v1h-1zM44 12h1v1h-1zM49 12h1v1h-1zM19 13h2v1h-2zM13 14h1v1h-1zM20 14h1v1h-1zM41 14h1v1h-1zM22 15h1v1h-1zM28 28h2v1h-2zM29 29h1v1h-1zM32 29h1v1h-1zM9 30h1v1h-1zM24 30h1v1h-1zM3 31h2v1h-2zM36 31h2v1h-2zM51 31h1v1h-1zM56 31h1v1h-1zM3 32h1v1h-1zM13 32h2v1h-2zM22 32h2v1h-2zM30 32h1v1h-1zM36 32h1v1h-1zM38 32h1v1h-1zM48 32h2v1h-2zM52 32h1v1h-1zM58 32h2v1h-2zM4 33h1v1h-1zM7 33h1v1h-1zM15 33h1v1h-1zM21 33h1v1h-1zM24 33h1v1h-1zM35 33h1v1h-1zM37 33h1v1h-1zM40 33h1v1h-1zM47 33h1v1h-1zM52 33h1v1h-1zM56 33h1v1h-1zM58 33h1v1h-1zM60 33h1v1h-1zM3 34h1v1h-1zM5 34h1v1h-1zM7 34h1v1h-1zM11 34h1v1h-1zM23 34h1v1h-1zM26 34h1v1h-1zM35 34h1v1h-1zM38 34h1v1h-1zM48 34h1v1h-1zM7 35h1v1h-1zM10 35h1v1h-1zM12 35h1v1h-1zM14 35h1v1h-1zM20 35h1v1h-1zM40 35h1v1h-1zM57 35h2v1h-2zM1 36h2v1h-2zM40 36h1v1h-1zM48 36h1v1h-1zM6 37h1v1h-1zM8 37h2v1h-2zM18 37h1v1h-1zM39 37h1v1h-1zM8 38h2v1h-2zM18 38h1v1h-1zM40 38h1v1h-1zM42 38h1v1h-1zM60 38h1v1h-1zM8 39h1v1h-1zM10 39h1v1h-1zM12 39h1v1h-1zM16 39h2v1h-2zM41 39h1v1h-1zM43 39h1v1h-1zM7 40h1v1h-1zM10 40h1v1h-1zM53 40h1v1h-1zM0 41h1v1h-1zM2 41h1v1h-1zM6 41h1v1h-1zM13 41h1v1h-1zM43 41h1v1h-1zM46 41h1v1h-1zM0 42h1v1h-1zM10 42h1v1h-1zM48 42h1v1h-1zM60 42h1v1h-1zM51 43h1v1h-1zM12 44h1v1h-1zM14 44h1v1h-1zM21 44h1v1h-1zM51 44h1v1h-1zM55 44h1v1h-1zM14 45h1v1h-1zM17 45h1v1h-1zM52 45h1v1h-1zM55 45h1v1h-1zM6 46h1v1h-1zM10 46h1v1h-1zM47 46h1v1h-1z"/>
<path fill="#cfcfe9" d="M13 0h1v1h-1zM15 0h1v1h-1zM37 0h1v1h-1zM39 0h1v1h-1zM47 0h3v1h-3zM52 0h2v1h-2zM11 1h1v1h-1zM20 1h1v1h-1zM22 1h1v1h-1zM30 1h2v1h-2zM43 1h1v1h-1zM49 1h1v1h-1zM52 1h1v1h-1zM55 1h1v1h-1zM57 1h1v1h-1zM5 2h2v1h-2zM9 2h1v1h-1zM14 2h1v1h-1zM21 2h1v1h-1zM25 2h1v1h-1zM36 2h1v1h-1zM39 2h1v1h-1zM43 2h1v1h-1zM56 2h1v1h-1zM5 3h2v1h-2zM10 3h1v1h-1zM15 3h1v1h-1zM17 3h1v1h-1zM24 3h1v1h-1zM28 3h2v1h-2zM33 3h1v1h-1zM43 3h2v1h-2zM47 3h1v1h-1zM55 3h1v1h-1zM0 4h1v1h-1zM11 4h1v1h-1zM15 4h2v1h-2zM22 4h1v1h-1zM26 4h1v1h-1zM33 4h1v1h-1zM37 4h1v1h-1zM39 4h1v1h-1zM57 4h1v1h-1zM1 5h1v1h-1zM12 5h1v1h-1zM19 5h1v1h-1zM35 5h1v1h-1zM46 5h1v1h-1zM56 5h1v1h-1zM5 6h1v1h-1zM13 6h1v1h-1zM15 6h1v1h-1zM26 6h1v1h-1zM32 6h2v1h-2zM42 6h2v1h-2zM48 6h2v1h-2zM54 6h1v1h-1zM9 7h1v1h-1zM12 7h1v1h-1zM18 7h1v1h-1zM21 7h1v1h-1zM27 7h1v1h-1zM37 7h1v1h-1zM41 7h1v1h-1zM46 7h1v1h-1zM57 7h1v1h-1zM12 8h1v1h-1zM15 8h1v1h-1zM23 8h1v1h-1zM42 8h1v1h-1zM48 8h1v1h-1zM10 9h1v1h-1zM14 9h2v1h-2zM24 9h1v1h-1zM48 9h1v1h-1zM51 9h1v1h-1zM18 10h1v1h-1zM51 10h1v1h-1zM2 11h3v1h-3zM18 11h1v1h-1zM55 12h2v1h-2zM22 13h1v1h-1zM26 29h1v1h-1zM28 29h1v1h-1zM34 30h1v1h-1zM2 31h1v1h-1zM9 31h1v1h-1zM25 31h1v1h-1zM29 31h1v1h-1zM31 31h1v1h-1zM54 31h1v1h-1zM0 32h1v1h-1zM12 32h1v1h-1zM31 32h1v1h-1zM33 32h1v1h-1zM53 32h1v1h-1zM56 32h1v1h-1zM1 33h1v1h-1zM3 33h1v1h-1zM13 33h1v1h-1zM26 33h1v1h-1zM28 33h1v1h-1zM30 33h1v1h-1zM2 34h1v1h-1zM4 34h1v1h-1zM9 34h1v1h-1zM31 34h1v1h-1zM47 34h1v1h-1zM5 35h2v1h-2zM8 35h1v1h-1zM22 35h1v1h-1zM31 35h1v1h-1zM36 35h1v1h-1zM50 35h1v1h-1zM56 35h1v1h-1zM6 36h1v1h-1zM8 36h1v1h-1zM11 36h1v1h-1zM13 36h1v1h-1zM23 36h1v1h-1zM39 36h1v1h-1zM50 36h1v1h-1zM53 36h2v1h-2zM56 36h1v1h-1zM2 37h1v1h-1zM5 37h1v1h-1zM7 37h1v1h-1zM19 37h1v1h-1zM21 37h1v1h-1zM23 37h1v1h-1zM45 37h1v1h-1zM47 37h2v1h-2zM50 37h2v1h-2zM55 37h2v1h-2zM19 38h1v1h-1zM23 38h1v1h-1zM33 38h1v1h-1zM39 38h1v1h-1zM59 38h1v1h-1zM7 39h1v1h-1zM15 39h1v1h-1zM18 39h1v1h-1zM20 39h1v1h-1zM23 39h2v1h-2zM34 39h1v1h-1zM37 39h1v1h-1zM39 39h1v1h-1zM44 39h1v1h-1zM49 39h2v1h-2zM57 39h2v1h-2zM0 40h1v1h-1zM6 40h1v1h-1zM9 40h1v1h-1zM15 40h1v1h-1zM17 40h1v1h-1zM24 40h1v1h-1zM26 40h1v1h-1zM37 40h1v1h-1zM39 40h1v1h-1zM44 40h1v1h-1zM50 40h2v1h-2zM56 40h1v1h-1zM3 41h1v1h-1zM7 41h2v1h-2zM11 41h1v1h-1zM26 41h1v1h-1zM38 41h1v1h-1zM41 41h1v1h-1zM44 41h1v1h-1zM59 41h1v1h-1zM6 42h1v1h-1zM15 42h1v1h-1zM18 42h3v1h-3zM38 42h1v1h-1zM42 42h1v1h-1zM46 42h1v1h-1zM49 42h1v1h-1zM51 42h2v1h-2zM56 42h1v1h-1zM58 42h1v1h-1zM3 43h1v1h-1zM5 43h1v1h-1zM8 43h1v1h-1zM10 43h1v1h-1zM15 43h1v1h-1zM22 43h1v1h-1zM42 43h1v1h-1zM47 43h1v1h-1zM50 43h1v1h-1zM52 43h1v1h-1zM55 43h3v1h-3zM60 43h1v1h-1zM10 44h1v1h-1zM15 44h1v1h-1zM18 44h1v1h-1zM40 44h1v1h-1zM47 44h2v1h-2zM52 44h1v1h-1zM56 44h1v1h-1zM0 45h2v1h-2zM5 45h1v1h-1zM9 45h1v1h-1zM12 45h1v1h-1zM21 45h1v1h-1zM38 45h2v1h-2zM46 45h1v1h-1zM49 45h1v1h-1zM51 45h1v1h-1zM56 45h1v1h-1zM15 46h1v1h-1zM21 46h2v1h-2zM36 46h2v1h-2zM46 46h1v1h-1zM48 46h1v1h-1zM50 46h1v1h-1zM53 46h3v1h-3zM59 46h1v1h-1z"/>
<path fill="#908ec9" d="M19 0h1v1h-1zM34 4h1v1h-1zM41 4h1v1h-1zM38 7h1v1h-1zM8 9h1v1h-1zM26 9h1v1h-1zM32 9h1v1h-1zM35 9h1v1h-1zM38 9h1v1h-1zM44 9h1v1h-1zM32 10h2v1h-2zM36 10h1v1h-1zM38 10h1v1h-1zM60 10h1v1h-1zM6 11h1v1h-1zM8 11h1v1h-1zM10 11h1v1h-1zM42 11h1v1h-1zM52 11h2v1h-2zM57 11h1v1h-1zM0 12h1v1h-1zM8 12h1v1h-1zM10 12h2v1h-2zM21 12h1v1h-1zM23 12h2v1h-2zM27 12h1v1h-1zM31 12h1v1h-1zM39 12h1v1h-1zM47 12h1v1h-1zM51 12h1v1h-1zM57 12h1v1h-1zM1 13h1v1h-1zM6 13h1v1h-1zM11 13h1v1h-1zM16 13h1v1h-1zM18 13h1v1h-1zM21 13h1v1h-1zM35 13h1v1h-1zM41 13h2v1h-2zM46 13h1v1h-1zM12 14h1v1h-1zM37 14h1v1h-1zM48 14h1v1h-1zM40 15h1v1h-1zM42 15h2v1h-2zM16 16h1v1h-1zM40 16h2v1h-2zM33 29h1v1h-1zM36 29h1v1h-1zM1 30h1v1h-1zM51 30h1v1h-1zM58 30h1v1h-1zM60 30h1v1h-1zM38 31h1v1h-1zM20 32h1v1h-1zM8 33h1v1h-1zM16 34h2v1h-2zM43 34h1v1h-1zM18 36h1v1h-1zM41 36h1v1h-1zM16 37h1v1h-1z"/>
<path fill="#a6a2d1" d="M24 0h1v1h-1zM27 0h1v1h-1zM31 0h1v1h-1zM59 0h1v1h-1zM1 1h1v1h-1zM7 1h1v1h-1zM10 1h1v1h-1zM24 1h1v1h-1zM27 1h1v1h-1zM32 1h1v1h-1zM41 2h1v1h-1zM1 3h1v1h-1zM25 3h1v1h-1zM42 3h1v1h-1zM60 3h1v1h-1zM42 4h1v1h-1zM7 6h1v1h-1zM38 6h1v1h-1zM53 6h1v1h-1zM1 7h1v1h-1zM7 7h1v1h-1zM32 7h1v1h-1zM52 7h2v1h-2zM3 8h1v1h-1zM6 8h1v1h-1zM13 8h1v1h-1zM21 8h1v1h-1zM30 8h1v1h-1zM32 8h1v1h-1zM38 8h1v1h-1zM47 8h1v1h-1zM56 8h1v1h-1zM11 9h1v1h-1zM13 9h1v1h-1zM20 9h2v1h-2zM25 9h1v1h-1zM39 9h1v1h-1zM52 9h1v1h-1zM54 9h4v1h-4zM6 10h2v1h-2zM20 10h2v1h-2zM30 10h1v1h-1zM34 10h1v1h-1zM39 10h1v1h-1zM43 10h1v1h-1zM48 10h2v1h-2zM53 10h1v1h-1zM59 10h1v1h-1zM5 11h1v1h-1zM25 11h1v1h-1zM32 11h1v1h-1zM37 11h1v1h-1zM43 11h1v1h-1zM46 11h1v1h-1zM25 12h1v1h-1zM40 12h1v1h-1zM13 13h2v1h-2zM39 13h2v1h-2zM48 13h1v1h-1zM56 13h1v1h-1zM58 13h1v1h-1zM23 14h1v1h-1zM43 14h1v1h-1zM46 14h1v1h-1zM16 15h1v1h-1zM41 15h1v1h-1zM46 15h1v1h-1zM30 27h1v1h-1zM31 28h1v1h-1zM25 29h1v1h-1zM35 29h1v1h-1zM6 30h2v1h-2zM54 30h1v1h-1zM7 31h1v1h-1zM33 31h1v1h-1zM59 31h1v1h-1zM51 32h1v1h-1zM54 32h1v1h-1zM5 33h1v1h-1zM19 33h1v1h-1zM39 33h1v1h-1zM12 34h1v1h-1zM45 34h2v1h-2zM1 35h1v1h-1zM15 35h1v1h-1zM44 35h1v1h-1zM59 35h2v1h-2zM59 36h1v1h-1zM17 37h1v1h-1zM16 38h1v1h-1zM13 39h1v1h-1zM42 39h1v1h-1z"/>
<path fill="#e9e9f5" d="M36 0h1v1h-1zM8 4h1v1h-1zM29 34h1v1h-1zM32 34h1v1h-1zM32 35h1v1h-1zM4 36h1v1h-1zM29 36h1v1h-1zM33 36h1v1h-1zM47 36h1v1h-1zM26 37h2v1h-2zM32 37h1v1h-1zM37 37h1v1h-1zM32 38h1v1h-1zM27 39h2v1h-2zM31 39h1v1h-1zM28 40h3v1h-3zM33 40h1v1h-1zM32 41h3v1h-3zM17 42h1v1h-1zM24 42h1v1h-1zM32 42h1v1h-1zM17 43h1v1h-1zM29 43h1v1h-1zM46 43h1v1h-1zM27 44h1v1h-1zM34 44h2v1h-2zM4 45h1v1h-1zM29 45h2v1h-2zM40 45h2v1h-2zM44 45h1v1h-1zM19 46h1v1h-1zM23 46h1v1h-1zM29 46h1v1h-1zM42 46h1v1h-1z"/>
<path fill="#e3e3f3" d="M3 1h1v1h-1zM38 1h1v1h-1zM35 2h1v1h-1zM38 2h1v1h-1zM44 2h1v1h-1zM54 2h1v1h-1zM8 3h1v1h-1zM35 4h1v1h-1zM0 6h1v1h-1zM16 11h1v1h-1zM26 30h1v1h-1zM27 31h1v1h-1zM22 33h1v1h-1zM29 33h1v1h-1zM25 34h1v1h-1zM28 35h1v1h-1zM34 35h1v1h-1zM47 35h1v1h-1zM24 36h1v1h-1zM28 36h1v1h-1zM30 36h1v1h-1zM32 36h1v1h-1zM34 36h2v1h-2zM38 36h1v1h-1zM4 37h1v1h-1zM10 37h1v1h-1zM12 37h1v1h-1zM28 37h1v1h-1zM35 37h1v1h-1zM49 37h1v1h-1zM57 37h1v1h-1zM3 38h1v1h-1zM27 38h1v1h-1zM29 38h1v1h-1zM35 38h1v1h-1zM4 39h1v1h-1zM25 39h1v1h-1zM29 39h2v1h-2zM33 39h1v1h-1zM36 39h1v1h-1zM5 40h1v1h-1zM25 40h1v1h-1zM27 40h1v1h-1zM34 40h1v1h-1zM25 41h1v1h-1zM28 41h1v1h-1zM31 41h1v1h-1zM39 41h1v1h-1zM45 41h1v1h-1zM23 42h1v1h-1zM28 42h2v1h-2zM31 42h1v1h-1zM33 42h1v1h-1zM40 42h1v1h-1zM50 42h1v1h-1zM4 43h1v1h-1zM18 43h1v1h-1zM24 43h1v1h-1zM27 43h2v1h-2zM30 43h2v1h-2zM33 43h1v1h-1zM35 43h1v1h-1zM37 43h1v1h-1zM40 43h1v1h-1zM45 43h1v1h-1zM53 43h1v1h-1zM4 44h1v1h-1zM23 44h1v1h-1zM26 44h1v1h-1zM31 44h2v1h-2zM37 44h1v1h-1zM45 44h1v1h-1zM53 44h1v1h-1zM3 45h1v1h-1zM7 45h1v1h-1zM23 45h1v1h-1zM25 45h2v1h-2zM28 45h1v1h-1zM31 45h2v1h-2zM34 45h1v1h-1zM4 46h1v1h-1zM16 46h1v1h-1zM27 46h1v1h-1zM30 46h6v1h-6zM40 46h1v1h-1z"/>
<path fill="#9b98cd" d="M19 1h1v1h-1zM51 1h1v1h-1zM4 2h1v1h-1zM51 2h1v1h-1zM25 4h1v1h-1zM34 5h1v1h-1zM41 5h1v1h-1zM29 6h1v1h-1zM29 7h1v1h-1zM4 8h1v1h-1zM9 8h1v1h-1zM20 8h1v1h-1zM26 8h1v1h-1zM35 8h1v1h-1zM52 8h2v1h-2zM3 9h1v1h-1zM9 9h1v1h-1zM53 9h1v1h-1zM3 10h1v1h-1zM5 10h1v1h-1zM11 10h1v1h-1zM23 10h1v1h-1zM41 10h1v1h-1zM52 10h1v1h-1zM54 10h1v1h-1zM57 10h2v1h-2zM1 11h1v1h-1zM7 11h1v1h-1zM20 11h2v1h-2zM28 11h1v1h-1zM47 11h1v1h-1zM7 12h1v1h-1zM14 12h1v1h-1zM26 12h1v1h-1zM35 12h1v1h-1zM42 12h2v1h-2zM48 12h1v1h-1zM59 12h1v1h-1zM36 13h3v1h-3zM44 13h1v1h-1zM55 13h1v1h-1zM15 14h1v1h-1zM18 14h1v1h-1zM40 14h1v1h-1zM42 14h1v1h-1zM18 15h2v1h-2zM45 15h1v1h-1zM42 16h1v1h-1zM28 27h2v1h-2zM33 28h1v1h-1zM0 30h1v1h-1zM3 30h2v1h-2zM8 30h1v1h-1zM33 30h1v1h-1zM48 30h1v1h-1zM53 30h1v1h-1zM57 30h1v1h-1zM59 30h1v1h-1zM5 31h1v1h-1zM8 31h1v1h-1zM55 31h1v1h-1zM4 32h1v1h-1zM10 32h1v1h-1zM15 32h1v1h-1zM39 32h1v1h-1zM10 33h1v1h-1zM17 33h1v1h-1zM41 33h1v1h-1zM45 33h1v1h-1zM20 34h1v1h-1zM54 34h1v1h-1zM59 34h1v1h-1zM46 35h1v1h-1zM19 36h1v1h-1zM44 36h1v1h-1zM60 36h1v1h-1zM41 37h1v1h-1zM60 37h1v1h-1zM43 38h1v1h-1zM10 45h1v1h-1z"/>
<path fill="#8a8ac6" d="M1 2h1v1h-1zM35 7h1v1h-1zM31 8h1v1h-1zM1 10h1v1h-1zM11 11h1v1h-1zM31 11h1v1h-1zM33 11h1v1h-1zM50 11h1v1h-1zM58 11h2v1h-2zM33 12h1v1h-1zM37 12h1v1h-1zM46 12h1v1h-1zM50 12h1v1h-1zM5 13h1v1h-1zM10 13h1v1h-1zM34 13h1v1h-1zM43 13h1v1h-1zM47 13h1v1h-1zM49 13h1v1h-1zM60 13h1v1h-1zM10 14h1v1h-1zM19 14h1v1h-1zM34 14h1v1h-1zM39 15h1v1h-1zM21 16h1v1h-1zM43 16h1v1h-1zM18 17h1v1h-1zM40 17h1v1h-1zM43 17h1v1h-1zM27 28h1v1h-1zM31 29h1v1h-1zM52 29h2v1h-2zM11 30h1v1h-1zM37 30h1v1h-1zM55 30h1v1h-1zM13 31h1v1h-1zM8 32h1v1h-1zM21 32h1v1h-1zM46 32h1v1h-1zM46 33h1v1h-1zM42 34h1v1h-1zM17 35h1v1h-1z"/>
<path fill="#8488c4" d="M31 9h1v1h-1zM31 10h1v1h-1zM14 11h1v1h-1zM23 11h1v1h-1zM29 11h2v1h-2zM48 11h1v1h-1zM60 11h1v1h-1zM29 12h1v1h-1zM53 12h1v1h-1zM2 13h2v1h-2zM24 13h1v1h-1zM26 13h1v1h-1zM16 14h1v1h-1zM13 15h2v1h-2zM38 15h1v1h-1zM17 16h1v1h-1zM44 16h1v1h-1zM17 17h1v1h-1zM19 17h2v1h-2zM31 26h1v1h-1zM34 28h1v1h-1zM12 30h1v1h-1zM47 30h1v1h-1zM49 30h1v1h-1zM45 32h1v1h-1zM16 33h1v1h-1zM43 33h1v1h-1zM19 34h1v1h-1zM43 37h1v1h-1z"/>
<path fill="#777bba" d="M8 10h1v1h-1zM30 12h1v1h-1zM32 12h1v1h-1zM52 12h1v1h-1zM8 13h1v1h-1zM31 13h1v1h-1zM51 13h1v1h-1zM53 13h1v1h-1zM3 14h1v1h-1zM50 14h2v1h-2zM0 15h1v1h-1zM6 15h1v1h-1zM23 15h1v1h-1zM48 15h1v1h-1zM37 16h1v1h-1zM45 16h2v1h-2zM18 18h1v1h-1zM33 27h1v1h-1zM26 28h1v1h-1zM7 29h1v1h-1zM24 29h1v1h-1zM13 30h1v1h-1zM50 30h1v1h-1zM14 31h1v1h-1zM20 31h2v1h-2zM16 32h1v1h-1zM18 35h1v1h-1zM43 35h1v1h-1z"/>
<path fill="#7d81bf" d="M28 12h1v1h-1zM4 13h1v1h-1zM7 13h1v1h-1zM9 13h1v1h-1zM27 13h1v1h-1zM50 13h1v1h-1zM59 13h1v1h-1zM6 14h1v1h-1zM11 14h1v1h-1zM24 14h1v1h-1zM47 14h1v1h-1zM55 14h2v1h-2zM3 15h1v1h-1zM15 15h1v1h-1zM17 15h1v1h-1zM24 15h1v1h-1zM47 15h1v1h-1zM39 16h1v1h-1zM41 17h1v1h-1zM35 28h1v1h-1zM2 29h1v1h-1zM4 29h1v1h-1zM9 29h1v1h-1zM51 29h1v1h-1zM54 29h1v1h-1zM5 30h1v1h-1zM22 31h2v1h-2zM19 35h1v1h-1zM42 36h1v1h-1z"/>
<path fill="#6e76b8" d="M0 13h1v1h-1zM54 13h1v1h-1zM1 14h1v1h-1zM4 14h2v1h-2zM35 14h1v1h-1zM57 14h2v1h-2zM17 18h1v1h-1zM19 18h1v1h-1zM41 18h1v1h-1zM32 26h1v1h-1zM35 27h1v1h-1zM25 28h1v1h-1zM51 28h1v1h-1zM1 29h1v1h-1zM8 29h1v1h-1zM37 29h1v1h-1zM49 29h1v1h-1zM22 30h2v1h-2zM39 31h1v1h-1zM18 32h2v1h-2zM42 33h1v1h-1zM42 35h1v1h-1z"/>
<path fill="#7277b8" d="M28 13h2v1h-2zM33 13h1v1h-1zM57 13h1v1h-1zM25 14h2v1h-2zM53 14h1v1h-1zM59 14h2v1h-2zM12 15h1v1h-1zM37 15h1v1h-1zM15 16h1v1h-1zM22 16h1v1h-1zM38 16h1v1h-1zM47 16h1v1h-1zM39 17h1v1h-1zM42 17h1v1h-1zM20 18h1v1h-1zM43 18h1v1h-1zM27 27h1v1h-1zM52 28h2v1h-2zM3 29h1v1h-1zM6 29h1v1h-1zM10 29h2v1h-2zM55 29h1v1h-1zM57 29h1v1h-1zM56 30h1v1h-1zM17 32h1v1h-1zM40 32h1v1h-1zM44 32h1v1h-1zM18 33h1v1h-1z"/>
<path fill="#6473b8" d="M30 13h1v1h-1zM8 14h2v1h-2zM36 14h1v1h-1zM52 14h1v1h-1zM11 15h1v1h-1zM14 16h1v1h-1zM15 17h1v1h-1zM38 17h1v1h-1zM42 18h1v1h-1zM18 19h2v1h-2zM28 26h1v1h-1zM4 28h1v1h-1zM9 28h1v1h-1zM54 28h1v1h-1zM12 29h1v1h-1zM23 29h1v1h-1zM48 29h1v1h-1zM59 29h1v1h-1zM16 31h1v1h-1zM40 31h1v1h-1zM45 31h1v1h-1zM18 34h1v1h-1z"/>
<path fill="#5071b6" d="M32 13h1v1h-1zM4 15h1v1h-1zM26 15h1v1h-1zM55 15h2v1h-2zM58 15h1v1h-1zM60 15h1v1h-1zM36 16h1v1h-1zM49 16h1v1h-1zM23 17h1v1h-1zM7 28h1v1h-1zM46 30h1v1h-1zM44 31h1v1h-1zM42 32h1v1h-1z"/>
<path fill="#6a75b8" d="M52 13h1v1h-1zM0 14h1v1h-1zM2 14h1v1h-1zM7 14h1v1h-1zM28 14h1v1h-1zM33 14h1v1h-1zM49 14h1v1h-1zM54 14h1v1h-1zM10 15h1v1h-1zM50 15h2v1h-2zM12 16h1v1h-1zM23 16h1v1h-1zM16 17h1v1h-1zM21 17h1v1h-1zM45 17h1v1h-1zM40 18h1v1h-1zM42 19h2v1h-2zM31 25h1v1h-1zM30 26h1v1h-1zM33 26h1v1h-1zM36 28h1v1h-1zM0 29h1v1h-1zM50 29h1v1h-1zM38 30h1v1h-1zM15 31h1v1h-1zM41 32h1v1h-1zM43 36h1v1h-1z"/>
<path fill="#5d72b8" d="M27 14h1v1h-1zM7 15h1v1h-1zM9 15h1v1h-1zM34 15h2v1h-2zM49 15h1v1h-1zM54 15h1v1h-1zM13 16h1v1h-1zM14 17h1v1h-1zM21 18h1v1h-1zM34 27h1v1h-1zM5 29h1v1h-1zM46 31h1v1h-1zM43 32h1v1h-1z"/>
<path fill="#4b77a6" d="M29 14h1v1h-1zM32 14h1v1h-1zM36 15h1v1h-1zM37 17h1v1h-1zM47 17h1v1h-1zM45 18h1v1h-1zM24 28h1v1h-1zM55 28h1v1h-1zM22 29h1v1h-1z"/>
<path fill="#3e7f72" d="M30 14h1v1h-1zM4 16h1v1h-1zM59 16h1v1h-1zM12 17h1v1h-1zM21 19h1v1h-1zM19 20h1v1h-1zM32 25h1v1h-1zM5 28h1v1h-1zM23 28h1v1h-1zM58 28h1v1h-1zM16 30h1v1h-1zM20 30h1v1h-1zM43 31h1v1h-1z"/>
<path fill="#44798d" d="M31 14h1v1h-1zM33 15h1v1h-1zM0 16h1v1h-1zM16 18h1v1h-1zM34 26h1v1h-1zM1 28h1v1h-1zM37 28h1v1h-1zM57 28h1v1h-1zM38 29h1v1h-1zM47 29h1v1h-1zM45 30h1v1h-1zM17 31h1v1h-1z"/>
<path fill="#5671b8" d="M1 15h2v1h-2zM25 15h1v1h-1zM59 15h1v1h-1zM24 16h1v1h-1zM48 16h1v1h-1zM44 17h1v1h-1zM29 26h1v1h-1zM6 28h1v1h-1zM8 28h1v1h-1zM10 28h1v1h-1zM56 29h1v1h-1zM58 29h1v1h-1zM60 29h1v1h-1z"/>
<path fill="#4d74ae" d="M5 15h1v1h-1zM53 15h1v1h-1zM3 16h1v1h-1zM25 16h1v1h-1zM46 17h1v1h-1zM39 18h1v1h-1zM44 18h1v1h-1zM41 19h1v1h-1zM30 25h1v1h-1zM26 27h1v1h-1zM21 30h1v1h-1z"/>
<path fill="#48789a" d="M8 15h1v1h-1zM52 15h1v1h-1zM57 15h1v1h-1zM11 16h1v1h-1zM35 16h1v1h-1zM22 17h1v1h-1zM20 19h1v1h-1zM44 19h1v1h-1zM27 26h1v1h-1zM0 28h1v1h-1zM49 28h1v1h-1zM14 30h1v1h-1z"/>
<path fill="#417a7f" d="M27 15h1v1h-1zM50 16h1v1h-1zM13 17h1v1h-1zM48 17h1v1h-1zM15 18h1v1h-1zM42 20h1v1h-1zM2 28h2v1h-2zM11 28h1v1h-1zM50 28h1v1h-1zM13 29h1v1h-1zM19 31h1v1h-1z"/>
<path fill="#468c67" d="M28 15h1v1h-1zM6 16h1v1h-1zM51 16h1v1h-1zM60 16h1v1h-1zM49 17h1v1h-1zM22 18h1v1h-1zM17 19h1v1h-1zM30 24h1v1h-1zM6 27h1v1h-1zM52 27h1v1h-1zM42 31h1v1h-1z"/>
<path fill="#85be30" d="M29 15h1v1h-1zM4 17h1v1h-1zM6 17h1v1h-1zM9 17h1v1h-1zM34 17h1v1h-1zM56 17h1v1h-1zM17 20h1v1h-1zM18 21h1v1h-1zM28 24h1v1h-1zM32 24h1v1h-1zM7 26h1v1h-1zM57 26h1v1h-1zM13 28h1v1h-1zM39 28h1v1h-1zM41 30h2v1h-2z"/>
<path fill="#6eb733" d="M30 15h1v1h-1zM55 16h1v1h-1zM7 17h1v1h-1zM13 18h1v1h-1zM36 18h1v1h-1zM15 19h1v1h-1zM16 20h1v1h-1zM27 25h1v1h-1zM52 26h1v1h-1zM14 29h1v1h-1z"/>
<path fill="#62b337" d="M31 15h1v1h-1zM8 16h1v1h-1zM48 18h1v1h-1zM22 19h1v1h-1zM20 20h1v1h-1zM0 27h1v1h-1zM5 27h1v1h-1zM48 28h1v1h-1zM18 30h1v1h-1z"/>
<path fill="#4ea14b" d="M32 15h1v1h-1zM10 16h1v1h-1zM26 16h1v1h-1zM52 16h1v1h-1zM11 17h1v1h-1zM10 27h1v1h-1zM59 28h2v1h-2zM15 29h1v1h-1z"/>
<path fill="#3e7b77" d="M1 16h1v1h-1zM43 20h1v1h-1zM29 25h1v1h-1zM33 25h1v1h-1zM8 27h1v1h-1zM36 27h1v1h-1zM53 27h1v1h-1zM56 28h1v1h-1zM15 30h1v1h-1zM39 30h1v1h-1zM18 31h1v1h-1zM41 31h1v1h-1z"/>
<path fill="#4a935c" d="M2 16h1v1h-1zM5 16h1v1h-1zM9 16h1v1h-1zM54 16h1v1h-1zM24 17h1v1h-1zM18 20h1v1h-1zM9 27h1v1h-1zM55 27h1v1h-1zM12 28h1v1h-1z"/>
<path fill="#4d9a53" d="M7 16h1v1h-1zM34 16h1v1h-1zM56 16h1v1h-1zM36 17h1v1h-1zM14 18h1v1h-1zM47 18h1v1h-1zM16 19h1v1h-1zM40 19h1v1h-1zM44 20h1v1h-1zM31 24h1v1h-1zM28 25h1v1h-1zM26 26h1v1h-1zM51 27h1v1h-1zM54 27h1v1h-1zM57 27h1v1h-1zM40 30h1v1h-1zM44 30h1v1h-1z"/>
<path fill="#76b931" d="M27 16h2v1h-2zM0 17h2v1h-2zM10 17h1v1h-1zM35 17h1v1h-1zM21 20h1v1h-1zM19 21h1v1h-1zM53 26h1v1h-1zM11 27h1v1h-1zM23 27h1v1h-1zM15 28h1v1h-1z"/>
<path fill="#d2d81c" d="M29 16h1v1h-1zM55 17h1v1h-1zM34 18h1v1h-1zM51 18h1v1h-1zM12 19h1v1h-1zM24 19h1v1h-1zM60 19h1v1h-1zM40 22h1v1h-1zM42 22h1v1h-1zM45 22h1v1h-1zM26 23h1v1h-1zM35 24h1v1h-1zM52 24h1v1h-1zM18 25h1v1h-1zM43 25h1v1h-1zM46 25h1v1h-1zM57 25h1v1h-1zM47 26h1v1h-1zM59 26h1v1h-1zM18 28h1v1h-1zM43 29h1v1h-1z"/>
<path fill="#dbdb1a" d="M30 16h1v1h-1zM52 18h3v1h-3zM11 19h1v1h-1zM58 19h1v1h-1zM23 20h1v1h-1zM27 20h1v1h-1zM36 20h1v1h-1zM48 20h1v1h-1zM15 21h1v1h-1zM37 21h1v1h-1zM46 21h1v1h-1zM49 21h1v1h-1zM38 22h1v1h-1zM44 22h1v1h-1zM18 23h1v1h-1zM20 23h1v1h-1zM27 23h1v1h-1zM38 23h1v1h-1zM45 23h2v1h-2zM7 24h1v1h-1zM18 24h1v1h-1zM39 24h1v1h-1zM57 24h1v1h-1zM2 25h2v1h-2zM5 25h1v1h-1zM9 25h1v1h-1zM14 25h1v1h-1zM49 25h1v1h-1zM12 26h1v1h-1zM18 27h1v1h-1zM21 27h1v1h-1zM40 27h1v1h-1zM42 27h1v1h-1zM16 28h1v1h-1z"/>
<path fill="#ede518" d="M31 16h1v1h-1zM32 17h1v1h-1zM2 19h1v1h-1zM4 19h1v1h-1zM35 20h1v1h-1zM49 20h1v1h-1zM57 20h1v1h-1zM23 21h2v1h-2zM30 21h1v1h-1zM36 21h1v1h-1zM57 21h1v1h-1zM21 22h2v1h-2zM27 22h1v1h-1zM32 22h1v1h-1zM39 22h1v1h-1zM57 22h1v1h-1zM5 23h1v1h-1zM51 23h1v1h-1zM57 23h1v1h-1zM60 23h1v1h-1zM5 24h1v1h-1zM50 24h1v1h-1zM13 25h1v1h-1zM59 25h1v1h-1zM14 26h1v1h-1zM16 26h1v1h-1zM40 26h1v1h-1zM43 26h1v1h-1zM16 27h1v1h-1z"/>
<path fill="#b7ce23" d="M32 16h1v1h-1zM35 18h1v1h-1zM48 19h1v1h-1zM40 20h1v1h-1zM45 20h2v1h-2zM43 22h1v1h-1zM29 23h1v1h-1zM27 24h1v1h-1zM25 25h1v1h-1zM36 25h1v1h-1zM23 26h1v1h-1zM49 26h1v1h-1zM15 27h1v1h-1zM46 27h1v1h-1z"/>
<path fill="#5cb139" d="M33 16h1v1h-1zM58 16h1v1h-1zM39 19h1v1h-1zM45 19h1v1h-1zM24 27h1v1h-1zM49 27h2v1h-2zM38 28h1v1h-1zM46 28h2v1h-2zM19 30h1v1h-1z"/>
<path fill="#51a844" d="M53 16h1v1h-1zM23 18h1v1h-1zM38 18h1v1h-1zM41 20h1v1h-1zM43 21h1v1h-1zM29 24h1v1h-1zM34 25h1v1h-1zM1 27h1v1h-1zM7 27h1v1h-1zM21 29h1v1h-1zM45 29h1v1h-1z"/>
<path fill="#56ae3d" d="M57 16h1v1h-1zM3 17h1v1h-1zM25 17h1v1h-1zM46 18h1v1h-1zM2 27h2v1h-2zM22 28h1v1h-1zM39 29h1v1h-1z"/>
<path fill="#a3c52b" d="M2 17h1v1h-1zM51 17h1v1h-1zM49 18h1v1h-1zM39 20h1v1h-1zM34 24h1v1h-1zM10 25h1v1h-1zM52 25h1v1h-1zM0 26h1v1h-1zM47 27h1v1h-1zM59 27h1v1h-1zM18 29h1v1h-1z"/>
<path fill="#94c22e" d="M5 17h1v1h-1zM26 17h1v1h-1zM52 17h1v1h-1zM11 18h2v1h-2zM31 23h1v1h-1zM9 26h1v1h-1zM55 26h1v1h-1zM45 28h1v1h-1zM19 29h1v1h-1z"/>
<path fill="#9cc32d" d="M8 17h1v1h-1zM54 17h1v1h-1zM57 17h1v1h-1zM23 19h1v1h-1zM3 26h1v1h-1zM6 26h1v1h-1zM24 26h1v1h-1zM51 26h1v1h-1zM12 27h1v1h-1zM22 27h1v1h-1zM48 27h1v1h-1zM21 28h1v1h-1zM43 30h1v1h-1z"/>
<path fill="#b1cb25" d="M27 17h1v1h-1zM33 17h1v1h-1zM37 19h2v1h-2zM16 21h1v1h-1zM30 22h2v1h-2zM2 26h1v1h-1zM11 26h1v1h-1zM56 26h1v1h-1zM40 28h1v1h-1zM17 29h1v1h-1zM41 29h1v1h-1z"/>
<path fill="#e5e117" d="M28 17h1v1h-1zM0 19h1v1h-1zM49 19h1v1h-1zM57 19h1v1h-1zM59 20h1v1h-1zM13 21h1v1h-1zM17 22h1v1h-1zM26 22h1v1h-1zM28 22h1v1h-1zM56 22h1v1h-1zM60 22h1v1h-1zM14 23h1v1h-1zM19 23h1v1h-1zM35 23h1v1h-1zM37 23h1v1h-1zM40 23h2v1h-2zM53 23h1v1h-1zM20 24h1v1h-1zM24 24h1v1h-1zM54 24h2v1h-2zM6 25h1v1h-1zM47 25h1v1h-1zM60 25h1v1h-1zM15 26h1v1h-1zM21 26h1v1h-1zM38 26h1v1h-1zM42 26h1v1h-1zM44 26h1v1h-1zM17 27h1v1h-1zM42 28h2v1h-2z"/>
<path fill="#f3e720" d="M29 17h1v1h-1zM1 19h1v1h-1zM6 19h1v1h-1zM26 19h1v1h-1zM33 21h2v1h-2zM51 21h3v1h-3zM60 21h1v1h-1zM12 22h1v1h-1zM25 22h1v1h-1zM48 22h1v1h-1zM10 23h1v1h-1zM16 23h1v1h-1zM36 23h1v1h-1zM52 23h1v1h-1zM6 24h1v1h-1zM8 24h2v1h-2zM21 24h3v1h-3zM37 24h1v1h-1zM40 24h2v1h-2zM60 24h1v1h-1zM17 25h1v1h-1zM20 25h1v1h-1zM42 25h1v1h-1zM20 26h1v1h-1zM44 27h1v1h-1z"/>
<path fill="#f3991b" d="M30 17h2v1h-2zM32 19h1v1h-1zM7 20h2v1h-2zM9 22h1v1h-1zM58 22h1v1h-1zM8 23h2v1h-2z"/>
<path fill="#8cc12f" d="M50 17h1v1h-1zM58 17h1v1h-1zM60 17h1v1h-1zM46 19h2v1h-2zM22 20h1v1h-1zM33 24h1v1h-1zM26 25h1v1h-1zM5 26h1v1h-1zM8 26h1v1h-1zM25 26h1v1h-1zM50 26h1v1h-1zM16 29h1v1h-1z"/>
<path fill="#c2d321" d="M53 17h1v1h-1zM7 18h1v1h-1zM9 18h1v1h-1zM57 18h1v1h-1zM36 19h1v1h-1zM15 20h1v1h-1zM17 21h1v1h-1zM21 21h2v1h-2zM39 21h1v1h-1zM0 25h2v1h-2zM24 25h1v1h-1zM39 26h1v1h-1z"/>
<path fill="#68b535" d="M59 17h1v1h-1zM37 18h1v1h-1zM30 23h1v1h-1zM37 27h1v1h-1zM58 27h1v1h-1zM60 27h1v1h-1zM17 30h1v1h-1z"/>
<path fill="#cdd61e" d="M0 18h1v1h-1zM3 18h1v1h-1zM8 18h1v1h-1zM50 19h1v1h-1zM59 19h1v1h-1zM37 20h1v1h-1zM47 20h1v1h-1zM33 23h1v1h-1zM26 24h1v1h-1zM53 24h1v1h-1zM39 25h1v1h-1zM51 25h1v1h-1zM45 27h1v1h-1zM41 28h1v1h-1zM44 28h1v1h-1z"/>
<path fill="#bdd022" d="M1 18h1v1h-1zM6 18h1v1h-1zM25 18h1v1h-1zM50 18h1v1h-1zM58 18h2v1h-2zM51 24h1v1h-1zM11 25h1v1h-1zM23 25h1v1h-1zM37 26h1v1h-1zM60 26h1v1h-1zM38 27h2v1h-2zM19 28h1v1h-1zM20 29h1v1h-1z"/>
<path fill="#c7d51f" d="M2 18h1v1h-1zM4 18h1v1h-1zM26 18h1v1h-1zM60 18h1v1h-1zM13 19h1v1h-1zM14 20h1v1h-1zM38 20h1v1h-1zM45 21h1v1h-1zM18 22h2v1h-2zM28 23h1v1h-1zM32 23h1v1h-1zM25 24h1v1h-1zM4 25h1v1h-1zM55 25h1v1h-1zM58 25h1v1h-1zM42 29h1v1h-1z"/>
<path fill="#e0de19" d="M5 18h1v1h-1zM55 18h1v1h-1zM50 20h1v1h-1zM31 21h1v1h-1zM40 21h1v1h-1zM47 21h2v1h-2zM55 21h1v1h-1zM15 22h1v1h-1zM33 22h1v1h-1zM47 22h1v1h-1zM49 22h1v1h-1zM34 23h1v1h-1zM49 23h1v1h-1zM44 24h1v1h-1zM46 24h1v1h-1zM58 24h1v1h-1zM8 25h1v1h-1zM18 26h1v1h-1zM22 26h1v1h-1zM45 26h1v1h-1zM41 27h1v1h-1z"/>
<path fill="#aac828" d="M10 18h1v1h-1zM20 21h1v1h-1zM41 21h1v1h-1zM44 21h1v1h-1zM7 25h1v1h-1zM53 25h1v1h-1zM54 26h1v1h-1zM58 26h1v1h-1zM13 27h1v1h-1zM14 28h1v1h-1z"/>
<path fill="#7ebc30" d="M24 18h1v1h-1zM14 19h1v1h-1zM42 21h1v1h-1zM35 25h1v1h-1zM1 26h1v1h-1zM4 26h1v1h-1zM10 26h1v1h-1zM36 26h1v1h-1zM56 27h1v1h-1zM40 29h1v1h-1zM44 29h1v1h-1z"/>
<path fill="#d7d91b" d="M27 18h1v1h-1zM56 18h1v1h-1zM25 19h1v1h-1zM13 20h1v1h-1zM14 21h1v1h-1zM29 21h1v1h-1zM38 21h1v1h-1zM16 22h1v1h-1zM20 22h1v1h-1zM29 22h1v1h-1zM41 22h1v1h-1zM42 23h2v1h-2zM56 23h1v1h-1zM10 24h2v1h-2zM14 24h1v1h-1zM36 24h1v1h-1zM43 24h1v1h-1zM49 24h1v1h-1zM56 24h1v1h-1zM50 25h1v1h-1zM54 25h1v1h-1zM56 25h1v1h-1zM13 26h1v1h-1zM46 26h1v1h-1zM48 26h1v1h-1zM17 28h1v1h-1z"/>
<path fill="#f8e520" d="M28 18h1v1h-1zM33 18h1v1h-1zM3 19h1v1h-1zM9 19h2v1h-2zM51 19h1v1h-1zM12 20h1v1h-1zM26 20h1v1h-1zM28 20h1v1h-1zM31 20h1v1h-1zM13 22h1v1h-1zM36 22h1v1h-1zM52 22h2v1h-2zM55 22h1v1h-1zM13 23h1v1h-1zM21 23h1v1h-1zM54 23h1v1h-1zM19 24h1v1h-1zM45 24h1v1h-1zM15 25h1v1h-1zM19 25h1v1h-1zM22 25h1v1h-1zM40 25h1v1h-1zM48 25h1v1h-1zM19 27h1v1h-1z"/>
<path fill="#f9b81a" d="M29 18h1v1h-1zM32 18h1v1h-1zM30 19h1v1h-1zM9 21h1v1h-1zM50 23h1v1h-1zM55 23h1v1h-1zM16 24h1v1h-1zM19 26h1v1h-1z"/>
<path fill="#f5a31c" d="M30 18h1v1h-1zM5 19h1v1h-1zM31 19h1v1h-1zM52 19h1v1h-1zM2 20h1v1h-1zM5 22h1v1h-1zM6 23h1v1h-1zM17 23h1v1h-1z"/>
<path fill="#ed761b" d="M31 18h1v1h-1zM3 20h1v1h-1zM2 21h1v1h-1z"/>
<path fill="#fbdf17" d="M7 19h1v1h-1zM28 19h1v1h-1zM55 19h2v1h-2zM51 20h1v1h-1zM0 21h1v1h-1zM11 21h1v1h-1zM26 21h1v1h-1zM54 21h1v1h-1zM56 21h1v1h-1zM59 21h1v1h-1zM10 22h2v1h-2zM34 22h2v1h-2zM37 22h1v1h-1zM51 22h1v1h-1zM15 23h1v1h-1zM24 23h1v1h-1zM1 24h1v1h-1zM12 24h1v1h-1zM47 24h1v1h-1zM59 24h1v1h-1zM21 25h1v1h-1zM38 25h1v1h-1zM41 25h1v1h-1zM45 25h1v1h-1zM43 27h1v1h-1zM20 28h1v1h-1z"/>
<path fill="#fcd514" d="M8 19h1v1h-1zM54 19h1v1h-1zM11 20h1v1h-1zM29 20h2v1h-2zM34 20h1v1h-1zM53 20h2v1h-2zM58 20h1v1h-1zM28 21h1v1h-1zM0 22h1v1h-1zM24 22h1v1h-1zM50 22h1v1h-1zM54 22h1v1h-1zM59 22h1v1h-1zM23 23h1v1h-1zM59 23h1v1h-1zM4 24h1v1h-1zM13 24h1v1h-1zM16 25h1v1h-1zM20 27h1v1h-1z"/>
<path fill="#e8e315" d="M27 19h1v1h-1zM35 19h1v1h-1zM24 20h2v1h-2zM55 20h1v1h-1zM60 20h1v1h-1zM25 21h1v1h-1zM27 21h1v1h-1zM35 21h1v1h-1zM50 21h1v1h-1zM14 22h1v1h-1zM23 22h1v1h-1zM46 22h1v1h-1zM11 23h2v1h-2zM22 23h1v1h-1zM25 23h1v1h-1zM44 23h1v1h-1zM47 23h1v1h-1zM0 24h1v1h-1zM38 24h1v1h-1zM42 24h1v1h-1zM12 25h1v1h-1zM37 25h1v1h-1zM44 25h1v1h-1zM17 26h1v1h-1zM41 26h1v1h-1zM14 27h1v1h-1z"/>
<path fill="#f7ae1c" d="M29 19h1v1h-1zM1 20h1v1h-1zM9 20h1v1h-1zM32 20h2v1h-2zM58 21h1v1h-1zM0 23h1v1h-1z"/>
<path fill="#ef7f19" d="M33 19h1v1h-1zM4 20h1v1h-1zM2 22h1v1h-1zM1 23h2v1h-2z"/>
<path fill="#fbc116" d="M34 19h1v1h-1zM53 19h1v1h-1zM6 20h1v1h-1zM10 20h1v1h-1zM10 21h1v1h-1zM32 21h1v1h-1zM48 23h1v1h-1zM58 23h1v1h-1zM15 24h1v1h-1zM48 24h1v1h-1z"/>
<path fill="#fcca14" d="M0 20h1v1h-1zM52 20h1v1h-1zM56 20h1v1h-1zM12 21h1v1h-1zM39 23h1v1h-1zM2 24h2v1h-2z"/>
<path fill="#f08718" d="M5 20h1v1h-1zM3 23h2v1h-2zM7 23h1v1h-1z"/>
<path fill="#eb6e1d" d="M1 21h1v1h-1z"/>
<path fill="#e41b1f" d="M3 21h1v1h-1z"/>
<path fill="#e42522" d="M4 21h1v1h-1z"/>
<path fill="#e9651e" d="M5 21h3v1h-3zM1 22h1v1h-1zM4 22h1v1h-1z"/>
<path fill="#e64720" d="M8 21h1v1h-1z"/>
<path fill="#e42022" d="M3 22h1v1h-1z"/>
<path fill="#e85b1f" d="M6 22h1v1h-1z"/>
<path fill="#e42b22" d="M7 22h2v1h-2z"/>
<path fill="#f18f19" d="M17 24h1v1h-1z"/>
<path fill="#42856e" d="M35 26h1v1h-1zM4 27h1v1h-1zM25 27h1v1h-1zM46 29h1v1h-1z"/>
<path fill="#f0f0f8" d="M32 33h1v1h-1zM29 35h1v1h-1zM30 37h2v1h-2zM25 38h1v1h-1zM31 38h1v1h-1zM32 39h1v1h-1zM35 39h1v1h-1zM29 41h2v1h-2zM35 41h1v1h-1zM30 42h1v1h-1zM29 44h1v1h-1zM46 44h1v1h-1zM35 45h1v1h-1z"/>
<path fill="#f9f9fc" d="M26 36h1v1h-1zM30 38h1v1h-1zM32 40h1v1h-1zM35 40h1v1h-1z"/>
</g></g>
<clipPath id="c21"><rect x="612.10" y="1187.00" width="396.80" height="396.60"/></clipPath>
<g clip-path="url(#c21)"><g transform="translate(606.487 1166.309) scale(6.61333 9.19750)">
<rect x="0" y="0" width="61" height="47" fill="#f9f9fc"/>
<path fill="#ffffff" d="M0 0h61v1h-61zM0 1h61v1h-61zM0 2h16v1h-16zM23 2h16v1h-16zM46 2h15v1h-15zM0 3h15v1h-15zM24 3h14v1h-14zM48 3h13v1h-13zM0 4h16v1h-16zM23 4h16v1h-16zM46 4h15v1h-15zM0 5h61v1h-61zM0 6h61v1h-61zM0 7h61v1h-61zM0 8h61v1h-61zM0 9h28v1h-28zM33 9h28v1h-28zM0 10h6v1h-6zM10 10h17v1h-17zM35 10h17v1h-17zM55 10h6v1h-6zM0 11h2v1h-2zM12 11h14v1h-14zM36 11h14v1h-14zM60 11h1v1h-1zM13 12h12v1h-12zM37 12h12v1h-12zM14 13h10v1h-10zM37 13h11v1h-11zM15 14h9v1h-9zM38 14h9v1h-9zM16 15h7v1h-7zM39 15h7v1h-7zM17 16h4v1h-4zM40 16h5v1h-5zM29 29h3v1h-3zM27 30h7v1h-7zM4 31h7v1h-7zM26 31h10v1h-10zM50 31h8v1h-8zM0 32h13v1h-13zM25 32h11v1h-11zM49 32h12v1h-12zM0 33h13v1h-13zM25 33h12v1h-12zM48 33h13v1h-13zM0 34h14v1h-14zM24 34h14v1h-14zM48 34h13v1h-13zM0 35h15v1h-15zM23 35h16v1h-16zM46 35h15v1h-15zM0 36h16v1h-16zM22 36h18v1h-18zM45 36h16v1h-16zM0 37h61v1h-61zM0 38h61v1h-61zM0 39h61v1h-61zM0 40h61v1h-61zM0 41h61v1h-61zM0 42h61v1h-61zM0 43h61v1h-61zM0 44h61v1h-61zM0 45h61v1h-61zM0 46h61v1h-61z"/>
<path fill="#f0f0f8" d="M18 3h3v1h-3zM41 3h4v1h-4zM28 10h2v1h-2zM32 10h1v1h-1zM6 11h4v1h-4zM27 11h1v1h-1zM34 11h1v1h-1zM52 11h3v1h-3zM2 12h3v1h-3zM11 12h1v1h-1zM35 12h1v1h-1zM50 12h1v1h-1zM57 12h3v1h-3zM12 13h1v1h-1zM36 13h1v1h-1zM13 14h1v1h-1zM24 14h1v1h-1zM48 14h1v1h-1zM14 15h1v1h-1zM47 15h1v1h-1zM15 16h1v1h-1zM38 16h1v1h-1zM46 16h1v1h-1zM16 17h1v1h-1zM21 17h1v1h-1zM18 18h2v1h-2zM42 18h1v1h-1zM28 28h1v1h-1zM32 28h2v1h-2zM6 29h4v1h-4zM34 29h1v1h-1zM51 29h5v1h-5zM1 30h3v1h-3zM11 30h1v1h-1zM58 30h3v1h-3zM13 32h1v1h-1zM24 32h1v1h-1zM14 33h1v1h-1zM23 33h1v1h-1zM15 34h1v1h-1zM22 34h1v1h-1zM21 35h1v1h-1zM40 35h1v1h-1zM44 35h1v1h-1z"/>
<path fill="#e9e9f5" d="M30 10h2v1h-2zM33 11h1v1h-1zM5 12h1v1h-1zM10 12h1v1h-1zM26 12h1v1h-1zM51 12h1v1h-1zM56 12h1v1h-1zM0 13h2v1h-2zM25 13h1v1h-1zM49 13h1v1h-1zM60 13h1v1h-1zM37 15h1v1h-1zM23 16h1v1h-1zM22 17h1v1h-1zM39 17h1v1h-1zM45 17h1v1h-1zM17 18h1v1h-1zM20 18h1v1h-1zM41 18h1v1h-1zM43 18h1v1h-1zM30 27h2v1h-2zM27 28h1v1h-1zM4 29h2v1h-2zM10 29h1v1h-1zM26 29h1v1h-1zM35 29h1v1h-1zM50 29h1v1h-1zM56 29h2v1h-2zM0 30h1v1h-1zM12 30h1v1h-1zM25 30h1v1h-1zM49 30h1v1h-1zM48 31h1v1h-1zM37 32h1v1h-1zM38 33h1v1h-1zM39 34h1v1h-1zM45 34h1v1h-1zM17 35h2v1h-2zM20 35h1v1h-1zM41 35h1v1h-1zM43 35h1v1h-1z"/>
<path fill="#e3e3f3" d="M28 11h1v1h-1zM6 12h4v1h-4zM34 12h1v1h-1zM52 12h4v1h-4zM2 13h1v1h-1zM11 13h1v1h-1zM58 13h2v1h-2zM13 15h1v1h-1zM24 15h1v1h-1zM14 16h1v1h-1zM15 17h1v1h-1zM21 18h1v1h-1zM40 18h1v1h-1zM44 18h1v1h-1zM29 27h1v1h-1zM32 27h1v1h-1zM7 28h2v1h-2zM34 28h1v1h-1zM53 28h1v1h-1zM3 29h1v1h-1zM11 29h1v1h-1zM58 29h1v1h-1zM36 30h1v1h-1zM13 31h1v1h-1zM24 31h1v1h-1zM47 32h1v1h-1zM15 33h1v1h-1zM46 33h1v1h-1zM16 34h1v1h-1zM21 34h1v1h-1zM19 35h1v1h-1zM42 35h1v1h-1z"/>
<path fill="#dedef1" d="M29 11h1v1h-1zM32 11h1v1h-1zM27 12h1v1h-1zM3 13h1v1h-1zM35 13h1v1h-1zM50 13h1v1h-1zM57 13h1v1h-1zM12 14h1v1h-1zM36 14h1v1h-1zM48 15h1v1h-1zM47 16h1v1h-1zM38 17h1v1h-1zM46 17h1v1h-1zM16 18h1v1h-1zM18 19h2v1h-2zM42 19h1v1h-1zM28 27h1v1h-1zM33 27h1v1h-1zM6 28h1v1h-1zM9 28h1v1h-1zM51 28h2v1h-2zM54 28h2v1h-2zM1 29h2v1h-2zM59 29h1v1h-1zM14 32h1v1h-1zM23 32h1v1h-1zM22 33h1v1h-1zM40 34h1v1h-1zM44 34h1v1h-1z"/>
<path fill="#d7d7ed" d="M30 11h2v1h-2zM4 13h1v1h-1zM26 13h1v1h-1zM56 13h1v1h-1zM0 14h1v1h-1zM25 14h1v1h-1zM49 14h1v1h-1zM37 16h1v1h-1zM39 18h1v1h-1zM45 18h1v1h-1zM20 19h1v1h-1zM41 19h1v1h-1zM43 19h1v1h-1zM5 28h1v1h-1zM10 28h1v1h-1zM26 28h1v1h-1zM56 28h1v1h-1zM0 29h1v1h-1zM25 29h1v1h-1zM49 29h1v1h-1zM60 29h1v1h-1zM37 31h1v1h-1zM39 33h1v1h-1zM17 34h1v1h-1zM20 34h1v1h-1z"/>
<path fill="#c5c4e4" d="M28 12h1v1h-1zM6 13h1v1h-1zM9 13h1v1h-1zM52 13h1v1h-1zM54 13h1v1h-1zM2 14h1v1h-1zM59 14h1v1h-1zM13 16h1v1h-1zM24 16h1v1h-1zM14 17h1v1h-1zM15 18h1v1h-1zM21 19h1v1h-1zM29 26h1v1h-1zM32 26h1v1h-1zM34 27h1v1h-1zM3 28h1v1h-1zM11 28h1v1h-1zM36 29h1v1h-1zM47 31h1v1h-1zM16 33h1v1h-1zM42 34h1v1h-1z"/>
<path fill="#b1add8" d="M29 12h1v1h-1zM27 13h1v1h-1zM35 14h1v1h-1zM50 14h1v1h-1zM57 14h1v1h-1zM12 15h1v1h-1zM48 16h1v1h-1zM38 18h1v1h-1zM46 18h1v1h-1zM16 19h1v1h-1zM19 20h1v1h-1zM42 20h1v1h-1zM28 26h1v1h-1zM6 27h1v1h-1zM55 27h1v1h-1zM59 28h1v1h-1zM22 32h1v1h-1zM40 33h1v1h-1zM44 33h1v1h-1z"/>
<path fill="#a6a2d1" d="M30 12h2v1h-2zM4 14h1v1h-1zM26 14h1v1h-1zM37 17h1v1h-1zM39 19h1v1h-1zM45 19h1v1h-1zM18 20h1v1h-1zM41 20h1v1h-1zM43 20h1v1h-1zM33 26h1v1h-1zM5 27h1v1h-1zM10 27h1v1h-1zM51 27h1v1h-1zM1 28h1v1h-1zM25 28h1v1h-1zM49 28h1v1h-1zM60 28h1v1h-1zM37 30h1v1h-1zM23 31h1v1h-1zM17 33h1v1h-1z"/>
<path fill="#bbb8de" d="M32 12h1v1h-1zM7 13h2v1h-2zM34 13h1v1h-1zM53 13h1v1h-1zM3 14h1v1h-1zM11 14h1v1h-1zM58 14h1v1h-1zM36 15h1v1h-1zM47 17h1v1h-1zM7 27h3v1h-3zM52 27h3v1h-3zM2 28h1v1h-1zM58 28h1v1h-1zM13 30h1v1h-1zM24 30h1v1h-1zM14 31h1v1h-1zM15 32h1v1h-1zM21 33h1v1h-1z"/>
<path fill="#cfcfe9" d="M33 12h1v1h-1zM5 13h1v1h-1zM10 13h1v1h-1zM51 13h1v1h-1zM55 13h1v1h-1zM1 14h1v1h-1zM60 14h1v1h-1zM23 17h1v1h-1zM22 18h1v1h-1zM17 19h1v1h-1zM40 19h1v1h-1zM44 19h1v1h-1zM30 26h2v1h-2zM27 27h1v1h-1zM4 28h1v1h-1zM35 28h1v1h-1zM50 28h1v1h-1zM57 28h1v1h-1zM12 29h1v1h-1zM48 30h1v1h-1zM38 32h1v1h-1zM46 32h1v1h-1zM45 33h1v1h-1zM18 34h2v1h-2zM41 34h1v1h-1zM43 34h1v1h-1z"/>
<path fill="#8a8ac6" d="M28 13h1v1h-1zM6 14h1v1h-1zM55 14h1v1h-1zM59 15h1v1h-1zM13 17h1v1h-1zM24 17h1v1h-1zM14 18h1v1h-1zM40 20h1v1h-1zM44 20h1v1h-1zM29 25h1v1h-1zM32 25h1v1h-1zM36 28h1v1h-1zM47 30h1v1h-1zM46 31h1v1h-1zM16 32h1v1h-1zM19 33h1v1h-1zM42 33h1v1h-1z"/>
<path fill="#777bba" d="M29 13h1v1h-1zM27 14h1v1h-1zM35 15h1v1h-1zM50 15h1v1h-1zM12 16h1v1h-1zM48 17h1v1h-1zM38 19h1v1h-1zM46 19h1v1h-1zM16 20h1v1h-1zM42 21h1v1h-1zM28 25h1v1h-1zM6 26h1v1h-1zM55 26h1v1h-1zM59 27h1v1h-1zM40 32h1v1h-1zM44 32h1v1h-1z"/>
<path fill="#6e76b8" d="M30 13h1v1h-1zM26 15h1v1h-1zM25 16h1v1h-1zM37 18h1v1h-1zM20 21h1v1h-1zM5 26h1v1h-1zM10 26h1v1h-1zM26 26h1v1h-1zM56 26h1v1h-1zM0 27h1v1h-1zM25 27h1v1h-1zM37 29h1v1h-1z"/>
<path fill="#7277b8" d="M31 13h1v1h-1zM4 15h1v1h-1zM57 15h1v1h-1zM39 20h1v1h-1zM45 20h1v1h-1zM18 21h2v1h-2zM41 21h1v1h-1zM43 21h1v1h-1zM33 25h1v1h-1zM51 26h1v1h-1zM1 27h1v1h-1zM49 27h1v1h-1zM60 27h1v1h-1zM23 30h1v1h-1zM22 31h1v1h-1zM17 32h1v1h-1z"/>
<path fill="#7d81bf" d="M32 13h1v1h-1zM53 14h1v1h-1zM3 15h1v1h-1zM11 15h1v1h-1zM58 15h1v1h-1zM36 16h1v1h-1zM47 18h1v1h-1zM7 26h3v1h-3zM52 26h3v1h-3zM2 27h1v1h-1zM14 30h1v1h-1zM15 31h1v1h-1zM21 32h1v1h-1z"/>
<path fill="#908ec9" d="M33 13h1v1h-1zM51 14h1v1h-1zM1 15h1v1h-1zM60 15h1v1h-1zM22 19h1v1h-1zM17 20h1v1h-1zM30 25h2v1h-2zM27 26h1v1h-1zM4 27h1v1h-1zM35 27h1v1h-1zM50 27h1v1h-1zM57 27h1v1h-1zM12 28h1v1h-1zM48 29h1v1h-1zM38 31h1v1h-1zM18 33h1v1h-1zM41 33h1v1h-1zM43 33h1v1h-1z"/>
<path fill="#9b98cd" d="M5 14h1v1h-1zM10 14h1v1h-1zM56 14h1v1h-1zM0 15h1v1h-1zM25 15h1v1h-1zM49 15h1v1h-1zM23 18h1v1h-1zM20 20h1v1h-1zM26 27h1v1h-1zM56 27h1v1h-1zM0 28h1v1h-1zM39 32h1v1h-1zM45 32h1v1h-1zM20 33h1v1h-1z"/>
<path fill="#8488c4" d="M7 14h3v1h-3zM34 14h1v1h-1zM52 14h1v1h-1zM54 14h1v1h-1zM2 15h1v1h-1zM15 19h1v1h-1zM21 20h1v1h-1zM34 26h1v1h-1zM3 27h1v1h-1zM11 27h1v1h-1zM58 27h1v1h-1zM13 29h1v1h-1zM24 29h1v1h-1z"/>
<path fill="#5d72b8" d="M28 14h1v1h-1zM6 15h1v1h-1zM55 15h1v1h-1zM59 16h1v1h-1zM13 18h1v1h-1zM24 18h1v1h-1zM14 19h1v1h-1zM44 21h1v1h-1zM29 24h1v1h-1zM47 29h1v1h-1zM16 31h1v1h-1zM19 32h1v1h-1zM42 32h1v1h-1z"/>
<path fill="#4b77a6" d="M29 14h1v1h-1zM27 15h1v1h-1zM50 16h1v1h-1zM57 16h1v1h-1zM12 17h1v1h-1zM38 20h1v1h-1zM19 22h1v1h-1zM42 22h1v1h-1zM33 24h1v1h-1zM51 25h1v1h-1zM55 25h1v1h-1zM1 26h1v1h-1zM23 29h1v1h-1zM22 30h1v1h-1zM40 31h1v1h-1zM44 31h1v1h-1z"/>
<path fill="#48789a" d="M30 14h2v1h-2zM4 16h1v1h-1zM26 16h1v1h-1zM25 17h1v1h-1zM37 19h1v1h-1zM39 21h1v1h-1zM45 21h1v1h-1zM18 22h1v1h-1zM41 22h1v1h-1zM43 22h1v1h-1zM5 25h1v1h-1zM10 25h1v1h-1zM25 26h1v1h-1zM49 26h1v1h-1zM60 26h1v1h-1zM37 28h1v1h-1zM17 31h1v1h-1z"/>
<path fill="#4d74ae" d="M32 14h1v1h-1zM3 16h1v1h-1zM35 16h1v1h-1zM48 18h1v1h-1zM47 19h1v1h-1zM46 20h1v1h-1zM16 21h1v1h-1zM28 24h1v1h-1zM6 25h1v1h-1zM9 25h1v1h-1zM2 26h1v1h-1zM59 26h1v1h-1z"/>
<path fill="#6473b8" d="M33 14h1v1h-1zM51 15h1v1h-1zM1 16h1v1h-1zM60 16h1v1h-1zM40 21h1v1h-1zM30 24h2v1h-2zM27 25h1v1h-1zM4 26h1v1h-1zM35 26h1v1h-1zM50 26h1v1h-1zM57 26h1v1h-1zM36 27h1v1h-1zM46 30h1v1h-1zM18 32h1v1h-1z"/>
<path fill="#6a75b8" d="M5 15h1v1h-1zM10 15h1v1h-1zM56 15h1v1h-1zM0 16h1v1h-1zM49 16h1v1h-1zM23 19h1v1h-1zM22 20h1v1h-1zM17 21h1v1h-1zM12 27h1v1h-1zM48 28h1v1h-1zM38 30h1v1h-1zM39 31h1v1h-1zM45 31h1v1h-1zM20 32h1v1h-1zM41 32h1v1h-1zM43 32h1v1h-1z"/>
<path fill="#5071b6" d="M7 15h2v1h-2zM34 15h1v1h-1zM53 15h1v1h-1zM11 16h1v1h-1zM58 16h1v1h-1zM36 17h1v1h-1zM7 25h2v1h-2zM52 25h3v1h-3zM14 29h1v1h-1zM15 30h1v1h-1zM21 31h1v1h-1z"/>
<path fill="#5671b8" d="M9 15h1v1h-1zM52 15h1v1h-1zM54 15h1v1h-1zM2 16h1v1h-1zM15 20h1v1h-1zM21 21h1v1h-1zM32 24h1v1h-1zM34 25h1v1h-1zM3 26h1v1h-1zM11 26h1v1h-1zM58 26h1v1h-1zM13 28h1v1h-1zM24 28h1v1h-1z"/>
<path fill="#3e7f72" d="M28 15h1v1h-1zM6 16h1v1h-1zM59 17h1v1h-1zM13 19h1v1h-1zM15 21h1v1h-1zM29 23h1v1h-1zM32 23h1v1h-1zM11 25h1v1h-1zM24 27h1v1h-1zM19 31h1v1h-1zM42 31h1v1h-1z"/>
<path fill="#4a935c" d="M29 15h1v1h-1zM27 16h1v1h-1zM50 17h1v1h-1zM12 18h1v1h-1zM48 19h1v1h-1zM38 21h1v1h-1zM28 23h1v1h-1zM6 24h1v1h-1zM9 24h1v1h-1zM2 25h1v1h-1zM59 25h1v1h-1zM23 28h1v1h-1zM22 29h1v1h-1zM40 30h1v1h-1zM44 30h1v1h-1z"/>
<path fill="#4ea14b" d="M30 15h2v1h-2zM26 17h1v1h-1zM49 18h1v1h-1zM23 21h1v1h-1zM20 23h1v1h-1zM41 23h1v1h-1zM43 23h1v1h-1zM5 24h1v1h-1zM10 24h1v1h-1zM26 24h1v1h-1zM56 24h1v1h-1zM48 26h1v1h-1zM39 29h1v1h-1z"/>
<path fill="#468c67" d="M32 15h1v1h-1zM8 16h1v1h-1zM53 16h1v1h-1zM3 17h1v1h-1zM11 17h1v1h-1zM35 17h1v1h-1zM58 17h1v1h-1zM36 18h1v1h-1zM47 20h1v1h-1zM46 21h1v1h-1zM16 22h1v1h-1zM7 24h2v1h-2zM52 24h3v1h-3zM14 28h1v1h-1zM21 30h1v1h-1z"/>
<path fill="#417a7f" d="M33 15h1v1h-1zM5 16h1v1h-1zM10 16h1v1h-1zM0 17h1v1h-1zM22 21h1v1h-1zM17 22h1v1h-1zM30 23h1v1h-1zM12 26h1v1h-1zM48 27h1v1h-1zM38 29h1v1h-1zM45 30h1v1h-1zM41 31h1v1h-1zM43 31h1v1h-1z"/>
<path fill="#42856e" d="M7 16h1v1h-1zM9 16h1v1h-1zM34 16h1v1h-1zM52 16h1v1h-1zM54 16h1v1h-1zM2 17h1v1h-1zM21 22h1v1h-1zM34 24h1v1h-1zM3 25h1v1h-1zM58 25h1v1h-1zM13 27h1v1h-1zM15 29h1v1h-1z"/>
<path fill="#5cb139" d="M28 16h1v1h-1zM6 17h1v1h-1zM9 17h1v1h-1zM55 17h1v1h-1zM2 18h1v1h-1zM59 18h1v1h-1zM15 22h1v1h-1zM29 22h1v1h-1zM32 22h1v1h-1zM21 23h1v1h-1zM34 23h1v1h-1zM3 24h1v1h-1zM11 24h1v1h-1zM13 26h1v1h-1zM24 26h1v1h-1zM19 30h1v1h-1zM42 30h1v1h-1z"/>
<path fill="#68b535" d="M29 16h1v1h-1zM32 16h1v1h-1zM27 17h1v1h-1zM53 17h1v1h-1zM3 18h1v1h-1zM50 18h1v1h-1zM12 19h1v1h-1zM37 21h1v1h-1zM28 22h1v1h-1zM38 22h1v1h-1zM6 23h4v1h-4zM16 23h1v1h-1zM52 23h3v1h-3zM2 24h1v1h-1zM59 24h1v1h-1zM37 26h1v1h-1zM23 27h1v1h-1zM22 28h1v1h-1zM40 29h1v1h-1zM44 29h1v1h-1z"/>
<path fill="#76b931" d="M30 16h2v1h-2zM10 18h1v1h-1zM56 18h1v1h-1zM49 19h1v1h-1zM24 21h1v1h-1zM5 23h1v1h-1zM22 23h1v1h-1zM35 23h1v1h-1zM56 23h1v1h-1zM0 24h1v1h-1zM12 24h1v1h-1zM17 24h1v1h-1zM20 24h1v1h-1zM36 24h1v1h-1zM24 25h1v1h-1zM47 26h1v1h-1zM38 27h1v1h-1zM46 27h1v1h-1zM39 28h1v1h-1zM45 28h1v1h-1zM20 29h1v1h-1z"/>
<path fill="#51a844" d="M33 16h1v1h-1zM5 17h1v1h-1zM10 17h1v1h-1zM56 17h1v1h-1zM0 18h1v1h-1zM22 22h1v1h-1zM17 23h1v1h-1zM0 25h1v1h-1zM12 25h1v1h-1zM36 25h1v1h-1zM38 28h1v1h-1zM45 29h1v1h-1zM20 30h1v1h-1zM43 30h1v1h-1z"/>
<path fill="#3e7b77" d="M51 16h1v1h-1zM55 16h1v1h-1zM1 17h1v1h-1zM60 17h1v1h-1zM24 19h1v1h-1zM14 20h1v1h-1zM40 22h1v1h-1zM44 22h1v1h-1zM31 23h1v1h-1zM27 24h1v1h-1zM4 25h1v1h-1zM35 25h1v1h-1zM50 25h1v1h-1zM57 25h1v1h-1zM36 26h1v1h-1zM47 28h1v1h-1zM46 29h1v1h-1zM16 30h1v1h-1zM18 31h1v1h-1z"/>
<path fill="#44798d" d="M56 16h1v1h-1zM49 17h1v1h-1zM23 20h1v1h-1zM20 22h1v1h-1zM26 25h1v1h-1zM56 25h1v1h-1zM0 26h1v1h-1zM39 30h1v1h-1zM20 31h1v1h-1z"/>
<path fill="#4d9a53" d="M4 17h1v1h-1zM57 17h1v1h-1zM25 18h1v1h-1zM37 20h1v1h-1zM39 22h1v1h-1zM45 22h1v1h-1zM18 23h2v1h-2zM33 23h1v1h-1zM42 23h1v1h-1zM51 24h1v1h-1zM55 24h1v1h-1zM1 25h1v1h-1zM25 25h1v1h-1zM49 25h1v1h-1zM60 25h1v1h-1zM37 27h1v1h-1zM17 30h1v1h-1z"/>
<path fill="#62b337" d="M7 17h2v1h-2zM34 17h1v1h-1zM52 17h1v1h-1zM54 17h1v1h-1zM11 18h1v1h-1zM35 18h1v1h-1zM58 18h1v1h-1zM36 19h1v1h-1zM48 20h1v1h-1zM47 21h1v1h-1zM46 22h1v1h-1zM58 24h1v1h-1zM14 27h1v1h-1zM15 28h1v1h-1zM21 29h1v1h-1z"/>
<path fill="#7ebc30" d="M28 17h1v1h-1zM33 17h1v1h-1zM5 18h1v1h-1zM51 18h1v1h-1zM55 18h1v1h-1zM0 19h2v1h-2zM60 19h1v1h-1zM36 20h1v1h-1zM13 21h1v1h-1zM29 21h3v1h-3zM14 22h1v1h-1zM27 22h1v1h-1zM34 22h1v1h-1zM4 23h1v1h-1zM11 23h1v1h-1zM15 23h1v1h-1zM50 23h1v1h-1zM57 23h1v1h-1zM40 24h1v1h-1zM44 24h1v1h-1zM13 25h1v1h-1zM16 28h1v1h-1zM18 29h1v1h-1zM41 29h1v1h-1zM43 29h1v1h-1z"/>
<path fill="#8cc12f" d="M29 17h1v1h-1zM32 17h1v1h-1zM7 18h2v1h-2zM27 18h1v1h-1zM53 18h1v1h-1zM3 19h1v1h-1zM26 19h1v1h-1zM50 19h1v1h-1zM57 19h2v1h-2zM49 20h1v1h-1zM28 21h1v1h-1zM33 21h1v1h-1zM36 21h1v1h-1zM6 22h4v1h-4zM13 22h1v1h-1zM26 22h1v1h-1zM35 22h1v1h-1zM48 22h1v1h-1zM51 22h5v1h-5zM2 23h1v1h-1zM12 23h1v1h-1zM14 23h1v1h-1zM23 23h2v1h-2zM36 23h2v1h-2zM49 23h1v1h-1zM59 23h1v1h-1zM13 24h1v1h-1zM22 24h1v1h-1zM24 24h1v1h-1zM37 24h1v1h-1zM39 24h1v1h-1zM45 24h1v1h-1zM48 24h1v1h-1zM47 25h1v1h-1zM38 26h1v1h-1zM46 26h1v1h-1zM39 27h1v1h-1zM45 27h1v1h-1zM17 28h1v1h-1zM40 28h1v1h-1zM44 28h1v1h-1z"/>
<path fill="#94c22e" d="M30 17h2v1h-2zM28 18h1v1h-1zM33 18h1v1h-1zM4 19h2v1h-2zM10 19h1v1h-1zM27 19h1v1h-1zM34 19h1v1h-1zM51 19h1v1h-1zM56 19h1v1h-1zM0 20h1v1h-1zM11 20h1v1h-1zM26 20h1v1h-1zM35 20h1v1h-1zM12 21h1v1h-1zM25 21h3v1h-3zM34 21h2v1h-2zM49 21h1v1h-1zM4 22h2v1h-2zM10 22h3v1h-3zM25 22h1v1h-1zM36 22h1v1h-1zM49 22h2v1h-2zM56 22h1v1h-1zM0 23h2v1h-2zM13 23h1v1h-1zM47 23h2v1h-2zM60 23h1v1h-1zM14 24h2v1h-2zM23 24h1v1h-1zM38 24h1v1h-1zM46 24h2v1h-2zM14 25h10v1h-10zM38 25h9v1h-9zM15 26h1v1h-1zM22 26h1v1h-1zM39 26h1v1h-1zM16 27h1v1h-1zM21 27h1v1h-1zM20 28h1v1h-1zM41 28h1v1h-1zM43 28h1v1h-1z"/>
<path fill="#56ae3d" d="M51 17h1v1h-1zM1 18h1v1h-1zM60 18h1v1h-1zM13 20h1v1h-1zM24 20h1v1h-1zM14 21h1v1h-1zM30 22h2v1h-2zM27 23h1v1h-1zM40 23h1v1h-1zM44 23h1v1h-1zM4 24h1v1h-1zM35 24h1v1h-1zM50 24h1v1h-1zM57 24h1v1h-1zM47 27h1v1h-1zM46 28h1v1h-1zM16 29h1v1h-1zM18 30h1v1h-1zM41 30h1v1h-1z"/>
<path fill="#6eb733" d="M4 18h1v1h-1zM26 18h1v1h-1zM57 18h1v1h-1zM25 19h1v1h-1zM23 22h1v1h-1zM33 22h1v1h-1zM10 23h1v1h-1zM26 23h1v1h-1zM39 23h1v1h-1zM45 23h1v1h-1zM51 23h1v1h-1zM55 23h1v1h-1zM1 24h1v1h-1zM18 24h2v1h-2zM25 24h1v1h-1zM41 24h3v1h-3zM49 24h1v1h-1zM60 24h1v1h-1zM48 25h1v1h-1zM17 29h1v1h-1z"/>
<path fill="#85be30" d="M6 18h1v1h-1zM9 18h1v1h-1zM34 18h1v1h-1zM52 18h1v1h-1zM54 18h1v1h-1zM2 19h1v1h-1zM11 19h1v1h-1zM35 19h1v1h-1zM59 19h1v1h-1zM12 20h1v1h-1zM25 20h1v1h-1zM32 21h1v1h-1zM48 21h1v1h-1zM24 22h1v1h-1zM37 22h1v1h-1zM47 22h1v1h-1zM3 23h1v1h-1zM25 23h1v1h-1zM38 23h1v1h-1zM46 23h1v1h-1zM58 23h1v1h-1zM16 24h1v1h-1zM21 24h1v1h-1zM37 25h1v1h-1zM14 26h1v1h-1zM23 26h1v1h-1zM15 27h1v1h-1zM22 27h1v1h-1zM21 28h1v1h-1zM19 29h1v1h-1zM42 29h1v1h-1z"/>
<path fill="#9cc32d" d="M29 18h1v1h-1zM32 18h1v1h-1zM6 19h4v1h-4zM28 19h2v1h-2zM32 19h2v1h-2zM52 19h4v1h-4zM1 20h5v1h-5zM10 20h1v1h-1zM27 20h8v1h-8zM50 20h2v1h-2zM56 20h5v1h-5zM4 21h8v1h-8zM50 21h7v1h-7zM1 22h3v1h-3zM57 22h3v1h-3zM16 26h3v1h-3zM20 26h2v1h-2zM40 26h2v1h-2zM43 26h3v1h-3zM17 27h1v1h-1zM20 27h1v1h-1zM40 27h2v1h-2zM43 27h2v1h-2zM18 28h2v1h-2zM42 28h1v1h-1z"/>
<path fill="#a3c52b" d="M30 18h2v1h-2zM30 19h2v1h-2zM6 20h4v1h-4zM52 20h4v1h-4zM0 21h4v1h-4zM57 21h4v1h-4zM0 22h1v1h-1zM60 22h1v1h-1zM19 26h1v1h-1zM42 26h1v1h-1zM18 27h2v1h-2zM42 27h1v1h-1z"/>
</g></g>
<clipPath id="c22"><rect x="1134.00" y="1187.00" width="396.40" height="396.60"/></clipPath>
<g clip-path="url(#c22)"><g transform="translate(1128.393 1166.309) scale(6.60667 9.19750)">
<rect x="0" y="0" width="61" height="47" fill="#faead7"/>
<path fill="#f9dfcb" d="M0 0h1v1h-1zM2 0h1v1h-1zM10 0h1v1h-1zM28 0h2v1h-2zM34 0h1v1h-1zM36 0h1v1h-1zM46 0h1v1h-1zM54 0h1v1h-1zM9 1h1v1h-1zM29 1h1v1h-1zM44 1h1v1h-1zM46 1h1v1h-1zM54 1h2v1h-2zM58 1h1v1h-1zM0 2h1v1h-1zM2 2h1v1h-1zM10 2h1v1h-1zM29 2h2v1h-2zM47 2h1v1h-1zM49 2h1v1h-1zM0 3h1v1h-1zM6 3h1v1h-1zM10 3h1v1h-1zM19 3h1v1h-1zM30 3h1v1h-1zM42 3h1v1h-1zM44 3h1v1h-1zM0 4h1v1h-1zM7 4h1v1h-1zM9 4h1v1h-1zM25 4h2v1h-2zM44 4h1v1h-1zM1 5h1v1h-1zM13 5h1v1h-1zM19 5h1v1h-1zM23 5h1v1h-1zM25 5h1v1h-1zM47 5h1v1h-1zM6 6h1v1h-1zM35 6h1v1h-1zM48 6h1v1h-1zM7 7h1v1h-1zM12 7h1v1h-1zM20 7h1v1h-1zM22 7h1v1h-1zM29 7h1v1h-1zM51 7h1v1h-1zM57 7h2v1h-2zM17 8h1v1h-1zM28 8h1v1h-1zM32 8h1v1h-1zM34 8h1v1h-1zM57 8h1v1h-1zM3 9h1v1h-1zM10 9h1v1h-1zM17 9h2v1h-2zM20 9h1v1h-1zM22 9h1v1h-1zM37 9h1v1h-1zM40 9h1v1h-1zM42 9h1v1h-1zM50 9h1v1h-1zM54 9h1v1h-1zM59 9h1v1h-1zM3 10h1v1h-1zM5 10h2v1h-2zM37 10h1v1h-1zM42 10h1v1h-1zM53 10h1v1h-1zM56 10h1v1h-1zM10 11h1v1h-1zM20 11h1v1h-1zM22 11h1v1h-1zM37 11h1v1h-1zM42 11h1v1h-1zM55 11h1v1h-1zM5 12h1v1h-1zM11 12h1v1h-1zM24 12h2v1h-2zM31 12h1v1h-1zM37 12h1v1h-1zM40 12h1v1h-1zM42 12h1v1h-1zM51 12h1v1h-1zM54 12h1v1h-1zM26 13h1v1h-1zM31 13h1v1h-1zM45 13h1v1h-1zM58 13h1v1h-1zM14 14h1v1h-1zM14 15h1v1h-1zM14 28h1v1h-1zM23 28h2v1h-2zM33 28h1v1h-1zM53 28h1v1h-1zM7 29h1v1h-1zM24 29h1v1h-1zM33 29h2v1h-2zM42 29h1v1h-1zM49 29h1v1h-1zM52 29h1v1h-1zM44 30h1v1h-1zM45 38h1v1h-1z"/>
<path fill="#f9d8c7" d="M1 0h1v1h-1zM20 0h1v1h-1zM22 0h1v1h-1zM30 0h1v1h-1zM35 0h1v1h-1zM43 0h1v1h-1zM59 0h2v1h-2zM0 1h1v1h-1zM6 1h1v1h-1zM12 1h1v1h-1zM19 1h1v1h-1zM36 1h1v1h-1zM49 1h2v1h-2zM56 1h1v1h-1zM5 2h1v1h-1zM7 2h1v1h-1zM9 2h1v1h-1zM19 2h1v1h-1zM28 2h1v1h-1zM38 2h1v1h-1zM45 2h1v1h-1zM53 2h1v1h-1zM60 2h1v1h-1zM2 3h1v1h-1zM5 3h1v1h-1zM13 3h1v1h-1zM23 3h2v1h-2zM26 3h1v1h-1zM32 3h1v1h-1zM40 3h1v1h-1zM45 3h1v1h-1zM47 3h1v1h-1zM53 3h1v1h-1zM5 4h1v1h-1zM14 4h1v1h-1zM4 5h1v1h-1zM7 5h2v1h-2zM32 5h2v1h-2zM38 5h3v1h-3zM43 5h2v1h-2zM53 5h1v1h-1zM60 5h1v1h-1zM5 6h1v1h-1zM12 6h1v1h-1zM14 6h1v1h-1zM16 6h2v1h-2zM25 6h2v1h-2zM37 6h1v1h-1zM39 6h1v1h-1zM45 6h1v1h-1zM47 6h1v1h-1zM49 6h1v1h-1zM55 6h1v1h-1zM4 7h1v1h-1zM6 7h1v1h-1zM18 7h1v1h-1zM25 7h1v1h-1zM27 7h1v1h-1zM34 7h1v1h-1zM36 7h1v1h-1zM41 7h1v1h-1zM48 7h1v1h-1zM0 8h1v1h-1zM4 8h1v1h-1zM8 8h1v1h-1zM12 8h2v1h-2zM16 8h1v1h-1zM19 8h1v1h-1zM33 8h1v1h-1zM42 8h1v1h-1zM44 8h1v1h-1zM48 8h1v1h-1zM7 9h1v1h-1zM19 9h1v1h-1zM25 9h1v1h-1zM57 9h1v1h-1zM1 10h1v1h-1zM19 10h1v1h-1zM24 10h1v1h-1zM26 10h1v1h-1zM29 10h1v1h-1zM31 10h1v1h-1zM41 10h1v1h-1zM58 10h1v1h-1zM0 11h1v1h-1zM24 11h1v1h-1zM29 11h1v1h-1zM34 11h1v1h-1zM38 11h1v1h-1zM48 11h1v1h-1zM57 11h1v1h-1zM0 12h1v1h-1zM14 12h1v1h-1zM20 12h2v1h-2zM36 12h1v1h-1zM43 12h2v1h-2zM50 12h1v1h-1zM8 13h1v1h-1zM16 13h1v1h-1zM21 13h1v1h-1zM24 13h1v1h-1zM51 13h1v1h-1zM7 14h2v1h-2zM37 14h1v1h-1zM55 14h1v1h-1zM58 14h1v1h-1zM2 16h1v1h-1zM38 27h2v1h-2zM0 28h1v1h-1zM30 28h1v1h-1zM40 28h1v1h-1zM44 28h1v1h-1zM48 28h1v1h-1zM57 28h1v1h-1zM0 29h1v1h-1z"/>
<path fill="#f9d5c6" d="M3 0h1v1h-1zM7 0h1v1h-1zM18 0h1v1h-1zM25 0h1v1h-1zM40 0h1v1h-1zM49 0h1v1h-1zM3 1h2v1h-2zM14 1h1v1h-1zM16 1h1v1h-1zM30 1h1v1h-1zM35 1h1v1h-1zM41 1h1v1h-1zM43 1h1v1h-1zM48 1h1v1h-1zM4 2h1v1h-1zM8 2h1v1h-1zM34 2h1v1h-1zM37 2h1v1h-1zM41 2h1v1h-1zM51 2h1v1h-1zM57 2h1v1h-1zM15 3h1v1h-1zM18 3h1v1h-1zM29 3h1v1h-1zM34 3h1v1h-1zM39 3h1v1h-1zM41 3h1v1h-1zM49 3h1v1h-1zM57 3h1v1h-1zM2 4h1v1h-1zM8 4h1v1h-1zM20 4h1v1h-1zM30 4h1v1h-1zM32 4h1v1h-1zM35 4h1v1h-1zM49 4h1v1h-1zM55 4h1v1h-1zM3 5h1v1h-1zM5 5h1v1h-1zM10 5h2v1h-2zM16 5h1v1h-1zM21 5h1v1h-1zM30 5h1v1h-1zM36 5h1v1h-1zM45 5h1v1h-1zM51 5h1v1h-1zM57 5h1v1h-1zM28 6h1v1h-1zM31 6h3v1h-3zM43 6h2v1h-2zM46 6h1v1h-1zM10 7h1v1h-1zM13 7h1v1h-1zM37 7h1v1h-1zM46 7h1v1h-1zM50 7h1v1h-1zM26 8h2v1h-2zM49 8h1v1h-1zM24 9h1v1h-1zM46 9h1v1h-1zM51 9h1v1h-1zM2 10h1v1h-1zM46 10h1v1h-1zM52 10h1v1h-1zM59 10h1v1h-1zM1 11h1v1h-1zM35 11h1v1h-1zM47 11h1v1h-1zM56 11h1v1h-1zM60 11h1v1h-1zM6 12h1v1h-1zM13 12h1v1h-1zM19 12h1v1h-1zM22 12h1v1h-1zM28 12h1v1h-1zM48 12h1v1h-1zM58 12h1v1h-1zM1 13h1v1h-1zM10 13h1v1h-1zM40 13h1v1h-1zM48 13h1v1h-1zM59 14h1v1h-1zM42 15h1v1h-1zM50 25h1v1h-1zM33 26h1v1h-1zM38 26h1v1h-1zM40 26h1v1h-1zM14 27h1v1h-1zM29 27h1v1h-1zM48 27h1v1h-1zM53 27h1v1h-1zM2 28h1v1h-1zM9 28h1v1h-1zM18 28h1v1h-1zM35 28h1v1h-1zM43 28h1v1h-1zM45 28h3v1h-3zM52 28h1v1h-1zM15 29h1v1h-1z"/>
<path fill="#fad0c4" d="M4 0h1v1h-1zM13 0h1v1h-1zM21 0h1v1h-1zM23 0h1v1h-1zM50 0h1v1h-1zM7 1h1v1h-1zM32 1h1v1h-1zM60 1h1v1h-1zM3 2h1v1h-1zM15 2h1v1h-1zM24 2h1v1h-1zM3 3h1v1h-1zM55 3h1v1h-1zM3 4h1v1h-1zM53 4h1v1h-1zM57 4h1v1h-1zM50 6h1v1h-1zM14 7h1v1h-1zM30 7h1v1h-1zM52 7h1v1h-1zM55 7h1v1h-1zM60 7h1v1h-1zM2 8h1v1h-1zM13 9h1v1h-1zM8 10h1v1h-1zM41 11h1v1h-1zM43 11h1v1h-1zM46 12h1v1h-1zM57 12h1v1h-1zM6 13h1v1h-1zM11 13h1v1h-1zM19 13h2v1h-2zM25 13h1v1h-1zM28 13h2v1h-2zM32 13h1v1h-1zM50 13h1v1h-1zM3 14h1v1h-1zM21 14h1v1h-1zM24 14h1v1h-1zM26 14h1v1h-1zM33 14h1v1h-1zM51 14h1v1h-1zM57 14h1v1h-1zM6 15h1v1h-1zM45 16h1v1h-1zM47 22h1v1h-1zM19 27h1v1h-1zM35 27h1v1h-1zM54 27h2v1h-2zM3 28h2v1h-2z"/>
<path fill="#f8dac7" d="M5 0h1v1h-1zM12 0h1v1h-1zM19 0h1v1h-1zM32 0h1v1h-1zM41 0h1v1h-1zM51 0h1v1h-1zM55 0h1v1h-1zM58 0h1v1h-1zM10 1h1v1h-1zM15 1h1v1h-1zM17 1h1v1h-1zM22 1h1v1h-1zM27 1h1v1h-1zM31 1h1v1h-1zM37 1h1v1h-1zM42 1h1v1h-1zM45 1h1v1h-1zM51 1h1v1h-1zM59 1h1v1h-1zM12 2h1v1h-1zM20 2h1v1h-1zM32 2h2v1h-2zM40 2h1v1h-1zM42 2h1v1h-1zM48 2h1v1h-1zM50 2h1v1h-1zM54 2h1v1h-1zM56 2h1v1h-1zM1 3h1v1h-1zM9 3h1v1h-1zM12 3h1v1h-1zM16 3h1v1h-1zM20 3h1v1h-1zM27 3h1v1h-1zM35 3h1v1h-1zM37 3h2v1h-2zM46 3h1v1h-1zM50 3h2v1h-2zM54 3h1v1h-1zM56 3h1v1h-1zM1 4h1v1h-1zM18 4h1v1h-1zM28 4h1v1h-1zM33 4h1v1h-1zM38 4h1v1h-1zM42 4h1v1h-1zM45 4h1v1h-1zM54 4h1v1h-1zM56 4h1v1h-1zM58 4h1v1h-1zM0 5h1v1h-1zM6 5h1v1h-1zM20 5h1v1h-1zM26 5h1v1h-1zM28 5h1v1h-1zM34 5h2v1h-2zM37 5h1v1h-1zM42 5h1v1h-1zM52 5h1v1h-1zM54 5h2v1h-2zM59 5h1v1h-1zM3 6h1v1h-1zM7 6h1v1h-1zM19 6h2v1h-2zM29 6h1v1h-1zM40 6h2v1h-2zM51 6h1v1h-1zM2 7h1v1h-1zM19 7h1v1h-1zM24 7h1v1h-1zM28 7h1v1h-1zM35 7h1v1h-1zM40 7h1v1h-1zM43 7h2v1h-2zM47 7h1v1h-1zM56 7h1v1h-1zM59 7h1v1h-1zM10 8h1v1h-1zM18 8h1v1h-1zM31 8h1v1h-1zM35 8h1v1h-1zM37 8h2v1h-2zM12 9h1v1h-1zM14 9h1v1h-1zM16 9h1v1h-1zM26 9h1v1h-1zM28 9h1v1h-1zM36 9h1v1h-1zM58 9h1v1h-1zM12 10h1v1h-1zM14 10h1v1h-1zM21 10h1v1h-1zM43 10h1v1h-1zM47 10h1v1h-1zM55 10h1v1h-1zM57 10h1v1h-1zM60 10h1v1h-1zM3 11h1v1h-1zM5 11h1v1h-1zM12 11h1v1h-1zM18 11h2v1h-2zM27 11h1v1h-1zM31 11h2v1h-2zM58 11h1v1h-1zM8 12h3v1h-3zM15 12h2v1h-2zM27 12h1v1h-1zM29 12h1v1h-1zM45 12h1v1h-1zM47 12h1v1h-1zM49 12h1v1h-1zM52 12h1v1h-1zM56 12h1v1h-1zM0 13h1v1h-1zM17 13h1v1h-1zM22 13h1v1h-1zM33 13h1v1h-1zM41 13h1v1h-1zM49 13h1v1h-1zM55 13h1v1h-1zM57 13h1v1h-1zM0 14h1v1h-1zM34 14h1v1h-1zM21 26h1v1h-1zM17 27h1v1h-1zM33 27h1v1h-1zM6 28h1v1h-1zM10 28h1v1h-1zM16 28h1v1h-1zM37 28h1v1h-1zM41 28h1v1h-1zM55 28h1v1h-1zM12 29h1v1h-1zM35 29h1v1h-1z"/>
<path fill="#fad3c5" d="M6 0h1v1h-1zM14 0h1v1h-1zM17 0h1v1h-1zM27 0h1v1h-1zM47 0h1v1h-1zM56 0h1v1h-1zM8 1h1v1h-1zM13 1h1v1h-1zM18 1h1v1h-1zM24 1h1v1h-1zM26 1h1v1h-1zM40 1h1v1h-1zM47 1h1v1h-1zM57 1h1v1h-1zM16 2h1v1h-1zM18 2h1v1h-1zM26 2h1v1h-1zM31 2h1v1h-1zM35 2h1v1h-1zM43 2h1v1h-1zM8 3h1v1h-1zM28 3h1v1h-1zM33 3h1v1h-1zM59 3h1v1h-1zM10 4h1v1h-1zM24 4h1v1h-1zM39 4h1v1h-1zM59 4h1v1h-1zM14 5h1v1h-1zM41 5h1v1h-1zM49 5h1v1h-1zM58 5h1v1h-1zM0 6h1v1h-1zM4 6h1v1h-1zM8 6h1v1h-1zM10 6h1v1h-1zM36 6h1v1h-1zM42 6h1v1h-1zM60 6h1v1h-1zM0 7h1v1h-1zM16 7h1v1h-1zM26 7h1v1h-1zM42 7h1v1h-1zM49 7h1v1h-1zM1 8h1v1h-1zM15 8h1v1h-1zM25 8h1v1h-1zM46 8h1v1h-1zM51 8h2v1h-2zM2 9h1v1h-1zM8 9h1v1h-1zM15 9h1v1h-1zM32 9h1v1h-1zM52 9h1v1h-1zM38 10h1v1h-1zM7 11h1v1h-1zM39 11h1v1h-1zM51 11h1v1h-1zM4 12h1v1h-1zM7 12h1v1h-1zM39 12h1v1h-1zM7 13h1v1h-1zM13 13h1v1h-1zM18 13h1v1h-1zM35 13h1v1h-1zM42 13h1v1h-1zM53 13h2v1h-2zM59 13h1v1h-1zM6 14h1v1h-1zM12 14h1v1h-1zM40 14h1v1h-1zM47 14h1v1h-1zM54 14h1v1h-1zM8 15h1v1h-1zM50 24h1v1h-1zM11 27h1v1h-1zM31 27h1v1h-1zM37 27h1v1h-1zM11 28h1v1h-1zM19 28h1v1h-1zM32 28h1v1h-1zM42 28h1v1h-1zM49 28h1v1h-1zM8 29h1v1h-1zM44 29h1v1h-1z"/>
<path fill="#f9cec3" d="M8 0h1v1h-1zM26 0h1v1h-1zM48 0h1v1h-1zM23 1h1v1h-1zM41 4h1v1h-1zM11 6h1v1h-1zM52 6h1v1h-1zM8 7h1v1h-1zM11 7h1v1h-1zM33 7h1v1h-1zM7 10h1v1h-1zM3 12h1v1h-1zM23 12h1v1h-1zM44 13h1v1h-1zM56 13h1v1h-1zM22 14h1v1h-1zM56 14h1v1h-1zM33 15h1v1h-1zM47 15h1v1h-1zM57 22h1v1h-1zM25 25h1v1h-1zM59 26h2v1h-2zM2 27h1v1h-1zM7 27h1v1h-1zM44 27h1v1h-1zM47 27h1v1h-1zM60 27h1v1h-1zM50 28h1v1h-1zM59 28h1v1h-1z"/>
<path fill="#f8ddc9" d="M11 0h1v1h-1zM15 0h1v1h-1zM31 0h1v1h-1zM37 0h1v1h-1zM39 0h1v1h-1zM45 0h1v1h-1zM52 0h1v1h-1zM57 0h1v1h-1zM25 1h1v1h-1zM28 1h1v1h-1zM34 1h1v1h-1zM39 1h1v1h-1zM53 1h1v1h-1zM6 2h1v1h-1zM17 2h1v1h-1zM27 2h1v1h-1zM36 2h1v1h-1zM39 2h1v1h-1zM46 2h1v1h-1zM55 2h1v1h-1zM58 2h2v1h-2zM4 3h1v1h-1zM14 3h1v1h-1zM25 3h1v1h-1zM31 3h1v1h-1zM48 3h1v1h-1zM60 3h1v1h-1zM4 4h1v1h-1zM6 4h1v1h-1zM15 4h2v1h-2zM21 4h1v1h-1zM23 4h1v1h-1zM29 4h1v1h-1zM31 4h1v1h-1zM34 4h1v1h-1zM36 4h2v1h-2zM40 4h1v1h-1zM46 4h3v1h-3zM50 4h2v1h-2zM60 4h1v1h-1zM24 5h1v1h-1zM29 5h1v1h-1zM31 5h1v1h-1zM46 5h1v1h-1zM48 5h1v1h-1zM50 5h1v1h-1zM56 5h1v1h-1zM1 6h1v1h-1zM13 6h1v1h-1zM15 6h1v1h-1zM18 6h1v1h-1zM21 6h1v1h-1zM23 6h2v1h-2zM27 6h1v1h-1zM30 6h1v1h-1zM38 6h1v1h-1zM53 6h1v1h-1zM56 6h3v1h-3zM1 7h1v1h-1zM3 7h1v1h-1zM5 7h1v1h-1zM15 7h1v1h-1zM17 7h1v1h-1zM39 7h1v1h-1zM45 7h1v1h-1zM6 8h1v1h-1zM11 8h1v1h-1zM14 8h1v1h-1zM20 8h1v1h-1zM22 8h1v1h-1zM24 8h1v1h-1zM30 8h1v1h-1zM36 8h1v1h-1zM43 8h1v1h-1zM45 8h1v1h-1zM47 8h1v1h-1zM56 8h1v1h-1zM0 9h2v1h-2zM4 9h2v1h-2zM21 9h1v1h-1zM27 9h1v1h-1zM31 9h1v1h-1zM33 9h2v1h-2zM38 9h1v1h-1zM43 9h1v1h-1zM49 9h1v1h-1zM55 9h1v1h-1zM13 10h1v1h-1zM15 10h1v1h-1zM27 10h2v1h-2zM33 10h1v1h-1zM35 10h1v1h-1zM45 10h1v1h-1zM51 10h1v1h-1zM54 10h1v1h-1zM2 11h1v1h-1zM4 11h1v1h-1zM6 11h1v1h-1zM8 11h1v1h-1zM11 11h1v1h-1zM13 11h1v1h-1zM21 11h1v1h-1zM28 11h1v1h-1zM30 11h1v1h-1zM40 11h1v1h-1zM45 11h2v1h-2zM52 11h1v1h-1zM18 12h1v1h-1zM35 12h1v1h-1zM38 12h1v1h-1zM12 13h1v1h-1zM34 13h1v1h-1zM37 13h1v1h-1zM47 13h1v1h-1zM56 27h1v1h-1zM1 28h1v1h-1zM13 28h1v1h-1zM27 28h1v1h-1zM34 28h1v1h-1zM36 28h1v1h-1zM38 28h2v1h-2zM51 28h1v1h-1zM2 29h1v1h-1zM5 29h2v1h-2zM45 29h1v1h-1zM50 29h1v1h-1zM53 29h1v1h-1zM59 29h1v1h-1zM6 30h1v1h-1zM42 40h1v1h-1zM34 45h1v1h-1z"/>
<path fill="#fae3cf" d="M16 0h1v1h-1zM24 0h1v1h-1zM11 1h1v1h-1zM33 1h1v1h-1zM38 1h1v1h-1zM52 1h1v1h-1zM14 2h1v1h-1zM21 2h1v1h-1zM44 2h1v1h-1zM58 3h1v1h-1zM12 4h1v1h-1zM19 4h1v1h-1zM2 5h1v1h-1zM9 5h1v1h-1zM12 5h1v1h-1zM9 6h1v1h-1zM22 6h1v1h-1zM54 6h1v1h-1zM59 6h1v1h-1zM23 7h1v1h-1zM3 8h1v1h-1zM5 8h1v1h-1zM50 8h1v1h-1zM54 8h1v1h-1zM11 9h1v1h-1zM23 9h1v1h-1zM30 9h1v1h-1zM56 9h1v1h-1zM0 10h1v1h-1zM4 10h1v1h-1zM11 10h1v1h-1zM17 10h2v1h-2zM20 10h1v1h-1zM40 10h1v1h-1zM14 11h2v1h-2zM25 11h1v1h-1zM33 11h1v1h-1zM2 12h1v1h-1zM32 12h1v1h-1zM59 12h1v1h-1zM10 29h1v1h-1zM14 29h1v1h-1zM29 29h1v1h-1zM7 30h1v1h-1zM25 30h1v1h-1zM0 34h1v1h-1zM8 37h1v1h-1zM17 39h1v1h-1zM58 39h1v1h-1zM59 40h1v1h-1zM30 41h1v1h-1zM48 41h1v1h-1zM23 42h1v1h-1zM23 43h1v1h-1zM51 43h1v1h-1zM0 45h1v1h-1zM9 45h1v1h-1zM37 45h1v1h-1zM56 45h1v1h-1zM34 46h1v1h-1zM45 46h1v1h-1zM57 46h1v1h-1z"/>
<path fill="#fae5d1" d="M33 0h1v1h-1zM53 0h1v1h-1zM5 1h1v1h-1zM1 2h1v1h-1zM11 4h1v1h-1zM22 4h1v1h-1zM52 4h1v1h-1zM9 7h1v1h-1zM54 7h1v1h-1zM29 8h1v1h-1zM45 9h1v1h-1zM48 9h1v1h-1zM22 10h1v1h-1zM50 10h1v1h-1zM16 11h1v1h-1zM49 11h1v1h-1zM26 12h1v1h-1zM25 28h1v1h-1zM28 28h1v1h-1zM9 29h1v1h-1zM18 29h2v1h-2zM43 29h1v1h-1zM0 30h1v1h-1zM10 30h1v1h-1zM12 30h1v1h-1zM45 30h2v1h-2zM50 30h1v1h-1zM52 30h2v1h-2zM57 30h1v1h-1zM10 31h1v1h-1zM44 31h1v1h-1zM48 31h1v1h-1zM48 32h1v1h-1zM52 32h1v1h-1zM56 32h1v1h-1zM11 34h1v1h-1zM50 35h1v1h-1zM9 36h1v1h-1zM9 37h1v1h-1zM54 37h1v1h-1zM11 39h2v1h-2zM16 39h1v1h-1zM42 39h1v1h-1zM1 40h1v1h-1zM21 40h1v1h-1zM25 40h1v1h-1zM6 41h1v1h-1zM16 41h1v1h-1zM39 42h1v1h-1zM56 42h1v1h-1zM7 44h1v1h-1zM25 44h1v1h-1zM34 44h1v1h-1zM41 44h1v1h-1zM47 44h1v1h-1zM19 45h1v1h-1zM0 46h1v1h-1zM11 46h1v1h-1zM22 46h1v1h-1zM29 46h1v1h-1z"/>
<path fill="#f9e1cd" d="M38 0h1v1h-1zM44 0h1v1h-1zM1 1h2v1h-2zM20 1h2v1h-2zM11 2h1v1h-1zM25 2h1v1h-1zM52 2h1v1h-1zM7 3h1v1h-1zM11 3h1v1h-1zM36 3h1v1h-1zM43 3h1v1h-1zM52 3h1v1h-1zM13 4h1v1h-1zM43 4h1v1h-1zM15 5h1v1h-1zM17 5h2v1h-2zM27 5h1v1h-1zM2 6h1v1h-1zM34 6h1v1h-1zM21 7h1v1h-1zM31 7h2v1h-2zM38 7h1v1h-1zM53 7h1v1h-1zM7 8h1v1h-1zM9 8h1v1h-1zM21 8h1v1h-1zM23 8h1v1h-1zM39 8h3v1h-3zM53 8h1v1h-1zM55 8h1v1h-1zM58 8h3v1h-3zM6 9h1v1h-1zM9 9h1v1h-1zM29 9h1v1h-1zM35 9h1v1h-1zM39 9h1v1h-1zM41 9h1v1h-1zM44 9h1v1h-1zM47 9h1v1h-1zM60 9h1v1h-1zM9 10h2v1h-2zM16 10h1v1h-1zM25 10h1v1h-1zM30 10h1v1h-1zM34 10h1v1h-1zM36 10h1v1h-1zM39 10h1v1h-1zM44 10h1v1h-1zM48 10h2v1h-2zM9 11h1v1h-1zM17 11h1v1h-1zM23 11h1v1h-1zM26 11h1v1h-1zM36 11h1v1h-1zM44 11h1v1h-1zM54 11h1v1h-1zM59 11h1v1h-1zM12 12h1v1h-1zM17 12h1v1h-1zM33 12h1v1h-1zM41 12h1v1h-1zM55 12h1v1h-1zM4 13h1v1h-1zM39 13h1v1h-1zM4 14h1v1h-1zM31 28h1v1h-1zM60 28h1v1h-1zM1 29h1v1h-1zM3 29h1v1h-1zM11 29h1v1h-1zM20 29h2v1h-2zM32 29h1v1h-1zM39 29h1v1h-1zM54 29h1v1h-1zM2 30h1v1h-1zM5 30h1v1h-1zM35 30h1v1h-1zM39 30h1v1h-1zM21 39h1v1h-1zM17 41h1v1h-1z"/>
<path fill="#fbe7d3" d="M42 0h1v1h-1zM22 2h1v1h-1zM17 3h1v1h-1zM21 3h1v1h-1zM27 4h1v1h-1zM22 5h1v1h-1zM53 9h1v1h-1zM53 11h1v1h-1zM54 28h1v1h-1zM4 29h1v1h-1zM17 29h1v1h-1zM25 29h1v1h-1zM27 29h1v1h-1zM36 29h1v1h-1zM38 29h1v1h-1zM41 29h1v1h-1zM46 29h3v1h-3zM51 29h1v1h-1zM57 29h1v1h-1zM60 29h1v1h-1zM1 30h1v1h-1zM3 30h1v1h-1zM8 30h1v1h-1zM15 30h1v1h-1zM19 30h1v1h-1zM21 30h1v1h-1zM34 30h1v1h-1zM36 30h1v1h-1zM4 31h1v1h-1zM8 31h1v1h-1zM36 31h1v1h-1zM9 32h2v1h-2zM20 32h1v1h-1zM11 33h1v1h-1zM43 33h1v1h-1zM8 35h1v1h-1zM11 35h1v1h-1zM17 35h1v1h-1zM52 35h1v1h-1zM7 38h2v1h-2zM12 38h1v1h-1zM15 38h1v1h-1zM33 38h1v1h-1zM54 38h1v1h-1zM45 39h1v1h-1zM49 39h1v1h-1zM11 40h1v1h-1zM13 40h1v1h-1zM15 40h2v1h-2zM44 40h1v1h-1zM51 40h1v1h-1zM57 40h1v1h-1zM21 41h1v1h-1zM23 41h1v1h-1zM34 41h1v1h-1zM59 41h1v1h-1zM6 42h1v1h-1zM16 42h1v1h-1zM30 42h1v1h-1zM41 42h1v1h-1zM51 42h1v1h-1zM8 43h1v1h-1zM19 43h1v1h-1zM30 43h1v1h-1zM50 43h1v1h-1zM2 44h1v1h-1zM51 44h1v1h-1zM23 45h1v1h-1zM45 45h1v1h-1zM57 45h1v1h-1zM59 45h1v1h-1zM4 46h1v1h-1zM14 46h1v1h-1zM23 46h1v1h-1zM31 46h1v1h-1zM49 46h1v1h-1zM53 46h1v1h-1z"/>
<path fill="#f8c9c1" d="M13 2h1v1h-1zM23 2h1v1h-1zM5 13h1v1h-1zM15 13h1v1h-1zM27 13h1v1h-1zM30 13h1v1h-1zM38 13h1v1h-1zM60 13h1v1h-1zM1 14h2v1h-2zM20 14h1v1h-1zM44 14h1v1h-1zM46 14h1v1h-1zM9 15h1v1h-1zM35 15h1v1h-1zM42 16h1v1h-1zM31 22h1v1h-1zM59 22h1v1h-1zM28 24h1v1h-1zM55 24h1v1h-1zM60 25h1v1h-1zM29 26h1v1h-1zM41 26h1v1h-1zM56 26h1v1h-1zM12 27h1v1h-1zM18 27h1v1h-1zM22 27h1v1h-1zM40 27h2v1h-2zM59 27h1v1h-1zM5 28h1v1h-1zM7 28h1v1h-1zM20 28h2v1h-2z"/>
<path fill="#fae9d6" d="M23 10h1v1h-1zM53 12h1v1h-1zM56 28h1v1h-1zM28 29h1v1h-1zM30 29h2v1h-2zM37 29h1v1h-1zM55 29h2v1h-2zM4 30h1v1h-1zM13 30h1v1h-1zM27 30h1v1h-1zM31 30h1v1h-1zM37 30h1v1h-1zM42 30h1v1h-1zM56 30h1v1h-1zM59 30h1v1h-1zM0 31h1v1h-1zM7 31h1v1h-1zM9 31h1v1h-1zM13 31h1v1h-1zM22 31h1v1h-1zM31 31h1v1h-1zM41 31h1v1h-1zM45 31h2v1h-2zM54 31h1v1h-1zM57 31h2v1h-2zM0 32h1v1h-1zM5 32h1v1h-1zM50 32h1v1h-1zM55 32h1v1h-1zM58 32h2v1h-2zM0 33h2v1h-2zM3 33h1v1h-1zM5 33h1v1h-1zM46 33h1v1h-1zM48 33h1v1h-1zM53 33h1v1h-1zM56 33h1v1h-1zM58 33h1v1h-1zM12 34h1v1h-1zM16 34h1v1h-1zM46 34h1v1h-1zM48 34h2v1h-2zM57 34h1v1h-1zM60 34h1v1h-1zM6 35h1v1h-1zM42 35h1v1h-1zM53 35h2v1h-2zM8 36h1v1h-1zM11 36h2v1h-2zM41 36h1v1h-1zM52 36h1v1h-1zM56 36h2v1h-2zM59 36h1v1h-1zM5 37h1v1h-1zM7 37h1v1h-1zM11 37h1v1h-1zM33 37h1v1h-1zM53 37h1v1h-1zM5 38h1v1h-1zM11 38h1v1h-1zM16 38h1v1h-1zM44 38h1v1h-1zM47 38h1v1h-1zM0 39h1v1h-1zM13 39h1v1h-1zM30 39h1v1h-1zM40 39h2v1h-2zM59 39h1v1h-1zM2 40h2v1h-2zM6 40h1v1h-1zM17 40h1v1h-1zM36 40h1v1h-1zM48 40h3v1h-3zM54 40h1v1h-1zM0 41h1v1h-1zM4 41h1v1h-1zM25 41h1v1h-1zM31 41h1v1h-1zM36 41h2v1h-2zM43 41h2v1h-2zM53 41h1v1h-1zM55 41h1v1h-1zM4 42h1v1h-1zM19 42h1v1h-1zM25 42h1v1h-1zM34 42h1v1h-1zM37 42h2v1h-2zM47 42h1v1h-1zM50 42h1v1h-1zM52 42h1v1h-1zM58 42h1v1h-1zM6 43h1v1h-1zM15 43h1v1h-1zM37 43h1v1h-1zM40 43h1v1h-1zM48 43h2v1h-2zM52 43h1v1h-1zM54 43h1v1h-1zM56 43h1v1h-1zM59 43h1v1h-1zM6 44h1v1h-1zM23 44h1v1h-1zM27 44h1v1h-1zM29 44h1v1h-1zM31 44h1v1h-1zM37 44h1v1h-1zM39 44h1v1h-1zM54 44h1v1h-1zM58 44h1v1h-1zM4 45h1v1h-1zM14 45h1v1h-1zM21 45h1v1h-1zM25 45h1v1h-1zM30 45h1v1h-1zM36 45h1v1h-1zM43 45h1v1h-1zM48 45h2v1h-2zM51 45h1v1h-1zM53 45h1v1h-1zM55 45h1v1h-1zM5 46h1v1h-1zM18 46h1v1h-1zM30 46h1v1h-1zM37 46h1v1h-1zM50 46h2v1h-2z"/>
<path fill="#f8ccc2" d="M32 10h1v1h-1zM1 12h1v1h-1zM30 12h1v1h-1zM34 12h1v1h-1zM60 12h1v1h-1zM3 13h1v1h-1zM9 13h1v1h-1zM14 13h1v1h-1zM25 14h1v1h-1zM35 14h1v1h-1zM39 14h1v1h-1zM42 14h2v1h-2zM49 14h1v1h-1zM13 15h1v1h-1zM15 15h1v1h-1zM25 15h1v1h-1zM49 15h1v1h-1zM22 22h1v1h-1zM40 25h1v1h-1zM27 26h1v1h-1zM39 26h1v1h-1zM50 26h1v1h-1zM10 27h1v1h-1zM20 27h2v1h-2zM23 27h2v1h-2zM27 27h1v1h-1zM36 27h1v1h-1zM51 27h2v1h-2zM12 28h1v1h-1zM26 28h1v1h-1zM58 28h1v1h-1z"/>
<path fill="#fbe8d4" d="M50 11h1v1h-1zM2 13h1v1h-1zM29 28h1v1h-1zM23 29h1v1h-1zM26 29h1v1h-1zM58 29h1v1h-1zM14 30h1v1h-1zM24 30h1v1h-1zM29 30h1v1h-1zM43 30h1v1h-1zM47 30h2v1h-2zM54 30h1v1h-1zM58 30h1v1h-1zM60 30h1v1h-1zM2 31h1v1h-1zM5 31h1v1h-1zM14 31h1v1h-1zM52 31h1v1h-1zM56 31h1v1h-1zM7 32h2v1h-2zM22 32h1v1h-1zM32 32h1v1h-1zM44 32h1v1h-1zM57 32h1v1h-1zM7 33h1v1h-1zM9 33h1v1h-1zM57 33h1v1h-1zM1 34h1v1h-1zM43 34h1v1h-1zM51 34h1v1h-1zM58 34h1v1h-1zM0 35h2v1h-2zM12 35h1v1h-1zM45 35h1v1h-1zM49 35h1v1h-1zM51 35h1v1h-1zM55 35h1v1h-1zM2 36h1v1h-1zM10 36h1v1h-1zM50 36h1v1h-1zM10 37h1v1h-1zM18 37h1v1h-1zM39 37h1v1h-1zM56 37h1v1h-1zM60 37h1v1h-1zM6 38h1v1h-1zM21 38h1v1h-1zM34 38h1v1h-1zM36 38h1v1h-1zM41 38h1v1h-1zM53 38h1v1h-1zM60 38h1v1h-1zM7 39h1v1h-1zM15 39h1v1h-1zM25 39h1v1h-1zM36 39h1v1h-1zM44 39h1v1h-1zM54 39h1v1h-1zM57 39h1v1h-1zM5 40h1v1h-1zM26 40h1v1h-1zM43 40h1v1h-1zM45 40h1v1h-1zM58 40h1v1h-1zM1 41h1v1h-1zM5 41h1v1h-1zM12 41h1v1h-1zM38 41h2v1h-2zM58 41h1v1h-1zM7 42h1v1h-1zM12 42h1v1h-1zM17 42h1v1h-1zM21 42h1v1h-1zM43 42h1v1h-1zM48 42h2v1h-2zM60 42h1v1h-1zM3 43h1v1h-1zM7 43h1v1h-1zM16 43h1v1h-1zM20 43h1v1h-1zM25 43h1v1h-1zM41 43h1v1h-1zM46 43h2v1h-2zM3 44h2v1h-2zM11 44h1v1h-1zM16 44h1v1h-1zM36 44h1v1h-1zM40 44h1v1h-1zM48 44h1v1h-1zM50 44h1v1h-1zM56 44h1v1h-1zM59 44h1v1h-1zM2 45h2v1h-2zM10 45h2v1h-2zM16 45h1v1h-1zM24 45h1v1h-1zM31 45h1v1h-1zM47 45h1v1h-1zM54 45h1v1h-1zM58 45h1v1h-1zM3 46h1v1h-1zM19 46h1v1h-1zM39 46h1v1h-1z"/>
<path fill="#f7c7c0" d="M23 13h1v1h-1zM36 13h1v1h-1zM43 13h1v1h-1zM46 13h1v1h-1zM52 13h1v1h-1zM9 14h1v1h-1zM28 14h1v1h-1zM31 14h1v1h-1zM36 14h1v1h-1zM38 14h1v1h-1zM45 14h1v1h-1zM50 14h1v1h-1zM1 15h1v1h-1zM3 15h1v1h-1zM5 15h1v1h-1zM37 15h1v1h-1zM52 15h2v1h-2zM31 16h1v1h-1zM32 24h1v1h-1zM17 25h1v1h-1zM21 25h1v1h-1zM59 25h1v1h-1zM14 26h1v1h-1zM48 26h1v1h-1zM1 27h1v1h-1zM4 27h1v1h-1z"/>
<path fill="#f5c3bd" d="M5 14h1v1h-1zM18 14h2v1h-2zM27 14h1v1h-1zM4 15h1v1h-1zM11 15h1v1h-1zM17 15h1v1h-1zM20 15h1v1h-1zM27 15h1v1h-1zM31 15h1v1h-1zM38 15h1v1h-1zM46 15h1v1h-1zM57 15h1v1h-1zM14 16h1v1h-1zM20 16h2v1h-2zM46 16h1v1h-1zM15 19h1v1h-1zM45 20h1v1h-1zM23 21h1v1h-1zM54 21h1v1h-1zM22 23h1v1h-1zM37 23h1v1h-1zM53 24h1v1h-1zM20 26h1v1h-1zM26 26h1v1h-1zM34 26h1v1h-1zM36 26h1v1h-1zM45 26h1v1h-1zM0 27h1v1h-1zM3 27h1v1h-1zM25 27h2v1h-2zM15 28h1v1h-1z"/>
<path fill="#f1b7b6" d="M10 14h1v1h-1zM23 14h1v1h-1zM10 15h1v1h-1zM18 15h1v1h-1zM23 16h1v1h-1zM27 16h1v1h-1zM51 16h1v1h-1zM1 17h1v1h-1zM20 17h1v1h-1zM31 17h1v1h-1zM41 17h1v1h-1zM43 17h1v1h-1zM31 21h1v1h-1zM52 23h1v1h-1zM60 24h1v1h-1zM20 25h1v1h-1zM29 25h1v1h-1zM33 25h1v1h-1zM39 25h1v1h-1zM51 25h1v1h-1zM9 26h1v1h-1zM25 26h1v1h-1zM52 26h1v1h-1zM6 27h1v1h-1zM58 27h1v1h-1z"/>
<path fill="#f6c5be" d="M11 14h1v1h-1zM13 14h1v1h-1zM15 14h2v1h-2zM41 14h1v1h-1zM52 14h1v1h-1zM21 15h2v1h-2zM28 15h1v1h-1zM39 15h1v1h-1zM43 15h1v1h-1zM51 15h1v1h-1zM8 16h1v1h-1zM11 16h1v1h-1zM25 16h1v1h-1zM33 16h1v1h-1zM49 16h2v1h-2zM31 23h1v1h-1zM55 25h1v1h-1zM30 27h1v1h-1zM34 27h1v1h-1zM43 27h1v1h-1zM45 27h1v1h-1zM22 28h1v1h-1z"/>
<path fill="#f4c0bc" d="M17 14h1v1h-1zM32 14h1v1h-1zM48 14h1v1h-1zM53 14h1v1h-1zM0 15h1v1h-1zM7 15h1v1h-1zM24 15h1v1h-1zM34 15h1v1h-1zM40 15h1v1h-1zM44 15h2v1h-2zM50 15h1v1h-1zM54 15h1v1h-1zM17 16h1v1h-1zM28 16h1v1h-1zM17 19h1v1h-1zM45 19h1v1h-1zM48 20h1v1h-1zM42 22h1v1h-1zM0 23h1v1h-1zM53 23h1v1h-1zM59 23h1v1h-1zM18 24h1v1h-1zM24 24h1v1h-1zM59 24h1v1h-1zM1 25h1v1h-1zM24 25h1v1h-1zM35 25h1v1h-1zM38 25h1v1h-1zM41 25h1v1h-1zM10 26h1v1h-1zM17 26h2v1h-2zM23 26h1v1h-1zM44 26h1v1h-1zM47 26h1v1h-1zM13 27h1v1h-1zM15 27h1v1h-1zM28 27h1v1h-1zM49 27h1v1h-1z"/>
<path fill="#f2bab8" d="M29 14h1v1h-1zM19 15h1v1h-1zM23 15h1v1h-1zM29 15h1v1h-1zM36 15h1v1h-1zM56 15h1v1h-1zM58 15h1v1h-1zM15 16h1v1h-1zM22 16h1v1h-1zM43 16h1v1h-1zM25 17h1v1h-1zM42 17h1v1h-1zM58 19h1v1h-1zM12 20h1v1h-1zM45 21h1v1h-1zM57 21h1v1h-1zM60 22h1v1h-1zM47 23h1v1h-1zM21 24h1v1h-1zM31 24h1v1h-1zM35 24h1v1h-1zM40 24h1v1h-1zM18 25h1v1h-1zM31 25h1v1h-1zM13 26h1v1h-1zM16 26h1v1h-1zM24 26h1v1h-1zM30 26h2v1h-2zM55 26h1v1h-1zM8 28h1v1h-1z"/>
<path fill="#f0b4b4" d="M30 14h1v1h-1zM60 14h1v1h-1zM41 15h1v1h-1zM48 15h1v1h-1zM1 16h1v1h-1zM10 16h1v1h-1zM44 16h1v1h-1zM47 16h1v1h-1zM53 16h1v1h-1zM11 17h2v1h-2zM44 17h1v1h-1zM49 17h1v1h-1zM20 18h1v1h-1zM44 18h1v1h-1zM19 19h1v1h-1zM29 19h1v1h-1zM47 19h1v1h-1zM0 22h1v1h-1zM48 22h1v1h-1zM14 23h1v1h-1zM44 23h1v1h-1zM54 23h1v1h-1zM57 23h1v1h-1zM25 24h1v1h-1zM43 24h1v1h-1zM56 24h1v1h-1zM0 25h1v1h-1zM10 25h1v1h-1zM52 25h2v1h-2zM37 26h1v1h-1zM53 26h1v1h-1zM58 26h1v1h-1zM9 27h1v1h-1zM16 27h1v1h-1zM46 27h1v1h-1zM50 27h1v1h-1z"/>
<path fill="#f3beba" d="M2 15h1v1h-1zM12 15h1v1h-1zM26 15h1v1h-1zM0 16h1v1h-1zM3 16h1v1h-1zM7 16h1v1h-1zM19 16h1v1h-1zM24 20h1v1h-1zM46 20h1v1h-1zM11 21h1v1h-1zM13 21h1v1h-1zM22 21h1v1h-1zM25 21h1v1h-1zM50 21h1v1h-1zM42 23h1v1h-1zM37 24h1v1h-1zM51 24h1v1h-1zM1 26h1v1h-1zM11 26h1v1h-1zM19 26h1v1h-1zM32 26h1v1h-1zM35 26h1v1h-1zM51 26h1v1h-1zM5 27h1v1h-1zM32 27h1v1h-1zM42 27h1v1h-1zM57 27h1v1h-1z"/>
<path fill="#edabae" d="M16 15h1v1h-1zM32 15h1v1h-1zM55 15h1v1h-1zM26 16h1v1h-1zM9 17h1v1h-1zM22 17h1v1h-1zM25 18h1v1h-1zM20 19h1v1h-1zM17 20h1v1h-1zM18 21h1v1h-1zM47 21h3v1h-3zM20 22h1v1h-1zM45 22h1v1h-1zM55 22h1v1h-1zM38 23h1v1h-1zM45 23h1v1h-1zM51 23h1v1h-1zM2 24h1v1h-1zM12 24h1v1h-1zM17 24h1v1h-1zM22 24h1v1h-1zM54 24h1v1h-1zM11 25h1v1h-1zM22 25h1v1h-1zM28 25h1v1h-1zM30 25h1v1h-1zM34 25h1v1h-1zM49 25h1v1h-1zM57 25h1v1h-1zM7 26h1v1h-1zM15 26h1v1h-1zM28 26h1v1h-1z"/>
<path fill="#eeaeb0" d="M30 15h1v1h-1zM59 15h1v1h-1zM13 16h1v1h-1zM37 16h1v1h-1zM23 17h1v1h-1zM28 17h1v1h-1zM46 17h1v1h-1zM21 18h1v1h-1zM50 18h1v1h-1zM58 20h1v1h-1zM23 22h1v1h-1zM13 23h1v1h-1zM55 23h1v1h-1zM14 24h1v1h-1zM13 25h1v1h-1zM32 25h1v1h-1zM37 25h1v1h-1zM46 25h2v1h-2zM0 26h1v1h-1zM22 26h1v1h-1z"/>
<path fill="#e9a4ab" d="M60 15h1v1h-1zM30 16h1v1h-1zM32 16h1v1h-1zM38 16h1v1h-1zM3 17h1v1h-1zM21 17h1v1h-1zM45 17h1v1h-1zM41 18h1v1h-1zM46 19h1v1h-1zM50 19h1v1h-1zM53 20h1v1h-1zM15 21h1v1h-1zM40 21h1v1h-1zM56 21h1v1h-1zM59 21h1v1h-1zM14 22h1v1h-1zM33 22h1v1h-1zM35 23h1v1h-1zM60 23h1v1h-1zM11 24h1v1h-1zM26 24h1v1h-1zM58 24h1v1h-1zM36 25h1v1h-1zM3 26h1v1h-1zM42 26h1v1h-1zM54 26h1v1h-1z"/>
<path fill="#da959e" d="M4 16h1v1h-1zM14 17h1v1h-1zM38 18h1v1h-1zM53 18h1v1h-1zM28 19h1v1h-1zM30 19h1v1h-1zM35 20h1v1h-1zM43 20h1v1h-1zM52 20h1v1h-1zM10 21h1v1h-1zM21 21h1v1h-1zM13 22h1v1h-1zM34 22h1v1h-1zM24 23h1v1h-1zM27 24h1v1h-1zM15 25h1v1h-1z"/>
<path fill="#e8a2aa" d="M5 16h1v1h-1zM18 16h1v1h-1zM60 16h1v1h-1zM53 17h1v1h-1zM1 18h1v1h-1zM26 18h1v1h-1zM58 18h1v1h-1zM6 19h1v1h-1zM26 19h1v1h-1zM48 19h1v1h-1zM10 20h1v1h-1zM15 20h1v1h-1zM25 20h1v1h-1zM30 20h1v1h-1zM40 20h1v1h-1zM26 21h1v1h-1zM35 21h1v1h-1zM58 21h1v1h-1zM50 22h1v1h-1zM56 22h1v1h-1zM12 23h1v1h-1zM40 23h1v1h-1zM48 23h2v1h-2zM15 24h2v1h-2zM34 24h1v1h-1zM46 24h1v1h-1zM19 25h1v1h-1zM44 25h1v1h-1z"/>
<path fill="#efb1b2" d="M6 16h1v1h-1zM12 16h1v1h-1zM34 16h1v1h-1zM48 16h1v1h-1zM52 16h1v1h-1zM6 17h1v1h-1zM50 17h1v1h-1zM19 18h1v1h-1zM14 19h1v1h-1zM11 20h1v1h-1zM13 20h1v1h-1zM23 20h1v1h-1zM24 21h1v1h-1zM53 21h1v1h-1zM38 22h1v1h-1zM54 22h1v1h-1zM17 23h2v1h-2zM21 23h1v1h-1zM28 23h1v1h-1zM0 24h1v1h-1zM19 24h1v1h-1zM29 24h1v1h-1zM36 24h1v1h-1zM26 25h1v1h-1zM56 25h1v1h-1zM2 26h1v1h-1zM12 26h1v1h-1zM43 26h1v1h-1zM8 27h1v1h-1z"/>
<path fill="#eca8ac" d="M9 16h1v1h-1zM29 16h1v1h-1zM56 16h1v1h-1zM19 17h1v1h-1zM3 18h1v1h-1zM51 18h1v1h-1zM4 19h1v1h-1zM13 19h1v1h-1zM25 19h1v1h-1zM47 20h1v1h-1zM12 21h1v1h-1zM39 21h1v1h-1zM17 22h1v1h-1zM40 22h1v1h-1zM53 22h1v1h-1zM11 23h1v1h-1zM20 23h1v1h-1zM13 24h1v1h-1zM38 24h2v1h-2zM45 24h1v1h-1zM49 24h1v1h-1zM27 25h1v1h-1zM43 25h1v1h-1zM45 25h1v1h-1zM54 25h1v1h-1zM4 26h1v1h-1zM46 26h1v1h-1zM57 26h1v1h-1z"/>
<path fill="#e29aa6" d="M16 16h1v1h-1zM35 16h1v1h-1zM0 17h1v1h-1zM24 17h1v1h-1zM48 17h1v1h-1zM6 18h1v1h-1zM11 18h1v1h-1zM24 18h1v1h-1zM43 18h1v1h-1zM45 18h2v1h-2zM10 19h1v1h-1zM43 19h1v1h-1zM38 20h1v1h-1zM51 20h1v1h-1zM57 20h1v1h-1zM0 21h1v1h-1zM16 22h1v1h-1zM27 22h1v1h-1zM15 23h1v1h-1zM19 23h1v1h-1zM36 23h1v1h-1zM39 23h1v1h-1zM44 24h1v1h-1zM57 24h1v1h-1zM14 25h1v1h-1zM48 25h1v1h-1z"/>
<path fill="#eba6ab" d="M24 16h1v1h-1zM7 17h1v1h-1zM16 17h1v1h-1zM47 17h1v1h-1zM16 19h1v1h-1zM21 19h1v1h-1zM24 19h1v1h-1zM56 19h1v1h-1zM28 20h1v1h-1zM54 20h1v1h-1zM56 20h1v1h-1zM60 20h1v1h-1zM27 21h1v1h-1zM36 21h1v1h-1zM51 21h1v1h-1zM55 21h1v1h-1zM60 21h1v1h-1zM12 22h1v1h-1zM21 22h1v1h-1zM26 22h1v1h-1zM35 22h1v1h-1zM39 22h1v1h-1zM43 23h1v1h-1zM56 23h1v1h-1zM41 24h1v1h-1zM47 24h1v1h-1zM52 24h1v1h-1zM16 25h1v1h-1zM58 25h1v1h-1zM8 26h1v1h-1zM49 26h1v1h-1z"/>
<path fill="#dc97a0" d="M36 16h1v1h-1zM59 16h1v1h-1zM30 17h1v1h-1zM35 17h1v1h-1zM56 17h1v1h-1zM17 18h1v1h-1zM1 19h2v1h-2zM23 19h1v1h-1zM37 19h1v1h-1zM41 19h1v1h-1zM37 20h1v1h-1zM39 20h1v1h-1zM59 20h1v1h-1zM16 21h2v1h-2zM24 22h1v1h-1zM28 22h2v1h-2zM32 22h1v1h-1zM37 22h1v1h-1zM2 23h1v1h-1zM23 25h1v1h-1z"/>
<path fill="#e6a0a9" d="M39 16h1v1h-1zM41 16h1v1h-1zM4 17h2v1h-2zM13 17h1v1h-1zM26 17h1v1h-1zM16 18h1v1h-1zM22 18h1v1h-1zM29 18h1v1h-1zM8 19h1v1h-1zM22 19h1v1h-1zM26 20h1v1h-1zM34 21h1v1h-1zM41 23h1v1h-1zM50 23h1v1h-1zM2 25h1v1h-1zM9 25h1v1h-1z"/>
<path fill="#e099a4" d="M40 16h1v1h-1zM54 16h1v1h-1zM57 16h1v1h-1zM8 17h1v1h-1zM10 17h1v1h-1zM17 17h1v1h-1zM32 17h3v1h-3zM38 17h1v1h-1zM7 18h1v1h-1zM14 18h2v1h-2zM31 18h1v1h-1zM56 18h1v1h-1zM44 19h1v1h-1zM54 19h1v1h-1zM22 20h1v1h-1zM15 22h1v1h-1zM18 22h2v1h-2zM43 22h1v1h-1zM46 22h1v1h-1zM27 23h1v1h-1z"/>
<path fill="#ffffff" d="M55 16h1v1h-1zM36 17h1v1h-1zM40 17h1v1h-1zM55 17h1v1h-1zM57 17h4v1h-4zM10 18h1v1h-1zM12 18h1v1h-1zM18 18h1v1h-1zM28 18h1v1h-1zM30 18h1v1h-1zM32 18h6v1h-6zM39 18h2v1h-2zM55 18h1v1h-1zM57 18h1v1h-1zM59 18h2v1h-2zM0 19h1v1h-1zM5 19h1v1h-1zM7 19h1v1h-1zM9 19h1v1h-1zM18 19h1v1h-1zM27 19h1v1h-1zM32 19h5v1h-5zM38 19h3v1h-3zM42 19h1v1h-1zM49 19h1v1h-1zM53 19h1v1h-1zM55 19h1v1h-1zM59 19h1v1h-1zM0 20h4v1h-4zM5 20h3v1h-3zM9 20h1v1h-1zM18 20h1v1h-1zM32 20h2v1h-2zM36 20h1v1h-1zM41 20h2v1h-2zM44 20h1v1h-1zM1 21h9v1h-9zM32 21h2v1h-2zM37 21h1v1h-1zM44 21h1v1h-1zM1 22h10v1h-10zM30 22h1v1h-1zM44 22h1v1h-1zM58 22h1v1h-1zM1 23h1v1h-1zM3 23h8v1h-8zM23 23h1v1h-1zM26 23h1v1h-1zM30 23h1v1h-1zM34 23h1v1h-1zM1 24h1v1h-1zM3 24h7v1h-7zM3 25h1v1h-1zM6 25h2v1h-2zM6 26h1v1h-1z"/>
<path fill="#e59ea9" d="M58 16h1v1h-1zM2 17h1v1h-1zM29 17h1v1h-1zM4 18h1v1h-1zM49 18h1v1h-1zM52 18h1v1h-1zM51 19h1v1h-1zM4 20h1v1h-1zM14 20h1v1h-1zM16 20h1v1h-1zM49 20h2v1h-2zM28 21h1v1h-1zM11 22h1v1h-1zM41 22h1v1h-1zM16 23h1v1h-1zM25 23h1v1h-1zM29 23h1v1h-1zM46 23h1v1h-1zM58 23h1v1h-1zM10 24h1v1h-1zM20 24h1v1h-1zM23 24h1v1h-1zM33 24h1v1h-1zM42 24h1v1h-1zM12 25h1v1h-1zM42 25h1v1h-1z"/>
<path fill="#de98a2" d="M15 17h1v1h-1zM18 17h1v1h-1zM27 17h1v1h-1zM51 17h1v1h-1zM54 17h1v1h-1zM2 18h1v1h-1zM5 18h1v1h-1zM13 18h1v1h-1zM23 18h1v1h-1zM12 19h1v1h-1zM31 19h1v1h-1zM52 19h1v1h-1zM60 19h1v1h-1zM8 20h1v1h-1zM20 20h1v1h-1zM14 21h1v1h-1zM29 21h1v1h-1zM41 21h2v1h-2zM52 21h1v1h-1zM52 22h1v1h-1zM33 23h1v1h-1zM5 25h1v1h-1zM8 25h1v1h-1z"/>
<path fill="#e49ca8" d="M37 17h1v1h-1zM52 17h1v1h-1zM9 18h1v1h-1zM47 18h2v1h-2zM54 18h1v1h-1zM3 19h1v1h-1zM11 19h1v1h-1zM57 19h1v1h-1zM21 20h1v1h-1zM29 20h1v1h-1zM31 20h1v1h-1zM55 20h1v1h-1zM20 21h1v1h-1zM43 21h1v1h-1zM46 21h1v1h-1zM25 22h1v1h-1zM36 22h1v1h-1zM49 22h1v1h-1zM51 22h1v1h-1zM32 23h1v1h-1zM30 24h1v1h-1zM48 24h1v1h-1zM5 26h1v1h-1z"/>
<path fill="#d8949c" d="M39 17h1v1h-1zM0 18h1v1h-1zM8 18h1v1h-1zM27 18h1v1h-1zM42 18h1v1h-1zM19 20h1v1h-1zM27 20h1v1h-1zM34 20h1v1h-1zM19 21h1v1h-1zM30 21h1v1h-1zM38 21h1v1h-1zM4 25h1v1h-1z"/>
<path fill="#f9ebd8" d="M17 28h1v1h-1zM13 29h1v1h-1zM22 29h1v1h-1zM40 29h1v1h-1zM11 30h1v1h-1zM20 30h1v1h-1zM23 30h1v1h-1zM30 30h1v1h-1zM33 30h1v1h-1zM3 31h1v1h-1zM18 31h1v1h-1zM35 31h1v1h-1zM37 31h1v1h-1zM39 31h1v1h-1zM42 31h1v1h-1zM47 31h1v1h-1zM51 31h1v1h-1zM59 31h1v1h-1zM3 32h1v1h-1zM16 32h1v1h-1zM18 32h2v1h-2zM21 32h1v1h-1zM38 32h2v1h-2zM43 32h1v1h-1zM46 32h2v1h-2zM2 33h1v1h-1zM10 33h1v1h-1zM16 33h1v1h-1zM40 33h1v1h-1zM2 34h1v1h-1zM5 34h2v1h-2zM17 34h1v1h-1zM44 34h1v1h-1zM2 35h1v1h-1zM4 35h1v1h-1zM39 35h1v1h-1zM57 35h1v1h-1zM60 35h1v1h-1zM3 36h1v1h-1zM5 36h1v1h-1zM14 36h1v1h-1zM17 36h1v1h-1zM19 36h1v1h-1zM23 36h1v1h-1zM45 36h1v1h-1zM47 36h1v1h-1zM53 36h1v1h-1zM58 36h1v1h-1zM0 37h1v1h-1zM4 37h1v1h-1zM12 37h1v1h-1zM15 37h2v1h-2zM20 37h1v1h-1zM25 37h1v1h-1zM32 37h1v1h-1zM38 37h1v1h-1zM40 37h1v1h-1zM4 38h1v1h-1zM17 38h1v1h-1zM27 38h1v1h-1zM32 38h1v1h-1zM40 38h1v1h-1zM51 38h1v1h-1zM56 38h1v1h-1zM3 39h1v1h-1zM14 39h1v1h-1zM18 39h1v1h-1zM24 39h1v1h-1zM28 39h2v1h-2zM33 39h1v1h-1zM35 39h1v1h-1zM48 39h1v1h-1zM50 39h3v1h-3zM14 40h1v1h-1zM19 40h1v1h-1zM24 40h1v1h-1zM28 40h2v1h-2zM46 40h2v1h-2zM53 40h1v1h-1zM55 40h2v1h-2zM60 40h1v1h-1zM8 41h1v1h-1zM13 41h1v1h-1zM15 41h1v1h-1zM19 41h1v1h-1zM26 41h1v1h-1zM28 41h1v1h-1zM40 41h2v1h-2zM45 41h2v1h-2zM60 41h1v1h-1zM3 42h1v1h-1zM9 42h1v1h-1zM26 42h1v1h-1zM29 42h1v1h-1zM40 42h1v1h-1zM53 42h1v1h-1zM55 42h1v1h-1zM57 42h1v1h-1zM1 43h1v1h-1zM5 43h1v1h-1zM12 43h1v1h-1zM27 43h1v1h-1zM29 43h1v1h-1zM31 43h1v1h-1zM39 43h1v1h-1zM42 43h1v1h-1zM0 44h1v1h-1zM5 44h1v1h-1zM10 44h1v1h-1zM19 44h1v1h-1zM46 44h1v1h-1zM5 45h1v1h-1zM12 45h1v1h-1zM15 45h1v1h-1zM28 45h1v1h-1zM38 45h1v1h-1zM42 45h1v1h-1zM9 46h1v1h-1zM12 46h1v1h-1zM25 46h2v1h-2zM32 46h1v1h-1zM42 46h2v1h-2zM48 46h1v1h-1zM52 46h1v1h-1zM54 46h3v1h-3zM60 46h1v1h-1z"/>
<path fill="#f8eddb" d="M16 30h2v1h-2zM28 30h1v1h-1zM15 31h1v1h-1zM26 31h1v1h-1zM29 31h1v1h-1zM32 31h1v1h-1zM14 32h1v1h-1zM35 32h1v1h-1zM60 32h1v1h-1zM4 33h1v1h-1zM13 33h1v1h-1zM15 33h1v1h-1zM32 33h1v1h-1zM54 33h1v1h-1zM60 33h1v1h-1zM22 34h2v1h-2zM31 34h1v1h-1zM37 34h1v1h-1zM39 34h2v1h-2zM3 35h1v1h-1zM10 35h1v1h-1zM22 35h1v1h-1zM36 35h1v1h-1zM40 35h1v1h-1zM43 35h2v1h-2zM59 35h1v1h-1zM16 36h1v1h-1zM21 36h1v1h-1zM34 36h1v1h-1zM1 37h1v1h-1zM17 37h1v1h-1zM22 37h1v1h-1zM24 37h1v1h-1zM27 37h1v1h-1zM48 37h1v1h-1zM1 38h1v1h-1zM3 38h1v1h-1zM24 38h1v1h-1zM30 38h1v1h-1zM43 38h1v1h-1zM59 38h1v1h-1zM26 39h1v1h-1zM34 39h1v1h-1zM60 39h1v1h-1zM18 40h1v1h-1zM22 40h2v1h-2zM33 40h1v1h-1zM37 40h1v1h-1zM41 40h1v1h-1zM2 41h2v1h-2zM9 41h2v1h-2zM20 41h1v1h-1zM29 41h1v1h-1zM32 41h1v1h-1zM2 42h1v1h-1zM11 42h1v1h-1zM18 42h1v1h-1zM28 42h1v1h-1zM32 42h1v1h-1zM36 42h1v1h-1zM18 43h1v1h-1zM32 43h1v1h-1zM12 44h1v1h-1zM15 44h1v1h-1zM28 44h1v1h-1zM35 44h1v1h-1zM43 44h1v1h-1zM17 45h1v1h-1zM26 45h1v1h-1zM40 45h2v1h-2zM46 45h1v1h-1zM52 45h1v1h-1zM1 46h1v1h-1zM17 46h1v1h-1zM21 46h1v1h-1zM44 46h1v1h-1zM46 46h1v1h-1z"/>
<path fill="#f8efdd" d="M22 30h1v1h-1zM23 31h1v1h-1zM28 31h1v1h-1zM15 32h1v1h-1zM26 32h1v1h-1zM28 32h1v1h-1zM34 32h1v1h-1zM41 32h1v1h-1zM51 32h1v1h-1zM20 33h1v1h-1zM28 33h1v1h-1zM34 33h1v1h-1zM10 34h1v1h-1zM34 34h1v1h-1zM41 34h1v1h-1zM15 35h1v1h-1zM25 35h2v1h-2zM28 35h1v1h-1zM31 35h1v1h-1zM46 35h1v1h-1zM13 36h1v1h-1zM28 36h2v1h-2zM33 36h1v1h-1zM36 36h1v1h-1zM2 38h1v1h-1zM31 38h1v1h-1zM2 39h1v1h-1zM20 39h1v1h-1zM27 39h1v1h-1zM38 39h1v1h-1zM18 41h1v1h-1zM27 41h1v1h-1zM54 41h1v1h-1zM20 42h1v1h-1zM55 43h1v1h-1zM1 44h1v1h-1zM14 44h1v1h-1zM42 44h1v1h-1zM8 45h1v1h-1zM44 45h1v1h-1zM6 46h1v1h-1zM41 46h1v1h-1z"/>
<path fill="#f8eedc" d="M26 30h1v1h-1zM40 30h1v1h-1zM16 31h2v1h-2zM24 31h1v1h-1zM53 31h1v1h-1zM54 32h1v1h-1zM22 33h1v1h-1zM25 33h1v1h-1zM36 33h1v1h-1zM4 34h1v1h-1zM21 34h1v1h-1zM25 34h1v1h-1zM27 34h1v1h-1zM36 34h1v1h-1zM59 34h1v1h-1zM13 35h1v1h-1zM20 35h1v1h-1zM27 35h1v1h-1zM22 36h1v1h-1zM26 36h1v1h-1zM32 36h1v1h-1zM37 36h1v1h-1zM40 36h1v1h-1zM48 36h1v1h-1zM51 36h1v1h-1zM3 37h1v1h-1zM19 37h1v1h-1zM23 37h1v1h-1zM29 37h1v1h-1zM31 37h1v1h-1zM47 37h1v1h-1zM59 37h1v1h-1zM25 38h2v1h-2zM29 38h1v1h-1zM38 38h1v1h-1zM22 39h1v1h-1zM43 39h1v1h-1zM27 40h1v1h-1zM7 41h1v1h-1zM24 41h1v1h-1zM10 42h1v1h-1zM13 42h1v1h-1zM11 43h1v1h-1zM22 43h1v1h-1zM28 43h1v1h-1zM43 43h1v1h-1zM55 44h1v1h-1zM13 45h1v1h-1zM39 45h1v1h-1zM8 46h1v1h-1zM20 46h1v1h-1z"/>
<path fill="#f9ecda" d="M32 30h1v1h-1zM41 30h1v1h-1zM11 31h2v1h-2zM19 31h1v1h-1zM21 31h1v1h-1zM43 31h1v1h-1zM49 31h1v1h-1zM55 31h1v1h-1zM60 31h1v1h-1zM4 32h1v1h-1zM11 32h1v1h-1zM13 32h1v1h-1zM25 32h1v1h-1zM36 32h1v1h-1zM42 32h1v1h-1zM49 32h1v1h-1zM8 33h1v1h-1zM12 33h1v1h-1zM14 33h1v1h-1zM21 33h1v1h-1zM27 33h1v1h-1zM42 33h1v1h-1zM44 33h2v1h-2zM51 33h1v1h-1zM59 33h1v1h-1zM3 34h1v1h-1zM13 34h3v1h-3zM33 34h1v1h-1zM35 34h1v1h-1zM38 34h1v1h-1zM47 34h1v1h-1zM52 34h1v1h-1zM55 34h1v1h-1zM7 35h1v1h-1zM16 35h1v1h-1zM19 35h1v1h-1zM23 35h1v1h-1zM34 35h1v1h-1zM7 36h1v1h-1zM20 36h1v1h-1zM24 36h1v1h-1zM27 36h1v1h-1zM38 36h1v1h-1zM43 36h1v1h-1zM46 36h1v1h-1zM13 37h2v1h-2zM26 37h1v1h-1zM28 37h1v1h-1zM34 37h1v1h-1zM37 37h1v1h-1zM42 37h2v1h-2zM50 37h3v1h-3zM55 37h1v1h-1zM57 37h1v1h-1zM13 38h2v1h-2zM19 38h2v1h-2zM22 38h2v1h-2zM28 38h1v1h-1zM37 38h1v1h-1zM46 38h1v1h-1zM50 38h1v1h-1zM1 39h1v1h-1zM6 39h1v1h-1zM10 39h1v1h-1zM19 39h1v1h-1zM32 39h1v1h-1zM37 39h1v1h-1zM46 39h1v1h-1zM55 39h2v1h-2zM7 40h2v1h-2zM20 40h1v1h-1zM31 40h2v1h-2zM34 40h2v1h-2zM39 40h2v1h-2zM14 41h1v1h-1zM33 41h1v1h-1zM35 41h1v1h-1zM42 41h1v1h-1zM47 41h1v1h-1zM50 41h1v1h-1zM52 41h1v1h-1zM0 42h1v1h-1zM5 42h1v1h-1zM14 42h2v1h-2zM35 42h1v1h-1zM44 42h2v1h-2zM10 43h1v1h-1zM13 43h2v1h-2zM26 43h1v1h-1zM35 43h2v1h-2zM44 43h1v1h-1zM53 43h1v1h-1zM57 43h1v1h-1zM9 44h1v1h-1zM17 44h2v1h-2zM22 44h1v1h-1zM24 44h1v1h-1zM45 44h1v1h-1zM49 44h1v1h-1zM57 44h1v1h-1zM60 44h1v1h-1zM1 45h1v1h-1zM6 45h1v1h-1zM20 45h1v1h-1zM32 45h1v1h-1zM7 46h1v1h-1zM13 46h1v1h-1zM27 46h2v1h-2zM35 46h1v1h-1zM59 46h1v1h-1z"/>
<path fill="#f7f1df" d="M33 31h1v1h-1zM12 32h1v1h-1zM23 32h2v1h-2zM31 32h1v1h-1zM33 32h1v1h-1zM17 33h1v1h-1zM24 33h1v1h-1zM30 33h2v1h-2zM41 33h1v1h-1zM18 34h1v1h-1zM24 34h1v1h-1zM26 34h1v1h-1zM28 34h1v1h-1zM21 35h1v1h-1zM29 35h1v1h-1zM33 35h1v1h-1zM15 36h1v1h-1zM35 36h1v1h-1zM35 37h1v1h-1zM31 39h1v1h-1zM9 43h1v1h-1zM17 43h1v1h-1zM13 44h1v1h-1zM26 44h1v1h-1z"/>
<path fill="#f7f2e0" d="M17 32h1v1h-1zM37 32h1v1h-1zM19 33h1v1h-1zM23 33h1v1h-1zM37 33h1v1h-1zM19 34h1v1h-1zM24 35h1v1h-1zM25 36h1v1h-1zM31 36h1v1h-1zM52 40h1v1h-1zM24 42h1v1h-1zM27 42h1v1h-1zM24 43h1v1h-1z"/>
<path fill="#f6f6e4" d="M29 32h1v1h-1zM29 33h1v1h-1zM30 34h1v1h-1zM32 35h1v1h-1z"/>
<path fill="#f7f3e1" d="M18 33h1v1h-1zM35 33h1v1h-1zM29 34h1v1h-1zM37 35h1v1h-1zM30 36h1v1h-1zM30 37h1v1h-1z"/>
<path fill="#f6f5e3" d="M20 34h1v1h-1zM30 35h1v1h-1z"/>
<path fill="#f4f5e6" d="M32 34h1v1h-1z"/>
</g></g>
</g>
<g shape-rendering="geometricPrecision">
<text x="77.60" y="426.55" class="tk" text-anchor="end">85</text>
<text x="77.60" y="363.85" class="tk" text-anchor="end">90</text>
<text x="77.60" y="301.15" class="tk" text-anchor="end">95</text>
<text x="77.60" y="238.45" class="tk" text-anchor="end">100</text>
<text x="77.60" y="175.75" class="tk" text-anchor="end">105</text>
<text x="77.60" y="113.05" class="tk" text-anchor="end">110</text>
<text x="77.60" y="50.35" class="tk" text-anchor="end">115</text>
<text x="156.33" y="463.90" class="tk" text-anchor="middle">-2</text>
<text x="288.60" y="463.90" class="tk" text-anchor="middle">0</text>
<text x="420.87" y="463.90" class="tk" text-anchor="middle">2</text>
<path d="M90.20 417.55h5.0M487.00 417.55h-5.0M90.20 354.85h5.0M487.00 354.85h-5.0M90.20 292.15h5.0M487.00 292.15h-5.0M90.20 229.45h5.0M487.00 229.45h-5.0M90.20 166.75h5.0M487.00 166.75h-5.0M90.20 104.05h5.0M487.00 104.05h-5.0M90.20 41.35h5.0M487.00 41.35h-5.0M156.33 427.50v-5.0M156.33 31.30v5.0M288.60 427.50v-5.0M288.60 31.30v5.0M420.87 427.50v-5.0M420.87 31.30v5.0" stroke="#000" stroke-width="2" fill="none"/>
<rect x="90.20" y="31.30" width="396.80" height="396.20" fill="none" stroke="#000" stroke-width="2.1"/>
<text x="288.60" y="500.80" class="lb" text-anchor="middle">XUV-NIR-delay [fs]</text>
<text transform="translate(20.10 229.40) rotate(-90)" class="lb" text-anchor="middle">Kinetic energy [eV]</text>
<text x="288.60" y="20.00" class="tt" text-anchor="middle">Experimental Data, Valence</text>
<text x="599.50" y="426.55" class="tk" text-anchor="end">85</text>
<text x="599.50" y="363.85" class="tk" text-anchor="end">90</text>
<text x="599.50" y="301.15" class="tk" text-anchor="end">95</text>
<text x="599.50" y="238.45" class="tk" text-anchor="end">100</text>
<text x="599.50" y="175.75" class="tk" text-anchor="end">105</text>
<text x="599.50" y="113.05" class="tk" text-anchor="end">110</text>
<text x="599.50" y="50.35" class="tk" text-anchor="end">115</text>
<text x="678.23" y="463.90" class="tk" text-anchor="middle">-2</text>
<text x="810.50" y="463.90" class="tk" text-anchor="middle">0</text>
<text x="942.77" y="463.90" class="tk" text-anchor="middle">2</text>
<path d="M612.10 417.55h5.0M1008.90 417.55h-5.0M612.10 354.85h5.0M1008.90 354.85h-5.0M612.10 292.15h5.0M1008.90 292.15h-5.0M612.10 229.45h5.0M1008.90 229.45h-5.0M612.10 166.75h5.0M1008.90 166.75h-5.0M612.10 104.05h5.0M1008.90 104.05h-5.0M612.10 41.35h5.0M1008.90 41.35h-5.0M678.23 427.50v-5.0M678.23 31.30v5.0M810.50 427.50v-5.0M810.50 31.30v5.0M942.77 427.50v-5.0M942.77 31.30v5.0" stroke="#000" stroke-width="2" fill="none"/>
<rect x="612.10" y="31.30" width="396.80" height="396.20" fill="none" stroke="#000" stroke-width="2.1"/>
<text x="810.50" y="500.80" class="lb" text-anchor="middle">XUV-NIR-delay [fs]</text>
<text transform="translate(542.00 229.40) rotate(-90)" class="lb" text-anchor="middle">Kinetic energy [eV]</text>
<text x="810.50" y="20.00" class="tt" text-anchor="middle">Reconstruction, Valence</text>
<text x="1121.40" y="426.55" class="tk" text-anchor="end">85</text>
<text x="1121.40" y="363.85" class="tk" text-anchor="end">90</text>
<text x="1121.40" y="301.15" class="tk" text-anchor="end">95</text>
<text x="1121.40" y="238.45" class="tk" text-anchor="end">100</text>
<text x="1121.40" y="175.75" class="tk" text-anchor="end">105</text>
<text x="1121.40" y="113.05" class="tk" text-anchor="end">110</text>
<text x="1121.40" y="50.35" class="tk" text-anchor="end">115</text>
<text x="1200.07" y="463.90" class="tk" text-anchor="middle">-2</text>
<text x="1332.20" y="463.90" class="tk" text-anchor="middle">0</text>
<text x="1464.33" y="463.90" class="tk" text-anchor="middle">2</text>
<path d="M1134.00 417.55h5.0M1530.40 417.55h-5.0M1134.00 354.85h5.0M1530.40 354.85h-5.0M1134.00 292.15h5.0M1530.40 292.15h-5.0M1134.00 229.45h5.0M1530.40 229.45h-5.0M1134.00 166.75h5.0M1530.40 166.75h-5.0M1134.00 104.05h5.0M1530.40 104.05h-5.0M1134.00 41.35h5.0M1530.40 41.35h-5.0M1200.07 427.50v-5.0M1200.07 31.30v5.0M1332.20 427.50v-5.0M1332.20 31.30v5.0M1464.33 427.50v-5.0M1464.33 31.30v5.0" stroke="#000" stroke-width="2" fill="none"/>
<rect x="1134.00" y="31.30" width="396.40" height="396.20" fill="none" stroke="#000" stroke-width="2.1"/>
<text x="1332.20" y="500.80" class="lb" text-anchor="middle">XUV-NIR-delay [fs]</text>
<text transform="translate(1063.90 229.40) rotate(-90)" class="lb" text-anchor="middle">Kinetic energy [eV]</text>
<text x="1332.20" y="20.00" class="tt" text-anchor="middle">Data - Reconstruction</text>
<text x="77.60" y="1001.20" class="tk" text-anchor="end">60</text>
<text x="77.60" y="926.66" class="tk" text-anchor="end">65</text>
<text x="77.60" y="852.12" class="tk" text-anchor="end">70</text>
<text x="77.60" y="777.58" class="tk" text-anchor="end">75</text>
<text x="77.60" y="703.04" class="tk" text-anchor="end">80</text>
<text x="77.60" y="628.50" class="tk" text-anchor="end">85</text>
<text x="156.33" y="1042.10" class="tk" text-anchor="middle">-2</text>
<text x="288.60" y="1042.10" class="tk" text-anchor="middle">0</text>
<text x="420.87" y="1042.10" class="tk" text-anchor="middle">2</text>
<path d="M90.20 992.20h5.0M487.00 992.20h-5.0M90.20 917.66h5.0M487.00 917.66h-5.0M90.20 843.12h5.0M487.00 843.12h-5.0M90.20 768.58h5.0M487.00 768.58h-5.0M90.20 694.04h5.0M487.00 694.04h-5.0M90.20 619.50h5.0M487.00 619.50h-5.0M156.33 1005.70v-5.0M156.33 609.20v5.0M288.60 1005.70v-5.0M288.60 609.20v5.0M420.87 1005.70v-5.0M420.87 609.20v5.0" stroke="#000" stroke-width="2" fill="none"/>
<rect x="90.20" y="609.20" width="396.80" height="396.50" fill="none" stroke="#000" stroke-width="2.1"/>
<text x="288.60" y="1079.00" class="lb" text-anchor="middle">XUV-NIR-delay [fs]</text>
<text transform="translate(20.10 807.45) rotate(-90)" class="lb" text-anchor="middle">Kinetic energy [eV]</text>
<text x="288.60" y="597.90" class="tt" text-anchor="middle">Experimental Data, W4f</text>
<text x="599.50" y="1001.20" class="tk" text-anchor="end">60</text>
<text x="599.50" y="926.66" class="tk" text-anchor="end">65</text>
<text x="599.50" y="852.12" class="tk" text-anchor="end">70</text>
<text x="599.50" y="777.58" class="tk" text-anchor="end">75</text>
<text x="599.50" y="703.04" class="tk" text-anchor="end">80</text>
<text x="599.50" y="628.50" class="tk" text-anchor="end">85</text>
<text x="678.23" y="1042.10" class="tk" text-anchor="middle">-2</text>
<text x="810.50" y="1042.10" class="tk" text-anchor="middle">0</text>
<text x="942.77" y="1042.10" class="tk" text-anchor="middle">2</text>
<path d="M612.10 992.20h5.0M1008.90 992.20h-5.0M612.10 917.66h5.0M1008.90 917.66h-5.0M612.10 843.12h5.0M1008.90 843.12h-5.0M612.10 768.58h5.0M1008.90 768.58h-5.0M612.10 694.04h5.0M1008.90 694.04h-5.0M612.10 619.50h5.0M1008.90 619.50h-5.0M678.23 1005.70v-5.0M678.23 609.20v5.0M810.50 1005.70v-5.0M810.50 609.20v5.0M942.77 1005.70v-5.0M942.77 609.20v5.0" stroke="#000" stroke-width="2" fill="none"/>
<rect x="612.10" y="609.20" width="396.80" height="396.50" fill="none" stroke="#000" stroke-width="2.1"/>
<text x="810.50" y="1079.00" class="lb" text-anchor="middle">XUV-NIR-delay [fs]</text>
<text transform="translate(542.00 807.45) rotate(-90)" class="lb" text-anchor="middle">Kinetic energy [eV]</text>
<text x="810.50" y="597.90" class="tt" text-anchor="middle">Reconstruction, W4f</text>
<text x="1121.40" y="1001.20" class="tk" text-anchor="end">60</text>
<text x="1121.40" y="926.66" class="tk" text-anchor="end">65</text>
<text x="1121.40" y="852.12" class="tk" text-anchor="end">70</text>
<text x="1121.40" y="777.58" class="tk" text-anchor="end">75</text>
<text x="1121.40" y="703.04" class="tk" text-anchor="end">80</text>
<text x="1121.40" y="628.50" class="tk" text-anchor="end">85</text>
<text x="1200.07" y="1042.10" class="tk" text-anchor="middle">-2</text>
<text x="1332.20" y="1042.10" class="tk" text-anchor="middle">0</text>
<text x="1464.33" y="1042.10" class="tk" text-anchor="middle">2</text>
<path d="M1134.00 992.20h5.0M1530.40 992.20h-5.0M1134.00 917.66h5.0M1530.40 917.66h-5.0M1134.00 843.12h5.0M1530.40 843.12h-5.0M1134.00 768.58h5.0M1530.40 768.58h-5.0M1134.00 694.04h5.0M1530.40 694.04h-5.0M1134.00 619.50h5.0M1530.40 619.50h-5.0M1200.07 1005.70v-5.0M1200.07 609.20v5.0M1332.20 1005.70v-5.0M1332.20 609.20v5.0M1464.33 1005.70v-5.0M1464.33 609.20v5.0" stroke="#000" stroke-width="2" fill="none"/>
<rect x="1134.00" y="609.20" width="396.40" height="396.50" fill="none" stroke="#000" stroke-width="2.1"/>
<text x="1332.20" y="1079.00" class="lb" text-anchor="middle">XUV-NIR-delay [fs]</text>
<text transform="translate(1063.90 807.45) rotate(-90)" class="lb" text-anchor="middle">Kinetic energy [eV]</text>
<text x="1332.20" y="597.90" class="tt" text-anchor="middle">Data - Reconstruction</text>
<text x="77.60" y="1575.40" class="tk" text-anchor="end">40</text>
<text x="77.60" y="1483.42" class="tk" text-anchor="end">45</text>
<text x="77.60" y="1391.45" class="tk" text-anchor="end">50</text>
<text x="77.60" y="1299.47" class="tk" text-anchor="end">55</text>
<text x="77.60" y="1207.50" class="tk" text-anchor="end">60</text>
<text x="156.33" y="1620.00" class="tk" text-anchor="middle">-2</text>
<text x="288.60" y="1620.00" class="tk" text-anchor="middle">0</text>
<text x="420.87" y="1620.00" class="tk" text-anchor="middle">2</text>
<path d="M90.20 1566.40h5.0M487.00 1566.40h-5.0M90.20 1474.42h5.0M487.00 1474.42h-5.0M90.20 1382.45h5.0M487.00 1382.45h-5.0M90.20 1290.47h5.0M487.00 1290.47h-5.0M90.20 1198.50h5.0M487.00 1198.50h-5.0M156.33 1583.60v-5.0M156.33 1187.00v5.0M288.60 1583.60v-5.0M288.60 1187.00v5.0M420.87 1583.60v-5.0M420.87 1187.00v5.0" stroke="#000" stroke-width="2" fill="none"/>
<rect x="90.20" y="1187.00" width="396.80" height="396.60" fill="none" stroke="#000" stroke-width="2.1"/>
<text x="288.60" y="1656.90" class="lb" text-anchor="middle">XUV-NIR-delay [fs]</text>
<text transform="translate(20.10 1385.30) rotate(-90)" class="lb" text-anchor="middle">Kinetic energy [eV]</text>
<text x="288.60" y="1175.70" class="tt" text-anchor="middle">Experimental Data, I4d</text>
<text x="599.50" y="1575.40" class="tk" text-anchor="end">40</text>
<text x="599.50" y="1483.42" class="tk" text-anchor="end">45</text>
<text x="599.50" y="1391.45" class="tk" text-anchor="end">50</text>
<text x="599.50" y="1299.47" class="tk" text-anchor="end">55</text>
<text x="599.50" y="1207.50" class="tk" text-anchor="end">60</text>
<text x="678.23" y="1620.00" class="tk" text-anchor="middle">-2</text>
<text x="810.50" y="1620.00" class="tk" text-anchor="middle">0</text>
<text x="942.77" y="1620.00" class="tk" text-anchor="middle">2</text>
<path d="M612.10 1566.40h5.0M1008.90 1566.40h-5.0M612.10 1474.42h5.0M1008.90 1474.42h-5.0M612.10 1382.45h5.0M1008.90 1382.45h-5.0M612.10 1290.47h5.0M1008.90 1290.47h-5.0M612.10 1198.50h5.0M1008.90 1198.50h-5.0M678.23 1583.60v-5.0M678.23 1187.00v5.0M810.50 1583.60v-5.0M810.50 1187.00v5.0M942.77 1583.60v-5.0M942.77 1187.00v5.0" stroke="#000" stroke-width="2" fill="none"/>
<rect x="612.10" y="1187.00" width="396.80" height="396.60" fill="none" stroke="#000" stroke-width="2.1"/>
<text x="810.50" y="1656.90" class="lb" text-anchor="middle">XUV-NIR-delay [fs]</text>
<text transform="translate(542.00 1385.30) rotate(-90)" class="lb" text-anchor="middle">Kinetic energy [eV]</text>
<text x="810.50" y="1175.70" class="tt" text-anchor="middle">Reconstruction, I4d</text>
<text x="1121.40" y="1575.40" class="tk" text-anchor="end">40</text>
<text x="1121.40" y="1483.42" class="tk" text-anchor="end">45</text>
<text x="1121.40" y="1391.45" class="tk" text-anchor="end">50</text>
<text x="1121.40" y="1299.47" class="tk" text-anchor="end">55</text>
<text x="1121.40" y="1207.50" class="tk" text-anchor="end">60</text>
<text x="1200.07" y="1620.00" class="tk" text-anchor="middle">-2</text>
<text x="1332.20" y="1620.00" class="tk" text-anchor="middle">0</text>
<text x="1464.33" y="1620.00" class="tk" text-anchor="middle">2</text>
<path d="M1134.00 1566.40h5.0M1530.40 1566.40h-5.0M1134.00 1474.42h5.0M1530.40 1474.42h-5.0M1134.00 1382.45h5.0M1530.40 1382.45h-5.0M1134.00 1290.47h5.0M1530.40 1290.47h-5.0M1134.00 1198.50h5.0M1530.40 1198.50h-5.0M1200.07 1583.60v-5.0M1200.07 1187.00v5.0M1332.20 1583.60v-5.0M1332.20 1187.00v5.0M1464.33 1583.60v-5.0M1464.33 1187.00v5.0" stroke="#000" stroke-width="2" fill="none"/>
<rect x="1134.00" y="1187.00" width="396.40" height="396.60" fill="none" stroke="#000" stroke-width="2.1"/>
<text x="1332.20" y="1656.90" class="lb" text-anchor="middle">XUV-NIR-delay [fs]</text>
<text transform="translate(1063.90 1385.30) rotate(-90)" class="lb" text-anchor="middle">Kinetic energy [eV]</text>
<text x="1332.20" y="1175.70" class="tt" text-anchor="middle">Data - Reconstruction</text>
<linearGradient id="gi" x1="0" x2="1" y1="0" y2="0"><stop offset="0.000" stop-color="#ffffff"/><stop offset="0.005" stop-color="#ffffff"/><stop offset="0.014" stop-color="#f4f4fa"/><stop offset="0.034" stop-color="#e6e6f4"/><stop offset="0.054" stop-color="#dcdcf0"/><stop offset="0.073" stop-color="#cccce8"/><stop offset="0.093" stop-color="#b8b4dc"/><stop offset="0.112" stop-color="#a4a0d0"/><stop offset="0.132" stop-color="#8e8cc8"/><stop offset="0.150" stop-color="#8488c4"/><stop offset="0.174" stop-color="#7478b8"/><stop offset="0.204" stop-color="#6874b8"/><stop offset="0.238" stop-color="#5070b8"/><stop offset="0.263" stop-color="#4a78a4"/><stop offset="0.292" stop-color="#407a7c"/><stop offset="0.305" stop-color="#3c7c74"/><stop offset="0.325" stop-color="#44886c"/><stop offset="0.344" stop-color="#4c9658"/><stop offset="0.364" stop-color="#4ea448"/><stop offset="0.384" stop-color="#58b03a"/><stop offset="0.403" stop-color="#64b436"/><stop offset="0.423" stop-color="#70b832"/><stop offset="0.442" stop-color="#80bc30"/><stop offset="0.455" stop-color="#88c030"/><stop offset="0.485" stop-color="#a0c42c"/><stop offset="0.514" stop-color="#b4cc24"/><stop offset="0.544" stop-color="#c4d420"/><stop offset="0.573" stop-color="#d4d81c"/><stop offset="0.593" stop-color="#dcdc1a"/><stop offset="0.606" stop-color="#e4e018"/><stop offset="0.625" stop-color="#eae414"/><stop offset="0.645" stop-color="#f6e824"/><stop offset="0.664" stop-color="#fcdc14"/><stop offset="0.684" stop-color="#fcc614"/><stop offset="0.704" stop-color="#f8b41c"/><stop offset="0.723" stop-color="#f4a01c"/><stop offset="0.743" stop-color="#f08c18"/><stop offset="0.756" stop-color="#f08218"/><stop offset="0.785" stop-color="#ea6a1e"/><stop offset="0.815" stop-color="#e64c20"/><stop offset="0.844" stop-color="#e42e22"/><stop offset="0.874" stop-color="#e41e22"/><stop offset="0.893" stop-color="#e41418"/><stop offset="0.904" stop-color="#e00c14"/><stop offset="0.939" stop-color="#c41818"/><stop offset="0.968" stop-color="#a81a18"/><stop offset="1.000" stop-color="#8a1a14"/></linearGradient>
<rect x="88.9" y="1705.2" width="599.30" height="36.40" fill="url(#gi)" stroke="#000" stroke-width="2"/>
<text x="88.90" y="1771" class="tk" text-anchor="middle">0</text>
<text x="686.20" y="1771" class="tk" text-anchor="middle">1</text>
<text x="388.55" y="1806.5" class="lb" text-anchor="middle">Intensity</text>
<linearGradient id="gd" x1="0" x2="1" y1="0" y2="0"><stop offset="0.000" stop-color="#78b4dc"/><stop offset="0.064" stop-color="#7ccaea"/><stop offset="0.164" stop-color="#98d4ee"/><stop offset="0.242" stop-color="#b4dfee"/><stop offset="0.320" stop-color="#cce6f0"/><stop offset="0.398" stop-color="#e6f2f4"/><stop offset="0.478" stop-color="#f2f4e8"/><stop offset="0.500" stop-color="#f6f6e4"/><stop offset="0.560" stop-color="#f8eedc"/><stop offset="0.624" stop-color="#fbe8d4"/><stop offset="0.684" stop-color="#f8dcc8"/><stop offset="0.730" stop-color="#fad0c4"/><stop offset="0.802" stop-color="#f4c0bc"/><stop offset="0.880" stop-color="#eca8ac"/><stop offset="0.938" stop-color="#e49ca8"/><stop offset="1.000" stop-color="#d8949c"/></linearGradient>
<rect x="898.3" y="1705.2" width="598.90" height="36.40" fill="#fff"/>
<rect x="1122.89" y="1705.2" width="149.72" height="36.40" fill="url(#gd)"/>
<path d="M973.16 1741.60v-9.5M1048.03 1741.60v-9.5M1122.89 1741.60v-9.5M1197.75 1741.60v-9.5M1272.61 1741.60v-9.5M1347.47 1741.60v-9.5M1422.34 1741.60v-9.5" stroke="#000" stroke-width="2"/>
<rect x="898.3" y="1705.2" width="598.90" height="36.40" fill="none" stroke="#000" stroke-width="2"/>
<text x="891.30" y="1771" class="tk" text-anchor="middle">-1</text>
<text x="1122.89" y="1771" class="tk" text-anchor="middle">-0.25</text>
<text x="1272.61" y="1771" class="tk" text-anchor="middle">0.25</text>
<text x="1495.20" y="1771" class="tk" text-anchor="middle">1</text>
<text x="1197.75" y="1806.5" class="lb" text-anchor="middle">Difference</text>
</g>
</svg>
</body></html>
